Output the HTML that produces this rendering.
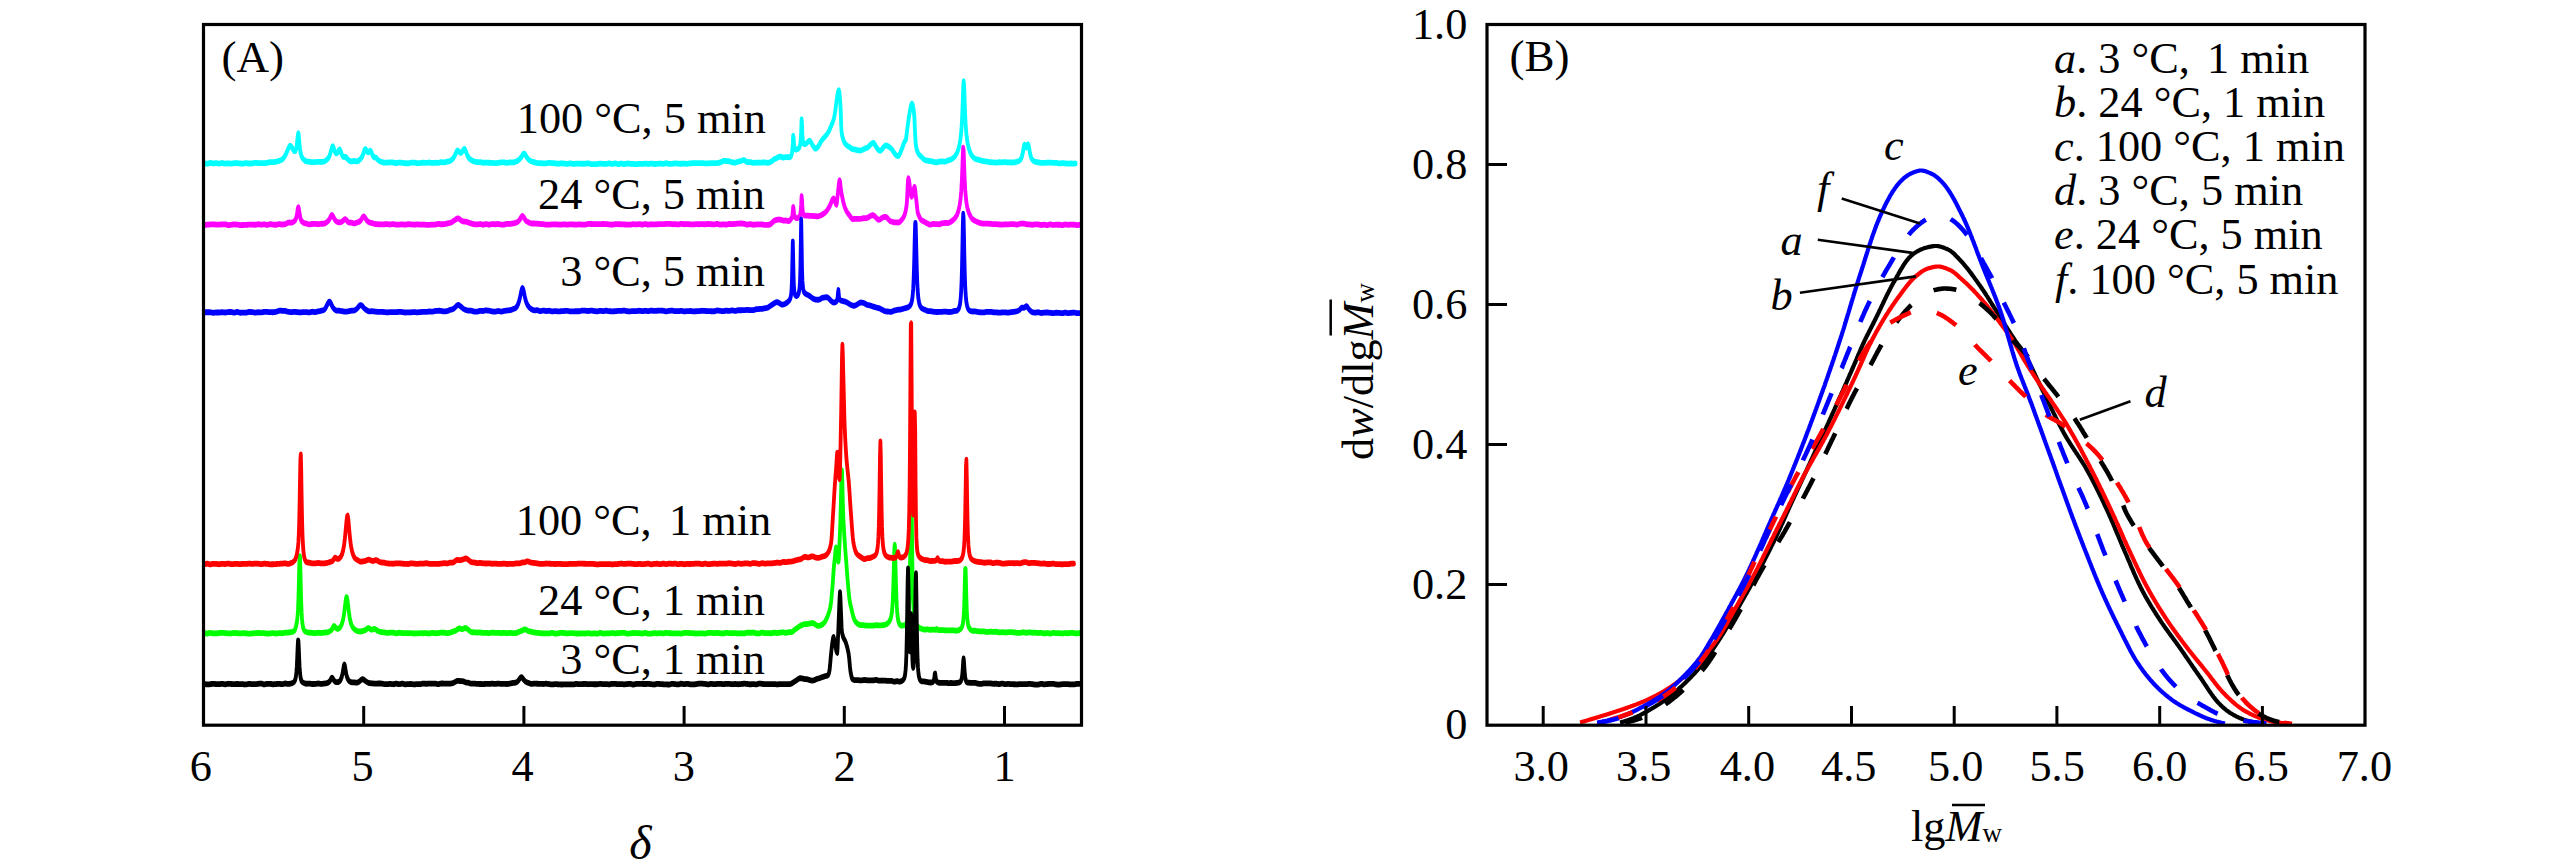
<!DOCTYPE html>
<html lang="en"><head><meta charset="utf-8"><title>Figure</title>
<style>html,body{margin:0;padding:0;background:#fff;}body{width:2567px;height:866px;overflow:hidden;}svg{display:block;}</style></head>
<body>
<svg width="2567" height="866" viewBox="0 0 2567 866" font-family='"Liberation Serif", "Times New Roman", serif' fill="#000">
<rect width="2567" height="866" fill="#fff"/>
<g id="panelA">
<g transform="scale(1,1.5263)">
<polyline points="205.2,107.08 205.6,107.13 206.0,107.18 206.4,107.22 206.8,107.25 207.2,107.26 207.6,107.24 208.0,107.18 208.4,107.09 208.8,106.99 209.2,106.90 209.6,106.82 210.0,106.78 210.4,106.77 210.8,106.80 211.2,106.84 211.6,106.90 212.0,106.95 212.4,107.00 212.8,107.04 213.2,107.05 213.6,107.05 214.0,107.03 214.4,107.01 214.8,106.98 215.2,106.96 215.6,106.94 216.0,106.93 216.4,106.93 216.8,106.95 217.2,106.98 217.6,107.03 218.0,107.07 218.4,107.11 218.8,107.14 219.2,107.15 219.6,107.14 220.0,107.09 220.4,107.03 220.8,106.96 221.2,106.89 221.6,106.84 222.0,106.81 222.4,106.81 222.8,106.84 223.2,106.90 223.6,106.97 224.0,107.05 224.4,107.11 224.8,107.16 225.2,107.18 225.6,107.17 226.0,107.15 226.4,107.11 226.8,107.08 227.2,107.04 227.6,107.01 228.0,107.00 228.4,107.00 228.8,107.01 229.2,107.04 229.6,107.08 230.0,107.12 230.4,107.15 230.8,107.17 231.2,107.18 231.6,107.17 232.0,107.14 232.4,107.10 232.8,107.06 233.2,107.01 233.6,106.97 234.0,106.95 234.4,106.94 234.8,106.93 235.2,106.92 235.6,106.92 236.0,106.91 236.4,106.91 236.8,106.91 237.2,106.90 237.6,106.91 238.0,106.93 238.4,106.96 238.8,106.99 239.2,107.02 239.6,107.05 240.0,107.08 240.4,107.10 240.8,107.12 241.2,107.13 241.6,107.15 242.0,107.16 242.4,107.18 242.8,107.18 243.2,107.18 243.6,107.16 244.0,107.12 244.4,107.06 244.8,106.99 245.2,106.92 245.6,106.87 246.0,106.83 246.4,106.83 246.8,106.86 247.2,106.91 247.6,106.97 248.0,107.03 248.4,107.09 248.8,107.12 249.2,107.14 249.6,107.13 250.0,107.13 250.4,107.13 250.8,107.12 251.2,107.11 251.6,107.10 252.0,107.10 252.4,107.08 252.8,107.04 253.2,106.97 253.6,106.89 254.0,106.80 254.4,106.73 254.8,106.67 255.2,106.65 255.6,106.65 256.0,106.67 256.4,106.71 256.8,106.75 257.2,106.78 257.6,106.82 258.0,106.84 258.4,106.85 258.8,106.85 259.2,106.85 259.6,106.85 260.0,106.85 260.4,106.85 260.8,106.85 261.2,106.85 261.6,106.85 262.0,106.86 262.4,106.88 262.8,106.89 263.2,106.91 263.6,106.91 264.0,106.91 264.4,106.90 264.8,106.88 265.2,106.86 265.6,106.82 266.0,106.79 266.4,106.75 266.8,106.71 267.2,106.66 267.6,106.61 268.0,106.55 268.4,106.48 268.8,106.41 269.2,106.35 269.6,106.29 270.0,106.25 270.4,106.23 270.8,106.22 271.2,106.23 271.6,106.24 272.0,106.25 272.4,106.26 272.8,106.26 273.2,106.23 273.6,106.20 274.0,106.16 274.4,106.12 274.8,106.08 275.2,106.03 275.6,105.98 276.0,105.93 276.4,105.87 276.8,105.81 277.2,105.75 277.6,105.68 278.0,105.60 278.4,105.52 278.8,105.43 279.2,105.34 279.6,105.24 280.0,105.16 280.4,105.08 280.8,104.99 281.2,104.88 281.6,104.75 282.0,104.59 282.4,104.38 282.8,104.12 283.2,103.83 283.6,103.49 284.0,103.11 284.4,102.71 284.8,102.28 285.2,101.83 285.6,101.35 286.0,100.83 286.4,100.27 286.8,99.66 287.2,99.03 287.6,98.38 288.0,97.73 288.4,97.10 288.8,96.54 289.2,96.08 289.6,95.75 290.0,95.56 290.4,95.53 290.8,95.66 291.2,95.92 291.6,96.29 292.0,96.73 292.4,97.21 292.8,97.69 293.2,98.13 293.6,98.52 294.0,98.82 294.4,99.01 294.8,99.07 295.2,98.95 295.6,98.58 296.0,97.89 296.4,96.77 296.8,95.07 297.2,92.74 297.6,90.01 298.0,87.78 298.4,87.36 298.8,89.16 299.2,92.14 299.6,95.09 300.0,97.50 300.4,99.32 300.8,100.67 301.2,101.67 301.6,102.42 302.0,102.99 302.4,103.44 302.8,103.81 303.2,104.11 303.6,104.39 304.0,104.65 304.4,104.90 304.8,105.13 305.2,105.33 305.6,105.50 306.0,105.64 306.4,105.73 306.8,105.79 307.2,105.83 307.6,105.84 308.0,105.85 308.4,105.86 308.8,105.88 309.2,105.91 309.6,105.95 310.0,106.00 310.4,106.05 310.8,106.09 311.2,106.14 311.6,106.17 312.0,106.20 312.4,106.22 312.8,106.23 313.2,106.23 313.6,106.23 314.0,106.22 314.4,106.21 314.8,106.19 315.2,106.18 315.6,106.16 316.0,106.14 316.4,106.11 316.8,106.08 317.2,106.06 317.6,106.03 318.0,106.01 318.4,106.00 318.8,106.01 319.2,106.04 319.6,106.06 320.0,106.09 320.4,106.12 320.8,106.13 321.2,106.11 321.6,106.09 322.0,106.06 322.4,106.02 322.8,105.98 323.2,105.93 323.6,105.87 324.0,105.80 324.4,105.71 324.8,105.59 325.2,105.43 325.6,105.25 326.0,105.04 326.4,104.82 326.8,104.59 327.2,104.35 327.6,104.09 328.0,103.80 328.4,103.46 328.8,103.04 329.2,102.54 329.6,101.94 330.0,101.20 330.4,100.34 330.8,99.36 331.2,98.32 331.6,97.29 332.0,96.44 332.4,95.91 332.8,95.81 333.2,96.14 333.6,96.79 334.0,97.59 334.4,98.40 334.8,99.12 335.2,99.70 335.6,100.12 336.0,100.39 336.4,100.50 336.8,100.45 337.2,100.25 337.6,99.91 338.0,99.46 338.4,98.93 338.8,98.42 339.2,98.04 339.6,97.91 340.0,98.12 340.4,98.64 340.8,99.35 341.2,100.14 341.6,100.89 342.0,101.53 342.4,102.04 342.8,102.42 343.2,102.68 343.6,102.82 344.0,102.87 344.4,102.83 344.8,102.76 345.2,102.73 345.6,102.79 346.0,102.97 346.4,103.25 346.8,103.58 347.2,103.91 347.6,104.21 348.0,104.48 348.4,104.72 348.8,104.93 349.2,105.13 349.6,105.30 350.0,105.44 350.4,105.57 350.8,105.66 351.2,105.73 351.6,105.76 352.0,105.74 352.4,105.70 352.8,105.65 353.2,105.58 353.6,105.53 354.0,105.49 354.4,105.48 354.8,105.51 355.2,105.56 355.6,105.62 356.0,105.67 356.4,105.71 356.8,105.71 357.2,105.67 357.6,105.57 358.0,105.45 358.4,105.30 358.8,105.13 359.2,104.93 359.6,104.72 360.0,104.48 360.4,104.23 360.8,103.94 361.2,103.60 361.6,103.21 362.0,102.74 362.4,102.18 362.8,101.54 363.2,100.80 363.6,99.99 364.0,99.18 364.4,98.45 364.8,97.91 365.2,97.66 365.6,97.70 366.0,98.01 366.4,98.46 366.8,98.95 367.2,99.37 367.6,99.68 368.0,99.83 368.4,99.82 368.8,99.65 369.2,99.37 369.6,99.04 370.0,98.79 370.4,98.73 370.8,98.96 371.2,99.44 371.6,100.08 372.0,100.75 372.4,101.38 372.8,101.94 373.2,102.40 373.6,102.74 374.0,102.98 374.4,103.11 374.8,103.17 375.2,103.18 375.6,103.22 376.0,103.35 376.4,103.57 376.8,103.86 377.2,104.17 377.6,104.47 378.0,104.74 378.4,104.99 378.8,105.21 379.2,105.39 379.6,105.54 380.0,105.67 380.4,105.78 380.8,105.88 381.2,105.96 381.6,106.05 382.0,106.14 382.4,106.23 382.8,106.32 383.2,106.41 383.6,106.48 384.0,106.53 384.4,106.55 384.8,106.58 385.2,106.59 385.6,106.60 386.0,106.61 386.4,106.61 386.8,106.61 387.2,106.61 387.6,106.59 388.0,106.56 388.4,106.51 388.8,106.46 389.2,106.42 389.6,106.39 390.0,106.38 390.4,106.39 390.8,106.40 391.2,106.42 391.6,106.43 392.0,106.44 392.4,106.46 392.8,106.47 393.2,106.48 393.6,106.51 394.0,106.56 394.4,106.62 394.8,106.68 395.2,106.74 395.6,106.79 396.0,106.82 396.4,106.83 396.8,106.80 397.2,106.75 397.6,106.68 398.0,106.61 398.4,106.54 398.8,106.50 399.2,106.48 399.6,106.49 400.0,106.51 400.4,106.53 400.8,106.56 401.2,106.59 401.6,106.62 402.0,106.65 402.4,106.68 402.8,106.72 403.2,106.77 403.6,106.81 404.0,106.86 404.4,106.90 404.8,106.93 405.2,106.95 405.6,106.95 406.0,106.96 406.4,106.96 406.8,106.97 407.2,106.97 407.6,106.98 408.0,106.98 408.4,106.97 408.8,106.94 409.2,106.89 409.6,106.83 410.0,106.76 410.4,106.69 410.8,106.64 411.2,106.61 411.6,106.59 412.0,106.57 412.4,106.56 412.8,106.54 413.2,106.53 413.6,106.53 414.0,106.52 414.4,106.53 414.8,106.56 415.2,106.62 415.6,106.70 416.0,106.77 416.4,106.84 416.8,106.89 417.2,106.91 417.6,106.91 418.0,106.90 418.4,106.89 418.8,106.87 419.2,106.86 419.6,106.84 420.0,106.82 420.4,106.80 420.8,106.77 421.2,106.74 421.6,106.70 422.0,106.66 422.4,106.63 422.8,106.60 423.2,106.59 423.6,106.60 424.0,106.62 424.4,106.64 424.8,106.67 425.2,106.69 425.6,106.71 426.0,106.73 426.4,106.72 426.8,106.70 427.2,106.66 427.6,106.61 428.0,106.56 428.4,106.51 428.8,106.48 429.2,106.47 429.6,106.48 430.0,106.52 430.4,106.58 430.8,106.64 431.2,106.70 431.6,106.75 432.0,106.78 432.4,106.78 432.8,106.76 433.2,106.74 433.6,106.72 434.0,106.69 434.4,106.67 434.8,106.65 435.2,106.64 435.6,106.64 436.0,106.64 436.4,106.65 436.8,106.66 437.2,106.67 437.6,106.68 438.0,106.68 438.4,106.66 438.8,106.62 439.2,106.56 439.6,106.48 440.0,106.40 440.4,106.32 440.8,106.26 441.2,106.23 441.6,106.23 442.0,106.25 442.4,106.28 442.8,106.32 443.2,106.36 443.6,106.38 444.0,106.38 444.4,106.35 444.8,106.31 445.2,106.25 445.6,106.18 446.0,106.11 446.4,106.04 446.8,105.97 447.2,105.91 447.6,105.86 448.0,105.80 448.4,105.74 448.8,105.68 449.2,105.60 449.6,105.51 450.0,105.41 450.4,105.28 450.8,105.13 451.2,104.95 451.6,104.75 452.0,104.52 452.4,104.26 452.8,103.97 453.2,103.64 453.6,103.28 454.0,102.87 454.4,102.42 454.8,101.91 455.2,101.35 455.6,100.74 456.0,100.13 456.4,99.54 456.8,99.06 457.2,98.73 457.6,98.60 458.0,98.65 458.4,98.85 458.8,99.15 459.2,99.47 459.6,99.77 460.0,100.00 460.4,100.14 460.8,100.17 461.2,100.10 461.6,99.90 462.0,99.61 462.4,99.22 462.8,98.77 463.2,98.30 463.6,97.89 464.0,97.62 464.4,97.56 464.8,97.75 465.2,98.18 465.6,98.77 466.0,99.47 466.4,100.19 466.8,100.89 467.2,101.54 467.6,102.13 468.0,102.64 468.4,103.08 468.8,103.46 469.2,103.78 469.6,104.06 470.0,104.29 470.4,104.50 470.8,104.68 471.2,104.84 471.6,105.00 472.0,105.15 472.4,105.29 472.8,105.42 473.2,105.55 473.6,105.66 474.0,105.75 474.4,105.83 474.8,105.90 475.2,105.97 475.6,106.03 476.0,106.08 476.4,106.13 476.8,106.17 477.2,106.21 477.6,106.23 478.0,106.24 478.4,106.23 478.8,106.21 479.2,106.20 479.6,106.19 480.0,106.19 480.4,106.21 480.8,106.26 481.2,106.32 481.6,106.39 482.0,106.47 482.4,106.54 482.8,106.59 483.2,106.62 483.6,106.62 484.0,106.62 484.4,106.61 484.8,106.60 485.2,106.59 485.6,106.58 486.0,106.58 486.4,106.59 486.8,106.60 487.2,106.60 487.6,106.61 488.0,106.62 488.4,106.62 488.8,106.63 489.2,106.64 489.6,106.64 490.0,106.65 490.4,106.66 490.8,106.67 491.2,106.68 491.6,106.70 492.0,106.71 492.4,106.72 492.8,106.75 493.2,106.78 493.6,106.82 494.0,106.85 494.4,106.88 494.8,106.90 495.2,106.91 495.6,106.91 496.0,106.89 496.4,106.87 496.8,106.84 497.2,106.80 497.6,106.77 498.0,106.74 498.4,106.70 498.8,106.66 499.2,106.61 499.6,106.56 500.0,106.51 500.4,106.47 500.8,106.44 501.2,106.43 501.6,106.43 502.0,106.43 502.4,106.43 502.8,106.43 503.2,106.43 503.6,106.43 504.0,106.43 504.4,106.43 504.8,106.46 505.2,106.50 505.6,106.55 506.0,106.60 506.4,106.64 506.8,106.66 507.2,106.67 507.6,106.65 508.0,106.61 508.4,106.56 508.8,106.51 509.2,106.45 509.6,106.40 510.0,106.37 510.4,106.35 510.8,106.35 511.2,106.36 511.6,106.38 512.0,106.40 512.4,106.41 512.8,106.40 513.2,106.37 513.6,106.33 514.0,106.27 514.4,106.19 514.8,106.11 515.2,106.02 515.6,105.92 516.0,105.82 516.4,105.72 516.8,105.60 517.2,105.46 517.6,105.32 518.0,105.15 518.4,104.97 518.8,104.76 519.2,104.53 519.6,104.27 520.0,104.00 520.4,103.70 520.8,103.37 521.2,103.00 521.6,102.59 522.0,102.16 522.4,101.73 522.8,101.31 523.2,100.96 523.6,100.72 524.0,100.62 524.4,100.69 524.8,100.90 525.2,101.24 525.6,101.66 526.0,102.12 526.4,102.57 526.8,103.01 527.2,103.42 527.6,103.79 528.0,104.11 528.4,104.40 528.8,104.65 529.2,104.87 529.6,105.06 530.0,105.23 530.4,105.38 530.8,105.52 531.2,105.63 531.6,105.74 532.0,105.84 532.4,105.93 532.8,106.01 533.2,106.09 533.6,106.16 534.0,106.23 534.4,106.29 534.8,106.37 535.2,106.46 535.6,106.55 536.0,106.63 536.4,106.70 536.8,106.76 537.2,106.80 537.6,106.83 538.0,106.84 538.4,106.86 538.8,106.87 539.2,106.88 539.6,106.89 540.0,106.90 540.4,106.91 540.8,106.93 541.2,106.94 541.6,106.96 542.0,106.97 542.4,106.99 542.8,107.00 543.2,107.01 543.6,107.02 544.0,107.02 544.4,107.02 544.8,107.01 545.2,107.01 545.6,107.00 546.0,106.98 546.4,106.97 546.8,106.93 547.2,106.88 547.6,106.83 548.0,106.77 548.4,106.73 548.8,106.70 549.2,106.69 549.6,106.70 550.0,106.72 550.4,106.75 550.8,106.78 551.2,106.81 551.6,106.84 552.0,106.87 552.4,106.90 552.8,106.92 553.2,106.94 553.6,106.96 554.0,106.97 554.4,106.99 554.8,107.02 555.2,107.04 555.6,107.07 556.0,107.11 556.4,107.15 556.8,107.19 557.2,107.23 557.6,107.27 558.0,107.29 558.4,107.29 558.8,107.27 559.2,107.22 559.6,107.17 560.0,107.12 560.4,107.07 560.8,107.03 561.2,107.02 561.6,107.03 562.0,107.04 562.4,107.06 562.8,107.08 563.2,107.10 563.6,107.12 564.0,107.14 564.4,107.16 564.8,107.19 565.2,107.22 565.6,107.25 566.0,107.29 566.4,107.31 566.8,107.33 567.2,107.34 567.6,107.33 568.0,107.30 568.4,107.25 568.8,107.20 569.2,107.15 569.6,107.11 570.0,107.08 570.4,107.09 570.8,107.11 571.2,107.15 571.6,107.19 572.0,107.24 572.4,107.28 572.8,107.31 573.2,107.33 573.6,107.32 574.0,107.32 574.4,107.31 574.8,107.30 575.2,107.28 575.6,107.27 576.0,107.26 576.4,107.26 576.8,107.25 577.2,107.25 577.6,107.24 578.0,107.24 578.4,107.24 578.8,107.24 579.2,107.24 579.6,107.24 580.0,107.25 580.4,107.26 580.8,107.28 581.2,107.29 581.6,107.30 582.0,107.31 582.4,107.31 582.8,107.31 583.2,107.30 583.6,107.29 584.0,107.28 584.4,107.27 584.8,107.25 585.2,107.24 585.6,107.22 586.0,107.19 586.4,107.16 586.8,107.12 587.2,107.09 587.6,107.06 588.0,107.05 588.4,107.05 588.8,107.09 589.2,107.16 589.6,107.24 590.0,107.32 590.4,107.40 590.8,107.46 591.2,107.49 591.6,107.50 592.0,107.51 592.4,107.51 592.8,107.52 593.2,107.53 593.6,107.53 594.0,107.53 594.4,107.53 594.8,107.53 595.2,107.52 595.6,107.52 596.0,107.51 596.4,107.49 596.8,107.48 597.2,107.46 597.6,107.44 598.0,107.40 598.4,107.35 598.8,107.31 599.2,107.26 599.6,107.23 600.0,107.20 600.4,107.20 600.8,107.21 601.2,107.23 601.6,107.26 602.0,107.29 602.4,107.32 602.8,107.34 603.2,107.36 603.6,107.37 604.0,107.39 604.4,107.40 604.8,107.41 605.2,107.42 605.6,107.43 606.0,107.43 606.4,107.43 606.8,107.39 607.2,107.33 607.6,107.26 608.0,107.18 608.4,107.11 608.8,107.06 609.2,107.04 609.6,107.06 610.0,107.11 610.4,107.18 610.8,107.26 611.2,107.34 611.6,107.40 612.0,107.44 612.4,107.44 612.8,107.40 613.2,107.34 613.6,107.27 614.0,107.19 614.4,107.12 614.8,107.07 615.2,107.05 615.6,107.08 616.0,107.14 616.4,107.22 616.8,107.31 617.2,107.40 617.6,107.47 618.0,107.52 618.4,107.52 618.8,107.48 619.2,107.42 619.6,107.35 620.0,107.27 620.4,107.20 620.8,107.16 621.2,107.14 621.6,107.16 622.0,107.21 622.4,107.28 622.8,107.35 623.2,107.43 623.6,107.49 624.0,107.53 624.4,107.53 624.8,107.49 625.2,107.43 625.6,107.35 626.0,107.27 626.4,107.20 626.8,107.15 627.2,107.13 627.6,107.13 628.0,107.15 628.4,107.17 628.8,107.19 629.2,107.22 629.6,107.25 630.0,107.28 630.4,107.30 630.8,107.32 631.2,107.35 631.6,107.37 632.0,107.39 632.4,107.41 632.8,107.43 633.2,107.45 633.6,107.46 634.0,107.48 634.4,107.49 634.8,107.51 635.2,107.52 635.6,107.53 636.0,107.53 636.4,107.53 636.8,107.51 637.2,107.49 637.6,107.46 638.0,107.43 638.4,107.40 638.8,107.38 639.2,107.37 639.6,107.37 640.0,107.38 640.4,107.39 640.8,107.41 641.2,107.42 641.6,107.43 642.0,107.44 642.4,107.43 642.8,107.41 643.2,107.37 643.6,107.32 644.0,107.28 644.4,107.23 644.8,107.20 645.2,107.19 645.6,107.20 646.0,107.22 646.4,107.25 646.8,107.29 647.2,107.33 647.6,107.36 648.0,107.38 648.4,107.38 648.8,107.36 649.2,107.32 649.6,107.29 650.0,107.24 650.4,107.21 650.8,107.18 651.2,107.17 651.6,107.19 652.0,107.22 652.4,107.27 652.8,107.33 653.2,107.39 653.6,107.43 654.0,107.46 654.4,107.46 654.8,107.46 655.2,107.45 655.6,107.44 656.0,107.42 656.4,107.41 656.8,107.39 657.2,107.37 657.6,107.35 658.0,107.31 658.4,107.27 658.8,107.23 659.2,107.20 659.6,107.17 660.0,107.15 660.4,107.15 660.8,107.17 661.2,107.20 661.6,107.24 662.0,107.29 662.4,107.33 662.8,107.35 663.2,107.36 663.6,107.34 664.0,107.29 664.4,107.22 664.8,107.14 665.2,107.06 665.6,107.00 666.0,106.96 666.4,106.96 666.8,107.01 667.2,107.08 667.6,107.17 668.0,107.26 668.4,107.34 668.8,107.40 669.2,107.42 669.6,107.42 670.0,107.41 670.4,107.39 670.8,107.37 671.2,107.34 671.6,107.32 672.0,107.30 672.4,107.27 672.8,107.24 673.2,107.21 673.6,107.17 674.0,107.13 674.4,107.10 674.8,107.08 675.2,107.07 675.6,107.08 676.0,107.10 676.4,107.12 676.8,107.15 677.2,107.18 677.6,107.21 678.0,107.23 678.4,107.25 678.8,107.26 679.2,107.27 679.6,107.28 680.0,107.29 680.4,107.30 680.8,107.30 681.2,107.30 681.6,107.30 682.0,107.28 682.4,107.27 682.8,107.25 683.2,107.23 683.6,107.21 684.0,107.20 684.4,107.20 684.8,107.21 685.2,107.23 685.6,107.25 686.0,107.28 686.4,107.30 686.8,107.31 687.2,107.32 687.6,107.30 688.0,107.27 688.4,107.22 688.8,107.17 689.2,107.12 689.6,107.07 690.0,107.04 690.4,107.02 690.8,107.00 691.2,106.99 691.6,106.97 692.0,106.96 692.4,106.95 692.8,106.94 693.2,106.94 693.6,106.93 694.0,106.93 694.4,106.93 694.8,106.93 695.2,106.93 695.6,106.93 696.0,106.93 696.4,106.92 696.8,106.92 697.2,106.90 697.6,106.89 698.0,106.87 698.4,106.86 698.8,106.85 699.2,106.84 699.6,106.84 700.0,106.84 700.4,106.85 700.8,106.86 701.2,106.87 701.6,106.89 702.0,106.90 702.4,106.91 702.8,106.93 703.2,106.94 703.6,106.96 704.0,106.98 704.4,106.99 704.8,107.01 705.2,107.02 705.6,107.02 706.0,107.03 706.4,107.03 706.8,107.04 707.2,107.04 707.6,107.04 708.0,107.04 708.4,107.03 708.8,107.01 709.2,106.99 709.6,106.95 710.0,106.92 710.4,106.89 710.8,106.87 711.2,106.85 711.6,106.85 712.0,106.84 712.4,106.85 712.8,106.85 713.2,106.85 713.6,106.86 714.0,106.86 714.4,106.86 714.8,106.86 715.2,106.87 715.6,106.87 716.0,106.87 716.4,106.86 716.8,106.85 717.2,106.83 717.6,106.81 718.0,106.76 718.4,106.72 718.8,106.66 719.2,106.59 719.6,106.52 720.0,106.44 720.4,106.36 720.8,106.26 721.2,106.15 721.6,106.02 722.0,105.89 722.4,105.76 722.8,105.65 723.2,105.54 723.6,105.47 724.0,105.42 724.4,105.40 724.8,105.40 725.2,105.42 725.6,105.45 726.0,105.49 726.4,105.53 726.8,105.55 727.2,105.57 727.6,105.58 728.0,105.60 728.4,105.61 728.8,105.64 729.2,105.69 729.6,105.76 730.0,105.85 730.4,105.95 730.8,106.05 731.2,106.15 731.6,106.23 732.0,106.30 732.4,106.35 732.8,106.40 733.2,106.43 733.6,106.47 734.0,106.49 734.4,106.51 734.8,106.51 735.2,106.50 735.6,106.46 736.0,106.40 736.4,106.32 736.8,106.23 737.2,106.14 737.6,106.04 738.0,105.96 738.4,105.89 738.8,105.84 739.2,105.80 739.6,105.75 740.0,105.70 740.4,105.64 740.8,105.57 741.2,105.48 741.6,105.37 742.0,105.23 742.4,105.10 742.8,104.99 743.2,104.91 743.6,104.88 744.0,104.91 744.4,105.01 744.8,105.16 745.2,105.35 745.6,105.56 746.0,105.77 746.4,105.96 746.8,106.12 747.2,106.22 747.6,106.28 748.0,106.29 748.4,106.27 748.8,106.23 749.2,106.19 749.6,106.17 750.0,106.16 750.4,106.20 750.8,106.26 751.2,106.34 751.6,106.44 752.0,106.53 752.4,106.62 752.8,106.68 753.2,106.71 753.6,106.71 754.0,106.69 754.4,106.65 754.8,106.60 755.2,106.55 755.6,106.52 756.0,106.50 756.4,106.50 756.8,106.52 757.2,106.53 757.6,106.55 758.0,106.56 758.4,106.58 758.8,106.59 759.2,106.60 759.6,106.60 760.0,106.58 760.4,106.57 760.8,106.54 761.2,106.52 761.6,106.50 762.0,106.49 762.4,106.48 762.8,106.47 763.2,106.46 763.6,106.46 764.0,106.45 764.4,106.45 764.8,106.44 765.2,106.44 765.6,106.47 766.0,106.52 766.4,106.58 766.8,106.63 767.2,106.67 767.6,106.69 768.0,106.67 768.4,106.62 768.8,106.55 769.2,106.49 769.6,106.40 770.0,106.30 770.4,106.18 770.8,106.05 771.2,105.90 771.6,105.72 772.0,105.52 772.4,105.29 772.8,105.05 773.2,104.81 773.6,104.59 774.0,104.40 774.4,104.24 774.8,104.12 775.2,104.02 775.6,103.92 776.0,103.81 776.4,103.69 776.8,103.55 777.2,103.40 777.6,103.24 778.0,103.08 778.4,102.93 778.8,102.80 779.2,102.71 779.6,102.67 780.0,102.65 780.4,102.66 780.8,102.71 781.2,102.79 781.6,102.88 782.0,102.98 782.4,103.07 782.8,103.14 783.2,103.19 783.6,103.20 784.0,103.17 784.4,103.12 784.8,103.06 785.2,103.00 785.6,102.94 786.0,102.91 786.4,102.90 786.8,102.92 787.2,102.94 787.6,102.97 788.0,103.00 788.4,103.02 788.8,103.03 789.2,103.02 789.6,102.99 790.0,102.94 790.4,102.80 790.8,102.49 791.2,102.00 791.6,101.25 792.0,100.07 792.4,98.01 792.8,94.05 793.2,88.84 793.6,90.50 794.0,94.71 794.4,96.71 794.8,97.52 795.2,97.87 795.6,98.00 796.0,98.03 796.4,98.00 796.8,97.93 797.2,97.81 797.6,97.67 798.0,97.50 798.4,97.29 798.8,97.02 799.2,96.65 799.6,96.13 800.0,95.32 800.4,93.93 800.8,91.24 801.2,85.65 801.6,78.14 802.0,81.26 802.4,88.27 802.8,91.79 803.2,93.33 803.6,94.03 804.0,94.34 804.4,94.45 804.8,94.46 805.2,94.41 805.6,94.29 806.0,94.10 806.4,93.89 806.8,93.65 807.2,93.40 807.6,93.14 808.0,92.88 808.4,92.64 808.8,92.43 809.2,92.29 809.6,92.24 810.0,92.34 810.4,92.61 810.8,93.01 811.2,93.49 811.6,94.01 812.0,94.52 812.4,94.97 812.8,95.37 813.2,95.78 813.6,96.19 814.0,96.57 814.4,96.91 814.8,97.17 815.2,97.33 815.6,97.37 816.0,97.31 816.4,97.17 816.8,96.98 817.2,96.74 817.6,96.45 818.0,96.11 818.4,95.73 818.8,95.30 819.2,94.85 819.6,94.37 820.0,93.88 820.4,93.39 820.8,92.93 821.2,92.50 821.6,92.12 822.0,91.77 822.4,91.45 822.8,91.14 823.2,90.84 823.6,90.55 824.0,90.26 824.4,89.96 824.8,89.67 825.2,89.36 825.6,89.06 826.0,88.74 826.4,88.42 826.8,88.08 827.2,87.72 827.6,87.33 828.0,86.91 828.4,86.47 828.8,85.98 829.2,85.45 829.6,84.88 830.0,84.28 830.4,83.67 830.8,83.05 831.2,82.43 831.6,81.82 832.0,81.20 832.4,80.56 832.8,79.88 833.2,79.15 833.6,78.34 834.0,77.32 834.4,75.99 834.8,74.45 835.2,72.81 835.6,71.01 836.0,68.92 836.4,66.77 836.8,64.85 837.2,63.31 837.6,61.78 838.0,60.41 838.4,59.44 838.8,59.10 839.2,59.89 839.6,61.95 840.0,64.95 840.4,68.59 840.8,73.71 841.2,82.54 841.6,86.38 842.0,88.21 842.4,89.49 842.8,90.45 843.2,91.29 843.6,92.04 844.0,92.70 844.4,93.26 844.8,93.72 845.2,94.08 845.6,94.41 846.0,94.71 846.4,94.98 846.8,95.21 847.2,95.42 847.6,95.61 848.0,95.78 848.4,95.94 848.8,96.10 849.2,96.26 849.6,96.43 850.0,96.62 850.4,96.82 850.8,97.02 851.2,97.21 851.6,97.38 852.0,97.51 852.4,97.62 852.8,97.70 853.2,97.76 853.6,97.80 854.0,97.84 854.4,97.89 854.8,97.94 855.2,98.01 855.6,98.09 856.0,98.17 856.4,98.25 856.8,98.32 857.2,98.39 857.6,98.44 858.0,98.49 858.4,98.53 858.8,98.57 859.2,98.60 859.6,98.62 860.0,98.62 860.4,98.60 860.8,98.57 861.2,98.51 861.6,98.43 862.0,98.31 862.4,98.18 862.8,98.03 863.2,97.88 863.6,97.72 864.0,97.58 864.4,97.45 864.8,97.35 865.2,97.25 865.6,97.17 866.0,97.08 866.4,96.99 866.8,96.88 867.2,96.75 867.6,96.60 868.0,96.43 868.4,96.23 868.8,95.98 869.2,95.70 869.6,95.40 870.0,95.11 870.4,94.82 870.8,94.56 871.2,94.33 871.6,94.13 872.0,93.97 872.4,93.83 872.8,93.74 873.2,93.68 873.6,93.69 874.0,93.86 874.4,94.16 874.8,94.56 875.2,95.03 875.6,95.53 876.0,96.03 876.4,96.50 876.8,96.91 877.2,97.22 877.6,97.54 878.0,97.86 878.4,98.16 878.8,98.42 879.2,98.63 879.6,98.75 880.0,98.79 880.4,98.73 880.8,98.59 881.2,98.39 881.6,98.13 882.0,97.84 882.4,97.52 882.8,97.18 883.2,96.83 883.6,96.48 884.0,96.15 884.4,95.86 884.8,95.61 885.2,95.43 885.6,95.32 886.0,95.29 886.4,95.32 886.8,95.38 887.2,95.48 887.6,95.60 888.0,95.75 888.4,95.91 888.8,96.10 889.2,96.30 889.6,96.51 890.0,96.73 890.4,96.93 890.8,97.14 891.2,97.37 891.6,97.65 892.0,97.97 892.4,98.33 892.8,98.71 893.2,99.11 893.6,99.52 894.0,99.94 894.4,100.35 894.8,100.71 895.2,101.04 895.6,101.33 896.0,101.58 896.4,101.80 896.8,101.98 897.2,102.14 897.6,102.25 898.0,102.29 898.4,102.20 898.8,101.97 899.2,101.60 899.6,101.13 900.0,100.57 900.4,99.96 900.8,99.31 901.2,98.64 901.6,97.99 902.0,97.36 902.4,96.69 902.8,95.92 903.2,95.09 903.6,94.29 904.0,93.56 904.4,92.97 904.8,92.56 905.2,92.28 905.6,91.92 906.0,91.16 906.4,89.44 906.8,87.19 907.2,85.04 907.6,83.04 908.0,80.97 908.4,78.93 908.8,77.03 909.2,75.38 909.6,73.95 910.0,72.49 910.4,71.08 910.8,69.82 911.2,68.80 911.6,68.12 912.0,67.88 912.4,68.17 912.8,68.97 913.2,70.24 913.6,71.93 914.0,73.97 914.4,77.06 914.8,83.33 915.2,88.71 915.6,93.34 916.0,95.58 916.4,96.97 916.8,98.02 917.2,98.84 917.6,99.53 918.0,100.14 918.4,100.66 918.8,101.09 919.2,101.43 919.6,101.72 920.0,101.95 920.4,102.16 920.8,102.37 921.2,102.61 921.6,102.87 922.0,103.15 922.4,103.44 922.8,103.72 923.2,104.00 923.6,104.25 924.0,104.47 924.4,104.64 924.8,104.78 925.2,104.89 925.6,104.98 926.0,105.05 926.4,105.11 926.8,105.16 927.2,105.22 927.6,105.27 928.0,105.31 928.4,105.35 928.8,105.38 929.2,105.42 929.6,105.46 930.0,105.51 930.4,105.56 930.8,105.62 931.2,105.67 931.6,105.73 932.0,105.78 932.4,105.83 932.8,105.88 933.2,105.93 933.6,105.99 934.0,106.06 934.4,106.14 934.8,106.23 935.2,106.30 935.6,106.36 936.0,106.39 936.4,106.38 936.8,106.34 937.2,106.26 937.6,106.18 938.0,106.09 938.4,106.01 938.8,105.94 939.2,105.90 939.6,105.88 940.0,105.86 940.4,105.84 940.8,105.82 941.2,105.80 941.6,105.78 942.0,105.76 942.4,105.74 942.8,105.75 943.2,105.78 943.6,105.82 944.0,105.86 944.4,105.89 944.8,105.89 945.2,105.86 945.6,105.80 946.0,105.70 946.4,105.59 946.8,105.47 947.2,105.34 947.6,105.22 948.0,105.12 948.4,105.04 948.8,104.97 949.2,104.90 949.6,104.82 950.0,104.74 950.4,104.65 950.8,104.54 951.2,104.42 951.6,104.27 952.0,104.11 952.4,103.93 952.8,103.73 953.2,103.52 953.6,103.29 954.0,103.03 954.4,102.76 954.8,102.45 955.2,102.11 955.6,101.74 956.0,101.33 956.4,100.87 956.8,100.35 957.2,99.78 957.6,99.15 958.0,98.45 958.4,97.67 958.8,96.77 959.2,95.74 959.6,94.52 960.0,93.08 960.4,91.33 960.8,89.19 961.2,86.50 961.6,83.08 962.0,78.63 962.4,72.79 962.8,65.48 963.2,57.83 963.6,53.19 964.0,54.89 964.4,61.59 964.8,69.34 965.2,75.91 965.6,80.95 966.0,84.77 966.4,87.72 966.8,90.06 967.2,91.98 967.6,93.57 968.0,94.93 968.4,96.09 968.8,97.11 969.2,97.99 969.6,98.78 970.0,99.48 970.4,100.11 970.8,100.67 971.2,101.17 971.6,101.62 972.0,102.02 972.4,102.37 972.8,102.69 973.2,102.98 973.6,103.24 974.0,103.47 974.4,103.69 974.8,103.89 975.2,104.06 975.6,104.21 976.0,104.31 976.4,104.37 976.8,104.42 977.2,104.46 977.6,104.51 978.0,104.57 978.4,104.66 978.8,104.75 979.2,104.84 979.6,104.92 980.0,105.00 980.4,105.08 980.8,105.15 981.2,105.21 981.6,105.28 982.0,105.34 982.4,105.40 982.8,105.45 983.2,105.51 983.6,105.56 984.0,105.60 984.4,105.65 984.8,105.69 985.2,105.73 985.6,105.76 986.0,105.80 986.4,105.83 986.8,105.86 987.2,105.90 987.6,105.94 988.0,106.00 988.4,106.06 988.8,106.12 989.2,106.19 989.6,106.24 990.0,106.27 990.4,106.29 990.8,106.31 991.2,106.32 991.6,106.33 992.0,106.34 992.4,106.35 992.8,106.36 993.2,106.37 993.6,106.39 994.0,106.41 994.4,106.44 994.8,106.47 995.2,106.50 995.6,106.52 996.0,106.54 996.4,106.54 996.8,106.52 997.2,106.48 997.6,106.44 998.0,106.38 998.4,106.34 998.8,106.31 999.2,106.30 999.6,106.30 1000.0,106.31 1000.4,106.31 1000.8,106.32 1001.2,106.32 1001.6,106.32 1002.0,106.33 1002.4,106.33 1002.8,106.31 1003.2,106.29 1003.6,106.26 1004.0,106.23 1004.4,106.20 1004.8,106.18 1005.2,106.16 1005.6,106.18 1006.0,106.22 1006.4,106.29 1006.8,106.36 1007.2,106.42 1007.6,106.46 1008.0,106.47 1008.4,106.44 1008.8,106.42 1009.2,106.42 1009.6,106.43 1010.0,106.45 1010.4,106.46 1010.8,106.47 1011.2,106.47 1011.6,106.47 1012.0,106.46 1012.4,106.46 1012.8,106.45 1013.2,106.43 1013.6,106.42 1014.0,106.39 1014.4,106.36 1014.8,106.32 1015.2,106.26 1015.6,106.19 1016.0,106.12 1016.4,106.04 1016.8,105.96 1017.2,105.88 1017.6,105.79 1018.0,105.70 1018.4,105.60 1018.8,105.47 1019.2,105.32 1019.6,105.13 1020.0,104.89 1020.4,104.59 1020.8,104.20 1021.2,103.70 1021.6,103.08 1022.0,102.30 1022.4,101.32 1022.8,100.12 1023.2,98.70 1023.6,97.16 1024.0,95.76 1024.4,94.87 1024.8,94.73 1025.2,95.23 1025.6,95.95 1026.0,96.50 1026.4,96.65 1026.8,96.36 1027.2,95.70 1027.6,94.96 1028.0,94.56 1028.4,94.87 1028.8,95.92 1029.2,97.41 1029.6,98.97 1030.0,100.37 1030.4,101.54 1030.8,102.49 1031.2,103.25 1031.6,103.85 1032.0,104.32 1032.4,104.69 1032.8,104.98 1033.2,105.23 1033.6,105.43 1034.0,105.60 1034.4,105.74 1034.8,105.86 1035.2,105.97 1035.6,106.05 1036.0,106.13 1036.4,106.18 1036.8,106.23 1037.2,106.27 1037.6,106.31 1038.0,106.34 1038.4,106.39 1038.8,106.43 1039.2,106.48 1039.6,106.54 1040.0,106.59 1040.4,106.64 1040.8,106.68 1041.2,106.70 1041.6,106.72 1042.0,106.73 1042.4,106.74 1042.8,106.74 1043.2,106.74 1043.6,106.74 1044.0,106.74 1044.4,106.73 1044.8,106.72 1045.2,106.69 1045.6,106.67 1046.0,106.64 1046.4,106.62 1046.8,106.59 1047.2,106.58 1047.6,106.57 1048.0,106.55 1048.4,106.54 1048.8,106.53 1049.2,106.52 1049.6,106.52 1050.0,106.52 1050.4,106.53 1050.8,106.55 1051.2,106.58 1051.6,106.61 1052.0,106.65 1052.4,106.68 1052.8,106.70 1053.2,106.72 1053.6,106.72 1054.0,106.71 1054.4,106.71 1054.8,106.70 1055.2,106.69 1055.6,106.68 1056.0,106.68 1056.4,106.69 1056.8,106.72 1057.2,106.79 1057.6,106.87 1058.0,106.95 1058.4,107.02 1058.8,107.07 1059.2,107.10 1059.6,107.09 1060.0,107.07 1060.4,107.03 1060.8,107.00 1061.2,106.96 1061.6,106.93 1062.0,106.92 1062.4,106.92 1062.8,106.93 1063.2,106.94 1063.6,106.96 1064.0,106.98 1064.4,107.01 1064.8,107.03 1065.2,107.05 1065.6,107.07 1066.0,107.09 1066.4,107.11 1066.8,107.13 1067.2,107.15 1067.6,107.16 1068.0,107.17 1068.4,107.17 1068.8,107.17 1069.2,107.16 1069.6,107.15 1070.0,107.14 1070.4,107.13 1070.8,107.12 1071.2,107.12 1071.6,107.12 1072.0,107.13 1072.4,107.14 1072.8,107.15 1073.2,107.16 1073.6,107.17 1074.0,107.18 1074.4,107.18 1074.8,107.16 1075.2,107.14 1075.6,107.11" fill="none" stroke="#00ffff" stroke-width="3.8" stroke-linejoin="round" stroke-linecap="round"/>
<polyline points="205.2,147.34 205.6,147.32 206.0,147.29 206.4,147.26 206.8,147.23 207.2,147.21 207.6,147.19 208.0,147.17 208.4,147.16 208.8,147.14 209.2,147.12 209.6,147.11 210.0,147.09 210.4,147.07 210.8,147.05 211.2,147.03 211.6,147.01 212.0,146.99 212.4,146.97 212.8,146.96 213.2,146.95 213.6,146.96 214.0,146.99 214.4,147.02 214.8,147.05 215.2,147.08 215.6,147.11 216.0,147.13 216.4,147.14 216.8,147.14 217.2,147.14 217.6,147.14 218.0,147.15 218.4,147.15 218.8,147.15 219.2,147.15 219.6,147.14 220.0,147.11 220.4,147.08 220.8,147.04 221.2,147.00 221.6,146.97 222.0,146.95 222.4,146.95 222.8,146.95 223.2,146.95 223.6,146.95 224.0,146.95 224.4,146.95 224.8,146.95 225.2,146.95 225.6,146.97 226.0,147.04 226.4,147.13 226.8,147.24 227.2,147.33 227.6,147.42 228.0,147.46 228.4,147.47 228.8,147.46 229.2,147.43 229.6,147.41 230.0,147.37 230.4,147.34 230.8,147.31 231.2,147.28 231.6,147.24 232.0,147.21 232.4,147.17 232.8,147.13 233.2,147.09 233.6,147.06 234.0,147.05 234.4,147.05 234.8,147.05 235.2,147.06 235.6,147.08 236.0,147.09 236.4,147.11 236.8,147.13 237.2,147.15 237.6,147.18 238.0,147.23 238.4,147.28 238.8,147.33 239.2,147.38 239.6,147.42 240.0,147.45 240.4,147.45 240.8,147.44 241.2,147.44 241.6,147.43 242.0,147.42 242.4,147.42 242.8,147.41 243.2,147.40 243.6,147.40 244.0,147.40 244.4,147.39 244.8,147.39 245.2,147.39 245.6,147.38 246.0,147.37 246.4,147.36 246.8,147.34 247.2,147.30 247.6,147.25 248.0,147.20 248.4,147.16 248.8,147.13 249.2,147.12 249.6,147.12 250.0,147.12 250.4,147.13 250.8,147.14 251.2,147.15 251.6,147.16 252.0,147.17 252.4,147.18 252.8,147.19 253.2,147.21 253.6,147.22 254.0,147.24 254.4,147.25 254.8,147.26 255.2,147.27 255.6,147.25 256.0,147.21 256.4,147.15 256.8,147.08 257.2,147.01 257.6,146.96 258.0,146.93 258.4,146.92 258.8,146.95 259.2,146.99 259.6,147.04 260.0,147.09 260.4,147.14 260.8,147.17 261.2,147.19 261.6,147.18 262.0,147.16 262.4,147.13 262.8,147.10 263.2,147.06 263.6,147.04 264.0,147.02 264.4,147.02 264.8,147.05 265.2,147.10 265.6,147.17 266.0,147.23 266.4,147.29 266.8,147.33 267.2,147.34 267.6,147.32 268.0,147.26 268.4,147.18 268.8,147.09 269.2,147.00 269.6,146.93 270.0,146.88 270.4,146.88 270.8,146.90 271.2,146.95 271.6,147.00 272.0,147.06 272.4,147.12 272.8,147.16 273.2,147.19 273.6,147.21 274.0,147.22 274.4,147.24 274.8,147.25 275.2,147.26 275.6,147.26 276.0,147.26 276.4,147.25 276.8,147.21 277.2,147.15 277.6,147.07 278.0,146.99 278.4,146.92 278.8,146.87 279.2,146.84 279.6,146.85 280.0,146.88 280.4,146.93 280.8,146.99 281.2,147.05 281.6,147.08 282.0,147.10 282.4,147.08 282.8,147.06 283.2,147.03 283.6,147.00 284.0,146.96 284.4,146.93 284.8,146.88 285.2,146.83 285.6,146.76 286.0,146.64 286.4,146.50 286.8,146.34 287.2,146.18 287.6,146.03 288.0,145.91 288.4,145.83 288.8,145.79 289.2,145.78 289.6,145.79 290.0,145.82 290.4,145.86 290.8,145.88 291.2,145.89 291.6,145.86 292.0,145.79 292.4,145.69 292.8,145.56 293.2,145.42 293.6,145.25 294.0,145.06 294.4,144.85 294.8,144.59 295.2,144.25 295.6,143.77 296.0,143.11 296.4,142.19 296.8,140.93 297.2,139.32 297.6,137.53 298.0,136.12 298.4,135.80 298.8,136.76 299.2,138.46 299.6,140.22 300.0,141.71 300.4,142.85 300.8,143.70 301.2,144.33 301.6,144.79 302.0,145.14 302.4,145.41 302.8,145.62 303.2,145.79 303.6,145.94 304.0,146.06 304.4,146.17 304.8,146.26 305.2,146.34 305.6,146.41 306.0,146.47 306.4,146.53 306.8,146.60 307.2,146.68 307.6,146.75 308.0,146.83 308.4,146.89 308.8,146.94 309.2,146.96 309.6,146.96 310.0,146.95 310.4,146.92 310.8,146.88 311.2,146.83 311.6,146.79 312.0,146.76 312.4,146.75 312.8,146.73 313.2,146.72 313.6,146.70 314.0,146.69 314.4,146.68 314.8,146.67 315.2,146.66 315.6,146.67 316.0,146.70 316.4,146.75 316.8,146.80 317.2,146.85 317.6,146.89 318.0,146.91 318.4,146.90 318.8,146.87 319.2,146.84 319.6,146.79 320.0,146.75 320.4,146.70 320.8,146.66 321.2,146.63 321.6,146.61 322.0,146.60 322.4,146.60 322.8,146.60 323.2,146.59 323.6,146.57 324.0,146.53 324.4,146.46 324.8,146.36 325.2,146.23 325.6,146.07 326.0,145.89 326.4,145.71 326.8,145.51 327.2,145.31 327.6,145.10 328.0,144.85 328.4,144.55 328.8,144.21 329.2,143.80 329.6,143.33 330.0,142.81 330.4,142.25 330.8,141.71 331.2,141.26 331.6,140.96 332.0,140.88 332.4,141.03 332.8,141.40 333.2,141.89 333.6,142.43 334.0,142.96 334.4,143.44 334.8,143.87 335.2,144.23 335.6,144.53 336.0,144.79 336.4,145.01 336.8,145.20 337.2,145.35 337.6,145.46 338.0,145.56 338.4,145.62 338.8,145.67 339.2,145.70 339.6,145.70 340.0,145.67 340.4,145.62 340.8,145.54 341.2,145.44 341.6,145.31 342.0,145.16 342.4,144.98 342.8,144.77 343.2,144.54 343.6,144.29 344.0,144.05 344.4,143.83 344.8,143.67 345.2,143.60 345.6,143.66 346.0,143.85 346.4,144.13 346.8,144.47 347.2,144.81 347.6,145.13 348.0,145.40 348.4,145.59 348.8,145.71 349.2,145.78 349.6,145.81 350.0,145.82 350.4,145.82 350.8,145.83 351.2,145.86 351.6,145.92 352.0,146.01 352.4,146.10 352.8,146.20 353.2,146.28 353.6,146.35 354.0,146.38 354.4,146.36 354.8,146.32 355.2,146.24 355.6,146.15 356.0,146.05 356.4,145.94 356.8,145.84 357.2,145.74 357.6,145.66 358.0,145.58 358.4,145.50 358.8,145.41 359.2,145.29 359.6,145.12 360.0,144.91 360.4,144.63 360.8,144.28 361.2,143.88 361.6,143.45 362.0,143.00 362.4,142.56 362.8,142.19 363.2,141.92 363.6,141.80 364.0,141.84 364.4,142.04 364.8,142.36 365.2,142.76 365.6,143.19 366.0,143.62 366.4,144.01 366.8,144.35 367.2,144.65 367.6,144.91 368.0,145.13 368.4,145.32 368.8,145.48 369.2,145.62 369.6,145.74 370.0,145.84 370.4,145.92 370.8,145.99 371.2,146.06 371.6,146.12 372.0,146.17 372.4,146.24 372.8,146.32 373.2,146.41 373.6,146.51 374.0,146.60 374.4,146.68 374.8,146.75 375.2,146.80 375.6,146.82 376.0,146.84 376.4,146.86 376.8,146.87 377.2,146.88 377.6,146.89 378.0,146.91 378.4,146.92 378.8,146.94 379.2,146.95 379.6,146.96 380.0,146.98 380.4,146.99 380.8,147.00 381.2,147.01 381.6,147.01 382.0,147.01 382.4,147.00 382.8,146.99 383.2,146.97 383.6,146.96 384.0,146.95 384.4,146.93 384.8,146.92 385.2,146.90 385.6,146.88 386.0,146.86 386.4,146.85 386.8,146.84 387.2,146.84 387.6,146.86 388.0,146.89 388.4,146.93 388.8,146.98 389.2,147.03 389.6,147.07 390.0,147.09 390.4,147.09 390.8,147.07 391.2,147.02 391.6,146.97 392.0,146.91 392.4,146.86 392.8,146.83 393.2,146.82 393.6,146.83 394.0,146.88 394.4,146.94 394.8,147.00 395.2,147.06 395.6,147.11 396.0,147.15 396.4,147.15 396.8,147.15 397.2,147.15 397.6,147.15 398.0,147.14 398.4,147.14 398.8,147.13 399.2,147.13 399.6,147.12 400.0,147.10 400.4,147.07 400.8,147.05 401.2,147.02 401.6,147.00 402.0,146.99 402.4,146.99 402.8,147.01 403.2,147.05 403.6,147.10 404.0,147.14 404.4,147.18 404.8,147.21 405.2,147.22 405.6,147.21 406.0,147.17 406.4,147.11 406.8,147.04 407.2,146.98 407.6,146.93 408.0,146.90 408.4,146.89 408.8,146.90 409.2,146.91 409.6,146.92 410.0,146.94 410.4,146.96 410.8,146.98 411.2,147.00 411.6,147.03 412.0,147.06 412.4,147.10 412.8,147.14 413.2,147.18 413.6,147.20 414.0,147.22 414.4,147.22 414.8,147.20 415.2,147.16 415.6,147.12 416.0,147.07 416.4,147.03 416.8,147.00 417.2,146.99 417.6,147.00 418.0,147.02 418.4,147.05 418.8,147.09 419.2,147.12 419.6,147.15 420.0,147.16 420.4,147.16 420.8,147.16 421.2,147.15 421.6,147.14 422.0,147.12 422.4,147.11 422.8,147.11 423.2,147.10 423.6,147.11 424.0,147.13 424.4,147.16 424.8,147.19 425.2,147.22 425.6,147.25 426.0,147.27 426.4,147.27 426.8,147.28 427.2,147.28 427.6,147.28 428.0,147.28 428.4,147.28 428.8,147.28 429.2,147.28 429.6,147.27 430.0,147.25 430.4,147.22 430.8,147.19 431.2,147.16 431.6,147.13 432.0,147.11 432.4,147.11 432.8,147.11 433.2,147.11 433.6,147.11 434.0,147.12 434.4,147.12 434.8,147.12 435.2,147.12 435.6,147.10 436.0,147.05 436.4,146.97 436.8,146.90 437.2,146.82 437.6,146.76 438.0,146.72 438.4,146.71 438.8,146.72 439.2,146.76 439.6,146.80 440.0,146.85 440.4,146.89 440.8,146.92 441.2,146.93 441.6,146.94 442.0,146.94 442.4,146.93 442.8,146.93 443.2,146.92 443.6,146.90 444.0,146.89 444.4,146.86 444.8,146.81 445.2,146.75 445.6,146.67 446.0,146.59 446.4,146.51 446.8,146.44 447.2,146.39 447.6,146.34 448.0,146.31 448.4,146.26 448.8,146.22 449.2,146.17 449.6,146.11 450.0,146.03 450.4,145.94 450.8,145.84 451.2,145.72 451.6,145.58 452.0,145.44 452.4,145.28 452.8,145.10 453.2,144.92 453.6,144.73 454.0,144.55 454.4,144.37 454.8,144.19 455.2,144.01 455.6,143.82 456.0,143.64 456.4,143.47 456.8,143.31 457.2,143.19 457.6,143.11 458.0,143.10 458.4,143.14 458.8,143.25 459.2,143.42 459.6,143.62 460.0,143.84 460.4,144.06 460.8,144.27 461.2,144.46 461.6,144.64 462.0,144.80 462.4,144.93 462.8,145.02 463.2,145.08 463.6,145.11 464.0,145.13 464.4,145.14 464.8,145.15 465.2,145.17 465.6,145.20 466.0,145.25 466.4,145.31 466.8,145.39 467.2,145.48 467.6,145.58 468.0,145.68 468.4,145.78 468.8,145.88 469.2,145.98 469.6,146.07 470.0,146.17 470.4,146.25 470.8,146.33 471.2,146.41 471.6,146.49 472.0,146.57 472.4,146.65 472.8,146.72 473.2,146.78 473.6,146.83 474.0,146.88 474.4,146.91 474.8,146.93 475.2,146.95 475.6,146.97 476.0,146.99 476.4,147.01 476.8,147.02 477.2,147.04 477.6,147.03 478.0,147.01 478.4,146.96 478.8,146.91 479.2,146.85 479.6,146.81 480.0,146.79 480.4,146.80 480.8,146.84 481.2,146.91 481.6,146.98 482.0,147.06 482.4,147.13 482.8,147.18 483.2,147.20 483.6,147.19 484.0,147.14 484.4,147.06 484.8,146.98 485.2,146.90 485.6,146.83 486.0,146.80 486.4,146.80 486.8,146.83 487.2,146.89 487.6,146.96 488.0,147.03 488.4,147.09 488.8,147.14 489.2,147.16 489.6,147.14 490.0,147.10 490.4,147.03 490.8,146.96 491.2,146.89 491.6,146.84 492.0,146.80 492.4,146.80 492.8,146.81 493.2,146.84 493.6,146.86 494.0,146.89 494.4,146.91 494.8,146.93 495.2,146.94 495.6,146.93 496.0,146.90 496.4,146.87 496.8,146.83 497.2,146.79 497.6,146.76 498.0,146.75 498.4,146.75 498.8,146.78 499.2,146.85 499.6,146.93 500.0,147.01 500.4,147.08 500.8,147.14 501.2,147.15 501.6,147.15 502.0,147.14 502.4,147.14 502.8,147.13 503.2,147.12 503.6,147.11 504.0,147.10 504.4,147.09 504.8,147.04 505.2,146.98 505.6,146.89 506.0,146.81 506.4,146.74 506.8,146.68 507.2,146.65 507.6,146.65 508.0,146.66 508.4,146.68 508.8,146.71 509.2,146.73 509.6,146.75 510.0,146.74 510.4,146.72 510.8,146.68 511.2,146.63 511.6,146.57 512.0,146.51 512.4,146.45 512.8,146.39 513.2,146.34 513.6,146.29 514.0,146.25 514.4,146.20 514.8,146.16 515.2,146.10 515.6,146.03 516.0,145.94 516.4,145.83 516.8,145.70 517.2,145.54 517.6,145.37 518.0,145.17 518.4,144.93 518.8,144.66 519.2,144.35 519.6,144.00 520.0,143.58 520.4,143.14 520.8,142.68 521.2,142.24 521.6,141.86 522.0,141.60 522.4,141.49 522.8,141.57 523.2,141.81 523.6,142.18 524.0,142.63 524.4,143.11 524.8,143.58 525.2,143.99 525.6,144.34 526.0,144.63 526.4,144.86 526.8,145.05 527.2,145.21 527.6,145.35 528.0,145.49 528.4,145.64 528.8,145.77 529.2,145.90 529.6,146.02 530.0,146.12 530.4,146.21 530.8,146.29 531.2,146.36 531.6,146.40 532.0,146.43 532.4,146.43 532.8,146.43 533.2,146.43 533.6,146.42 534.0,146.43 534.4,146.45 534.8,146.46 535.2,146.48 535.6,146.50 536.0,146.51 536.4,146.52 536.8,146.54 537.2,146.55 537.6,146.57 538.0,146.59 538.4,146.62 538.8,146.65 539.2,146.67 539.6,146.70 540.0,146.73 540.4,146.75 540.8,146.76 541.2,146.78 541.6,146.79 542.0,146.81 542.4,146.83 542.8,146.84 543.2,146.86 543.6,146.90 544.0,146.95 544.4,147.01 544.8,147.07 545.2,147.13 545.6,147.18 546.0,147.21 546.4,147.22 546.8,147.22 547.2,147.22 547.6,147.22 548.0,147.22 548.4,147.22 548.8,147.22 549.2,147.21 549.6,147.20 550.0,147.17 550.4,147.14 550.8,147.10 551.2,147.06 551.6,147.02 552.0,147.00 552.4,147.00 552.8,147.00 553.2,147.00 553.6,147.00 554.0,146.99 554.4,146.99 554.8,146.99 555.2,146.99 555.6,147.00 556.0,147.01 556.4,147.03 556.8,147.05 557.2,147.07 557.6,147.09 558.0,147.11 558.4,147.12 558.8,147.14 559.2,147.16 559.6,147.18 560.0,147.20 560.4,147.21 560.8,147.22 561.2,147.22 561.6,147.21 562.0,147.17 562.4,147.12 562.8,147.07 563.2,147.01 563.6,146.97 564.0,146.94 564.4,146.94 564.8,146.96 565.2,147.00 565.6,147.05 566.0,147.10 566.4,147.15 566.8,147.18 567.2,147.19 567.6,147.18 568.0,147.15 568.4,147.11 568.8,147.07 569.2,147.03 569.6,146.99 570.0,146.97 570.4,146.97 570.8,146.98 571.2,146.99 571.6,147.01 572.0,147.03 572.4,147.05 572.8,147.06 573.2,147.08 573.6,147.09 574.0,147.10 574.4,147.12 574.8,147.13 575.2,147.14 575.6,147.15 576.0,147.15 576.4,147.15 576.8,147.14 577.2,147.12 577.6,147.09 578.0,147.07 578.4,147.04 578.8,147.03 579.2,147.02 579.6,147.03 580.0,147.04 580.4,147.06 580.8,147.08 581.2,147.10 581.6,147.11 582.0,147.12 582.4,147.12 582.8,147.12 583.2,147.12 583.6,147.12 584.0,147.12 584.4,147.12 584.8,147.12 585.2,147.12 585.6,147.10 586.0,147.06 586.4,146.99 586.8,146.91 587.2,146.84 587.6,146.78 588.0,146.74 588.4,146.74 588.8,146.74 589.2,146.74 589.6,146.74 590.0,146.75 590.4,146.75 590.8,146.75 591.2,146.75 591.6,146.76 592.0,146.77 592.4,146.77 592.8,146.78 593.2,146.79 593.6,146.80 594.0,146.81 594.4,146.82 594.8,146.82 595.2,146.83 595.6,146.83 596.0,146.84 596.4,146.84 596.8,146.84 597.2,146.84 597.6,146.84 598.0,146.84 598.4,146.84 598.8,146.84 599.2,146.84 599.6,146.84 600.0,146.84 600.4,146.83 600.8,146.83 601.2,146.81 601.6,146.80 602.0,146.78 602.4,146.76 602.8,146.75 603.2,146.75 603.6,146.75 604.0,146.76 604.4,146.77 604.8,146.78 605.2,146.80 605.6,146.81 606.0,146.83 606.4,146.85 606.8,146.87 607.2,146.90 607.6,146.93 608.0,146.96 608.4,146.99 608.8,147.02 609.2,147.04 609.6,147.07 610.0,147.10 610.4,147.12 610.8,147.15 611.2,147.17 611.6,147.19 612.0,147.20 612.4,147.19 612.8,147.17 613.2,147.12 613.6,147.06 614.0,147.00 614.4,146.95 614.8,146.91 615.2,146.90 615.6,146.90 616.0,146.90 616.4,146.90 616.8,146.90 617.2,146.90 617.6,146.90 618.0,146.90 618.4,146.90 618.8,146.91 619.2,146.91 619.6,146.91 620.0,146.91 620.4,146.92 620.8,146.92 621.2,146.93 621.6,146.94 622.0,146.95 622.4,146.97 622.8,147.00 623.2,147.02 623.6,147.04 624.0,147.06 624.4,147.07 624.8,147.08 625.2,147.09 625.6,147.09 626.0,147.10 626.4,147.11 626.8,147.11 627.2,147.12 627.6,147.13 628.0,147.14 628.4,147.16 628.8,147.17 629.2,147.19 629.6,147.19 630.0,147.20 630.4,147.20 630.8,147.17 631.2,147.12 631.6,147.06 632.0,147.00 632.4,146.94 632.8,146.90 633.2,146.88 633.6,146.89 634.0,146.92 634.4,146.95 634.8,146.98 635.2,147.02 635.6,147.04 636.0,147.06 636.4,147.06 636.8,147.04 637.2,147.01 637.6,146.97 638.0,146.93 638.4,146.89 638.8,146.87 639.2,146.86 639.6,146.87 640.0,146.90 640.4,146.95 640.8,147.00 641.2,147.05 641.6,147.09 642.0,147.11 642.4,147.11 642.8,147.08 643.2,147.03 643.6,146.97 644.0,146.90 644.4,146.84 644.8,146.80 645.2,146.79 645.6,146.80 646.0,146.85 646.4,146.91 646.8,146.98 647.2,147.04 647.6,147.10 648.0,147.13 648.4,147.13 648.8,147.11 649.2,147.08 649.6,147.04 650.0,147.00 650.4,146.96 650.8,146.94 651.2,146.93 651.6,146.93 652.0,146.95 652.4,146.97 652.8,146.99 653.2,147.01 653.6,147.03 654.0,147.04 654.4,147.04 654.8,147.04 655.2,147.02 655.6,147.01 656.0,146.99 656.4,146.97 656.8,146.95 657.2,146.93 657.6,146.92 658.0,146.90 658.4,146.87 658.8,146.85 659.2,146.83 659.6,146.82 660.0,146.81 660.4,146.81 660.8,146.82 661.2,146.83 661.6,146.85 662.0,146.87 662.4,146.89 662.8,146.90 663.2,146.90 663.6,146.89 664.0,146.86 664.4,146.82 664.8,146.77 665.2,146.72 665.6,146.68 666.0,146.66 666.4,146.65 666.8,146.65 667.2,146.65 667.6,146.65 668.0,146.65 668.4,146.65 668.8,146.65 669.2,146.65 669.6,146.66 670.0,146.69 670.4,146.74 670.8,146.79 671.2,146.84 671.6,146.88 672.0,146.91 672.4,146.91 672.8,146.91 673.2,146.90 673.6,146.90 674.0,146.89 674.4,146.88 674.8,146.88 675.2,146.88 675.6,146.89 676.0,146.91 676.4,146.95 676.8,146.99 677.2,147.02 677.6,147.05 678.0,147.07 678.4,147.07 678.8,147.02 679.2,146.95 679.6,146.87 680.0,146.78 680.4,146.70 680.8,146.64 681.2,146.62 681.6,146.64 682.0,146.67 682.4,146.72 682.8,146.78 683.2,146.84 683.6,146.88 684.0,146.91 684.4,146.91 684.8,146.91 685.2,146.90 685.6,146.90 686.0,146.89 686.4,146.88 686.8,146.88 687.2,146.88 687.6,146.88 688.0,146.88 688.4,146.89 688.8,146.90 689.2,146.91 689.6,146.92 690.0,146.93 690.4,146.94 690.8,146.95 691.2,146.96 691.6,146.97 692.0,146.99 692.4,147.00 692.8,147.00 693.2,147.00 693.6,147.00 694.0,146.98 694.4,146.96 694.8,146.94 695.2,146.92 695.6,146.90 696.0,146.89 696.4,146.89 696.8,146.89 697.2,146.90 697.6,146.90 698.0,146.90 698.4,146.91 698.8,146.91 699.2,146.91 699.6,146.91 700.0,146.90 700.4,146.90 700.8,146.89 701.2,146.88 701.6,146.88 702.0,146.87 702.4,146.87 702.8,146.88 703.2,146.89 703.6,146.90 704.0,146.92 704.4,146.93 704.8,146.94 705.2,146.94 705.6,146.93 706.0,146.90 706.4,146.87 706.8,146.83 707.2,146.79 707.6,146.76 708.0,146.74 708.4,146.74 708.8,146.75 709.2,146.77 709.6,146.80 710.0,146.83 710.4,146.86 710.8,146.89 711.2,146.90 711.6,146.92 712.0,146.93 712.4,146.94 712.8,146.95 713.2,146.96 713.6,146.96 714.0,146.97 714.4,146.97 714.8,146.94 715.2,146.90 715.6,146.85 716.0,146.80 716.4,146.75 716.8,146.72 717.2,146.70 717.6,146.72 718.0,146.78 718.4,146.86 718.8,146.94 719.2,147.03 719.6,147.10 720.0,147.14 720.4,147.14 720.8,147.13 721.2,147.11 721.6,147.08 722.0,147.05 722.4,147.03 722.8,147.01 723.2,147.00 723.6,147.01 724.0,147.02 724.4,147.04 724.8,147.07 725.2,147.09 725.6,147.10 726.0,147.11 726.4,147.11 726.8,147.08 727.2,147.02 727.6,146.95 728.0,146.88 728.4,146.81 728.8,146.76 729.2,146.75 729.6,146.75 730.0,146.76 730.4,146.77 730.8,146.79 731.2,146.80 731.6,146.81 732.0,146.82 732.4,146.81 732.8,146.80 733.2,146.79 733.6,146.77 734.0,146.75 734.4,146.73 734.8,146.71 735.2,146.69 735.6,146.67 736.0,146.64 736.4,146.62 736.8,146.59 737.2,146.56 737.6,146.54 738.0,146.52 738.4,146.50 738.8,146.49 739.2,146.47 739.6,146.46 740.0,146.44 740.4,146.43 740.8,146.43 741.2,146.43 741.6,146.43 742.0,146.45 742.4,146.47 742.8,146.51 743.2,146.55 743.6,146.59 744.0,146.63 744.4,146.68 744.8,146.74 745.2,146.82 745.6,146.90 746.0,146.98 746.4,147.05 746.8,147.10 747.2,147.13 747.6,147.13 748.0,147.09 748.4,147.04 748.8,146.98 749.2,146.92 749.6,146.88 750.0,146.86 750.4,146.87 750.8,146.91 751.2,146.97 751.6,147.04 752.0,147.11 752.4,147.17 752.8,147.22 753.2,147.25 753.6,147.25 754.0,147.23 754.4,147.21 754.8,147.17 755.2,147.14 755.6,147.11 756.0,147.09 756.4,147.07 756.8,147.06 757.2,147.05 757.6,147.04 758.0,147.03 758.4,147.02 758.8,147.02 759.2,147.01 759.6,147.02 760.0,147.02 760.4,147.03 760.8,147.04 761.2,147.05 761.6,147.07 762.0,147.08 762.4,147.10 762.8,147.13 763.2,147.17 763.6,147.22 764.0,147.27 764.4,147.31 764.8,147.34 765.2,147.35 765.6,147.35 766.0,147.34 766.4,147.32 766.8,147.30 767.2,147.28 767.6,147.27 768.0,147.26 768.4,147.26 768.8,147.26 769.2,147.26 769.6,147.20 770.0,147.09 770.4,146.93 770.8,146.74 771.2,146.52 771.6,146.27 772.0,146.00 772.4,145.73 772.8,145.46 773.2,145.20 773.6,144.96 774.0,144.75 774.4,144.57 774.8,144.43 775.2,144.34 775.6,144.25 776.0,144.16 776.4,144.08 776.8,144.01 777.2,143.95 777.6,143.90 778.0,143.87 778.4,143.85 778.8,143.84 779.2,143.84 779.6,143.86 780.0,143.89 780.4,143.93 780.8,143.99 781.2,144.06 781.6,144.15 782.0,144.24 782.4,144.33 782.8,144.41 783.2,144.48 783.6,144.52 784.0,144.53 784.4,144.52 784.8,144.50 785.2,144.48 785.6,144.48 786.0,144.49 786.4,144.53 786.8,144.59 787.2,144.66 787.6,144.73 788.0,144.80 788.4,144.84 788.8,144.83 789.2,144.72 789.6,144.53 790.0,144.28 790.4,143.98 790.8,143.65 791.2,143.29 791.6,142.87 792.0,142.24 792.4,141.09 792.8,138.74 793.2,135.59 793.6,136.91 794.0,139.87 794.4,141.39 794.8,142.09 795.2,142.45 795.6,142.66 796.0,142.78 796.4,142.86 796.8,142.90 797.2,142.91 797.6,142.85 798.0,142.71 798.4,142.51 798.8,142.25 799.2,141.93 799.6,141.51 800.0,140.89 800.4,139.86 800.8,137.89 801.2,133.84 801.6,128.43 802.0,130.77 802.4,135.96 802.8,138.64 803.2,139.90 803.6,140.55 804.0,140.90 804.4,141.09 804.8,141.19 805.2,141.25 805.6,141.28 806.0,141.28 806.4,141.28 806.8,141.28 807.2,141.29 807.6,141.30 808.0,141.32 808.4,141.34 808.8,141.36 809.2,141.38 809.6,141.40 810.0,141.42 810.4,141.43 810.8,141.44 811.2,141.46 811.6,141.47 812.0,141.48 812.4,141.49 812.8,141.51 813.2,141.53 813.6,141.55 814.0,141.57 814.4,141.59 814.8,141.62 815.2,141.64 815.6,141.65 816.0,141.67 816.4,141.68 816.8,141.70 817.2,141.71 817.6,141.70 818.0,141.68 818.4,141.64 818.8,141.58 819.2,141.51 819.6,141.42 820.0,141.32 820.4,141.21 820.8,141.09 821.2,140.96 821.6,140.82 822.0,140.67 822.4,140.51 822.8,140.35 823.2,140.18 823.6,140.00 824.0,139.82 824.4,139.64 824.8,139.45 825.2,139.23 825.6,138.97 826.0,138.68 826.4,138.36 826.8,138.03 827.2,137.67 827.6,137.29 828.0,136.89 828.4,136.47 828.8,136.05 829.2,135.63 829.6,135.13 830.0,134.55 830.4,133.93 830.8,133.29 831.2,132.65 831.6,132.03 832.0,131.44 832.4,130.91 832.8,130.48 833.2,130.18 833.6,130.04 834.0,130.23 834.4,130.79 834.8,131.57 835.2,132.43 835.6,133.23 836.0,133.83 836.4,134.08 836.8,133.11 837.2,130.83 837.6,128.35 838.0,126.12 838.4,123.45 838.8,120.86 839.2,118.89 839.6,118.12 840.0,118.97 840.4,120.99 840.8,123.42 841.2,125.53 841.6,126.97 842.0,128.32 842.4,129.63 842.8,130.87 843.2,132.03 843.6,133.11 844.0,134.07 844.4,134.89 844.8,135.66 845.2,136.38 845.6,137.04 846.0,137.64 846.4,138.17 846.8,138.64 847.2,139.07 847.6,139.46 848.0,139.82 848.4,140.16 848.8,140.50 849.2,140.84 849.6,141.19 850.0,141.57 850.4,141.96 850.8,142.36 851.2,142.73 851.6,143.05 852.0,143.31 852.4,143.49 852.8,143.56 853.2,143.53 853.6,143.49 854.0,143.43 854.4,143.39 854.8,143.35 855.2,143.34 855.6,143.34 856.0,143.35 856.4,143.38 856.8,143.40 857.2,143.43 857.6,143.45 858.0,143.45 858.4,143.44 858.8,143.43 859.2,143.41 859.6,143.39 860.0,143.37 860.4,143.34 860.8,143.32 861.2,143.29 861.6,143.25 862.0,143.20 862.4,143.15 862.8,143.09 863.2,143.03 863.6,142.98 864.0,142.95 864.4,142.93 864.8,142.94 865.2,142.97 865.6,142.98 866.0,142.97 866.4,142.94 866.8,142.87 867.2,142.75 867.6,142.61 868.0,142.46 868.4,142.31 868.8,142.15 869.2,141.98 869.6,141.83 870.0,141.68 870.4,141.53 870.8,141.39 871.2,141.26 871.6,141.14 872.0,141.05 872.4,140.98 872.8,140.96 873.2,141.01 873.6,141.13 874.0,141.30 874.4,141.51 874.8,141.75 875.2,142.01 875.6,142.29 876.0,142.57 876.4,142.84 876.8,143.12 877.2,143.38 877.6,143.62 878.0,143.81 878.4,143.94 878.8,143.98 879.2,143.96 879.6,143.87 880.0,143.74 880.4,143.57 880.8,143.37 881.2,143.16 881.6,142.96 882.0,142.77 882.4,142.60 882.8,142.47 883.2,142.37 883.6,142.28 884.0,142.22 884.4,142.18 884.8,142.14 885.2,142.12 885.6,142.12 886.0,142.18 886.4,142.30 886.8,142.48 887.2,142.71 887.6,142.98 888.0,143.29 888.4,143.62 888.8,143.95 889.2,144.26 889.6,144.53 890.0,144.76 890.4,144.92 890.8,145.02 891.2,145.11 891.6,145.19 892.0,145.27 892.4,145.35 892.8,145.42 893.2,145.49 893.6,145.56 894.0,145.62 894.4,145.67 894.8,145.71 895.2,145.73 895.6,145.74 896.0,145.74 896.4,145.74 896.8,145.75 897.2,145.75 897.6,145.77 898.0,145.79 898.4,145.78 898.8,145.72 899.2,145.60 899.6,145.44 900.0,145.24 900.4,144.99 900.8,144.71 901.2,144.40 901.6,144.08 902.0,143.75 902.4,143.40 902.8,143.05 903.2,142.65 903.6,142.18 904.0,141.63 904.4,141.00 904.8,140.27 905.2,139.44 905.6,138.39 906.0,137.06 906.4,135.42 906.8,133.31 907.2,128.74 907.6,122.85 908.0,118.11 908.4,116.83 908.8,117.57 909.2,119.05 909.6,120.99 910.0,123.16 910.4,125.30 910.8,127.14 911.2,128.43 911.6,128.91 912.0,128.59 912.4,127.78 912.8,126.66 913.2,125.38 913.6,124.15 914.0,123.14 914.4,122.53 914.8,122.69 915.2,124.40 915.6,126.94 916.0,129.36 916.4,131.63 916.8,134.16 917.2,136.60 917.6,138.60 918.0,139.82 918.4,140.51 918.8,141.16 919.2,141.78 919.6,142.35 920.0,142.87 920.4,143.33 920.8,143.74 921.2,144.07 921.6,144.33 922.0,144.53 922.4,144.68 922.8,144.80 923.2,144.90 923.6,145.00 924.0,145.12 924.4,145.27 924.8,145.43 925.2,145.60 925.6,145.75 926.0,145.91 926.4,146.07 926.8,146.21 927.2,146.35 927.6,146.49 928.0,146.64 928.4,146.78 928.8,146.91 929.2,147.03 929.6,147.12 930.0,147.18 930.4,147.21 930.8,147.18 931.2,147.10 931.6,147.01 932.0,146.92 932.4,146.83 932.8,146.77 933.2,146.74 933.6,146.74 934.0,146.74 934.4,146.75 934.8,146.77 935.2,146.79 935.6,146.81 936.0,146.82 936.4,146.84 936.8,146.86 937.2,146.88 937.6,146.90 938.0,146.92 938.4,146.93 938.8,146.94 939.2,146.92 939.6,146.88 940.0,146.81 940.4,146.71 940.8,146.60 941.2,146.49 941.6,146.39 942.0,146.33 942.4,146.29 942.8,146.26 943.2,146.23 943.6,146.19 944.0,146.16 944.4,146.12 944.8,146.08 945.2,146.05 945.6,146.02 946.0,146.04 946.4,146.06 946.8,146.10 947.2,146.12 947.6,146.13 948.0,146.10 948.4,146.03 948.8,145.93 949.2,145.83 949.6,145.72 950.0,145.59 950.4,145.46 950.8,145.31 951.2,145.15 951.6,144.98 952.0,144.79 952.4,144.58 952.8,144.35 953.2,144.11 953.6,143.86 954.0,143.60 954.4,143.32 954.8,143.03 955.2,142.72 955.6,142.37 956.0,141.98 956.4,141.54 956.8,141.03 957.2,140.45 957.6,139.79 958.0,139.02 958.4,138.14 958.8,137.13 959.2,135.96 959.6,134.61 960.0,133.00 960.4,131.07 960.8,128.69 961.2,125.65 961.6,121.61 962.0,116.17 962.4,109.12 962.8,101.46 963.2,96.68 963.6,98.43 964.0,105.26 964.4,112.94 964.8,119.27 965.2,124.03 965.6,127.58 966.0,130.30 966.4,132.44 966.8,134.15 967.2,135.52 967.6,136.66 968.0,137.62 968.4,138.45 968.8,139.19 969.2,139.87 969.6,140.50 970.0,141.08 970.4,141.62 970.8,142.10 971.2,142.54 971.6,142.92 972.0,143.26 972.4,143.55 972.8,143.79 973.2,143.99 973.6,144.16 974.0,144.32 974.4,144.46 974.8,144.60 975.2,144.74 975.6,144.87 976.0,145.01 976.4,145.14 976.8,145.26 977.2,145.38 977.6,145.49 978.0,145.60 978.4,145.70 978.8,145.80 979.2,145.90 979.6,145.99 980.0,146.08 980.4,146.16 980.8,146.23 981.2,146.29 981.6,146.33 982.0,146.38 982.4,146.42 982.8,146.45 983.2,146.48 983.6,146.52 984.0,146.54 984.4,146.57 984.8,146.57 985.2,146.55 985.6,146.52 986.0,146.49 986.4,146.46 986.8,146.45 987.2,146.45 987.6,146.48 988.0,146.50 988.4,146.53 988.8,146.56 989.2,146.59 989.6,146.62 990.0,146.65 990.4,146.67 990.8,146.69 991.2,146.72 991.6,146.74 992.0,146.76 992.4,146.78 992.8,146.79 993.2,146.80 993.6,146.81 994.0,146.82 994.4,146.82 994.8,146.83 995.2,146.83 995.6,146.84 996.0,146.84 996.4,146.85 996.8,146.87 997.2,146.90 997.6,146.94 998.0,146.97 998.4,147.01 998.8,147.04 999.2,147.06 999.6,147.08 1000.0,147.09 1000.4,147.11 1000.8,147.12 1001.2,147.14 1001.6,147.15 1002.0,147.15 1002.4,147.16 1002.8,147.14 1003.2,147.10 1003.6,147.06 1004.0,147.01 1004.4,146.97 1004.8,146.94 1005.2,146.93 1005.6,146.94 1006.0,146.95 1006.4,146.96 1006.8,146.97 1007.2,146.98 1007.6,146.99 1008.0,147.00 1008.4,147.00 1008.8,146.98 1009.2,146.95 1009.6,146.91 1010.0,146.87 1010.4,146.83 1010.8,146.80 1011.2,146.79 1011.6,146.79 1012.0,146.80 1012.4,146.82 1012.8,146.84 1013.2,146.86 1013.6,146.88 1014.0,146.90 1014.4,146.93 1014.8,146.96 1015.2,147.00 1015.6,147.04 1016.0,147.08 1016.4,147.11 1016.8,147.12 1017.2,147.11 1017.6,147.07 1018.0,147.01 1018.4,146.93 1018.8,146.85 1019.2,146.76 1019.6,146.68 1020.0,146.61 1020.4,146.56 1020.8,146.52 1021.2,146.48 1021.6,146.46 1022.0,146.45 1022.4,146.45 1022.8,146.47 1023.2,146.50 1023.6,146.54 1024.0,146.59 1024.4,146.64 1024.8,146.70 1025.2,146.75 1025.6,146.80 1026.0,146.84 1026.4,146.88 1026.8,146.92 1027.2,146.95 1027.6,146.97 1028.0,146.99 1028.4,147.01 1028.8,147.03 1029.2,147.05 1029.6,147.07 1030.0,147.10 1030.4,147.14 1030.8,147.17 1031.2,147.21 1031.6,147.24 1032.0,147.26 1032.4,147.27 1032.8,147.25 1033.2,147.21 1033.6,147.16 1034.0,147.10 1034.4,147.06 1034.8,147.02 1035.2,147.01 1035.6,147.02 1036.0,147.03 1036.4,147.03 1036.8,147.04 1037.2,147.05 1037.6,147.06 1038.0,147.07 1038.4,147.08 1038.8,147.12 1039.2,147.17 1039.6,147.23 1040.0,147.30 1040.4,147.35 1040.8,147.39 1041.2,147.41 1041.6,147.40 1042.0,147.37 1042.4,147.34 1042.8,147.30 1043.2,147.26 1043.6,147.23 1044.0,147.21 1044.4,147.21 1044.8,147.24 1045.2,147.28 1045.6,147.33 1046.0,147.38 1046.4,147.43 1046.8,147.46 1047.2,147.47 1047.6,147.45 1048.0,147.40 1048.4,147.32 1048.8,147.23 1049.2,147.15 1049.6,147.08 1050.0,147.04 1050.4,147.04 1050.8,147.07 1051.2,147.13 1051.6,147.20 1052.0,147.27 1052.4,147.33 1052.8,147.38 1053.2,147.40 1053.6,147.39 1054.0,147.37 1054.4,147.34 1054.8,147.31 1055.2,147.27 1055.6,147.25 1056.0,147.23 1056.4,147.23 1056.8,147.23 1057.2,147.24 1057.6,147.24 1058.0,147.24 1058.4,147.24 1058.8,147.24 1059.2,147.24 1059.6,147.25 1060.0,147.28 1060.4,147.32 1060.8,147.37 1061.2,147.41 1061.6,147.45 1062.0,147.47 1062.4,147.47 1062.8,147.43 1063.2,147.37 1063.6,147.29 1064.0,147.21 1064.4,147.14 1064.8,147.09 1065.2,147.07 1065.6,147.08 1066.0,147.11 1066.4,147.15 1066.8,147.19 1067.2,147.23 1067.6,147.26 1068.0,147.28 1068.4,147.29 1068.8,147.27 1069.2,147.25 1069.6,147.23 1070.0,147.20 1070.4,147.17 1070.8,147.16 1071.2,147.15 1071.6,147.15 1072.0,147.16 1072.4,147.16 1072.8,147.17 1073.2,147.18 1073.6,147.19 1074.0,147.20 1074.4,147.22 1074.8,147.25 1075.2,147.29 1075.6,147.34 1076.0,147.39 1076.4,147.44 1076.8,147.47 1077.2,147.48 1077.6,147.47 1078.0,147.44 1078.4,147.40 1078.8,147.36 1079.2,147.31 1079.6,147.28" fill="none" stroke="#ff00ff" stroke-width="3.8" stroke-linejoin="round" stroke-linecap="round"/>
<polyline points="205.2,204.58 205.6,204.58 206.0,204.58 206.4,204.59 206.8,204.59 207.2,204.59 207.6,204.59 208.0,204.59 208.4,204.59 208.8,204.59 209.2,204.59 209.6,204.59 210.0,204.59 210.4,204.60 210.8,204.63 211.2,204.68 211.6,204.74 212.0,204.81 212.4,204.87 212.8,204.91 213.2,204.93 213.6,204.92 214.0,204.89 214.4,204.86 214.8,204.82 215.2,204.78 215.6,204.75 216.0,204.73 216.4,204.73 216.8,204.73 217.2,204.74 217.6,204.74 218.0,204.75 218.4,204.75 218.8,204.75 219.2,204.75 219.6,204.74 220.0,204.72 220.4,204.69 220.8,204.65 221.2,204.61 221.6,204.58 222.0,204.57 222.4,204.57 222.8,204.58 223.2,204.61 223.6,204.65 224.0,204.69 224.4,204.72 224.8,204.75 225.2,204.75 225.6,204.74 226.0,204.70 226.4,204.65 226.8,204.59 227.2,204.54 227.6,204.49 228.0,204.45 228.4,204.44 228.8,204.43 229.2,204.43 229.6,204.42 230.0,204.41 230.4,204.41 230.8,204.41 231.2,204.41 231.6,204.43 232.0,204.48 232.4,204.56 232.8,204.65 233.2,204.73 233.6,204.80 234.0,204.84 234.4,204.84 234.8,204.80 235.2,204.72 235.6,204.63 236.0,204.54 236.4,204.46 236.8,204.40 237.2,204.38 237.6,204.40 238.0,204.47 238.4,204.57 238.8,204.67 239.2,204.77 239.6,204.86 240.0,204.90 240.4,204.91 240.8,204.90 241.2,204.89 241.6,204.88 242.0,204.86 242.4,204.84 242.8,204.83 243.2,204.82 243.6,204.82 244.0,204.82 244.4,204.81 244.8,204.81 245.2,204.81 245.6,204.81 246.0,204.80 246.4,204.79 246.8,204.75 247.2,204.68 247.6,204.61 248.0,204.53 248.4,204.46 248.8,204.41 249.2,204.39 249.6,204.39 250.0,204.40 250.4,204.40 250.8,204.42 251.2,204.43 251.6,204.44 252.0,204.46 252.4,204.48 252.8,204.52 253.2,204.58 253.6,204.65 254.0,204.71 254.4,204.77 254.8,204.80 255.2,204.82 255.6,204.81 256.0,204.78 256.4,204.73 256.8,204.69 257.2,204.64 257.6,204.61 258.0,204.58 258.4,204.58 258.8,204.59 259.2,204.60 259.6,204.62 260.0,204.64 260.4,204.66 260.8,204.67 261.2,204.68 261.6,204.66 262.0,204.62 262.4,204.57 262.8,204.51 263.2,204.46 263.6,204.41 264.0,204.38 264.4,204.38 264.8,204.38 265.2,204.38 265.6,204.38 266.0,204.38 266.4,204.38 266.8,204.38 267.2,204.39 267.6,204.39 268.0,204.41 268.4,204.43 268.8,204.45 269.2,204.47 269.6,204.49 270.0,204.51 270.4,204.52 270.8,204.53 271.2,204.55 271.6,204.56 272.0,204.58 272.4,204.58 272.8,204.58 273.2,204.57 273.6,204.55 274.0,204.52 274.4,204.48 274.8,204.44 275.2,204.39 275.6,204.34 276.0,204.28 276.4,204.22 276.8,204.14 277.2,204.05 277.6,203.96 278.0,203.85 278.4,203.75 278.8,203.66 279.2,203.57 279.6,203.51 280.0,203.49 280.4,203.49 280.8,203.51 281.2,203.55 281.6,203.59 282.0,203.63 282.4,203.65 282.8,203.66 283.2,203.65 283.6,203.65 284.0,203.64 284.4,203.65 284.8,203.67 285.2,203.73 285.6,203.80 286.0,203.87 286.4,203.95 286.8,204.03 287.2,204.10 287.6,204.16 288.0,204.22 288.4,204.26 288.8,204.30 289.2,204.34 289.6,204.38 290.0,204.41 290.4,204.43 290.8,204.45 291.2,204.47 291.6,204.47 292.0,204.46 292.4,204.45 292.8,204.42 293.2,204.40 293.6,204.39 294.0,204.38 294.4,204.38 294.8,204.39 295.2,204.40 295.6,204.41 296.0,204.42 296.4,204.43 296.8,204.44 297.2,204.46 297.6,204.48 298.0,204.52 298.4,204.56 298.8,204.61 299.2,204.66 299.6,204.70 300.0,204.72 300.4,204.72 300.8,204.69 301.2,204.66 301.6,204.61 302.0,204.56 302.4,204.52 302.8,204.48 303.2,204.47 303.6,204.47 304.0,204.47 304.4,204.47 304.8,204.48 305.2,204.48 305.6,204.49 306.0,204.49 306.4,204.50 306.8,204.52 307.2,204.56 307.6,204.60 308.0,204.64 308.4,204.67 308.8,204.69 309.2,204.69 309.6,204.67 310.0,204.61 310.4,204.54 310.8,204.45 311.2,204.37 311.6,204.30 312.0,204.26 312.4,204.25 312.8,204.27 313.2,204.31 313.6,204.36 314.0,204.41 314.4,204.46 314.8,204.48 315.2,204.48 315.6,204.45 316.0,204.39 316.4,204.32 316.8,204.24 317.2,204.16 317.6,204.08 318.0,204.02 318.4,203.97 318.8,203.93 319.2,203.88 319.6,203.83 320.0,203.77 320.4,203.71 320.8,203.64 321.2,203.57 321.6,203.50 322.0,203.45 322.4,203.40 322.8,203.34 323.2,203.26 323.6,203.15 324.0,202.99 324.4,202.78 324.8,202.49 325.2,202.14 325.6,201.73 326.0,201.26 326.4,200.75 326.8,200.20 327.2,199.64 327.6,199.09 328.0,198.58 328.4,198.12 328.8,197.78 329.2,197.60 329.6,197.61 330.0,197.81 330.4,198.17 330.8,198.65 331.2,199.20 331.6,199.77 332.0,200.32 332.4,200.83 332.8,201.28 333.2,201.68 333.6,202.03 334.0,202.34 334.4,202.60 334.8,202.83 335.2,203.03 335.6,203.20 336.0,203.35 336.4,203.47 336.8,203.54 337.2,203.56 337.6,203.56 338.0,203.54 338.4,203.52 338.8,203.52 339.2,203.55 339.6,203.59 340.0,203.64 340.4,203.68 340.8,203.73 341.2,203.77 341.6,203.81 342.0,203.85 342.4,203.89 342.8,203.94 343.2,204.00 343.6,204.07 344.0,204.13 344.4,204.18 344.8,204.22 345.2,204.23 345.6,204.22 346.0,204.20 346.4,204.18 346.8,204.14 347.2,204.10 347.6,204.06 348.0,204.01 348.4,203.97 348.8,203.91 349.2,203.85 349.6,203.79 350.0,203.72 350.4,203.66 350.8,203.60 351.2,203.55 351.6,203.52 352.0,203.51 352.4,203.52 352.8,203.52 353.2,203.52 353.6,203.49 354.0,203.43 354.4,203.34 354.8,203.22 355.2,203.08 355.6,202.92 356.0,202.73 356.4,202.52 356.8,202.28 357.2,202.01 357.6,201.72 358.0,201.40 358.4,201.07 358.8,200.73 359.2,200.42 359.6,200.16 360.0,199.97 360.4,199.88 360.8,199.87 361.2,199.94 361.6,200.10 362.0,200.32 362.4,200.58 362.8,200.88 363.2,201.20 363.6,201.53 364.0,201.83 364.4,202.10 364.8,202.34 365.2,202.56 365.6,202.75 366.0,202.92 366.4,203.08 366.8,203.24 367.2,203.40 367.6,203.56 368.0,203.71 368.4,203.83 368.8,203.94 369.2,204.01 369.6,204.05 370.0,204.04 370.4,204.01 370.8,203.97 371.2,203.93 371.6,203.89 372.0,203.89 372.4,203.91 372.8,203.94 373.2,203.97 373.6,204.01 374.0,204.04 374.4,204.08 374.8,204.11 375.2,204.14 375.6,204.17 376.0,204.20 376.4,204.23 376.8,204.26 377.2,204.28 377.6,204.30 378.0,204.32 378.4,204.33 378.8,204.33 379.2,204.34 379.6,204.34 380.0,204.34 380.4,204.34 380.8,204.35 381.2,204.35 381.6,204.36 382.0,204.37 382.4,204.38 382.8,204.39 383.2,204.41 383.6,204.43 384.0,204.44 384.4,204.46 384.8,204.49 385.2,204.52 385.6,204.55 386.0,204.59 386.4,204.62 386.8,204.64 387.2,204.65 387.6,204.64 388.0,204.63 388.4,204.61 388.8,204.58 389.2,204.56 389.6,204.54 390.0,204.53 390.4,204.53 390.8,204.53 391.2,204.54 391.6,204.54 392.0,204.54 392.4,204.55 392.8,204.55 393.2,204.55 393.6,204.55 394.0,204.55 394.4,204.55 394.8,204.54 395.2,204.54 395.6,204.53 396.0,204.52 396.4,204.51 396.8,204.49 397.2,204.46 397.6,204.42 398.0,204.38 398.4,204.34 398.8,204.32 399.2,204.31 399.6,204.31 400.0,204.32 400.4,204.34 400.8,204.36 401.2,204.38 401.6,204.40 402.0,204.43 402.4,204.45 402.8,204.49 403.2,204.54 403.6,204.60 404.0,204.65 404.4,204.69 404.8,204.72 405.2,204.73 405.6,204.73 406.0,204.73 406.4,204.72 406.8,204.71 407.2,204.70 407.6,204.70 408.0,204.69 408.4,204.68 408.8,204.67 409.2,204.66 409.6,204.65 410.0,204.64 410.4,204.62 410.8,204.61 411.2,204.60 411.6,204.58 412.0,204.56 412.4,204.53 412.8,204.51 413.2,204.49 413.6,204.47 414.0,204.46 414.4,204.46 414.8,204.47 415.2,204.50 415.6,204.53 416.0,204.57 416.4,204.60 416.8,204.62 417.2,204.62 417.6,204.62 418.0,204.60 418.4,204.58 418.8,204.56 419.2,204.53 419.6,204.51 420.0,204.48 420.4,204.46 420.8,204.44 421.2,204.41 421.6,204.39 422.0,204.36 422.4,204.34 422.8,204.32 423.2,204.32 423.6,204.31 424.0,204.32 424.4,204.33 424.8,204.33 425.2,204.34 425.6,204.35 426.0,204.35 426.4,204.34 426.8,204.31 427.2,204.28 427.6,204.23 428.0,204.19 428.4,204.15 428.8,204.11 429.2,204.09 429.6,204.09 430.0,204.10 430.4,204.12 430.8,204.15 431.2,204.17 431.6,204.18 432.0,204.18 432.4,204.16 432.8,204.12 433.2,204.07 433.6,204.01 434.0,203.94 434.4,203.88 434.8,203.81 435.2,203.76 435.6,203.72 436.0,203.69 436.4,203.68 436.8,203.67 437.2,203.66 437.6,203.65 438.0,203.63 438.4,203.61 438.8,203.59 439.2,203.59 439.6,203.61 440.0,203.63 440.4,203.67 440.8,203.71 441.2,203.75 441.6,203.79 442.0,203.84 442.4,203.88 442.8,203.92 443.2,203.96 443.6,203.98 444.0,204.00 444.4,204.00 444.8,203.99 445.2,203.98 445.6,203.96 446.0,203.93 446.4,203.89 446.8,203.85 447.2,203.80 447.6,203.74 448.0,203.64 448.4,203.52 448.8,203.39 449.2,203.25 449.6,203.13 450.0,203.02 450.4,202.94 450.8,202.88 451.2,202.83 451.6,202.79 452.0,202.73 452.4,202.66 452.8,202.55 453.2,202.41 453.6,202.23 454.0,202.02 454.4,201.80 454.8,201.56 455.2,201.31 455.6,201.04 456.0,200.77 456.4,200.51 456.8,200.28 457.2,200.08 457.6,199.93 458.0,199.84 458.4,199.83 458.8,199.88 459.2,200.01 459.6,200.18 460.0,200.38 460.4,200.60 460.8,200.82 461.2,201.05 461.6,201.29 462.0,201.52 462.4,201.75 462.8,201.96 463.2,202.16 463.6,202.34 464.0,202.50 464.4,202.65 464.8,202.78 465.2,202.90 465.6,203.01 466.0,203.10 466.4,203.20 466.8,203.28 467.2,203.35 467.6,203.42 468.0,203.48 468.4,203.53 468.8,203.56 469.2,203.56 469.6,203.56 470.0,203.56 470.4,203.55 470.8,203.55 471.2,203.56 471.6,203.61 472.0,203.68 472.4,203.78 472.8,203.88 473.2,203.98 473.6,204.06 474.0,204.11 474.4,204.13 474.8,204.14 475.2,204.14 475.6,204.15 476.0,204.15 476.4,204.15 476.8,204.15 477.2,204.15 477.6,204.12 478.0,204.06 478.4,203.98 478.8,203.89 479.2,203.80 479.6,203.71 480.0,203.65 480.4,203.63 480.8,203.63 481.2,203.66 481.6,203.69 482.0,203.73 482.4,203.75 482.8,203.76 483.2,203.74 483.6,203.69 484.0,203.62 484.4,203.55 484.8,203.47 485.2,203.41 485.6,203.37 486.0,203.36 486.4,203.38 486.8,203.41 487.2,203.44 487.6,203.47 488.0,203.50 488.4,203.53 488.8,203.55 489.2,203.58 489.6,203.62 490.0,203.68 490.4,203.76 490.8,203.84 491.2,203.93 491.6,203.99 492.0,204.04 492.4,204.06 492.8,204.08 493.2,204.10 493.6,204.11 494.0,204.12 494.4,204.12 494.8,204.13 495.2,204.13 495.6,204.11 496.0,204.07 496.4,204.01 496.8,203.94 497.2,203.87 497.6,203.81 498.0,203.78 498.4,203.77 498.8,203.80 499.2,203.86 499.6,203.93 500.0,204.01 500.4,204.07 500.8,204.12 501.2,204.13 501.6,204.10 502.0,204.06 502.4,204.00 502.8,203.94 503.2,203.87 503.6,203.80 504.0,203.74 504.4,203.70 504.8,203.66 505.2,203.62 505.6,203.58 506.0,203.54 506.4,203.50 506.8,203.46 507.2,203.43 507.6,203.41 508.0,203.38 508.4,203.36 508.8,203.33 509.2,203.30 509.6,203.26 510.0,203.22 510.4,203.16 510.8,203.09 511.2,203.01 511.6,202.92 512.0,202.82 512.4,202.71 512.8,202.60 513.2,202.49 513.6,202.38 514.0,202.29 514.4,202.20 514.8,202.10 515.2,201.97 515.6,201.80 516.0,201.57 516.4,201.27 516.8,200.90 517.2,200.46 517.6,199.94 518.0,199.34 518.4,198.65 518.8,197.87 519.2,196.99 519.6,195.99 520.0,194.88 520.4,193.66 520.8,192.37 521.2,191.09 521.6,189.94 522.0,189.10 522.4,188.70 522.8,188.82 523.2,189.46 523.6,190.48 524.0,191.72 524.4,193.04 524.8,194.32 525.2,195.50 525.6,196.54 526.0,197.44 526.4,198.21 526.8,198.87 527.2,199.43 527.6,199.91 528.0,200.32 528.4,200.69 528.8,201.03 529.2,201.33 529.6,201.61 530.0,201.86 530.4,202.09 530.8,202.29 531.2,202.47 531.6,202.63 532.0,202.78 532.4,202.91 532.8,203.04 533.2,203.15 533.6,203.24 534.0,203.32 534.4,203.38 534.8,203.39 535.2,203.37 535.6,203.33 536.0,203.29 536.4,203.25 536.8,203.23 537.2,203.24 537.6,203.29 538.0,203.37 538.4,203.47 538.8,203.58 539.2,203.68 539.6,203.77 540.0,203.82 540.4,203.84 540.8,203.81 541.2,203.75 541.6,203.68 542.0,203.60 542.4,203.53 542.8,203.48 543.2,203.47 543.6,203.49 544.0,203.53 544.4,203.58 544.8,203.64 545.2,203.69 545.6,203.74 546.0,203.77 546.4,203.77 546.8,203.76 547.2,203.73 547.6,203.69 548.0,203.65 548.4,203.62 548.8,203.59 549.2,203.58 549.6,203.61 550.0,203.67 550.4,203.75 550.8,203.84 551.2,203.93 551.6,204.00 552.0,204.05 552.4,204.05 552.8,204.03 553.2,203.99 553.6,203.95 554.0,203.90 554.4,203.86 554.8,203.83 555.2,203.82 555.6,203.83 556.0,203.85 556.4,203.88 556.8,203.92 557.2,203.95 557.6,203.98 558.0,203.99 558.4,203.99 558.8,203.99 559.2,203.98 559.6,203.97 560.0,203.95 560.4,203.94 560.8,203.92 561.2,203.90 561.6,203.89 562.0,203.87 562.4,203.85 562.8,203.83 563.2,203.80 563.6,203.78 564.0,203.76 564.4,203.75 564.8,203.73 565.2,203.71 565.6,203.69 566.0,203.67 566.4,203.66 566.8,203.65 567.2,203.65 567.6,203.66 568.0,203.70 568.4,203.76 568.8,203.83 569.2,203.89 569.6,203.94 570.0,203.97 570.4,203.98 570.8,203.98 571.2,203.98 571.6,203.98 572.0,203.98 572.4,203.98 572.8,203.98 573.2,203.98 573.6,203.97 574.0,203.96 574.4,203.95 574.8,203.94 575.2,203.93 575.6,203.92 576.0,203.91 576.4,203.91 576.8,203.91 577.2,203.91 577.6,203.91 578.0,203.92 578.4,203.92 578.8,203.92 579.2,203.92 579.6,203.90 580.0,203.84 580.4,203.77 580.8,203.68 581.2,203.60 581.6,203.53 582.0,203.49 582.4,203.49 582.8,203.49 583.2,203.50 583.6,203.52 584.0,203.53 584.4,203.55 584.8,203.56 585.2,203.58 585.6,203.60 586.0,203.63 586.4,203.66 586.8,203.69 587.2,203.72 587.6,203.75 588.0,203.76 588.4,203.76 588.8,203.73 589.2,203.69 589.6,203.64 590.0,203.59 590.4,203.54 590.8,203.51 591.2,203.50 591.6,203.51 592.0,203.53 592.4,203.57 592.8,203.62 593.2,203.67 593.6,203.72 594.0,203.76 594.4,203.79 594.8,203.82 595.2,203.86 595.6,203.89 596.0,203.92 596.4,203.95 596.8,203.96 597.2,203.97 597.6,203.96 598.0,203.91 598.4,203.86 598.8,203.79 599.2,203.73 599.6,203.68 600.0,203.65 600.4,203.65 600.8,203.67 601.2,203.69 601.6,203.73 602.0,203.77 602.4,203.80 602.8,203.82 603.2,203.83 603.6,203.82 604.0,203.79 604.4,203.74 604.8,203.69 605.2,203.63 605.6,203.59 606.0,203.57 606.4,203.57 606.8,203.60 607.2,203.64 607.6,203.70 608.0,203.77 608.4,203.82 608.8,203.87 609.2,203.89 609.6,203.91 610.0,203.92 610.4,203.93 610.8,203.94 611.2,203.94 611.6,203.95 612.0,203.95 612.4,203.95 612.8,203.95 613.2,203.95 613.6,203.94 614.0,203.93 614.4,203.93 614.8,203.92 615.2,203.91 615.6,203.89 616.0,203.87 616.4,203.83 616.8,203.80 617.2,203.76 617.6,203.73 618.0,203.71 618.4,203.70 618.8,203.69 619.2,203.68 619.6,203.68 620.0,203.67 620.4,203.67 620.8,203.66 621.2,203.65 621.6,203.64 622.0,203.62 622.4,203.59 622.8,203.56 623.2,203.54 623.6,203.52 624.0,203.51 624.4,203.51 624.8,203.55 625.2,203.61 625.6,203.69 626.0,203.77 626.4,203.85 626.8,203.90 627.2,203.93 627.6,203.94 628.0,203.94 628.4,203.95 628.8,203.95 629.2,203.96 629.6,203.96 630.0,203.96 630.4,203.96 630.8,203.94 631.2,203.91 631.6,203.88 632.0,203.84 632.4,203.81 632.8,203.78 633.2,203.77 633.6,203.78 634.0,203.79 634.4,203.81 634.8,203.83 635.2,203.86 635.6,203.87 636.0,203.88 636.4,203.88 636.8,203.86 637.2,203.81 637.6,203.75 638.0,203.70 638.4,203.64 638.8,203.61 639.2,203.59 639.6,203.61 640.0,203.64 640.4,203.69 640.8,203.75 641.2,203.81 641.6,203.85 642.0,203.88 642.4,203.88 642.8,203.85 643.2,203.81 643.6,203.76 644.0,203.70 644.4,203.65 644.8,203.62 645.2,203.60 645.6,203.62 646.0,203.65 646.4,203.70 646.8,203.75 647.2,203.80 647.6,203.84 648.0,203.87 648.4,203.86 648.8,203.83 649.2,203.77 649.6,203.69 650.0,203.61 650.4,203.54 650.8,203.49 651.2,203.47 651.6,203.48 652.0,203.51 652.4,203.55 652.8,203.59 653.2,203.63 653.6,203.66 654.0,203.68 654.4,203.68 654.8,203.68 655.2,203.67 655.6,203.66 656.0,203.64 656.4,203.63 656.8,203.61 657.2,203.60 657.6,203.59 658.0,203.57 658.4,203.55 658.8,203.53 659.2,203.51 659.6,203.50 660.0,203.49 660.4,203.49 660.8,203.50 661.2,203.51 661.6,203.53 662.0,203.54 662.4,203.57 662.8,203.59 663.2,203.61 663.6,203.65 664.0,203.70 664.4,203.77 664.8,203.83 665.2,203.89 665.6,203.94 666.0,203.97 666.4,203.97 666.8,203.95 667.2,203.90 667.6,203.84 668.0,203.78 668.4,203.72 668.8,203.67 669.2,203.64 669.6,203.62 670.0,203.60 670.4,203.58 670.8,203.56 671.2,203.55 671.6,203.54 672.0,203.54 672.4,203.54 672.8,203.56 673.2,203.61 673.6,203.66 674.0,203.72 674.4,203.77 674.8,203.81 675.2,203.84 675.6,203.85 676.0,203.86 676.4,203.87 676.8,203.88 677.2,203.89 677.6,203.89 678.0,203.90 678.4,203.89 678.8,203.87 679.2,203.84 679.6,203.79 680.0,203.74 680.4,203.70 680.8,203.67 681.2,203.66 681.6,203.68 682.0,203.72 682.4,203.77 682.8,203.84 683.2,203.90 683.6,203.95 684.0,203.98 684.4,203.98 684.8,203.97 685.2,203.95 685.6,203.94 686.0,203.91 686.4,203.89 686.8,203.87 687.2,203.86 687.6,203.84 688.0,203.83 688.4,203.81 688.8,203.80 689.2,203.78 689.6,203.77 690.0,203.77 690.4,203.77 690.8,203.79 691.2,203.82 691.6,203.86 692.0,203.90 692.4,203.93 692.8,203.96 693.2,203.97 693.6,203.96 694.0,203.96 694.4,203.95 694.8,203.95 695.2,203.94 695.6,203.93 696.0,203.92 696.4,203.91 696.8,203.90 697.2,203.89 697.6,203.87 698.0,203.86 698.4,203.84 698.8,203.82 699.2,203.80 699.6,203.78 700.0,203.75 700.4,203.72 700.8,203.68 701.2,203.65 701.6,203.63 702.0,203.61 702.4,203.61 702.8,203.62 703.2,203.64 703.6,203.66 704.0,203.69 704.4,203.72 704.8,203.74 705.2,203.75 705.6,203.76 706.0,203.77 706.4,203.77 706.8,203.78 707.2,203.78 707.6,203.79 708.0,203.79 708.4,203.80 708.8,203.82 709.2,203.84 709.6,203.87 710.0,203.89 710.4,203.91 710.8,203.93 711.2,203.94 711.6,203.94 712.0,203.94 712.4,203.94 712.8,203.95 713.2,203.95 713.6,203.94 714.0,203.94 714.4,203.93 714.8,203.89 715.2,203.81 715.6,203.72 716.0,203.62 716.4,203.53 716.8,203.47 717.2,203.44 717.6,203.44 718.0,203.46 718.4,203.50 718.8,203.54 719.2,203.58 719.6,203.62 720.0,203.65 720.4,203.69 720.8,203.72 721.2,203.76 721.6,203.79 722.0,203.82 722.4,203.85 722.8,203.87 723.2,203.87 723.6,203.85 724.0,203.81 724.4,203.76 724.8,203.70 725.2,203.64 725.6,203.59 726.0,203.56 726.4,203.56 726.8,203.57 727.2,203.59 727.6,203.62 728.0,203.65 728.4,203.68 728.8,203.70 729.2,203.70 729.6,203.68 730.0,203.64 730.4,203.59 730.8,203.52 731.2,203.46 731.6,203.41 732.0,203.38 732.4,203.38 732.8,203.41 733.2,203.45 733.6,203.52 734.0,203.58 734.4,203.64 734.8,203.68 735.2,203.69 735.6,203.67 736.0,203.61 736.4,203.54 736.8,203.46 737.2,203.38 737.6,203.31 738.0,203.27 738.4,203.26 738.8,203.26 739.2,203.26 739.6,203.26 740.0,203.27 740.4,203.27 740.8,203.27 741.2,203.26 741.6,203.26 742.0,203.25 742.4,203.24 742.8,203.23 743.2,203.22 743.6,203.21 744.0,203.20 744.4,203.19 744.8,203.17 745.2,203.15 745.6,203.13 746.0,203.11 746.4,203.08 746.8,203.07 747.2,203.05 747.6,203.05 748.0,203.07 748.4,203.10 748.8,203.13 749.2,203.17 749.6,203.21 750.0,203.23 750.4,203.23 750.8,203.23 751.2,203.23 751.6,203.23 752.0,203.22 752.4,203.22 752.8,203.20 753.2,203.18 753.6,203.14 754.0,203.07 754.4,202.99 754.8,202.89 755.2,202.79 755.6,202.71 756.0,202.65 756.4,202.62 756.8,202.60 757.2,202.57 757.6,202.55 758.0,202.52 758.4,202.50 758.8,202.47 759.2,202.45 759.6,202.42 760.0,202.41 760.4,202.39 760.8,202.38 761.2,202.37 761.6,202.35 762.0,202.32 762.4,202.28 762.8,202.24 763.2,202.19 763.6,202.15 764.0,202.10 764.4,202.05 764.8,202.00 765.2,201.95 765.6,201.90 766.0,201.85 766.4,201.79 766.8,201.72 767.2,201.64 767.6,201.55 768.0,201.44 768.4,201.30 768.8,201.14 769.2,200.96 769.6,200.77 770.0,200.58 770.4,200.39 770.8,200.19 771.2,200.00 771.6,199.82 772.0,199.65 772.4,199.49 772.8,199.33 773.2,199.17 773.6,199.00 774.0,198.83 774.4,198.65 774.8,198.48 775.2,198.33 775.6,198.20 776.0,198.10 776.4,198.02 776.8,197.98 777.2,197.98 777.6,198.04 778.0,198.12 778.4,198.24 778.8,198.38 779.2,198.53 779.6,198.71 780.0,198.89 780.4,199.07 780.8,199.24 781.2,199.39 781.6,199.51 782.0,199.56 782.4,199.57 782.8,199.56 783.2,199.51 783.6,199.44 784.0,199.35 784.4,199.25 784.8,199.13 785.2,199.00 785.6,198.86 786.0,198.71 786.4,198.54 786.8,198.36 787.2,198.15 787.6,197.93 788.0,197.69 788.4,197.44 788.8,197.16 789.2,196.84 789.6,196.45 790.0,195.94 790.4,195.24 790.8,194.19 791.2,192.49 791.6,189.40 792.0,183.10 792.4,170.16 792.8,158.16 793.2,169.84 793.6,182.47 794.0,188.46 794.4,191.24 794.8,192.62 795.2,193.35 795.6,193.73 796.0,193.90 796.4,193.94 796.8,193.88 797.2,193.74 797.6,193.49 798.0,193.11 798.4,192.55 798.8,191.73 799.2,190.45 799.6,188.31 800.0,184.35 800.4,176.20 800.8,159.38 801.2,143.80 801.6,159.18 802.0,175.79 802.4,183.74 802.8,187.51 803.2,189.47 803.6,190.59 804.0,191.28 804.4,191.73 804.8,192.04 805.2,192.28 805.6,192.47 806.0,192.63 806.4,192.78 806.8,192.92 807.2,193.06 807.6,193.20 808.0,193.34 808.4,193.48 808.8,193.62 809.2,193.77 809.6,193.93 810.0,194.09 810.4,194.27 810.8,194.47 811.2,194.68 811.6,194.91 812.0,195.13 812.4,195.34 812.8,195.53 813.2,195.68 813.6,195.82 814.0,195.93 814.4,196.04 814.8,196.12 815.2,196.20 815.6,196.26 816.0,196.31 816.4,196.34 816.8,196.37 817.2,196.39 817.6,196.40 818.0,196.39 818.4,196.37 818.8,196.32 819.2,196.26 819.6,196.16 820.0,196.02 820.4,195.87 820.8,195.70 821.2,195.53 821.6,195.38 822.0,195.24 822.4,195.14 822.8,195.06 823.2,195.00 823.6,194.96 824.0,194.93 824.4,194.90 824.8,194.87 825.2,194.84 825.6,194.80 826.0,194.76 826.4,194.73 826.8,194.74 827.2,194.80 827.6,194.91 828.0,195.07 828.4,195.28 828.8,195.52 829.2,195.79 829.6,196.07 830.0,196.36 830.4,196.65 830.8,196.93 831.2,197.19 831.6,197.44 832.0,197.66 832.4,197.85 832.8,198.00 833.2,198.12 833.6,198.19 834.0,198.21 834.4,198.18 834.8,198.12 835.2,198.02 835.6,197.89 836.0,197.71 836.4,197.45 836.8,197.07 837.2,196.40 837.6,195.00 838.0,191.86 838.4,190.03 838.8,193.43 839.2,195.38 839.6,196.15 840.0,196.51 840.4,196.71 840.8,196.85 841.2,196.95 841.6,197.04 842.0,197.12 842.4,197.19 842.8,197.26 843.2,197.32 843.6,197.38 844.0,197.45 844.4,197.52 844.8,197.59 845.2,197.67 845.6,197.76 846.0,197.86 846.4,197.98 846.8,198.10 847.2,198.25 847.6,198.41 848.0,198.57 848.4,198.75 848.8,198.93 849.2,199.11 849.6,199.28 850.0,199.44 850.4,199.59 850.8,199.72 851.2,199.84 851.6,199.96 852.0,200.06 852.4,200.16 852.8,200.23 853.2,200.29 853.6,200.32 854.0,200.33 854.4,200.31 854.8,200.25 855.2,200.16 855.6,200.04 856.0,199.91 856.4,199.77 856.8,199.61 857.2,199.45 857.6,199.27 858.0,199.09 858.4,198.90 858.8,198.73 859.2,198.57 859.6,198.43 860.0,198.32 860.4,198.24 860.8,198.20 861.2,198.20 861.6,198.22 862.0,198.25 862.4,198.29 862.8,198.35 863.2,198.42 863.6,198.51 864.0,198.62 864.4,198.74 864.8,198.88 865.2,199.02 865.6,199.17 866.0,199.32 866.4,199.47 866.8,199.61 867.2,199.73 867.6,199.83 868.0,199.89 868.4,199.94 868.8,199.97 869.2,200.01 869.6,200.05 870.0,200.12 870.4,200.21 870.8,200.30 871.2,200.39 871.6,200.49 872.0,200.59 872.4,200.68 872.8,200.77 873.2,200.86 873.6,200.95 874.0,201.03 874.4,201.10 874.8,201.18 875.2,201.25 875.6,201.32 876.0,201.40 876.4,201.47 876.8,201.55 877.2,201.62 877.6,201.70 878.0,201.77 878.4,201.85 878.8,201.93 879.2,202.01 879.6,202.11 880.0,202.21 880.4,202.33 880.8,202.46 881.2,202.60 881.6,202.75 882.0,202.89 882.4,203.02 882.8,203.16 883.2,203.30 883.6,203.44 884.0,203.58 884.4,203.70 884.8,203.82 885.2,203.92 885.6,203.99 886.0,204.04 886.4,204.08 886.8,204.09 887.2,204.10 887.6,204.10 888.0,204.11 888.4,204.12 888.8,204.15 889.2,204.19 889.6,204.23 890.0,204.27 890.4,204.30 890.8,204.30 891.2,204.28 891.6,204.22 892.0,204.13 892.4,204.01 892.8,203.89 893.2,203.77 893.6,203.66 894.0,203.56 894.4,203.49 894.8,203.42 895.2,203.36 895.6,203.29 896.0,203.22 896.4,203.15 896.8,203.09 897.2,203.02 897.6,202.97 898.0,202.94 898.4,202.92 898.8,202.91 899.2,202.90 899.6,202.89 900.0,202.86 900.4,202.81 900.8,202.75 901.2,202.67 901.6,202.60 902.0,202.52 902.4,202.44 902.8,202.36 903.2,202.28 903.6,202.20 904.0,202.13 904.4,202.06 904.8,201.99 905.2,201.92 905.6,201.84 906.0,201.77 906.4,201.69 906.8,201.61 907.2,201.52 907.6,201.41 908.0,201.29 908.4,201.16 908.8,201.00 909.2,200.81 909.6,200.58 910.0,200.29 910.4,199.92 910.8,199.44 911.2,198.80 911.6,197.94 912.0,196.75 912.4,195.07 912.8,192.64 913.2,189.08 913.6,183.82 914.0,176.21 914.4,165.94 914.8,154.38 915.2,145.97 915.6,146.00 916.0,154.48 916.4,166.10 916.8,176.44 917.2,184.12 917.6,189.45 918.0,193.08 918.4,195.57 918.8,197.33 919.2,198.59 919.6,199.53 920.0,200.24 920.4,200.79 920.8,201.22 921.2,201.55 921.6,201.82 922.0,202.03 922.4,202.21 922.8,202.36 923.2,202.50 923.6,202.61 924.0,202.72 924.4,202.82 924.8,202.92 925.2,203.03 925.6,203.15 926.0,203.28 926.4,203.40 926.8,203.53 927.2,203.64 927.6,203.73 928.0,203.79 928.4,203.83 928.8,203.85 929.2,203.85 929.6,203.85 930.0,203.85 930.4,203.88 930.8,203.91 931.2,203.96 931.6,204.01 932.0,204.06 932.4,204.12 932.8,204.17 933.2,204.21 933.6,204.24 934.0,204.28 934.4,204.32 934.8,204.35 935.2,204.38 935.6,204.40 936.0,204.41 936.4,204.42 936.8,204.42 937.2,204.42 937.6,204.41 938.0,204.41 938.4,204.40 938.8,204.39 939.2,204.38 939.6,204.37 940.0,204.36 940.4,204.35 940.8,204.34 941.2,204.32 941.6,204.30 942.0,204.29 942.4,204.27 942.8,204.24 943.2,204.22 943.6,204.19 944.0,204.16 944.4,204.14 944.8,204.12 945.2,204.12 945.6,204.13 946.0,204.17 946.4,204.21 946.8,204.27 947.2,204.32 947.6,204.37 948.0,204.39 948.4,204.40 948.8,204.40 949.2,204.40 949.6,204.40 950.0,204.39 950.4,204.39 950.8,204.38 951.2,204.37 951.6,204.33 952.0,204.26 952.4,204.17 952.8,204.07 953.2,203.96 953.6,203.87 954.0,203.79 954.4,203.75 954.8,203.73 955.2,203.72 955.6,203.72 956.0,203.71 956.4,203.67 956.8,203.58 957.2,203.43 957.6,203.21 958.0,202.93 958.4,202.56 958.8,202.07 959.2,201.40 959.6,200.48 960.0,199.19 960.4,197.33 960.8,194.56 961.2,190.41 961.6,184.15 962.0,174.89 962.4,162.29 962.8,148.49 963.2,140.00 963.6,143.05 964.0,155.19 964.4,168.87 964.8,179.77 965.2,187.35 965.6,192.39 966.0,195.73 966.4,197.98 966.8,199.56 967.2,200.70 967.6,201.54 968.0,202.18 968.4,202.67 968.8,203.05 969.2,203.32 969.6,203.52 970.0,203.68 970.4,203.79 970.8,203.88 971.2,203.95 971.6,204.00 972.0,204.04 972.4,204.07 972.8,204.08 973.2,204.08 973.6,204.08 974.0,204.07 974.4,204.07 974.8,204.07 975.2,204.08 975.6,204.11 976.0,204.16 976.4,204.22 976.8,204.28 977.2,204.35 977.6,204.41 978.0,204.46 978.4,204.49 978.8,204.53 979.2,204.56 979.6,204.58 980.0,204.61 980.4,204.63 980.8,204.64 981.2,204.65 981.6,204.65 982.0,204.66 982.4,204.66 982.8,204.65 983.2,204.65 983.6,204.64 984.0,204.63 984.4,204.62 984.8,204.59 985.2,204.53 985.6,204.46 986.0,204.40 986.4,204.34 986.8,204.30 987.2,204.28 987.6,204.28 988.0,204.29 988.4,204.29 988.8,204.29 989.2,204.29 989.6,204.29 990.0,204.30 990.4,204.30 990.8,204.33 991.2,204.36 991.6,204.41 992.0,204.46 992.4,204.51 992.8,204.55 993.2,204.58 993.6,204.59 994.0,204.61 994.4,204.62 994.8,204.63 995.2,204.64 995.6,204.65 996.0,204.66 996.4,204.68 996.8,204.70 997.2,204.73 997.6,204.75 998.0,204.78 998.4,204.80 998.8,204.82 999.2,204.83 999.6,204.82 1000.0,204.81 1000.4,204.79 1000.8,204.77 1001.2,204.75 1001.6,204.73 1002.0,204.72 1002.4,204.72 1002.8,204.72 1003.2,204.71 1003.6,204.71 1004.0,204.71 1004.4,204.71 1004.8,204.71 1005.2,204.71 1005.6,204.71 1006.0,204.72 1006.4,204.74 1006.8,204.76 1007.2,204.78 1007.6,204.80 1008.0,204.81 1008.4,204.80 1008.8,204.78 1009.2,204.74 1009.6,204.70 1010.0,204.64 1010.4,204.59 1010.8,204.55 1011.2,204.51 1011.6,204.47 1012.0,204.44 1012.4,204.41 1012.8,204.37 1013.2,204.34 1013.6,204.30 1014.0,204.27 1014.4,204.24 1014.8,204.20 1015.2,204.16 1015.6,204.11 1016.0,204.06 1016.4,203.99 1016.8,203.92 1017.2,203.84 1017.6,203.75 1018.0,203.64 1018.4,203.52 1018.8,203.37 1019.2,203.19 1019.6,202.97 1020.0,202.72 1020.4,202.43 1020.8,202.13 1021.2,201.86 1021.6,201.64 1022.0,201.52 1022.4,201.50 1022.8,201.55 1023.2,201.63 1023.6,201.67 1024.0,201.64 1024.4,201.54 1024.8,201.35 1025.2,201.11 1025.6,200.86 1026.0,200.66 1026.4,200.59 1026.8,200.68 1027.2,200.93 1027.6,201.28 1028.0,201.67 1028.4,202.05 1028.8,202.41 1029.2,202.74 1029.6,203.05 1030.0,203.34 1030.4,203.63 1030.8,203.89 1031.2,204.12 1031.6,204.31 1032.0,204.45 1032.4,204.54 1032.8,204.62 1033.2,204.68 1033.6,204.73 1034.0,204.77 1034.4,204.80 1034.8,204.83 1035.2,204.85 1035.6,204.85 1036.0,204.82 1036.4,204.77 1036.8,204.71 1037.2,204.66 1037.6,204.61 1038.0,204.59 1038.4,204.61 1038.8,204.66 1039.2,204.73 1039.6,204.82 1040.0,204.91 1040.4,204.99 1040.8,205.05 1041.2,205.07 1041.6,205.07 1042.0,205.04 1042.4,204.99 1042.8,204.93 1043.2,204.88 1043.6,204.83 1044.0,204.79 1044.4,204.78 1044.8,204.77 1045.2,204.76 1045.6,204.75 1046.0,204.74 1046.4,204.74 1046.8,204.74 1047.2,204.74 1047.6,204.75 1048.0,204.77 1048.4,204.80 1048.8,204.83 1049.2,204.87 1049.6,204.90 1050.0,204.93 1050.4,204.96 1050.8,204.99 1051.2,205.02 1051.6,205.05 1052.0,205.08 1052.4,205.11 1052.8,205.12 1053.2,205.13 1053.6,205.12 1054.0,205.09 1054.4,205.05 1054.8,205.00 1055.2,204.96 1055.6,204.92 1056.0,204.90 1056.4,204.90 1056.8,204.91 1057.2,204.92 1057.6,204.93 1058.0,204.94 1058.4,204.96 1058.8,204.98 1059.2,205.00 1059.6,205.02 1060.0,205.05 1060.4,205.09 1060.8,205.14 1061.2,205.17 1061.6,205.20 1062.0,205.22 1062.4,205.22 1062.8,205.18 1063.2,205.12 1063.6,205.05 1064.0,204.97 1064.4,204.90 1064.8,204.85 1065.2,204.83 1065.6,204.85 1066.0,204.88 1066.4,204.94 1066.8,204.99 1067.2,205.05 1067.6,205.09 1068.0,205.12 1068.4,205.12 1068.8,205.11 1069.2,205.09 1069.6,205.06 1070.0,205.03 1070.4,205.00 1070.8,204.97 1071.2,204.95 1071.6,204.92 1072.0,204.90 1072.4,204.88 1072.8,204.85 1073.2,204.83 1073.6,204.82 1074.0,204.81 1074.4,204.81 1074.8,204.85 1075.2,204.91 1075.6,204.98 1076.0,205.06 1076.4,205.13 1076.8,205.18 1077.2,205.20 1077.6,205.20 1078.0,205.19 1078.4,205.19 1078.8,205.18 1079.2,205.17 1079.6,205.16" fill="none" stroke="#0000ff" stroke-width="3.8" stroke-linejoin="round" stroke-linecap="round"/>
<polyline points="205.2,414.87 205.6,414.93 206.0,414.98 206.4,415.03 206.8,415.07 207.2,415.08 207.6,415.06 208.0,415.01 208.4,414.94 208.8,414.86 209.2,414.78 209.6,414.72 210.0,414.69 210.4,414.68 210.8,414.71 211.2,414.74 211.6,414.79 212.0,414.85 212.4,414.89 212.8,414.93 213.2,414.96 213.6,414.97 214.0,414.99 214.4,415.00 214.8,415.01 215.2,415.02 215.6,415.03 216.0,415.03 216.4,415.03 216.8,415.00 217.2,414.96 217.6,414.91 218.0,414.85 218.4,414.80 218.8,414.76 219.2,414.73 219.6,414.72 220.0,414.70 220.4,414.69 220.8,414.68 221.2,414.67 221.6,414.66 222.0,414.66 222.4,414.66 222.8,414.66 223.2,414.68 223.6,414.69 224.0,414.71 224.4,414.73 224.8,414.76 225.2,414.78 225.6,414.80 226.0,414.84 226.4,414.87 226.8,414.91 227.2,414.94 227.6,414.97 228.0,414.98 228.4,414.99 228.8,414.98 229.2,414.98 229.6,414.97 230.0,414.96 230.4,414.95 230.8,414.94 231.2,414.93 231.6,414.91 232.0,414.88 232.4,414.84 232.8,414.80 233.2,414.76 233.6,414.73 234.0,414.71 234.4,414.71 234.8,414.72 235.2,414.73 235.6,414.76 236.0,414.78 236.4,414.81 236.8,414.84 237.2,414.86 237.6,414.88 238.0,414.90 238.4,414.92 238.8,414.95 239.2,414.97 239.6,414.98 240.0,414.99 240.4,414.99 240.8,414.97 241.2,414.95 241.6,414.93 242.0,414.90 242.4,414.87 242.8,414.86 243.2,414.85 243.6,414.85 244.0,414.86 244.4,414.88 244.8,414.89 245.2,414.91 245.6,414.93 246.0,414.95 246.4,414.97 246.8,415.00 247.2,415.03 247.6,415.07 248.0,415.10 248.4,415.12 248.8,415.14 249.2,415.15 249.6,415.14 250.0,415.13 250.4,415.11 250.8,415.08 251.2,415.05 251.6,415.02 252.0,415.00 252.4,414.98 252.8,414.95 253.2,414.93 253.6,414.91 254.0,414.89 254.4,414.86 254.8,414.84 255.2,414.82 255.6,414.81 256.0,414.78 256.4,414.76 256.8,414.75 257.2,414.73 257.6,414.72 258.0,414.71 258.4,414.71 258.8,414.71 259.2,414.72 259.6,414.74 260.0,414.75 260.4,414.76 260.8,414.78 261.2,414.79 261.6,414.80 262.0,414.81 262.4,414.82 262.8,414.83 263.2,414.84 263.6,414.86 264.0,414.87 264.4,414.89 264.8,414.92 265.2,414.95 265.6,414.99 266.0,415.02 266.4,415.05 266.8,415.07 267.2,415.08 267.6,415.08 268.0,415.07 268.4,415.07 268.8,415.06 269.2,415.04 269.6,415.03 270.0,415.02 270.4,415.00 270.8,414.97 271.2,414.93 271.6,414.88 272.0,414.83 272.4,414.79 272.8,414.76 273.2,414.75 273.6,414.76 274.0,414.80 274.4,414.86 274.8,414.93 275.2,414.99 275.6,415.04 276.0,415.07 276.4,415.07 276.8,415.04 277.2,415.00 277.6,414.95 278.0,414.90 278.4,414.85 278.8,414.82 279.2,414.80 279.6,414.80 280.0,414.82 280.4,414.83 280.8,414.85 281.2,414.87 281.6,414.89 282.0,414.89 282.4,414.89 282.8,414.85 283.2,414.80 283.6,414.73 284.0,414.66 284.4,414.59 284.8,414.54 285.2,414.52 285.6,414.50 286.0,414.49 286.4,414.48 286.8,414.47 287.2,414.45 287.6,414.43 288.0,414.41 288.4,414.39 288.8,414.36 289.2,414.34 289.6,414.31 290.0,414.28 290.4,414.24 290.8,414.20 291.2,414.14 291.6,414.10 292.0,414.05 292.4,414.01 292.8,413.94 293.2,413.84 293.6,413.68 294.0,413.44 294.4,413.09 294.8,412.64 295.2,412.05 295.6,411.29 296.0,410.35 296.4,409.19 296.8,407.77 297.2,405.96 297.6,403.40 298.0,399.45 298.4,393.25 298.8,384.12 299.2,372.94 299.6,364.31 300.0,364.48 300.4,373.47 300.8,385.02 301.2,394.55 301.6,401.15 302.0,405.46 302.4,408.23 302.8,410.06 303.2,411.28 303.6,412.11 304.0,412.70 304.4,413.11 304.8,413.41 305.2,413.64 305.6,413.81 306.0,413.95 306.4,414.06 306.8,414.16 307.2,414.24 307.6,414.31 308.0,414.37 308.4,414.42 308.8,414.46 309.2,414.50 309.6,414.53 310.0,414.55 310.4,414.57 310.8,414.59 311.2,414.61 311.6,414.62 312.0,414.64 312.4,414.66 312.8,414.68 313.2,414.71 313.6,414.74 314.0,414.76 314.4,414.79 314.8,414.80 315.2,414.81 315.6,414.80 316.0,414.76 316.4,414.72 316.8,414.67 317.2,414.62 317.6,414.58 318.0,414.55 318.4,414.55 318.8,414.56 319.2,414.59 319.6,414.63 320.0,414.67 320.4,414.71 320.8,414.73 321.2,414.73 321.6,414.71 322.0,414.67 322.4,414.63 322.8,414.58 323.2,414.54 323.6,414.49 324.0,414.46 324.4,414.44 324.8,414.42 325.2,414.41 325.6,414.40 326.0,414.39 326.4,414.38 326.8,414.35 327.2,414.31 327.6,414.25 328.0,414.16 328.4,414.06 328.8,413.94 329.2,413.81 329.6,413.67 330.0,413.52 330.4,413.35 330.8,413.16 331.2,412.93 331.6,412.64 332.0,412.28 332.4,411.84 332.8,411.34 333.2,410.81 333.6,410.37 334.0,410.14 334.4,410.19 334.8,410.45 335.2,410.82 335.6,411.17 336.0,411.47 336.4,411.70 336.8,411.86 337.2,411.96 337.6,412.00 338.0,411.99 338.4,411.92 338.8,411.81 339.2,411.64 339.6,411.41 340.0,411.11 340.4,410.75 340.8,410.32 341.2,409.81 341.6,409.20 342.0,408.49 342.4,407.64 342.8,406.64 343.2,405.44 343.6,404.03 344.0,402.36 344.4,400.44 344.8,398.30 345.2,396.06 345.6,393.92 346.0,392.20 346.4,391.23 346.8,391.22 347.2,392.19 347.6,393.91 348.0,396.05 348.4,398.30 348.8,400.47 349.2,402.44 349.6,404.18 350.0,405.68 350.4,406.94 350.8,407.99 351.2,408.85 351.6,409.56 352.0,410.14 352.4,410.62 352.8,411.03 353.2,411.37 353.6,411.67 354.0,411.93 354.4,412.17 354.8,412.40 355.2,412.62 355.6,412.82 356.0,413.01 356.4,413.17 356.8,413.31 357.2,413.41 357.6,413.49 358.0,413.56 358.4,413.61 358.8,413.66 359.2,413.69 359.6,413.72 360.0,413.73 360.4,413.74 360.8,413.71 361.2,413.67 361.6,413.61 362.0,413.54 362.4,413.46 362.8,413.38 363.2,413.30 363.6,413.24 364.0,413.18 364.4,413.11 364.8,413.02 365.2,412.90 365.6,412.75 366.0,412.55 366.4,412.31 366.8,412.05 367.2,411.81 367.6,411.62 368.0,411.51 368.4,411.49 368.8,411.56 369.2,411.71 369.6,411.89 370.0,412.08 370.4,412.24 370.8,412.38 371.2,412.47 371.6,412.51 372.0,412.51 372.4,412.46 372.8,412.37 373.2,412.25 373.6,412.14 374.0,412.05 374.4,412.02 374.8,412.07 375.2,412.18 375.6,412.35 376.0,412.54 376.4,412.74 376.8,412.93 377.2,413.11 377.6,413.27 378.0,413.42 378.4,413.55 378.8,413.66 379.2,413.75 379.6,413.84 380.0,413.91 380.4,413.97 380.8,414.03 381.2,414.08 381.6,414.12 382.0,414.16 382.4,414.20 382.8,414.23 383.2,414.26 383.6,414.29 384.0,414.31 384.4,414.34 384.8,414.38 385.2,414.43 385.6,414.49 386.0,414.55 386.4,414.61 386.8,414.65 387.2,414.67 387.6,414.67 388.0,414.65 388.4,414.62 388.8,414.57 389.2,414.53 389.6,414.50 390.0,414.47 390.4,414.47 390.8,414.46 391.2,414.46 391.6,414.46 392.0,414.46 392.4,414.46 392.8,414.46 393.2,414.46 393.6,414.49 394.0,414.55 394.4,414.63 394.8,414.72 395.2,414.81 395.6,414.89 396.0,414.93 396.4,414.93 396.8,414.90 397.2,414.84 397.6,414.77 398.0,414.69 398.4,414.62 398.8,414.57 399.2,414.55 399.6,414.57 400.0,414.59 400.4,414.63 400.8,414.67 401.2,414.70 401.6,414.74 402.0,414.76 402.4,414.77 402.8,414.77 403.2,414.78 403.6,414.78 404.0,414.78 404.4,414.79 404.8,414.79 405.2,414.80 405.6,414.80 406.0,414.82 406.4,414.83 406.8,414.84 407.2,414.86 407.6,414.87 408.0,414.88 408.4,414.88 408.8,414.87 409.2,414.86 409.6,414.85 410.0,414.84 410.4,414.83 410.8,414.82 411.2,414.82 411.6,414.83 412.0,414.86 412.4,414.90 412.8,414.95 413.2,415.00 413.6,415.03 414.0,415.06 414.4,415.06 414.8,415.05 415.2,415.04 415.6,415.03 416.0,415.01 416.4,414.99 416.8,414.97 417.2,414.96 417.6,414.94 418.0,414.93 418.4,414.91 418.8,414.89 419.2,414.88 419.6,414.87 420.0,414.86 420.4,414.86 420.8,414.86 421.2,414.87 421.6,414.87 422.0,414.88 422.4,414.88 422.8,414.88 423.2,414.88 423.6,414.88 424.0,414.87 424.4,414.86 424.8,414.85 425.2,414.84 425.6,414.82 426.0,414.82 426.4,414.82 426.8,414.84 427.2,414.88 427.6,414.93 428.0,414.98 428.4,415.02 428.8,415.05 429.2,415.06 429.6,415.04 430.0,414.99 430.4,414.91 430.8,414.83 431.2,414.75 431.6,414.69 432.0,414.65 432.4,414.65 432.8,414.67 433.2,414.70 433.6,414.75 434.0,414.80 434.4,414.84 434.8,414.87 435.2,414.88 435.6,414.88 436.0,414.87 436.4,414.86 436.8,414.84 437.2,414.83 437.6,414.81 438.0,414.79 438.4,414.77 438.8,414.73 439.2,414.68 439.6,414.62 440.0,414.57 440.4,414.52 440.8,414.48 441.2,414.46 441.6,414.46 442.0,414.46 442.4,414.47 442.8,414.48 443.2,414.50 443.6,414.51 444.0,414.53 444.4,414.55 444.8,414.58 445.2,414.63 445.6,414.68 446.0,414.73 446.4,414.77 446.8,414.79 447.2,414.78 447.6,414.76 448.0,414.74 448.4,414.71 448.8,414.67 449.2,414.63 449.6,414.59 450.0,414.54 450.4,414.48 450.8,414.39 451.2,414.28 451.6,414.15 452.0,414.02 452.4,413.89 452.8,413.78 453.2,413.68 453.6,413.61 454.0,413.53 454.4,413.45 454.8,413.37 455.2,413.27 455.6,413.15 456.0,413.01 456.4,412.85 456.8,412.66 457.2,412.47 457.6,412.27 458.0,412.08 458.4,411.93 458.8,411.81 459.2,411.74 459.6,411.73 460.0,411.78 460.4,411.88 460.8,412.00 461.2,412.10 461.6,412.19 462.0,412.22 462.4,412.20 462.8,412.12 463.2,412.00 463.6,411.86 464.0,411.71 464.4,411.58 464.8,411.49 465.2,411.46 465.6,411.50 466.0,411.58 466.4,411.70 466.8,411.86 467.2,412.04 467.6,412.23 468.0,412.43 468.4,412.62 468.8,412.85 469.2,413.09 469.6,413.34 470.0,413.58 470.4,413.79 470.8,413.97 471.2,414.09 471.6,414.17 472.0,414.21 472.4,414.23 472.8,414.24 473.2,414.24 473.6,414.25 474.0,414.26 474.4,414.28 474.8,414.31 475.2,414.33 475.6,414.35 476.0,414.37 476.4,414.39 476.8,414.41 477.2,414.42 477.6,414.42 478.0,414.42 478.4,414.41 478.8,414.39 479.2,414.38 479.6,414.38 480.0,414.38 480.4,414.39 480.8,414.42 481.2,414.46 481.6,414.50 482.0,414.55 482.4,414.59 482.8,414.62 483.2,414.64 483.6,414.65 484.0,414.65 484.4,414.65 484.8,414.66 485.2,414.66 485.6,414.66 486.0,414.67 486.4,414.67 486.8,414.68 487.2,414.70 487.6,414.72 488.0,414.74 488.4,414.76 488.8,414.77 489.2,414.78 489.6,414.77 490.0,414.74 490.4,414.69 490.8,414.63 491.2,414.58 491.6,414.54 492.0,414.51 492.4,414.51 492.8,414.52 493.2,414.53 493.6,414.55 494.0,414.56 494.4,414.58 494.8,414.59 495.2,414.60 495.6,414.60 496.0,414.61 496.4,414.61 496.8,414.62 497.2,414.62 497.6,414.63 498.0,414.63 498.4,414.64 498.8,414.65 499.2,414.67 499.6,414.70 500.0,414.72 500.4,414.74 500.8,414.75 501.2,414.76 501.6,414.75 502.0,414.74 502.4,414.73 502.8,414.71 503.2,414.69 503.6,414.68 504.0,414.67 504.4,414.67 504.8,414.68 505.2,414.71 505.6,414.74 506.0,414.77 506.4,414.79 506.8,414.81 507.2,414.81 507.6,414.80 508.0,414.77 508.4,414.74 508.8,414.70 509.2,414.65 509.6,414.62 510.0,414.60 510.4,414.59 510.8,414.61 511.2,414.65 511.6,414.71 512.0,414.76 512.4,414.81 512.8,414.85 513.2,414.85 513.6,414.84 514.0,414.83 514.4,414.82 514.8,414.80 515.2,414.79 515.6,414.76 516.0,414.74 516.4,414.70 516.8,414.62 517.2,414.51 517.6,414.37 518.0,414.22 518.4,414.08 518.8,413.96 519.2,413.87 519.6,413.79 520.0,413.71 520.4,413.63 520.8,413.53 521.2,413.43 521.6,413.31 522.0,413.18 522.4,413.04 522.8,412.90 523.2,412.77 523.6,412.64 524.0,412.53 524.4,412.45 524.8,412.40 525.2,412.40 525.6,412.45 526.0,412.54 526.4,412.67 526.8,412.83 527.2,413.00 527.6,413.18 528.0,413.35 528.4,413.50 528.8,413.61 529.2,413.68 529.6,413.73 530.0,413.76 530.4,413.78 530.8,413.82 531.2,413.88 531.6,413.95 532.0,414.01 532.4,414.08 532.8,414.13 533.2,414.19 533.6,414.24 534.0,414.29 534.4,414.33 534.8,414.37 535.2,414.42 535.6,414.46 536.0,414.51 536.4,414.55 536.8,414.59 537.2,414.62 537.6,414.65 538.0,414.68 538.4,414.71 538.8,414.74 539.2,414.76 539.6,414.79 540.0,414.81 540.4,414.84 540.8,414.87 541.2,414.90 541.6,414.93 542.0,414.95 542.4,414.98 542.8,414.99 543.2,415.00 543.6,415.01 544.0,415.01 544.4,415.01 544.8,415.02 545.2,415.02 545.6,415.02 546.0,415.02 546.4,415.02 546.8,415.02 547.2,415.01 547.6,415.01 548.0,415.01 548.4,415.01 548.8,415.00 549.2,415.00 549.6,414.97 550.0,414.92 550.4,414.85 550.8,414.77 551.2,414.70 551.6,414.64 552.0,414.61 552.4,414.61 552.8,414.66 553.2,414.74 553.6,414.84 554.0,414.94 554.4,415.03 554.8,415.10 555.2,415.12 555.6,415.12 556.0,415.10 556.4,415.08 556.8,415.05 557.2,415.02 557.6,414.98 558.0,414.95 558.4,414.91 558.8,414.87 559.2,414.82 559.6,414.77 560.0,414.72 560.4,414.68 560.8,414.66 561.2,414.65 561.6,414.65 562.0,414.66 562.4,414.67 562.8,414.68 563.2,414.70 563.6,414.72 564.0,414.74 564.4,414.76 564.8,414.78 565.2,414.82 565.6,414.85 566.0,414.89 566.4,414.92 566.8,414.94 567.2,414.95 567.6,414.94 568.0,414.93 568.4,414.91 568.8,414.88 569.2,414.86 569.6,414.84 570.0,414.83 570.4,414.83 570.8,414.83 571.2,414.83 571.6,414.83 572.0,414.84 572.4,414.85 572.8,414.85 573.2,414.86 573.6,414.88 574.0,414.90 574.4,414.94 574.8,414.97 575.2,415.01 575.6,415.04 576.0,415.06 576.4,415.06 576.8,415.06 577.2,415.07 577.6,415.07 578.0,415.07 578.4,415.07 578.8,415.07 579.2,415.07 579.6,415.07 580.0,415.05 580.4,415.02 580.8,414.99 581.2,414.96 581.6,414.94 582.0,414.92 582.4,414.92 582.8,414.94 583.2,414.96 583.6,414.98 584.0,415.01 584.4,415.04 584.8,415.05 585.2,415.06 585.6,415.05 586.0,415.02 586.4,414.98 586.8,414.94 587.2,414.90 587.6,414.87 588.0,414.85 588.4,414.85 588.8,414.88 589.2,414.93 589.6,414.99 590.0,415.05 590.4,415.11 590.8,415.15 591.2,415.16 591.6,415.15 592.0,415.13 592.4,415.09 592.8,415.05 593.2,415.01 593.6,414.98 594.0,414.96 594.4,414.96 594.8,414.98 595.2,415.01 595.6,415.05 596.0,415.09 596.4,415.12 596.8,415.15 597.2,415.16 597.6,415.14 598.0,415.07 598.4,414.98 598.8,414.88 599.2,414.78 599.6,414.71 600.0,414.66 600.4,414.66 600.8,414.70 601.2,414.77 601.6,414.86 602.0,414.95 602.4,415.03 602.8,415.09 603.2,415.11 603.6,415.11 604.0,415.08 604.4,415.05 604.8,415.02 605.2,414.98 605.6,414.96 606.0,414.94 606.4,414.94 606.8,414.95 607.2,414.96 607.6,414.98 608.0,414.99 608.4,415.01 608.8,415.02 609.2,415.02 609.6,415.01 610.0,414.97 610.4,414.92 610.8,414.87 611.2,414.81 611.6,414.77 612.0,414.74 612.4,414.74 612.8,414.76 613.2,414.79 613.6,414.82 614.0,414.86 614.4,414.90 614.8,414.92 615.2,414.93 615.6,414.93 616.0,414.91 616.4,414.89 616.8,414.87 617.2,414.84 617.6,414.82 618.0,414.80 618.4,414.78 618.8,414.77 619.2,414.75 619.6,414.74 620.0,414.72 620.4,414.71 620.8,414.70 621.2,414.69 621.6,414.68 622.0,414.67 622.4,414.66 622.8,414.65 623.2,414.64 623.6,414.63 624.0,414.63 624.4,414.64 624.8,414.68 625.2,414.76 625.6,414.85 626.0,414.95 626.4,415.04 626.8,415.10 627.2,415.13 627.6,415.12 628.0,415.11 628.4,415.10 628.8,415.08 629.2,415.06 629.6,415.03 630.0,415.01 630.4,414.98 630.8,414.95 631.2,414.90 631.6,414.86 632.0,414.81 632.4,414.78 632.8,414.75 633.2,414.74 633.6,414.74 634.0,414.74 634.4,414.74 634.8,414.75 635.2,414.75 635.6,414.76 636.0,414.76 636.4,414.77 636.8,414.78 637.2,414.79 637.6,414.81 638.0,414.82 638.4,414.84 638.8,414.86 639.2,414.88 639.6,414.90 640.0,414.93 640.4,414.97 640.8,415.00 641.2,415.03 641.6,415.06 642.0,415.07 642.4,415.07 642.8,415.03 643.2,414.97 643.6,414.90 644.0,414.82 644.4,414.75 644.8,414.70 645.2,414.69 645.6,414.71 646.0,414.77 646.4,414.85 646.8,414.94 647.2,415.03 647.6,415.10 648.0,415.15 648.4,415.15 648.8,415.15 649.2,415.15 649.6,415.15 650.0,415.15 650.4,415.14 650.8,415.14 651.2,415.14 651.6,415.12 652.0,415.07 652.4,415.00 652.8,414.92 653.2,414.85 653.6,414.79 654.0,414.76 654.4,414.75 654.8,414.77 655.2,414.81 655.6,414.85 656.0,414.89 656.4,414.93 656.8,414.96 657.2,414.97 657.6,414.96 658.0,414.94 658.4,414.91 658.8,414.88 659.2,414.85 659.6,414.83 660.0,414.81 660.4,414.81 660.8,414.83 661.2,414.86 661.6,414.89 662.0,414.93 662.4,414.96 662.8,414.98 663.2,414.99 663.6,414.98 664.0,414.93 664.4,414.87 664.8,414.81 665.2,414.74 665.6,414.69 666.0,414.66 666.4,414.66 666.8,414.67 667.2,414.70 667.6,414.74 668.0,414.77 668.4,414.81 668.8,414.84 669.2,414.86 669.6,414.87 670.0,414.89 670.4,414.89 670.8,414.90 671.2,414.91 671.6,414.92 672.0,414.92 672.4,414.93 672.8,414.93 673.2,414.93 673.6,414.93 674.0,414.93 674.4,414.94 674.8,414.94 675.2,414.94 675.6,414.95 676.0,414.95 676.4,414.95 676.8,414.96 677.2,414.96 677.6,414.97 678.0,414.97 678.4,414.98 678.8,414.99 679.2,415.01 679.6,415.03 680.0,415.05 680.4,415.07 680.8,415.08 681.2,415.08 681.6,415.06 682.0,415.02 682.4,414.96 682.8,414.89 683.2,414.83 683.6,414.77 684.0,414.73 684.4,414.71 684.8,414.70 685.2,414.69 685.6,414.68 686.0,414.68 686.4,414.67 686.8,414.67 687.2,414.67 687.6,414.67 688.0,414.68 688.4,414.70 688.8,414.72 689.2,414.74 689.6,414.77 690.0,414.79 690.4,414.80 690.8,414.81 691.2,414.82 691.6,414.84 692.0,414.85 692.4,414.86 692.8,414.87 693.2,414.89 693.6,414.91 694.0,414.94 694.4,414.98 694.8,415.02 695.2,415.05 695.6,415.08 696.0,415.10 696.4,415.10 696.8,415.08 697.2,415.06 697.6,415.04 698.0,415.01 698.4,414.98 698.8,414.96 699.2,414.96 699.6,414.96 700.0,414.96 700.4,414.96 700.8,414.96 701.2,414.96 701.6,414.96 702.0,414.97 702.4,414.97 702.8,414.98 703.2,415.00 703.6,415.03 704.0,415.05 704.4,415.07 704.8,415.09 705.2,415.09 705.6,415.07 706.0,415.02 706.4,414.95 706.8,414.88 707.2,414.80 707.6,414.74 708.0,414.70 708.4,414.70 708.8,414.70 709.2,414.69 709.6,414.69 710.0,414.69 710.4,414.69 710.8,414.69 711.2,414.69 711.6,414.69 712.0,414.70 712.4,414.72 712.8,414.74 713.2,414.75 713.6,414.77 714.0,414.77 714.4,414.77 714.8,414.77 715.2,414.75 715.6,414.74 716.0,414.73 716.4,414.71 716.8,414.70 717.2,414.70 717.6,414.70 718.0,414.72 718.4,414.75 718.8,414.78 719.2,414.81 719.6,414.85 720.0,414.88 720.4,414.90 720.8,414.93 721.2,414.96 721.6,414.98 722.0,415.01 722.4,415.03 722.8,415.04 723.2,415.05 723.6,415.03 724.0,414.97 724.4,414.89 724.8,414.80 725.2,414.72 725.6,414.65 726.0,414.61 726.4,414.60 726.8,414.62 727.2,414.64 727.6,414.68 728.0,414.71 728.4,414.75 728.8,414.78 729.2,414.80 729.6,414.81 730.0,414.83 730.4,414.84 730.8,414.86 731.2,414.87 731.6,414.87 732.0,414.88 732.4,414.88 732.8,414.87 733.2,414.85 733.6,414.83 734.0,414.81 734.4,414.79 734.8,414.78 735.2,414.77 735.6,414.78 736.0,414.81 736.4,414.85 736.8,414.89 737.2,414.94 737.6,414.97 738.0,414.99 738.4,414.99 738.8,414.98 739.2,414.97 739.6,414.95 740.0,414.93 740.4,414.91 740.8,414.90 741.2,414.89 741.6,414.89 742.0,414.90 742.4,414.92 742.8,414.93 743.2,414.94 743.6,414.96 744.0,414.96 744.4,414.96 744.8,414.92 745.2,414.85 745.6,414.77 746.0,414.68 746.4,414.61 746.8,414.55 747.2,414.53 747.6,414.53 748.0,414.54 748.4,414.54 748.8,414.55 749.2,414.56 749.6,414.57 750.0,414.57 750.4,414.57 750.8,414.56 751.2,414.55 751.6,414.53 752.0,414.52 752.4,414.50 752.8,414.49 753.2,414.49 753.6,414.51 754.0,414.55 754.4,414.62 754.8,414.70 755.2,414.78 755.6,414.84 756.0,414.89 756.4,414.91 756.8,414.92 757.2,414.94 757.6,414.95 758.0,414.96 758.4,414.96 758.8,414.97 759.2,414.97 759.6,414.94 760.0,414.87 760.4,414.78 760.8,414.67 761.2,414.57 761.6,414.49 762.0,414.44 762.4,414.44 762.8,414.48 763.2,414.54 763.6,414.62 764.0,414.71 764.4,414.78 764.8,414.83 765.2,414.85 765.6,414.85 766.0,414.84 766.4,414.84 766.8,414.83 767.2,414.82 767.6,414.81 768.0,414.81 768.4,414.81 768.8,414.81 769.2,414.83 769.6,414.84 770.0,414.86 770.4,414.88 770.8,414.89 771.2,414.89 771.6,414.87 772.0,414.82 772.4,414.76 772.8,414.68 773.2,414.61 773.6,414.56 774.0,414.52 774.4,414.51 774.8,414.53 775.2,414.57 775.6,414.61 776.0,414.66 776.4,414.69 776.8,414.72 777.2,414.73 777.6,414.71 778.0,414.68 778.4,414.63 778.8,414.58 779.2,414.53 779.6,414.48 780.0,414.44 780.4,414.42 780.8,414.39 781.2,414.37 781.6,414.35 782.0,414.33 782.4,414.31 782.8,414.30 783.2,414.29 783.6,414.30 784.0,414.34 784.4,414.40 784.8,414.46 785.2,414.53 785.6,414.57 786.0,414.60 786.4,414.59 786.8,414.55 787.2,414.48 787.6,414.39 788.0,414.31 788.4,414.23 788.8,414.17 789.2,414.14 789.6,414.15 790.0,414.18 790.4,414.22 790.8,414.23 791.2,414.21 791.6,414.15 792.0,414.04 792.4,413.88 792.8,413.69 793.2,413.47 793.6,413.23 794.0,412.99 794.4,412.74 794.8,412.52 795.2,412.31 795.6,412.13 796.0,411.97 796.4,411.81 796.8,411.63 797.2,411.45 797.6,411.26 798.0,411.06 798.4,410.87 798.8,410.68 799.2,410.51 799.6,410.34 800.0,410.19 800.4,410.05 800.8,409.91 801.2,409.79 801.6,409.66 802.0,409.53 802.4,409.41 802.8,409.28 803.2,409.16 803.6,409.06 804.0,408.99 804.4,408.94 804.8,408.92 805.2,408.90 805.6,408.89 806.0,408.89 806.4,408.88 806.8,408.86 807.2,408.83 807.6,408.80 808.0,408.76 808.4,408.71 808.8,408.65 809.2,408.60 809.6,408.54 810.0,408.48 810.4,408.43 810.8,408.37 811.2,408.32 811.6,408.28 812.0,408.24 812.4,408.22 812.8,408.22 813.2,408.27 813.6,408.37 814.0,408.51 814.4,408.69 814.8,408.88 815.2,409.09 815.6,409.30 816.0,409.49 816.4,409.66 816.8,409.80 817.2,409.91 817.6,409.99 818.0,410.03 818.4,410.03 818.8,410.00 819.2,409.95 819.6,409.90 820.0,409.85 820.4,409.79 820.8,409.71 821.2,409.61 821.6,409.48 822.0,409.31 822.4,409.10 822.8,408.86 823.2,408.61 823.6,408.35 824.0,408.07 824.4,407.79 824.8,407.48 825.2,407.10 825.6,406.65 826.0,406.13 826.4,405.56 826.8,404.96 827.2,404.34 827.6,403.69 828.0,403.01 828.4,402.28 828.8,401.50 829.2,400.66 829.6,399.73 830.0,398.68 830.4,397.48 830.8,395.95 831.2,393.77 831.6,391.09 832.0,388.11 832.4,385.04 832.8,381.71 833.2,377.74 833.6,373.81 834.0,370.61 834.4,368.28 834.8,365.80 835.2,363.05 835.6,360.19 836.0,358.66 836.4,360.01 836.8,362.56 837.2,364.79 837.6,366.45 838.0,367.51 838.4,367.87 838.8,366.34 839.2,361.40 839.6,354.78 840.0,348.20 840.4,341.01 840.8,331.43 841.2,319.45 841.6,308.41 842.0,308.26 842.4,318.40 842.8,328.94 843.2,336.87 843.6,342.56 844.0,347.27 844.4,351.61 844.8,355.66 845.2,359.36 845.6,362.76 846.0,366.17 846.4,369.62 846.8,373.07 847.2,376.50 847.6,379.85 848.0,383.05 848.4,386.05 848.8,388.78 849.2,391.18 849.6,393.22 850.0,394.86 850.4,396.16 850.8,397.26 851.2,398.29 851.6,399.36 852.0,400.48 852.4,401.62 852.8,402.71 853.2,403.72 853.6,404.64 854.0,405.44 854.4,406.10 854.8,406.60 855.2,406.95 855.6,407.28 856.0,407.59 856.4,407.89 856.8,408.16 857.2,408.40 857.6,408.62 858.0,408.82 858.4,408.99 858.8,409.13 859.2,409.26 859.6,409.35 860.0,409.41 860.4,409.45 860.8,409.49 861.2,409.52 861.6,409.54 862.0,409.56 862.4,409.58 862.8,409.60 863.2,409.61 863.6,409.63 864.0,409.65 864.4,409.67 864.8,409.70 865.2,409.74 865.6,409.78 866.0,409.83 866.4,409.86 866.8,409.89 867.2,409.90 867.6,409.90 868.0,409.90 868.4,409.90 868.8,409.90 869.2,409.90 869.6,409.90 870.0,409.90 870.4,409.91 870.8,409.91 871.2,409.92 871.6,409.93 872.0,409.93 872.4,409.94 872.8,409.95 873.2,409.96 873.6,409.94 874.0,409.89 874.4,409.83 874.8,409.75 875.2,409.68 875.6,409.62 876.0,409.59 876.4,409.59 876.8,409.61 877.2,409.64 877.6,409.68 878.0,409.72 878.4,409.76 878.8,409.78 879.2,409.79 879.6,409.78 880.0,409.77 880.4,409.75 880.8,409.73 881.2,409.70 881.6,409.67 882.0,409.64 882.4,409.61 882.8,409.58 883.2,409.54 883.6,409.49 884.0,409.44 884.4,409.39 884.8,409.33 885.2,409.26 885.6,409.19 886.0,409.10 886.4,408.99 886.8,408.83 887.2,408.63 887.6,408.40 888.0,408.14 888.4,407.85 888.8,407.53 889.2,407.17 889.6,406.76 890.0,406.29 890.4,405.70 890.8,404.95 891.2,403.93 891.6,402.51 892.0,400.46 892.4,397.45 892.8,393.00 893.2,386.54 893.6,377.71 894.0,367.39 894.4,358.89 894.8,356.95 895.2,363.01 895.6,373.33 896.0,383.46 896.4,391.42 896.8,397.09 897.2,401.02 897.6,403.73 898.0,405.62 898.4,406.95 898.8,407.89 899.2,408.56 899.6,409.03 900.0,409.36 900.4,409.59 900.8,409.73 901.2,409.82 901.6,409.86 902.0,409.86 902.4,409.85 902.8,409.82 903.2,409.79 903.6,409.74 904.0,409.69 904.4,409.63 904.8,409.53 905.2,409.39 905.6,409.18 906.0,408.87 906.4,408.44 906.8,407.87 907.2,407.10 907.6,406.05 908.0,404.56 908.4,402.37 908.8,399.05 909.2,393.79 909.6,385.20 910.0,371.19 910.4,350.08 910.8,325.73 911.2,313.65 911.6,325.75 912.0,350.12 912.4,371.27 912.8,385.32 913.2,393.97 913.6,399.31 914.0,402.71 914.4,404.96 914.8,406.52 915.2,407.63 915.6,408.44 916.0,409.07 916.4,409.55 916.8,409.94 917.2,410.26 917.6,410.52 918.0,410.75 918.4,410.94 918.8,411.12 919.2,411.29 919.6,411.43 920.0,411.57 920.4,411.69 920.8,411.81 921.2,411.91 921.6,412.00 922.0,412.09 922.4,412.17 922.8,412.25 923.2,412.32 923.6,412.39 924.0,412.44 924.4,412.47 924.8,412.48 925.2,412.46 925.6,412.43 926.0,412.39 926.4,412.36 926.8,412.34 927.2,412.35 927.6,412.38 928.0,412.42 928.4,412.47 928.8,412.52 929.2,412.56 929.6,412.60 930.0,412.63 930.4,412.64 930.8,412.63 931.2,412.61 931.6,412.57 932.0,412.54 932.4,412.50 932.8,412.48 933.2,412.47 933.6,412.49 934.0,412.53 934.4,412.58 934.8,412.62 935.2,412.64 935.6,412.59 936.0,412.43 936.4,412.20 936.8,412.12 937.2,412.32 937.6,412.55 938.0,412.70 938.4,412.78 938.8,412.82 939.2,412.84 939.6,412.85 940.0,412.84 940.4,412.82 940.8,412.80 941.2,412.78 941.6,412.77 942.0,412.77 942.4,412.79 942.8,412.81 943.2,412.84 943.6,412.86 944.0,412.89 944.4,412.91 944.8,412.93 945.2,412.95 945.6,412.96 946.0,412.97 946.4,412.97 946.8,412.97 947.2,412.97 947.6,412.97 948.0,412.97 948.4,412.98 948.8,412.99 949.2,412.99 949.6,413.00 950.0,413.01 950.4,413.01 950.8,413.02 951.2,413.02 951.6,413.02 952.0,413.03 952.4,413.03 952.8,413.04 953.2,413.04 953.6,413.05 954.0,413.06 954.4,413.06 954.8,413.08 955.2,413.12 955.6,413.15 956.0,413.18 956.4,413.20 956.8,413.20 957.2,413.17 957.6,413.12 958.0,413.05 958.4,412.96 958.8,412.84 959.2,412.71 959.6,412.57 960.0,412.40 960.4,412.20 960.8,411.96 961.2,411.65 961.6,411.25 962.0,410.71 962.4,409.95 962.8,408.84 963.2,407.12 963.6,404.38 964.0,399.83 964.4,392.43 964.8,381.99 965.2,372.66 965.6,372.68 966.0,382.05 966.4,392.52 966.8,399.94 967.2,404.50 967.6,407.25 968.0,408.96 968.4,410.06 968.8,410.82 969.2,411.36 969.6,411.77 970.0,412.11 970.4,412.39 970.8,412.63 971.2,412.84 971.6,413.01 972.0,413.14 972.4,413.23 972.8,413.27 973.2,413.28 973.6,413.27 974.0,413.25 974.4,413.24 974.8,413.23 975.2,413.25 975.6,413.29 976.0,413.34 976.4,413.39 976.8,413.44 977.2,413.48 977.6,413.53 978.0,413.56 978.4,413.59 978.8,413.61 979.2,413.63 979.6,413.65 980.0,413.67 980.4,413.69 980.8,413.70 981.2,413.72 981.6,413.73 982.0,413.73 982.4,413.73 982.8,413.72 983.2,413.72 983.6,413.72 984.0,413.72 984.4,413.74 984.8,413.77 985.2,413.83 985.6,413.90 986.0,413.97 986.4,414.03 986.8,414.08 987.2,414.10 987.6,414.10 988.0,414.07 988.4,414.02 988.8,413.97 989.2,413.92 989.6,413.88 990.0,413.86 990.4,413.86 990.8,413.88 991.2,413.90 991.6,413.92 992.0,413.94 992.4,413.96 992.8,413.97 993.2,413.98 993.6,413.98 994.0,413.97 994.4,413.96 994.8,413.94 995.2,413.92 995.6,413.90 996.0,413.90 996.4,413.91 996.8,413.95 997.2,414.02 997.6,414.10 998.0,414.18 998.4,414.26 998.8,414.31 999.2,414.34 999.6,414.33 1000.0,414.31 1000.4,414.28 1000.8,414.25 1001.2,414.21 1001.6,414.19 1002.0,414.17 1002.4,414.18 1002.8,414.20 1003.2,414.23 1003.6,414.27 1004.0,414.31 1004.4,414.34 1004.8,414.37 1005.2,414.39 1005.6,414.38 1006.0,414.37 1006.4,414.34 1006.8,414.30 1007.2,414.26 1007.6,414.23 1008.0,414.20 1008.4,414.19 1008.8,414.18 1009.2,414.16 1009.6,414.15 1010.0,414.14 1010.4,414.14 1010.8,414.13 1011.2,414.14 1011.6,414.15 1012.0,414.17 1012.4,414.19 1012.8,414.22 1013.2,414.26 1013.6,414.29 1014.0,414.33 1014.4,414.36 1014.8,414.40 1015.2,414.44 1015.6,414.49 1016.0,414.53 1016.4,414.57 1016.8,414.60 1017.2,414.61 1017.6,414.62 1018.0,414.63 1018.4,414.63 1018.8,414.63 1019.2,414.63 1019.6,414.62 1020.0,414.62 1020.4,414.60 1020.8,414.57 1021.2,414.51 1021.6,414.45 1022.0,414.38 1022.4,414.32 1022.8,414.27 1023.2,414.25 1023.6,414.26 1024.0,414.30 1024.4,414.35 1024.8,414.42 1025.2,414.48 1025.6,414.54 1026.0,414.59 1026.4,414.61 1026.8,414.59 1027.2,414.53 1027.6,414.47 1028.0,414.39 1028.4,414.32 1028.8,414.27 1029.2,414.26 1029.6,414.27 1030.0,414.31 1030.4,414.36 1030.8,414.41 1031.2,414.46 1031.6,414.51 1032.0,414.54 1032.4,414.55 1032.8,414.55 1033.2,414.54 1033.6,414.53 1034.0,414.52 1034.4,414.52 1034.8,414.52 1035.2,414.53 1035.6,414.55 1036.0,414.58 1036.4,414.61 1036.8,414.64 1037.2,414.67 1037.6,414.70 1038.0,414.71 1038.4,414.72 1038.8,414.72 1039.2,414.71 1039.6,414.69 1040.0,414.67 1040.4,414.66 1040.8,414.65 1041.2,414.65 1041.6,414.67 1042.0,414.72 1042.4,414.79 1042.8,414.86 1043.2,414.94 1043.6,415.00 1044.0,415.03 1044.4,415.04 1044.8,415.01 1045.2,414.96 1045.6,414.90 1046.0,414.84 1046.4,414.78 1046.8,414.75 1047.2,414.73 1047.6,414.75 1048.0,414.80 1048.4,414.86 1048.8,414.93 1049.2,415.00 1049.6,415.06 1050.0,415.09 1050.4,415.09 1050.8,415.05 1051.2,414.98 1051.6,414.90 1052.0,414.81 1052.4,414.73 1052.8,414.67 1053.2,414.65 1053.6,414.66 1054.0,414.68 1054.4,414.71 1054.8,414.75 1055.2,414.78 1055.6,414.81 1056.0,414.83 1056.4,414.84 1056.8,414.84 1057.2,414.84 1057.6,414.84 1058.0,414.84 1058.4,414.85 1058.8,414.85 1059.2,414.85 1059.6,414.86 1060.0,414.88 1060.4,414.91 1060.8,414.94 1061.2,414.97 1061.6,414.99 1062.0,415.00 1062.4,415.00 1062.8,414.98 1063.2,414.95 1063.6,414.92 1064.0,414.88 1064.4,414.84 1064.8,414.82 1065.2,414.81 1065.6,414.81 1066.0,414.83 1066.4,414.84 1066.8,414.86 1067.2,414.87 1067.6,414.89 1068.0,414.89 1068.4,414.89 1068.8,414.87 1069.2,414.84 1069.6,414.79 1070.0,414.75 1070.4,414.71 1070.8,414.68 1071.2,414.67 1071.6,414.67 1072.0,414.68 1072.4,414.70 1072.8,414.72 1073.2,414.74 1073.6,414.77 1074.0,414.79 1074.4,414.82 1074.8,414.85 1075.2,414.89 1075.6,414.93 1076.0,414.97 1076.4,415.00 1076.8,415.02 1077.2,415.03 1077.6,415.02 1078.0,414.97 1078.4,414.91 1078.8,414.85 1079.2,414.78 1079.6,414.73" fill="none" stroke="#00ff00" stroke-width="3.8" stroke-linejoin="round" stroke-linecap="round"/>
<polyline points="205.2,369.63 205.6,369.55 206.0,369.46 206.4,369.38 206.8,369.33 207.2,369.30 207.6,369.32 208.0,369.38 208.4,369.46 208.8,369.55 209.2,369.63 209.6,369.70 210.0,369.74 210.4,369.74 210.8,369.71 211.2,369.65 211.6,369.59 212.0,369.52 212.4,369.46 212.8,369.41 213.2,369.39 213.6,369.40 214.0,369.40 214.4,369.41 214.8,369.41 215.2,369.42 215.6,369.44 216.0,369.45 216.4,369.46 216.8,369.49 217.2,369.53 217.6,369.57 218.0,369.61 218.4,369.64 218.8,369.67 219.2,369.68 219.6,369.66 220.0,369.64 220.4,369.59 220.8,369.55 221.2,369.50 221.6,369.47 222.0,369.45 222.4,369.45 222.8,369.45 223.2,369.46 223.6,369.48 224.0,369.49 224.4,369.51 224.8,369.52 225.2,369.52 225.6,369.51 226.0,369.47 226.4,369.42 226.8,369.36 227.2,369.31 227.6,369.26 228.0,369.24 228.4,369.24 228.8,369.27 229.2,369.34 229.6,369.41 230.0,369.49 230.4,369.56 230.8,369.61 231.2,369.63 231.6,369.63 232.0,369.62 232.4,369.60 232.8,369.58 233.2,369.56 233.6,369.54 234.0,369.52 234.4,369.50 234.8,369.48 235.2,369.46 235.6,369.44 236.0,369.42 236.4,369.41 236.8,369.40 237.2,369.39 237.6,369.41 238.0,369.44 238.4,369.48 238.8,369.53 239.2,369.58 239.6,369.62 240.0,369.64 240.4,369.64 240.8,369.62 241.2,369.57 241.6,369.52 242.0,369.47 242.4,369.42 242.8,369.39 243.2,369.38 243.6,369.38 244.0,369.39 244.4,369.40 244.8,369.42 245.2,369.44 245.6,369.45 246.0,369.46 246.4,369.45 246.8,369.44 247.2,369.41 247.6,369.38 248.0,369.34 248.4,369.31 248.8,369.29 249.2,369.28 249.6,369.28 250.0,369.30 250.4,369.33 250.8,369.36 251.2,369.39 251.6,369.41 252.0,369.42 252.4,369.42 252.8,369.41 253.2,369.39 253.6,369.37 254.0,369.35 254.4,369.33 254.8,369.32 255.2,369.31 255.6,369.31 256.0,369.31 256.4,369.31 256.8,369.32 257.2,369.32 257.6,369.33 258.0,369.33 258.4,369.34 258.8,369.37 259.2,369.41 259.6,369.46 260.0,369.52 260.4,369.56 260.8,369.59 261.2,369.60 261.6,369.59 262.0,369.56 262.4,369.51 262.8,369.46 263.2,369.41 263.6,369.37 264.0,369.34 264.4,369.34 264.8,369.34 265.2,369.35 265.6,369.37 266.0,369.38 266.4,369.40 266.8,369.42 267.2,369.44 267.6,369.47 268.0,369.51 268.4,369.56 268.8,369.61 269.2,369.65 269.6,369.69 270.0,369.71 270.4,369.71 270.8,369.71 271.2,369.70 271.6,369.70 272.0,369.70 272.4,369.69 272.8,369.69 273.2,369.69 273.6,369.68 274.0,369.66 274.4,369.64 274.8,369.62 275.2,369.59 275.6,369.57 276.0,369.55 276.4,369.53 276.8,369.51 277.2,369.50 277.6,369.48 278.0,369.47 278.4,369.45 278.8,369.44 279.2,369.42 279.6,369.39 280.0,369.37 280.4,369.34 280.8,369.32 281.2,369.29 281.6,369.27 282.0,369.24 282.4,369.23 282.8,369.21 283.2,369.19 283.6,369.17 284.0,369.15 284.4,369.14 284.8,369.12 285.2,369.11 285.6,369.12 286.0,369.16 286.4,369.23 286.8,369.30 287.2,369.37 287.6,369.42 288.0,369.44 288.4,369.41 288.8,369.37 289.2,369.31 289.6,369.24 290.0,369.15 290.4,369.06 290.8,368.96 291.2,368.86 291.6,368.76 292.0,368.63 292.4,368.48 292.8,368.32 293.2,368.13 293.6,367.91 294.0,367.66 294.4,367.36 294.8,367.00 295.2,366.55 295.6,365.98 296.0,365.25 296.4,364.34 296.8,363.22 297.2,361.90 297.6,360.31 298.0,358.23 298.4,355.14 298.8,350.22 299.2,342.36 299.6,330.50 300.0,315.08 300.4,301.09 300.8,297.65 301.2,307.75 301.6,323.80 302.0,338.09 302.4,348.28 302.8,354.99 303.2,359.34 303.6,362.19 304.0,364.11 304.4,365.44 304.8,366.38 305.2,367.07 305.6,367.58 306.0,367.96 306.4,368.23 306.8,368.40 307.2,368.49 307.6,368.54 308.0,368.55 308.4,368.55 308.8,368.56 309.2,368.59 309.6,368.66 310.0,368.73 310.4,368.81 310.8,368.89 311.2,368.97 311.6,369.03 312.0,369.07 312.4,369.09 312.8,369.10 313.2,369.10 313.6,369.11 314.0,369.11 314.4,369.10 314.8,369.10 315.2,369.09 315.6,369.07 316.0,369.04 316.4,369.00 316.8,368.96 317.2,368.92 317.6,368.88 318.0,368.86 318.4,368.86 318.8,368.87 319.2,368.91 319.6,368.95 320.0,369.00 320.4,369.05 320.8,369.09 321.2,369.11 321.6,369.12 322.0,369.13 322.4,369.14 322.8,369.14 323.2,369.14 323.6,369.13 324.0,369.12 324.4,369.10 324.8,369.07 325.2,369.03 325.6,368.99 326.0,368.93 326.4,368.88 326.8,368.82 327.2,368.76 327.6,368.70 328.0,368.63 328.4,368.55 328.8,368.46 329.2,368.37 329.6,368.28 330.0,368.19 330.4,368.10 330.8,368.02 331.2,367.95 331.6,367.85 332.0,367.73 332.4,367.57 332.8,367.34 333.2,367.02 333.6,366.63 334.0,366.19 334.4,365.77 334.8,365.45 335.2,365.33 335.6,365.41 336.0,365.60 336.4,365.83 336.8,366.03 337.2,366.16 337.6,366.22 338.0,366.22 338.4,366.16 338.8,366.05 339.2,365.89 339.6,365.68 340.0,365.43 340.4,365.13 340.8,364.77 341.2,364.34 341.6,363.81 342.0,363.18 342.4,362.41 342.8,361.47 343.2,360.34 343.6,358.98 344.0,357.37 344.4,355.47 344.8,353.26 345.2,350.73 345.6,347.92 346.0,344.95 346.4,342.05 346.8,339.61 347.2,338.08 347.6,337.79 348.0,338.84 348.4,340.96 348.8,343.75 349.2,346.77 349.6,349.70 350.0,352.37 350.4,354.71 350.8,356.70 351.2,358.39 351.6,359.82 352.0,361.02 352.4,362.04 352.8,362.90 353.2,363.63 353.6,364.25 354.0,364.78 354.4,365.22 354.8,365.58 355.2,365.87 355.6,366.10 356.0,366.30 356.4,366.46 356.8,366.62 357.2,366.78 357.6,366.95 358.0,367.13 358.4,367.31 358.8,367.48 359.2,367.64 359.6,367.78 360.0,367.88 360.4,367.94 360.8,367.96 361.2,367.96 361.6,367.93 362.0,367.89 362.4,367.85 362.8,367.81 363.2,367.78 363.6,367.75 364.0,367.71 364.4,367.66 364.8,367.59 365.2,367.51 365.6,367.41 366.0,367.30 366.4,367.17 366.8,367.05 367.2,366.94 367.6,366.85 368.0,366.77 368.4,366.71 368.8,366.68 369.2,366.69 369.6,366.75 370.0,366.86 370.4,366.99 370.8,367.14 371.2,367.27 371.6,367.38 372.0,367.46 372.4,367.50 372.8,367.52 373.2,367.50 373.6,367.44 374.0,367.36 374.4,367.27 374.8,367.17 375.2,367.08 375.6,367.02 376.0,367.01 376.4,367.04 376.8,367.13 377.2,367.26 377.6,367.42 378.0,367.58 378.4,367.74 378.8,367.89 379.2,368.02 379.6,368.14 380.0,368.24 380.4,368.33 380.8,368.40 381.2,368.45 381.6,368.50 382.0,368.53 382.4,368.55 382.8,368.57 383.2,368.58 383.6,368.60 384.0,368.62 384.4,368.65 384.8,368.71 385.2,368.78 385.6,368.86 386.0,368.95 386.4,369.03 386.8,369.09 387.2,369.13 387.6,369.15 388.0,369.17 388.4,369.19 388.8,369.20 389.2,369.21 389.6,369.23 390.0,369.24 390.4,369.26 390.8,369.27 391.2,369.29 391.6,369.31 392.0,369.33 392.4,369.34 392.8,369.35 393.2,369.36 393.6,369.35 394.0,369.32 394.4,369.27 394.8,369.22 395.2,369.17 395.6,369.12 396.0,369.09 396.4,369.08 396.8,369.08 397.2,369.08 397.6,369.07 398.0,369.07 398.4,369.07 398.8,369.07 399.2,369.07 399.6,369.08 400.0,369.11 400.4,369.15 400.8,369.19 401.2,369.24 401.6,369.28 402.0,369.31 402.4,369.33 402.8,369.35 403.2,369.36 403.6,369.37 404.0,369.39 404.4,369.40 404.8,369.41 405.2,369.42 405.6,369.44 406.0,369.45 406.4,369.47 406.8,369.49 407.2,369.50 407.6,369.51 408.0,369.52 408.4,369.51 408.8,369.47 409.2,369.41 409.6,369.32 410.0,369.23 410.4,369.15 410.8,369.10 411.2,369.08 411.6,369.08 412.0,369.10 412.4,369.12 412.8,369.15 413.2,369.19 413.6,369.22 414.0,369.25 414.4,369.28 414.8,369.31 415.2,369.35 415.6,369.39 416.0,369.43 416.4,369.46 416.8,369.48 417.2,369.49 417.6,369.48 418.0,369.45 418.4,369.40 418.8,369.35 419.2,369.30 419.6,369.26 420.0,369.24 420.4,369.23 420.8,369.24 421.2,369.26 421.6,369.27 422.0,369.29 422.4,369.31 422.8,369.32 423.2,369.32 423.6,369.31 424.0,369.27 424.4,369.21 424.8,369.15 425.2,369.09 425.6,369.04 426.0,369.01 426.4,369.01 426.8,369.04 427.2,369.08 427.6,369.14 428.0,369.21 428.4,369.27 428.8,369.32 429.2,369.36 429.6,369.38 430.0,369.41 430.4,369.43 430.8,369.45 431.2,369.47 431.6,369.48 432.0,369.48 432.4,369.48 432.8,369.47 433.2,369.46 433.6,369.45 434.0,369.44 434.4,369.43 434.8,369.42 435.2,369.42 435.6,369.41 436.0,369.41 436.4,369.42 436.8,369.42 437.2,369.42 437.6,369.42 438.0,369.42 438.4,369.42 438.8,369.41 439.2,369.39 439.6,369.37 440.0,369.34 440.4,369.32 440.8,369.29 441.2,369.26 441.6,369.22 442.0,369.18 442.4,369.13 442.8,369.08 443.2,369.04 443.6,369.00 444.0,368.97 444.4,368.96 444.8,368.98 445.2,369.01 445.6,369.05 446.0,369.09 446.4,369.13 446.8,369.15 447.2,369.14 447.6,369.11 448.0,369.04 448.4,368.96 448.8,368.88 449.2,368.79 449.6,368.71 450.0,368.64 450.4,368.60 450.8,368.59 451.2,368.59 451.6,368.60 452.0,368.60 452.4,368.59 452.8,368.56 453.2,368.48 453.6,368.37 454.0,368.20 454.4,368.01 454.8,367.79 455.2,367.57 455.6,367.36 456.0,367.17 456.4,367.02 456.8,366.92 457.2,366.86 457.6,366.84 458.0,366.86 458.4,366.91 458.8,366.96 459.2,367.00 459.6,367.02 460.0,367.01 460.4,366.98 460.8,366.93 461.2,366.87 461.6,366.79 462.0,366.72 462.4,366.65 462.8,366.57 463.2,366.48 463.6,366.37 464.0,366.26 464.4,366.15 464.8,366.04 465.2,365.96 465.6,365.91 466.0,365.90 466.4,365.96 466.8,366.07 467.2,366.22 467.6,366.40 468.0,366.60 468.4,366.82 468.8,367.05 469.2,367.28 469.6,367.50 470.0,367.71 470.4,367.91 470.8,368.07 471.2,368.21 471.6,368.30 472.0,368.37 472.4,368.40 472.8,368.43 473.2,368.44 473.6,368.46 474.0,368.50 474.4,368.54 474.8,368.60 475.2,368.66 475.6,368.72 476.0,368.78 476.4,368.83 476.8,368.88 477.2,368.91 477.6,368.92 478.0,368.92 478.4,368.90 478.8,368.88 479.2,368.85 479.6,368.84 480.0,368.83 480.4,368.84 480.8,368.87 481.2,368.90 481.6,368.93 482.0,368.97 482.4,369.00 482.8,369.03 483.2,369.06 483.6,369.08 484.0,369.11 484.4,369.13 484.8,369.15 485.2,369.17 485.6,369.18 486.0,369.19 486.4,369.20 486.8,369.19 487.2,369.17 487.6,369.14 488.0,369.11 488.4,369.08 488.8,369.06 489.2,369.06 489.6,369.08 490.0,369.12 490.4,369.17 490.8,369.23 491.2,369.29 491.6,369.34 492.0,369.37 492.4,369.37 492.8,369.36 493.2,369.34 493.6,369.32 494.0,369.29 494.4,369.27 494.8,369.26 495.2,369.25 495.6,369.26 496.0,369.29 496.4,369.32 496.8,369.36 497.2,369.40 497.6,369.43 498.0,369.45 498.4,369.45 498.8,369.45 499.2,369.45 499.6,369.44 500.0,369.44 500.4,369.43 500.8,369.43 501.2,369.42 501.6,369.41 502.0,369.39 502.4,369.37 502.8,369.35 503.2,369.32 503.6,369.31 504.0,369.30 504.4,369.30 504.8,369.32 505.2,369.36 505.6,369.40 506.0,369.45 506.4,369.49 506.8,369.52 507.2,369.53 507.6,369.52 508.0,369.51 508.4,369.48 508.8,369.45 509.2,369.43 509.6,369.40 510.0,369.39 510.4,369.39 510.8,369.39 511.2,369.40 511.6,369.42 512.0,369.43 512.4,369.45 512.8,369.45 513.2,369.45 513.6,369.43 514.0,369.39 514.4,369.34 514.8,369.28 515.2,369.22 515.6,369.17 516.0,369.14 516.4,369.12 516.8,369.12 517.2,369.12 517.6,369.13 518.0,369.13 518.4,369.13 518.8,369.12 519.2,369.10 519.6,369.06 520.0,369.00 520.4,368.93 520.8,368.85 521.2,368.76 521.6,368.68 522.0,368.60 522.4,368.53 522.8,368.50 523.2,368.48 523.6,368.47 524.0,368.46 524.4,368.44 524.8,368.39 525.2,368.31 525.6,368.20 526.0,368.08 526.4,367.96 526.8,367.86 527.2,367.80 527.6,367.78 528.0,367.81 528.4,367.90 528.8,368.00 529.2,368.11 529.6,368.21 530.0,368.32 530.4,368.41 530.8,368.50 531.2,368.58 531.6,368.64 532.0,368.69 532.4,368.73 532.8,368.76 533.2,368.78 533.6,368.81 534.0,368.83 534.4,368.86 534.8,368.90 535.2,368.93 535.6,368.97 536.0,369.00 536.4,369.04 536.8,369.08 537.2,369.11 537.6,369.15 538.0,369.21 538.4,369.27 538.8,369.33 539.2,369.39 539.6,369.43 540.0,369.46 540.4,369.47 540.8,369.48 541.2,369.48 541.6,369.49 542.0,369.49 542.4,369.49 542.8,369.48 543.2,369.48 543.6,369.46 544.0,369.43 544.4,369.37 544.8,369.32 545.2,369.26 545.6,369.22 546.0,369.20 546.4,369.20 546.8,369.21 547.2,369.24 547.6,369.26 548.0,369.29 548.4,369.32 548.8,369.34 549.2,369.35 549.6,369.36 550.0,369.36 550.4,369.37 550.8,369.37 551.2,369.38 551.6,369.38 552.0,369.39 552.4,369.40 552.8,369.41 553.2,369.44 553.6,369.46 554.0,369.49 554.4,369.51 554.8,369.53 555.2,369.54 555.6,369.53 556.0,369.52 556.4,369.50 556.8,369.48 557.2,369.46 557.6,369.44 558.0,369.43 558.4,369.43 558.8,369.44 559.2,369.44 559.6,369.46 560.0,369.47 560.4,369.48 560.8,369.50 561.2,369.51 561.6,369.53 562.0,369.55 562.4,369.57 562.8,369.60 563.2,369.62 563.6,369.64 564.0,369.65 564.4,369.65 564.8,369.65 565.2,369.65 565.6,369.64 566.0,369.63 566.4,369.62 566.8,369.61 567.2,369.60 567.6,369.58 568.0,369.55 568.4,369.52 568.8,369.48 569.2,369.45 569.6,369.42 570.0,369.41 570.4,369.40 570.8,369.41 571.2,369.42 571.6,369.43 572.0,369.44 572.4,369.44 572.8,369.45 573.2,369.45 573.6,369.45 574.0,369.45 574.4,369.45 574.8,369.44 575.2,369.43 575.6,369.42 576.0,369.42 576.4,369.41 576.8,369.39 577.2,369.37 577.6,369.34 578.0,369.32 578.4,369.29 578.8,369.28 579.2,369.27 579.6,369.28 580.0,369.28 580.4,369.29 580.8,369.30 581.2,369.31 581.6,369.32 582.0,369.32 582.4,369.33 582.8,369.34 583.2,369.34 583.6,369.35 584.0,369.36 584.4,369.36 584.8,369.37 585.2,369.37 585.6,369.38 586.0,369.38 586.4,369.38 586.8,369.39 587.2,369.39 587.6,369.39 588.0,369.39 588.4,369.39 588.8,369.39 589.2,369.39 589.6,369.39 590.0,369.39 590.4,369.39 590.8,369.39 591.2,369.39 591.6,369.40 592.0,369.41 592.4,369.43 592.8,369.45 593.2,369.48 593.6,369.50 594.0,369.53 594.4,369.55 594.8,369.58 595.2,369.62 595.6,369.66 596.0,369.70 596.4,369.73 596.8,369.75 597.2,369.76 597.6,369.75 598.0,369.74 598.4,369.72 598.8,369.70 599.2,369.68 599.6,369.66 600.0,369.65 600.4,369.65 600.8,369.65 601.2,369.65 601.6,369.65 602.0,369.66 602.4,369.66 602.8,369.66 603.2,369.66 603.6,369.66 604.0,369.66 604.4,369.66 604.8,369.65 605.2,369.65 605.6,369.65 606.0,369.64 606.4,369.64 606.8,369.63 607.2,369.62 607.6,369.60 608.0,369.58 608.4,369.57 608.8,369.56 609.2,369.55 609.6,369.56 610.0,369.58 610.4,369.62 610.8,369.65 611.2,369.68 611.6,369.71 612.0,369.73 612.4,369.73 612.8,369.72 613.2,369.71 613.6,369.69 614.0,369.66 614.4,369.64 614.8,369.62 615.2,369.60 615.6,369.59 616.0,369.58 616.4,369.56 616.8,369.55 617.2,369.54 617.6,369.52 618.0,369.51 618.4,369.49 618.8,369.46 619.2,369.42 619.6,369.37 620.0,369.33 620.4,369.30 620.8,369.27 621.2,369.27 621.6,369.28 622.0,369.30 622.4,369.34 622.8,369.39 623.2,369.43 623.6,369.47 624.0,369.49 624.4,369.49 624.8,369.48 625.2,369.46 625.6,369.43 626.0,369.40 626.4,369.37 626.8,369.35 627.2,369.34 627.6,369.33 628.0,369.32 628.4,369.31 628.8,369.30 629.2,369.30 629.6,369.30 630.0,369.29 630.4,369.29 630.8,369.31 631.2,369.33 631.6,369.36 632.0,369.40 632.4,369.44 632.8,369.47 633.2,369.50 633.6,369.52 634.0,369.55 634.4,369.57 634.8,369.60 635.2,369.62 635.6,369.64 636.0,369.65 636.4,369.64 636.8,369.62 637.2,369.58 637.6,369.53 638.0,369.47 638.4,369.42 638.8,369.39 639.2,369.38 639.6,369.39 640.0,369.42 640.4,369.47 640.8,369.52 641.2,369.57 641.6,369.61 642.0,369.63 642.4,369.63 642.8,369.63 643.2,369.61 643.6,369.59 644.0,369.57 644.4,369.55 644.8,369.52 645.2,369.50 645.6,369.47 646.0,369.44 646.4,369.40 646.8,369.36 647.2,369.33 647.6,369.30 648.0,369.29 648.4,369.29 648.8,369.33 649.2,369.40 649.6,369.49 650.0,369.58 650.4,369.66 650.8,369.71 651.2,369.73 651.6,369.72 652.0,369.68 652.4,369.63 652.8,369.57 653.2,369.52 653.6,369.47 654.0,369.43 654.4,369.41 654.8,369.40 655.2,369.39 655.6,369.38 656.0,369.37 656.4,369.36 656.8,369.36 657.2,369.36 657.6,369.37 658.0,369.41 658.4,369.46 658.8,369.52 659.2,369.58 659.6,369.63 660.0,369.65 660.4,369.65 660.8,369.62 661.2,369.55 661.6,369.48 662.0,369.40 662.4,369.33 662.8,369.28 663.2,369.26 663.6,369.27 664.0,369.31 664.4,369.37 664.8,369.44 665.2,369.50 665.6,369.55 666.0,369.58 666.4,369.58 666.8,369.56 667.2,369.51 667.6,369.45 668.0,369.39 668.4,369.34 668.8,369.30 669.2,369.28 669.6,369.29 670.0,369.30 670.4,369.32 670.8,369.34 671.2,369.36 671.6,369.38 672.0,369.39 672.4,369.39 672.8,369.38 673.2,369.37 673.6,369.35 674.0,369.33 674.4,369.31 674.8,369.30 675.2,369.30 675.6,369.31 676.0,369.35 676.4,369.41 676.8,369.48 677.2,369.54 677.6,369.59 678.0,369.62 678.4,369.62 678.8,369.60 679.2,369.56 679.6,369.51 680.0,369.46 680.4,369.42 680.8,369.39 681.2,369.37 681.6,369.39 682.0,369.43 682.4,369.48 682.8,369.55 683.2,369.61 683.6,369.66 684.0,369.68 684.4,369.69 684.8,369.67 685.2,369.64 685.6,369.60 686.0,369.56 686.4,369.53 686.8,369.50 687.2,369.49 687.6,369.49 688.0,369.49 688.4,369.50 688.8,369.51 689.2,369.51 689.6,369.52 690.0,369.52 690.4,369.52 690.8,369.51 691.2,369.50 691.6,369.49 692.0,369.47 692.4,369.45 692.8,369.44 693.2,369.42 693.6,369.40 694.0,369.38 694.4,369.36 694.8,369.34 695.2,369.32 695.6,369.31 696.0,369.30 696.4,369.29 696.8,369.30 697.2,369.30 697.6,369.30 698.0,369.31 698.4,369.32 698.8,369.33 699.2,369.33 699.6,369.36 700.0,369.40 700.4,369.45 700.8,369.51 701.2,369.56 701.6,369.60 702.0,369.62 702.4,369.62 702.8,369.58 703.2,369.52 703.6,369.44 704.0,369.36 704.4,369.29 704.8,369.23 705.2,369.21 705.6,369.23 706.0,369.29 706.4,369.36 706.8,369.45 707.2,369.53 707.6,369.59 708.0,369.63 708.4,369.63 708.8,369.63 709.2,369.61 709.6,369.59 710.0,369.57 710.4,369.55 710.8,369.52 711.2,369.50 711.6,369.47 712.0,369.44 712.4,369.40 712.8,369.36 713.2,369.32 713.6,369.29 714.0,369.27 714.4,369.27 714.8,369.29 715.2,369.31 715.6,369.34 716.0,369.37 716.4,369.39 716.8,369.41 717.2,369.42 717.6,369.41 718.0,369.39 718.4,369.36 718.8,369.33 719.2,369.30 719.6,369.28 720.0,369.27 720.4,369.26 720.8,369.26 721.2,369.26 721.6,369.26 722.0,369.26 722.4,369.26 722.8,369.25 723.2,369.25 723.6,369.26 724.0,369.26 724.4,369.27 724.8,369.28 725.2,369.30 725.6,369.31 726.0,369.31 726.4,369.31 726.8,369.28 727.2,369.24 727.6,369.18 728.0,369.13 728.4,369.08 728.8,369.04 729.2,369.03 729.6,369.04 730.0,369.06 730.4,369.09 730.8,369.13 731.2,369.18 731.6,369.22 732.0,369.26 732.4,369.30 732.8,369.34 733.2,369.38 733.6,369.43 734.0,369.47 734.4,369.50 734.8,369.52 735.2,369.53 735.6,369.51 736.0,369.46 736.4,369.39 736.8,369.32 737.2,369.24 737.6,369.18 738.0,369.15 738.4,369.14 738.8,369.17 739.2,369.20 739.6,369.25 740.0,369.30 740.4,369.34 740.8,369.37 741.2,369.38 741.6,369.38 742.0,369.36 742.4,369.33 742.8,369.30 743.2,369.27 743.6,369.24 744.0,369.21 744.4,369.19 744.8,369.17 745.2,369.14 745.6,369.12 746.0,369.10 746.4,369.08 746.8,369.06 747.2,369.06 747.6,369.07 748.0,369.12 748.4,369.19 748.8,369.26 749.2,369.33 749.6,369.39 750.0,369.42 750.4,369.42 750.8,369.37 751.2,369.29 751.6,369.20 752.0,369.10 752.4,369.01 752.8,368.95 753.2,368.92 753.6,368.92 754.0,368.93 754.4,368.95 754.8,368.97 755.2,368.99 755.6,369.02 756.0,369.05 756.4,369.08 756.8,369.13 757.2,369.19 757.6,369.26 758.0,369.32 758.4,369.38 758.8,369.42 759.2,369.43 759.6,369.41 760.0,369.35 760.4,369.28 760.8,369.20 761.2,369.11 761.6,369.05 762.0,369.01 762.4,369.00 762.8,369.03 763.2,369.07 763.6,369.13 764.0,369.19 764.4,369.24 764.8,369.27 765.2,369.28 765.6,369.27 766.0,369.24 766.4,369.21 766.8,369.17 767.2,369.14 767.6,369.11 768.0,369.09 768.4,369.08 768.8,369.08 769.2,369.09 769.6,369.10 770.0,369.11 770.4,369.12 770.8,369.12 771.2,369.11 771.6,369.10 772.0,369.08 772.4,369.05 772.8,369.02 773.2,368.99 773.6,368.96 774.0,368.93 774.4,368.90 774.8,368.86 775.2,368.82 775.6,368.78 776.0,368.74 776.4,368.70 776.8,368.67 777.2,368.65 777.6,368.65 778.0,368.66 778.4,368.68 778.8,368.70 779.2,368.73 779.6,368.74 780.0,368.74 780.4,368.72 780.8,368.67 781.2,368.58 781.6,368.49 782.0,368.39 782.4,368.30 782.8,368.22 783.2,368.18 783.6,368.17 784.0,368.18 784.4,368.20 784.8,368.22 785.2,368.25 785.6,368.26 786.0,368.26 786.4,368.23 786.8,368.21 787.2,368.18 787.6,368.14 788.0,368.11 788.4,368.08 788.8,368.05 789.2,368.02 789.6,367.99 790.0,367.97 790.4,367.95 790.8,367.93 791.2,367.90 791.6,367.87 792.0,367.83 792.4,367.78 792.8,367.71 793.2,367.63 793.6,367.53 794.0,367.44 794.4,367.34 794.8,367.25 795.2,367.18 795.6,367.11 796.0,367.05 796.4,366.99 796.8,366.92 797.2,366.86 797.6,366.79 798.0,366.73 798.4,366.66 798.8,366.60 799.2,366.55 799.6,366.50 800.0,366.44 800.4,366.37 800.8,366.28 801.2,366.17 801.6,366.04 802.0,365.89 802.4,365.72 802.8,365.54 803.2,365.36 803.6,365.19 804.0,365.03 804.4,364.92 804.8,364.85 805.2,364.84 805.6,364.88 806.0,364.95 806.4,365.03 806.8,365.12 807.2,365.18 807.6,365.22 808.0,365.23 808.4,365.22 808.8,365.18 809.2,365.12 809.6,365.03 810.0,364.93 810.4,364.83 810.8,364.73 811.2,364.63 811.6,364.56 812.0,364.52 812.4,364.51 812.8,364.55 813.2,364.61 813.6,364.71 814.0,364.82 814.4,364.94 814.8,365.07 815.2,365.18 815.6,365.27 816.0,365.35 816.4,365.41 816.8,365.45 817.2,365.48 817.6,365.49 818.0,365.49 818.4,365.47 818.8,365.44 819.2,365.40 819.6,365.34 820.0,365.26 820.4,365.17 820.8,365.08 821.2,364.97 821.6,364.87 822.0,364.77 822.4,364.68 822.8,364.60 823.2,364.54 823.6,364.48 824.0,364.42 824.4,364.35 824.8,364.25 825.2,364.13 825.6,363.96 826.0,363.75 826.4,363.50 826.8,363.22 827.2,362.90 827.6,362.55 828.0,362.17 828.4,361.75 828.8,361.24 829.2,360.62 829.6,359.88 830.0,359.00 830.4,357.97 830.8,356.78 831.2,355.34 831.6,352.64 832.0,348.72 832.4,344.20 832.8,339.66 833.2,335.51 833.6,331.12 834.0,326.62 834.4,322.27 834.8,318.34 835.2,314.46 835.6,310.86 836.0,307.77 836.4,304.16 836.8,299.86 837.2,296.57 837.6,297.81 838.0,302.52 838.4,307.27 838.8,311.01 839.2,313.38 839.6,313.88 840.0,308.55 840.4,296.72 840.8,282.63 841.2,269.01 841.6,252.02 842.0,234.43 842.4,225.81 842.8,231.66 843.2,242.79 843.6,252.53 844.0,263.25 844.4,274.27 844.8,281.39 845.2,287.10 845.6,291.92 846.0,296.09 846.4,299.81 846.8,303.09 847.2,305.86 847.6,308.34 848.0,310.71 848.4,313.20 848.8,315.98 849.2,319.31 849.6,323.21 850.0,327.36 850.4,331.44 850.8,335.15 851.2,338.66 851.6,342.26 852.0,345.80 852.4,349.12 852.8,352.07 853.2,354.49 853.6,356.21 854.0,357.47 854.4,358.61 854.8,359.62 855.2,360.50 855.6,361.26 856.0,361.90 856.4,362.42 856.8,362.82 857.2,363.11 857.6,363.38 858.0,363.63 858.4,363.87 858.8,364.09 859.2,364.29 859.6,364.46 860.0,364.63 860.4,364.78 860.8,364.94 861.2,365.10 861.6,365.27 862.0,365.46 862.4,365.66 862.8,365.85 863.2,366.03 863.6,366.17 864.0,366.27 864.4,366.31 864.8,366.30 865.2,366.24 865.6,366.14 866.0,366.04 866.4,365.93 866.8,365.84 867.2,365.77 867.6,365.73 868.0,365.71 868.4,365.68 868.8,365.66 869.2,365.63 869.6,365.59 870.0,365.54 870.4,365.47 870.8,365.37 871.2,365.26 871.6,365.14 872.0,365.02 872.4,364.89 872.8,364.76 873.2,364.64 873.6,364.51 874.0,364.39 874.4,364.25 874.8,364.07 875.2,363.84 875.6,363.52 876.0,363.08 876.4,362.46 876.8,361.61 877.2,360.40 877.6,358.64 878.0,355.99 878.4,351.83 878.8,345.08 879.2,334.12 879.6,317.63 880.0,298.61 880.4,289.16 880.8,298.60 881.2,317.62 881.6,334.11 882.0,345.05 882.4,351.77 882.8,355.89 883.2,358.50 883.6,360.22 884.0,361.40 884.4,362.25 884.8,362.87 885.2,363.35 885.6,363.73 886.0,364.04 886.4,364.29 886.8,364.50 887.2,364.68 887.6,364.83 888.0,364.96 888.4,365.06 888.8,365.14 889.2,365.22 889.6,365.28 890.0,365.33 890.4,365.37 890.8,365.40 891.2,365.43 891.6,365.46 892.0,365.50 892.4,365.53 892.8,365.57 893.2,365.59 893.6,365.60 894.0,365.58 894.4,365.53 894.8,365.46 895.2,365.34 895.6,365.18 896.0,364.93 896.4,364.55 896.8,363.95 897.2,363.06 897.6,362.07 898.0,361.80 898.4,362.58 898.8,363.59 899.2,364.33 899.6,364.79 900.0,365.06 900.4,365.20 900.8,365.27 901.2,365.29 901.6,365.28 902.0,365.25 902.4,365.19 902.8,365.11 903.2,365.00 903.6,364.87 904.0,364.69 904.4,364.48 904.8,364.22 905.2,363.89 905.6,363.49 906.0,362.98 906.4,362.32 906.8,361.44 907.2,360.26 907.6,358.59 908.0,356.15 908.4,352.44 908.8,346.52 909.2,336.68 909.6,319.81 910.0,291.47 910.4,250.21 910.8,212.32 911.2,211.87 911.6,248.83 912.0,289.05 912.4,316.08 912.8,330.95 913.2,337.19 913.6,335.72 914.0,323.64 914.4,296.72 914.8,270.18 915.2,282.97 915.6,317.41 916.0,340.66 916.4,352.14 916.8,357.67 917.2,360.52 917.6,362.14 918.0,363.15 918.4,363.87 918.8,364.38 919.2,364.78 919.6,365.10 920.0,365.35 920.4,365.57 920.8,365.76 921.2,365.92 921.6,366.07 922.0,366.20 922.4,366.33 922.8,366.45 923.2,366.56 923.6,366.66 924.0,366.74 924.4,366.81 924.8,366.86 925.2,366.90 925.6,366.92 926.0,366.95 926.4,366.97 926.8,367.00 927.2,367.03 927.6,367.09 928.0,367.16 928.4,367.25 928.8,367.33 929.2,367.42 929.6,367.49 930.0,367.55 930.4,367.57 930.8,367.58 931.2,367.57 931.6,367.56 932.0,367.54 932.4,367.52 932.8,367.50 933.2,367.50 933.6,367.50 934.0,367.49 934.4,367.48 934.8,367.45 935.2,367.39 935.6,367.30 936.0,367.15 936.4,366.89 936.8,366.46 937.2,365.91 937.6,365.75 938.0,366.21 938.4,366.75 938.8,367.11 939.2,367.32 939.6,367.45 940.0,367.53 940.4,367.57 940.8,367.59 941.2,367.60 941.6,367.61 942.0,367.62 942.4,367.64 942.8,367.68 943.2,367.75 943.6,367.82 944.0,367.90 944.4,367.97 944.8,368.02 945.2,368.04 945.6,368.04 946.0,368.04 946.4,368.03 946.8,368.03 947.2,368.02 947.6,368.01 948.0,368.01 948.4,368.00 948.8,368.00 949.2,367.99 949.6,367.99 950.0,367.98 950.4,367.98 950.8,367.97 951.2,367.96 951.6,367.93 952.0,367.89 952.4,367.82 952.8,367.75 953.2,367.68 953.6,367.62 954.0,367.58 954.4,367.56 954.8,367.55 955.2,367.56 955.6,367.57 956.0,367.58 956.4,367.58 956.8,367.57 957.2,367.56 957.6,367.53 958.0,367.49 958.4,367.44 958.8,367.38 959.2,367.30 959.6,367.19 960.0,367.05 960.4,366.87 960.8,366.63 961.2,366.31 961.6,365.91 962.0,365.39 962.4,364.74 962.8,363.88 963.2,362.70 963.6,361.00 964.0,358.42 964.4,354.32 964.8,347.63 965.2,336.87 965.6,321.34 966.0,305.52 966.4,301.22 966.8,312.83 967.2,329.61 967.6,342.85 968.0,351.38 968.4,356.60 968.8,359.85 969.2,361.95 969.6,363.36 970.0,364.35 970.4,365.07 970.8,365.60 971.2,366.02 971.6,366.35 972.0,366.61 972.4,366.82 972.8,367.00 973.2,367.16 973.6,367.29 974.0,367.41 974.4,367.51 974.8,367.60 975.2,367.68 975.6,367.75 976.0,367.83 976.4,367.89 976.8,367.95 977.2,368.01 977.6,368.06 978.0,368.11 978.4,368.14 978.8,368.18 979.2,368.21 979.6,368.23 980.0,368.26 980.4,368.29 980.8,368.31 981.2,368.34 981.6,368.37 982.0,368.42 982.4,368.48 982.8,368.54 983.2,368.60 983.6,368.66 984.0,368.69 984.4,368.71 984.8,368.70 985.2,368.68 985.6,368.64 986.0,368.60 986.4,368.56 986.8,368.53 987.2,368.51 987.6,368.49 988.0,368.47 988.4,368.46 988.8,368.45 989.2,368.44 989.6,368.44 990.0,368.44 990.4,368.46 990.8,368.51 991.2,368.59 991.6,368.69 992.0,368.79 992.4,368.88 992.8,368.95 993.2,368.98 993.6,368.97 994.0,368.93 994.4,368.87 994.8,368.80 995.2,368.73 995.6,368.67 996.0,368.64 996.4,368.65 996.8,368.66 997.2,368.67 997.6,368.68 998.0,368.69 998.4,368.70 998.8,368.71 999.2,368.73 999.6,368.76 1000.0,368.83 1000.4,368.92 1000.8,369.02 1001.2,369.12 1001.6,369.20 1002.0,369.24 1002.4,369.26 1002.8,369.26 1003.2,369.25 1003.6,369.24 1004.0,369.23 1004.4,369.21 1004.8,369.20 1005.2,369.18 1005.6,369.16 1006.0,369.14 1006.4,369.11 1006.8,369.08 1007.2,369.05 1007.6,369.02 1008.0,369.00 1008.4,368.98 1008.8,368.97 1009.2,368.95 1009.6,368.93 1010.0,368.92 1010.4,368.91 1010.8,368.90 1011.2,368.90 1011.6,368.91 1012.0,368.93 1012.4,368.95 1012.8,368.98 1013.2,369.01 1013.6,369.03 1014.0,369.04 1014.4,369.04 1014.8,369.03 1015.2,369.02 1015.6,369.01 1016.0,369.00 1016.4,368.99 1016.8,368.97 1017.2,368.96 1017.6,368.96 1018.0,368.98 1018.4,369.01 1018.8,369.04 1019.2,369.07 1019.6,369.09 1020.0,369.08 1020.4,369.04 1020.8,368.98 1021.2,368.90 1021.6,368.81 1022.0,368.72 1022.4,368.62 1022.8,368.53 1023.2,368.46 1023.6,368.41 1024.0,368.36 1024.4,368.33 1024.8,368.31 1025.2,368.31 1025.6,368.33 1026.0,368.35 1026.4,368.39 1026.8,368.47 1027.2,368.57 1027.6,368.68 1028.0,368.79 1028.4,368.88 1028.8,368.94 1029.2,368.95 1029.6,368.94 1030.0,368.91 1030.4,368.87 1030.8,368.83 1031.2,368.80 1031.6,368.77 1032.0,368.75 1032.4,368.74 1032.8,368.73 1033.2,368.72 1033.6,368.72 1034.0,368.72 1034.4,368.73 1034.8,368.76 1035.2,368.79 1035.6,368.84 1036.0,368.88 1036.4,368.91 1036.8,368.94 1037.2,368.97 1037.6,369.00 1038.0,369.02 1038.4,369.05 1038.8,369.08 1039.2,369.13 1039.6,369.18 1040.0,369.23 1040.4,369.28 1040.8,369.32 1041.2,369.34 1041.6,369.33 1042.0,369.32 1042.4,369.29 1042.8,369.25 1043.2,369.22 1043.6,369.20 1044.0,369.18 1044.4,369.19 1044.8,369.22 1045.2,369.27 1045.6,369.33 1046.0,369.39 1046.4,369.45 1046.8,369.49 1047.2,369.51 1047.6,369.51 1048.0,369.51 1048.4,369.51 1048.8,369.52 1049.2,369.52 1049.6,369.52 1050.0,369.52 1050.4,369.51 1050.8,369.48 1051.2,369.44 1051.6,369.38 1052.0,369.31 1052.4,369.26 1052.8,369.22 1053.2,369.21 1053.6,369.23 1054.0,369.28 1054.4,369.36 1054.8,369.45 1055.2,369.53 1055.6,369.60 1056.0,369.64 1056.4,369.64 1056.8,369.64 1057.2,369.64 1057.6,369.64 1058.0,369.64 1058.4,369.64 1058.8,369.64 1059.2,369.64 1059.6,369.64 1060.0,369.65 1060.4,369.66 1060.8,369.68 1061.2,369.69 1061.6,369.70 1062.0,369.71 1062.4,369.71 1062.8,369.70 1063.2,369.68 1063.6,369.65 1064.0,369.63 1064.4,369.60 1064.8,369.59 1065.2,369.58 1065.6,369.58 1066.0,369.58 1066.4,369.59 1066.8,369.59 1067.2,369.59 1067.6,369.59 1068.0,369.60 1068.4,369.59 1068.8,369.57 1069.2,369.53 1069.6,369.48 1070.0,369.43 1070.4,369.38 1070.8,369.33 1071.2,369.31 1071.6,369.29 1072.0,369.28 1072.4,369.26 1072.8,369.25 1073.2,369.24 1073.6,369.24 1074.0,369.23" fill="none" stroke="#ff0000" stroke-width="3.8" stroke-linejoin="round" stroke-linecap="round"/>
<polyline points="205.2,448.21 205.6,448.27 206.0,448.33 206.4,448.37 206.8,448.41 207.2,448.42 207.6,448.41 208.0,448.40 208.4,448.39 208.8,448.37 209.2,448.35 209.6,448.33 210.0,448.30 210.4,448.28 210.8,448.24 211.2,448.19 211.6,448.14 212.0,448.10 212.4,448.06 212.8,448.03 213.2,448.02 213.6,448.02 214.0,448.04 214.4,448.07 214.8,448.11 215.2,448.14 215.6,448.17 216.0,448.19 216.4,448.20 216.8,448.20 217.2,448.21 217.6,448.21 218.0,448.21 218.4,448.21 218.8,448.21 219.2,448.21 219.6,448.20 220.0,448.18 220.4,448.15 220.8,448.11 221.2,448.08 221.6,448.05 222.0,448.03 222.4,448.03 222.8,448.06 223.2,448.11 223.6,448.17 224.0,448.23 224.4,448.28 224.8,448.32 225.2,448.34 225.6,448.32 226.0,448.28 226.4,448.22 226.8,448.15 227.2,448.08 227.6,448.03 228.0,447.99 228.4,447.99 228.8,448.00 229.2,448.02 229.6,448.04 230.0,448.07 230.4,448.10 230.8,448.12 231.2,448.13 231.6,448.15 232.0,448.16 232.4,448.17 232.8,448.18 233.2,448.19 233.6,448.19 234.0,448.20 234.4,448.20 234.8,448.19 235.2,448.18 235.6,448.17 236.0,448.16 236.4,448.15 236.8,448.15 237.2,448.14 237.6,448.14 238.0,448.15 238.4,448.16 238.8,448.18 239.2,448.19 239.6,448.20 240.0,448.22 240.4,448.23 240.8,448.24 241.2,448.25 241.6,448.26 242.0,448.27 242.4,448.28 242.8,448.29 243.2,448.30 243.6,448.31 244.0,448.33 244.4,448.35 244.8,448.37 245.2,448.39 245.6,448.40 246.0,448.41 246.4,448.41 246.8,448.37 247.2,448.31 247.6,448.24 248.0,448.17 248.4,448.10 248.8,448.06 249.2,448.04 249.6,448.04 250.0,448.07 250.4,448.10 250.8,448.14 251.2,448.17 251.6,448.21 252.0,448.23 252.4,448.23 252.8,448.24 253.2,448.24 253.6,448.25 254.0,448.25 254.4,448.25 254.8,448.25 255.2,448.25 255.6,448.24 256.0,448.22 256.4,448.19 256.8,448.15 257.2,448.11 257.6,448.07 258.0,448.04 258.4,448.01 258.8,447.98 259.2,447.95 259.6,447.93 260.0,447.90 260.4,447.88 260.8,447.86 261.2,447.86 261.6,447.88 262.0,447.95 262.4,448.05 262.8,448.15 263.2,448.25 263.6,448.33 264.0,448.38 264.4,448.38 264.8,448.35 265.2,448.29 265.6,448.22 266.0,448.15 266.4,448.08 266.8,448.03 267.2,448.01 267.6,448.01 268.0,448.01 268.4,448.01 268.8,448.01 269.2,448.01 269.6,448.01 270.0,448.02 270.4,448.02 270.8,448.05 271.2,448.10 271.6,448.16 272.0,448.22 272.4,448.28 272.8,448.32 273.2,448.33 273.6,448.32 274.0,448.30 274.4,448.28 274.8,448.25 275.2,448.21 275.6,448.19 276.0,448.16 276.4,448.15 276.8,448.14 277.2,448.12 277.6,448.11 278.0,448.10 278.4,448.09 278.8,448.09 279.2,448.09 279.6,448.09 280.0,448.11 280.4,448.14 280.8,448.17 281.2,448.20 281.6,448.23 282.0,448.24 282.4,448.23 282.8,448.19 283.2,448.13 283.6,448.05 284.0,447.96 284.4,447.89 284.8,447.83 285.2,447.81 285.6,447.82 286.0,447.86 286.4,447.92 286.8,447.99 287.2,448.05 287.6,448.10 288.0,448.13 288.4,448.12 288.8,448.09 289.2,448.06 289.6,448.01 290.0,447.95 290.4,447.90 290.8,447.83 291.2,447.77 291.6,447.69 292.0,447.60 292.4,447.49 292.8,447.37 293.2,447.21 293.6,447.01 294.0,446.76 294.4,446.43 294.8,445.97 295.2,445.31 295.6,444.33 296.0,442.80 296.4,440.40 296.8,436.68 297.2,431.28 297.6,424.72 298.0,419.65 298.4,419.68 298.8,424.79 299.2,431.40 299.6,436.85 300.0,440.63 300.4,443.07 300.8,444.62 301.2,445.60 301.6,446.21 302.0,446.61 302.4,446.88 302.8,447.07 303.2,447.22 303.6,447.37 304.0,447.50 304.4,447.62 304.8,447.72 305.2,447.82 305.6,447.89 306.0,447.94 306.4,447.97 306.8,447.97 307.2,447.96 307.6,447.94 308.0,447.92 308.4,447.89 308.8,447.88 309.2,447.88 309.6,447.89 310.0,447.93 310.4,447.97 310.8,448.02 311.2,448.07 311.6,448.11 312.0,448.14 312.4,448.14 312.8,448.14 313.2,448.14 313.6,448.13 314.0,448.13 314.4,448.13 314.8,448.12 315.2,448.12 315.6,448.10 316.0,448.06 316.4,448.01 316.8,447.95 317.2,447.89 317.6,447.84 318.0,447.81 318.4,447.81 318.8,447.83 319.2,447.88 319.6,447.93 320.0,447.99 320.4,448.04 320.8,448.07 321.2,448.08 321.6,448.06 322.0,448.03 322.4,448.00 322.8,447.97 323.2,447.93 323.6,447.89 324.0,447.86 324.4,447.83 324.8,447.80 325.2,447.76 325.6,447.72 326.0,447.67 326.4,447.62 326.8,447.55 327.2,447.47 327.6,447.37 328.0,447.26 328.4,447.12 328.8,446.94 329.2,446.71 329.6,446.42 330.0,446.05 330.4,445.59 330.8,445.07 331.2,444.55 331.6,444.16 332.0,444.02 332.4,444.18 332.8,444.55 333.2,445.01 333.6,445.46 334.0,445.85 334.4,446.17 334.8,446.43 335.2,446.63 335.6,446.77 336.0,446.87 336.4,446.93 336.8,446.96 337.2,446.96 337.6,446.93 338.0,446.88 338.4,446.80 338.8,446.68 339.2,446.52 339.6,446.30 340.0,445.99 340.4,445.59 340.8,445.09 341.2,444.48 341.6,443.73 342.0,442.81 342.4,441.68 342.8,440.32 343.2,438.74 343.6,437.11 344.0,435.82 344.4,435.35 344.8,435.95 345.2,437.34 345.6,439.04 346.0,440.66 346.4,442.03 346.8,443.11 347.2,443.95 347.6,444.60 348.0,445.12 348.4,445.54 348.8,445.89 349.2,446.16 349.6,446.39 350.0,446.58 350.4,446.73 350.8,446.86 351.2,446.96 351.6,447.03 352.0,447.08 352.4,447.10 352.8,447.10 353.2,447.10 353.6,447.10 354.0,447.10 354.4,447.11 354.8,447.14 355.2,447.18 355.6,447.22 356.0,447.26 356.4,447.28 356.8,447.27 357.2,447.23 357.6,447.15 358.0,447.04 358.4,446.90 358.8,446.73 359.2,446.54 359.6,446.34 360.0,446.11 360.4,445.88 360.8,445.66 361.2,445.44 361.6,445.24 362.0,445.09 362.4,444.99 362.8,444.99 363.2,445.06 363.6,445.21 364.0,445.40 364.4,445.61 364.8,445.83 365.2,446.03 365.6,446.23 366.0,446.41 366.4,446.60 366.8,446.77 367.2,446.94 367.6,447.09 368.0,447.22 368.4,447.34 368.8,447.43 369.2,447.51 369.6,447.56 370.0,447.60 370.4,447.63 370.8,447.65 371.2,447.67 371.6,447.68 372.0,447.70 372.4,447.73 372.8,447.76 373.2,447.80 373.6,447.84 374.0,447.88 374.4,447.91 374.8,447.94 375.2,447.96 375.6,447.96 376.0,447.94 376.4,447.91 376.8,447.88 377.2,447.84 377.6,447.81 378.0,447.80 378.4,447.80 378.8,447.81 379.2,447.81 379.6,447.81 380.0,447.82 380.4,447.82 380.8,447.83 381.2,447.83 381.6,447.85 382.0,447.89 382.4,447.95 382.8,448.02 383.2,448.08 383.6,448.13 384.0,448.16 384.4,448.17 384.8,448.17 385.2,448.18 385.6,448.18 386.0,448.18 386.4,448.19 386.8,448.19 387.2,448.19 387.6,448.19 388.0,448.18 388.4,448.16 388.8,448.14 389.2,448.12 389.6,448.11 390.0,448.10 390.4,448.10 390.8,448.12 391.2,448.15 391.6,448.19 392.0,448.23 392.4,448.27 392.8,448.29 393.2,448.30 393.6,448.29 394.0,448.24 394.4,448.17 394.8,448.09 395.2,448.02 395.6,447.96 396.0,447.92 396.4,447.92 396.8,447.96 397.2,448.01 397.6,448.08 398.0,448.15 398.4,448.21 398.8,448.26 399.2,448.28 399.6,448.26 400.0,448.21 400.4,448.15 400.8,448.07 401.2,448.00 401.6,447.94 402.0,447.91 402.4,447.91 402.8,447.95 403.2,448.02 403.6,448.10 404.0,448.19 404.4,448.27 404.8,448.32 405.2,448.35 405.6,448.34 406.0,448.32 406.4,448.28 406.8,448.25 407.2,448.21 407.6,448.18 408.0,448.16 408.4,448.16 408.8,448.16 409.2,448.16 409.6,448.15 410.0,448.15 410.4,448.15 410.8,448.15 411.2,448.15 411.6,448.16 412.0,448.19 412.4,448.22 412.8,448.26 413.2,448.30 413.6,448.33 414.0,448.35 414.4,448.35 414.8,448.34 415.2,448.33 415.6,448.31 416.0,448.29 416.4,448.27 416.8,448.26 417.2,448.25 417.6,448.25 418.0,448.25 418.4,448.25 418.8,448.25 419.2,448.25 419.6,448.25 420.0,448.25 420.4,448.25 420.8,448.21 421.2,448.14 421.6,448.07 422.0,447.99 422.4,447.91 422.8,447.86 423.2,447.84 423.6,447.85 424.0,447.87 424.4,447.90 424.8,447.94 425.2,447.97 425.6,447.99 426.0,448.01 426.4,448.01 426.8,447.99 427.2,447.97 427.6,447.94 428.0,447.91 428.4,447.88 428.8,447.86 429.2,447.85 429.6,447.85 430.0,447.86 430.4,447.87 430.8,447.88 431.2,447.89 431.6,447.89 432.0,447.90 432.4,447.90 432.8,447.90 433.2,447.90 433.6,447.90 434.0,447.90 434.4,447.90 434.8,447.90 435.2,447.90 435.6,447.92 436.0,447.96 436.4,448.02 436.8,448.09 437.2,448.15 437.6,448.21 438.0,448.23 438.4,448.23 438.8,448.19 439.2,448.13 439.6,448.04 440.0,447.96 440.4,447.89 440.8,447.83 441.2,447.81 441.6,447.80 442.0,447.81 442.4,447.81 442.8,447.82 443.2,447.83 443.6,447.84 444.0,447.85 444.4,447.85 444.8,447.86 445.2,447.86 445.6,447.86 446.0,447.86 446.4,447.87 446.8,447.87 447.2,447.87 447.6,447.87 448.0,447.88 448.4,447.89 448.8,447.90 449.2,447.90 449.6,447.90 450.0,447.89 450.4,447.86 450.8,447.83 451.2,447.79 451.6,447.75 452.0,447.69 452.4,447.63 452.8,447.55 453.2,447.46 453.6,447.35 454.0,447.22 454.4,447.08 454.8,446.92 455.2,446.75 455.6,446.59 456.0,446.43 456.4,446.30 456.8,446.19 457.2,446.11 457.6,446.06 458.0,446.04 458.4,446.05 458.8,446.09 459.2,446.13 459.6,446.18 460.0,446.22 460.4,446.26 460.8,446.28 461.2,446.29 461.6,446.30 462.0,446.30 462.4,446.30 462.8,446.33 463.2,446.39 463.6,446.48 464.0,446.59 464.4,446.72 464.8,446.85 465.2,446.98 465.6,447.09 466.0,447.15 466.4,447.20 466.8,447.22 467.2,447.23 467.6,447.25 468.0,447.28 468.4,447.34 468.8,447.42 469.2,447.51 469.6,447.62 470.0,447.72 470.4,447.81 470.8,447.89 471.2,447.93 471.6,447.94 472.0,447.94 472.4,447.93 472.8,447.91 473.2,447.89 473.6,447.88 474.0,447.87 474.4,447.88 474.8,447.90 475.2,447.93 475.6,447.96 476.0,447.99 476.4,448.02 476.8,448.04 477.2,448.06 477.6,448.08 478.0,448.09 478.4,448.10 478.8,448.12 479.2,448.13 479.6,448.13 480.0,448.14 480.4,448.14 480.8,448.15 481.2,448.15 481.6,448.15 482.0,448.16 482.4,448.16 482.8,448.16 483.2,448.16 483.6,448.16 484.0,448.15 484.4,448.14 484.8,448.13 485.2,448.11 485.6,448.10 486.0,448.10 486.4,448.10 486.8,448.10 487.2,448.11 487.6,448.11 488.0,448.11 488.4,448.12 488.8,448.12 489.2,448.12 489.6,448.11 490.0,448.09 490.4,448.06 490.8,448.02 491.2,447.98 491.6,447.95 492.0,447.93 492.4,447.93 492.8,447.95 493.2,447.97 493.6,448.00 494.0,448.03 494.4,448.06 494.8,448.08 495.2,448.09 495.6,448.08 496.0,448.05 496.4,448.02 496.8,447.98 497.2,447.94 497.6,447.90 498.0,447.88 498.4,447.88 498.8,447.90 499.2,447.92 499.6,447.96 500.0,447.99 500.4,448.02 500.8,448.05 501.2,448.06 501.6,448.06 502.0,448.06 502.4,448.06 502.8,448.06 503.2,448.06 503.6,448.06 504.0,448.06 504.4,448.06 504.8,448.07 505.2,448.09 505.6,448.10 506.0,448.12 506.4,448.13 506.8,448.14 507.2,448.14 507.6,448.12 508.0,448.09 508.4,448.05 508.8,448.00 509.2,447.95 509.6,447.90 510.0,447.85 510.4,447.80 510.8,447.74 511.2,447.68 511.6,447.62 512.0,447.56 512.4,447.50 512.8,447.44 513.2,447.39 513.6,447.36 514.0,447.34 514.4,447.33 514.8,447.31 515.2,447.29 515.6,447.24 516.0,447.15 516.4,447.03 516.8,446.86 517.2,446.66 517.6,446.42 518.0,446.15 518.4,445.84 518.8,445.50 519.2,445.14 519.6,444.77 520.0,444.41 520.4,444.09 520.8,443.84 521.2,443.70 521.6,443.71 522.0,443.86 522.4,444.11 522.8,444.44 523.2,444.81 523.6,445.16 524.0,445.50 524.4,445.80 524.8,446.07 525.2,446.32 525.6,446.54 526.0,446.73 526.4,446.89 526.8,447.03 527.2,447.15 527.6,447.25 528.0,447.34 528.4,447.42 528.8,447.51 529.2,447.62 529.6,447.72 530.0,447.83 530.4,447.92 530.8,447.99 531.2,448.04 531.6,448.06 532.0,448.05 532.4,448.02 532.8,447.99 533.2,447.96 533.6,447.93 534.0,447.92 534.4,447.92 534.8,447.93 535.2,447.94 535.6,447.95 536.0,447.95 536.4,447.96 536.8,447.97 537.2,447.98 537.6,447.99 538.0,447.99 538.4,448.00 538.8,448.01 539.2,448.01 539.6,448.02 540.0,448.03 540.4,448.03 540.8,448.04 541.2,448.06 541.6,448.08 542.0,448.10 542.4,448.11 542.8,448.13 543.2,448.13 543.6,448.13 544.0,448.10 544.4,448.07 544.8,448.03 545.2,447.99 545.6,447.96 546.0,447.94 546.4,447.95 546.8,447.97 547.2,448.00 547.6,448.04 548.0,448.08 548.4,448.13 548.8,448.17 549.2,448.21 549.6,448.24 550.0,448.28 550.4,448.32 550.8,448.36 551.2,448.39 551.6,448.41 552.0,448.43 552.4,448.43 552.8,448.41 553.2,448.38 553.6,448.34 554.0,448.31 554.4,448.27 554.8,448.25 555.2,448.24 555.6,448.25 556.0,448.26 556.4,448.27 556.8,448.29 557.2,448.30 557.6,448.32 558.0,448.34 558.4,448.36 558.8,448.38 559.2,448.40 559.6,448.42 560.0,448.44 560.4,448.45 560.8,448.46 561.2,448.47 561.6,448.47 562.0,448.46 562.4,448.46 562.8,448.45 563.2,448.44 563.6,448.43 564.0,448.42 564.4,448.41 564.8,448.40 565.2,448.40 565.6,448.39 566.0,448.38 566.4,448.37 566.8,448.37 567.2,448.37 567.6,448.37 568.0,448.37 568.4,448.38 568.8,448.39 569.2,448.40 569.6,448.40 570.0,448.41 570.4,448.41 570.8,448.41 571.2,448.41 571.6,448.41 572.0,448.41 572.4,448.42 572.8,448.42 573.2,448.42 573.6,448.40 574.0,448.36 574.4,448.31 574.8,448.25 575.2,448.19 575.6,448.14 576.0,448.11 576.4,448.11 576.8,448.12 577.2,448.14 577.6,448.17 578.0,448.19 578.4,448.21 578.8,448.23 579.2,448.24 579.6,448.23 580.0,448.23 580.4,448.22 580.8,448.20 581.2,448.19 581.6,448.18 582.0,448.17 582.4,448.16 582.8,448.15 583.2,448.14 583.6,448.14 584.0,448.13 584.4,448.13 584.8,448.12 585.2,448.12 585.6,448.13 586.0,448.15 586.4,448.18 586.8,448.22 587.2,448.25 587.6,448.28 588.0,448.29 588.4,448.29 588.8,448.28 589.2,448.26 589.6,448.23 590.0,448.20 590.4,448.18 590.8,448.16 591.2,448.16 591.6,448.16 592.0,448.18 592.4,448.21 592.8,448.25 593.2,448.28 593.6,448.30 594.0,448.32 594.4,448.32 594.8,448.32 595.2,448.32 595.6,448.32 596.0,448.32 596.4,448.31 596.8,448.31 597.2,448.30 597.6,448.29 598.0,448.25 598.4,448.21 598.8,448.15 599.2,448.11 599.6,448.07 600.0,448.04 600.4,448.04 600.8,448.06 601.2,448.09 601.6,448.13 602.0,448.16 602.4,448.19 602.8,448.22 603.2,448.23 603.6,448.23 604.0,448.22 604.4,448.22 604.8,448.21 605.2,448.21 605.6,448.20 606.0,448.20 606.4,448.20 606.8,448.22 607.2,448.24 607.6,448.28 608.0,448.31 608.4,448.34 608.8,448.36 609.2,448.37 609.6,448.36 610.0,448.31 610.4,448.25 610.8,448.19 611.2,448.12 611.6,448.07 612.0,448.04 612.4,448.03 612.8,448.03 613.2,448.04 613.6,448.04 614.0,448.05 614.4,448.06 614.8,448.07 615.2,448.08 615.6,448.09 616.0,448.12 616.4,448.15 616.8,448.19 617.2,448.22 617.6,448.25 618.0,448.26 618.4,448.26 618.8,448.26 619.2,448.25 619.6,448.24 620.0,448.22 620.4,448.21 620.8,448.21 621.2,448.20 621.6,448.21 622.0,448.23 622.4,448.25 622.8,448.28 623.2,448.31 623.6,448.33 624.0,448.34 624.4,448.34 624.8,448.33 625.2,448.31 625.6,448.27 626.0,448.24 626.4,448.21 626.8,448.18 627.2,448.16 627.6,448.15 628.0,448.13 628.4,448.12 628.8,448.11 629.2,448.10 629.6,448.09 630.0,448.08 630.4,448.09 630.8,448.13 631.2,448.19 631.6,448.27 632.0,448.34 632.4,448.42 632.8,448.47 633.2,448.49 633.6,448.47 634.0,448.42 634.4,448.36 634.8,448.29 635.2,448.22 635.6,448.16 636.0,448.12 636.4,448.10 636.8,448.09 637.2,448.08 637.6,448.07 638.0,448.06 638.4,448.05 638.8,448.05 639.2,448.05 639.6,448.05 640.0,448.06 640.4,448.07 640.8,448.08 641.2,448.10 641.6,448.11 642.0,448.12 642.4,448.12 642.8,448.13 643.2,448.13 643.6,448.14 644.0,448.14 644.4,448.15 644.8,448.15 645.2,448.15 645.6,448.15 646.0,448.14 646.4,448.13 646.8,448.11 647.2,448.10 647.6,448.09 648.0,448.09 648.4,448.09 648.8,448.10 649.2,448.11 649.6,448.14 650.0,448.17 650.4,448.20 650.8,448.23 651.2,448.25 651.6,448.28 652.0,448.32 652.4,448.36 652.8,448.39 653.2,448.43 653.6,448.45 654.0,448.47 654.4,448.46 654.8,448.42 655.2,448.35 655.6,448.27 656.0,448.18 656.4,448.10 656.8,448.04 657.2,448.02 657.6,448.03 658.0,448.04 658.4,448.06 658.8,448.09 659.2,448.11 659.6,448.14 660.0,448.17 660.4,448.19 660.8,448.21 661.2,448.22 661.6,448.24 662.0,448.26 662.4,448.28 662.8,448.30 663.2,448.31 663.6,448.33 664.0,448.35 664.4,448.36 664.8,448.38 665.2,448.40 665.6,448.41 666.0,448.42 666.4,448.43 666.8,448.44 667.2,448.46 667.6,448.47 668.0,448.48 668.4,448.48 668.8,448.49 669.2,448.49 669.6,448.46 670.0,448.40 670.4,448.32 670.8,448.23 671.2,448.14 671.6,448.06 672.0,448.02 672.4,448.01 672.8,448.03 673.2,448.05 673.6,448.09 674.0,448.12 674.4,448.16 674.8,448.20 675.2,448.23 675.6,448.26 676.0,448.29 676.4,448.32 676.8,448.35 677.2,448.38 677.6,448.40 678.0,448.41 678.4,448.41 678.8,448.36 679.2,448.29 679.6,448.21 680.0,448.11 680.4,448.03 680.8,447.98 681.2,447.95 681.6,447.97 682.0,448.00 682.4,448.05 682.8,448.11 683.2,448.17 683.6,448.21 684.0,448.24 684.4,448.24 684.8,448.22 685.2,448.18 685.6,448.14 686.0,448.09 686.4,448.05 686.8,448.02 687.2,448.01 687.6,448.03 688.0,448.06 688.4,448.11 688.8,448.17 689.2,448.23 689.6,448.28 690.0,448.32 690.4,448.34 690.8,448.36 691.2,448.38 691.6,448.40 692.0,448.41 692.4,448.42 692.8,448.42 693.2,448.43 693.6,448.42 694.0,448.40 694.4,448.37 694.8,448.34 695.2,448.30 695.6,448.26 696.0,448.22 696.4,448.18 696.8,448.14 697.2,448.09 697.6,448.04 698.0,447.99 698.4,447.95 698.8,447.92 699.2,447.91 699.6,447.91 700.0,447.91 700.4,447.91 700.8,447.92 701.2,447.92 701.6,447.93 702.0,447.93 702.4,447.94 702.8,447.95 703.2,447.98 703.6,448.00 704.0,448.03 704.4,448.06 704.8,448.09 705.2,448.12 705.6,448.16 706.0,448.20 706.4,448.24 706.8,448.28 707.2,448.31 707.6,448.34 708.0,448.36 708.4,448.35 708.8,448.32 709.2,448.27 709.6,448.21 710.0,448.14 710.4,448.08 710.8,448.04 711.2,448.02 711.6,448.03 712.0,448.06 712.4,448.10 712.8,448.15 713.2,448.19 713.6,448.23 714.0,448.25 714.4,448.25 714.8,448.24 715.2,448.22 715.6,448.20 716.0,448.17 716.4,448.15 716.8,448.12 717.2,448.11 717.6,448.09 718.0,448.08 718.4,448.06 718.8,448.05 719.2,448.04 719.6,448.03 720.0,448.03 720.4,448.03 720.8,448.05 721.2,448.09 721.6,448.13 722.0,448.18 722.4,448.22 722.8,448.25 723.2,448.27 723.6,448.25 724.0,448.23 724.4,448.19 724.8,448.14 725.2,448.10 725.6,448.07 726.0,448.05 726.4,448.05 726.8,448.05 727.2,448.05 727.6,448.05 728.0,448.06 728.4,448.06 728.8,448.07 729.2,448.08 729.6,448.09 730.0,448.12 730.4,448.16 730.8,448.20 731.2,448.24 731.6,448.27 732.0,448.29 732.4,448.29 732.8,448.28 733.2,448.25 733.6,448.22 734.0,448.19 734.4,448.17 734.8,448.15 735.2,448.14 735.6,448.15 736.0,448.17 736.4,448.20 736.8,448.23 737.2,448.26 737.6,448.28 738.0,448.30 738.4,448.30 738.8,448.29 739.2,448.27 739.6,448.25 740.0,448.23 740.4,448.20 740.8,448.17 741.2,448.15 741.6,448.12 742.0,448.09 742.4,448.06 742.8,448.02 743.2,447.99 743.6,447.97 744.0,447.95 744.4,447.95 744.8,447.96 745.2,447.98 745.6,448.00 746.0,448.03 746.4,448.05 746.8,448.08 747.2,448.11 747.6,448.14 748.0,448.18 748.4,448.22 748.8,448.26 749.2,448.30 749.6,448.32 750.0,448.34 750.4,448.34 750.8,448.32 751.2,448.30 751.6,448.27 752.0,448.23 752.4,448.20 752.8,448.18 753.2,448.17 753.6,448.18 754.0,448.21 754.4,448.25 754.8,448.29 755.2,448.34 755.6,448.37 756.0,448.39 756.4,448.39 756.8,448.34 757.2,448.25 757.6,448.15 758.0,448.05 758.4,447.95 758.8,447.89 759.2,447.86 759.6,447.87 760.0,447.88 760.4,447.91 760.8,447.94 761.2,447.97 761.6,448.00 762.0,448.03 762.4,448.06 762.8,448.10 763.2,448.14 763.6,448.18 764.0,448.22 764.4,448.25 764.8,448.28 765.2,448.28 765.6,448.28 766.0,448.28 766.4,448.27 766.8,448.27 767.2,448.26 767.6,448.25 768.0,448.24 768.4,448.23 768.8,448.22 769.2,448.21 769.6,448.20 770.0,448.19 770.4,448.18 770.8,448.17 771.2,448.17 771.6,448.17 772.0,448.18 772.4,448.18 772.8,448.19 773.2,448.20 773.6,448.21 774.0,448.22 774.4,448.23 774.8,448.25 775.2,448.27 775.6,448.29 776.0,448.31 776.4,448.33 776.8,448.34 777.2,448.34 777.6,448.34 778.0,448.33 778.4,448.31 778.8,448.30 779.2,448.28 779.6,448.26 780.0,448.24 780.4,448.23 780.8,448.22 781.2,448.20 781.6,448.19 782.0,448.18 782.4,448.17 782.8,448.16 783.2,448.16 783.6,448.16 784.0,448.16 784.4,448.16 784.8,448.16 785.2,448.17 785.6,448.17 786.0,448.17 786.4,448.17 786.8,448.18 787.2,448.19 787.6,448.20 788.0,448.21 788.4,448.22 788.8,448.23 789.2,448.23 789.6,448.22 790.0,448.19 790.4,448.14 790.8,448.05 791.2,447.92 791.6,447.77 792.0,447.61 792.4,447.45 792.8,447.29 793.2,447.12 793.6,446.96 794.0,446.80 794.4,446.63 794.8,446.45 795.2,446.27 795.6,446.09 796.0,445.93 796.4,445.77 796.8,445.58 797.2,445.39 797.6,445.19 798.0,444.99 798.4,444.81 798.8,444.65 799.2,444.52 799.6,444.43 800.0,444.37 800.4,444.35 800.8,444.36 801.2,444.40 801.6,444.44 802.0,444.49 802.4,444.54 802.8,444.60 803.2,444.67 803.6,444.73 804.0,444.80 804.4,444.87 804.8,444.92 805.2,444.96 805.6,444.98 806.0,445.00 806.4,445.01 806.8,445.03 807.2,445.07 807.6,445.13 808.0,445.21 808.4,445.29 808.8,445.38 809.2,445.47 809.6,445.56 810.0,445.63 810.4,445.69 810.8,445.75 811.2,445.80 811.6,445.84 812.0,445.87 812.4,445.88 812.8,445.86 813.2,445.82 813.6,445.76 814.0,445.67 814.4,445.57 814.8,445.45 815.2,445.33 815.6,445.21 816.0,445.09 816.4,444.99 816.8,444.89 817.2,444.79 817.6,444.70 818.0,444.61 818.4,444.53 818.8,444.46 819.2,444.38 819.6,444.30 820.0,444.20 820.4,444.11 820.8,444.00 821.2,443.90 821.6,443.80 822.0,443.71 822.4,443.62 822.8,443.53 823.2,443.45 823.6,443.36 824.0,443.26 824.4,443.17 824.8,443.08 825.2,443.00 825.6,442.93 826.0,442.88 826.4,442.82 826.8,442.76 827.2,442.67 827.6,442.54 828.0,442.36 828.4,441.96 828.8,441.22 829.2,440.20 829.6,438.82 830.0,436.39 830.4,433.32 830.8,430.25 831.2,427.65 831.6,425.12 832.0,422.79 832.4,420.87 832.8,419.11 833.2,417.67 833.6,417.34 834.0,418.27 834.4,419.83 834.8,421.47 835.2,422.73 835.6,424.05 836.0,425.39 836.4,426.56 836.8,427.39 837.2,427.71 837.6,424.65 838.0,418.02 838.4,411.45 838.8,404.72 839.2,398.32 839.6,391.46 840.0,387.92 840.4,391.26 840.8,398.01 841.2,404.30 841.6,411.13 842.0,414.41 842.4,415.65 842.8,416.63 843.2,417.42 843.6,418.06 844.0,418.59 844.4,419.05 844.8,419.51 845.2,420.01 845.6,420.62 846.0,421.39 846.4,422.24 846.8,423.13 847.2,424.07 847.6,425.11 848.0,426.27 848.4,427.57 848.8,429.09 849.2,431.37 849.6,434.24 850.0,437.14 850.4,439.54 850.8,441.07 851.2,442.38 851.6,443.52 852.0,444.41 852.4,444.93 852.8,445.12 853.2,445.27 853.6,445.39 854.0,445.49 854.4,445.55 854.8,445.58 855.2,445.58 855.6,445.59 856.0,445.59 856.4,445.60 856.8,445.61 857.2,445.62 857.6,445.63 858.0,445.64 858.4,445.65 858.8,445.67 859.2,445.70 859.6,445.72 860.0,445.75 860.4,445.77 860.8,445.79 861.2,445.80 861.6,445.78 862.0,445.75 862.4,445.70 862.8,445.65 863.2,445.59 863.6,445.55 864.0,445.52 864.4,445.52 864.8,445.53 865.2,445.56 865.6,445.59 866.0,445.62 866.4,445.65 866.8,445.68 867.2,445.70 867.6,445.71 868.0,445.73 868.4,445.74 868.8,445.75 869.2,445.76 869.6,445.77 870.0,445.77 870.4,445.77 870.8,445.77 871.2,445.77 871.6,445.76 872.0,445.74 872.4,445.72 872.8,445.70 873.2,445.71 873.6,445.71 874.0,445.70 874.4,445.66 874.8,445.60 875.2,445.54 875.6,445.50 876.0,445.47 876.4,445.49 876.8,445.54 877.2,445.62 877.6,445.71 878.0,445.81 878.4,445.89 878.8,445.96 879.2,445.99 879.6,445.99 880.0,445.97 880.4,445.95 880.8,445.92 881.2,445.89 881.6,445.87 882.0,445.86 882.4,445.87 882.8,445.88 883.2,445.89 883.6,445.90 884.0,445.92 884.4,445.93 884.8,445.94 885.2,445.95 885.6,445.97 886.0,445.99 886.4,446.02 886.8,446.04 887.2,446.07 887.6,446.09 888.0,446.11 888.4,446.12 888.8,446.12 889.2,446.11 889.6,446.09 890.0,446.07 890.4,446.06 890.8,446.06 891.2,446.07 891.6,446.11 892.0,446.18 892.4,446.26 892.8,446.35 893.2,446.45 893.6,446.53 894.0,446.58 894.4,446.61 894.8,446.60 895.2,446.56 895.6,446.49 896.0,446.42 896.4,446.34 896.8,446.29 897.2,446.28 897.6,446.33 898.0,446.40 898.4,446.46 898.8,446.51 899.2,446.54 899.6,446.56 900.0,446.54 900.4,446.50 900.8,446.43 901.2,446.33 901.6,446.21 902.0,446.06 902.4,445.88 902.8,445.67 903.2,445.41 903.6,445.08 904.0,444.63 904.4,443.97 904.8,443.00 905.2,441.48 905.6,439.07 906.0,435.10 906.4,428.46 906.8,417.48 907.2,400.90 907.6,381.89 908.0,372.39 908.4,381.29 908.8,399.54 909.2,414.96 909.6,423.90 910.0,426.69 910.4,423.14 910.8,412.68 911.2,402.42 911.6,407.69 912.0,421.85 912.4,431.70 912.8,436.28 913.2,437.58 913.6,436.62 914.0,433.36 914.4,426.89 914.8,415.55 915.2,398.38 915.6,380.39 916.0,375.54 916.4,389.12 916.8,408.30 917.2,422.99 917.6,432.13 918.0,437.52 918.4,440.72 918.8,442.69 919.2,443.94 919.6,444.77 920.0,445.34 920.4,445.74 920.8,446.02 921.2,446.23 921.6,446.36 922.0,446.43 922.4,446.46 922.8,446.46 923.2,446.46 923.6,446.45 924.0,446.47 924.4,446.51 924.8,446.56 925.2,446.61 925.6,446.66 926.0,446.72 926.4,446.77 926.8,446.82 927.2,446.87 927.6,446.92 928.0,446.97 928.4,447.02 928.8,447.07 929.2,447.11 929.6,447.14 930.0,447.17 930.4,447.17 930.8,447.17 931.2,447.16 931.6,447.13 932.0,447.08 932.4,447.00 932.8,446.86 933.2,446.61 933.6,446.16 934.0,445.30 934.4,443.64 934.8,441.30 935.2,441.28 935.6,443.56 936.0,445.20 936.4,446.06 936.8,446.52 937.2,446.80 937.6,446.99 938.0,447.11 938.4,447.21 938.8,447.28 939.2,447.32 939.6,447.36 940.0,447.39 940.4,447.41 940.8,447.43 941.2,447.44 941.6,447.46 942.0,447.47 942.4,447.47 942.8,447.46 943.2,447.44 943.6,447.42 944.0,447.39 944.4,447.36 944.8,447.34 945.2,447.34 945.6,447.35 946.0,447.37 946.4,447.41 946.8,447.44 947.2,447.48 947.6,447.50 948.0,447.52 948.4,447.52 948.8,447.52 949.2,447.52 949.6,447.51 950.0,447.51 950.4,447.50 950.8,447.50 951.2,447.50 951.6,447.50 952.0,447.51 952.4,447.52 952.8,447.54 953.2,447.55 953.6,447.56 954.0,447.57 954.4,447.56 954.8,447.55 955.2,447.54 955.6,447.52 956.0,447.49 956.4,447.47 956.8,447.44 957.2,447.40 957.6,447.37 958.0,447.32 958.4,447.26 958.8,447.19 959.2,447.10 959.6,446.99 960.0,446.83 960.4,446.60 960.8,446.26 961.2,445.73 961.6,444.87 962.0,443.44 962.4,441.08 962.8,437.51 963.2,433.38 963.6,431.35 964.0,433.45 964.4,437.65 964.8,441.29 965.2,443.71 965.6,445.20 966.0,446.10 966.4,446.64 966.8,446.95 967.2,447.13 967.6,447.21 968.0,447.25 968.4,447.26 968.8,447.27 969.2,447.30 969.6,447.33 970.0,447.36 970.4,447.38 970.8,447.40 971.2,447.42 971.6,447.43 972.0,447.44 972.4,447.45 972.8,447.45 973.2,447.45 973.6,447.44 974.0,447.44 974.4,447.44 974.8,447.43 975.2,447.44 975.6,447.47 976.0,447.53 976.4,447.61 976.8,447.70 977.2,447.80 977.6,447.88 978.0,447.93 978.4,447.96 978.8,447.98 979.2,448.00 979.6,448.02 980.0,448.04 980.4,448.05 980.8,448.06 981.2,448.07 981.6,448.05 982.0,448.00 982.4,447.94 982.8,447.86 983.2,447.79 983.6,447.73 984.0,447.69 984.4,447.69 984.8,447.70 985.2,447.71 985.6,447.72 986.0,447.72 986.4,447.73 986.8,447.74 987.2,447.75 987.6,447.75 988.0,447.75 988.4,447.75 988.8,447.74 989.2,447.74 989.6,447.74 990.0,447.74 990.4,447.75 990.8,447.77 991.2,447.81 991.6,447.86 992.0,447.91 992.4,447.95 992.8,447.98 993.2,448.00 993.6,448.00 994.0,447.99 994.4,447.99 994.8,447.98 995.2,447.97 995.6,447.96 996.0,447.96 996.4,447.97 996.8,447.99 997.2,448.02 997.6,448.06 998.0,448.10 998.4,448.14 998.8,448.16 999.2,448.17 999.6,448.16 1000.0,448.12 1000.4,448.07 1000.8,448.00 1001.2,447.94 1001.6,447.89 1002.0,447.87 1002.4,447.87 1002.8,447.91 1003.2,447.97 1003.6,448.04 1004.0,448.12 1004.4,448.19 1004.8,448.24 1005.2,448.26 1005.6,448.25 1006.0,448.22 1006.4,448.19 1006.8,448.15 1007.2,448.11 1007.6,448.07 1008.0,448.06 1008.4,448.06 1008.8,448.08 1009.2,448.11 1009.6,448.15 1010.0,448.19 1010.4,448.23 1010.8,448.26 1011.2,448.27 1011.6,448.27 1012.0,448.28 1012.4,448.28 1012.8,448.28 1013.2,448.29 1013.6,448.29 1014.0,448.29 1014.4,448.30 1014.8,448.31 1015.2,448.32 1015.6,448.33 1016.0,448.35 1016.4,448.36 1016.8,448.37 1017.2,448.38 1017.6,448.37 1018.0,448.35 1018.4,448.31 1018.8,448.27 1019.2,448.23 1019.6,448.20 1020.0,448.18 1020.4,448.18 1020.8,448.19 1021.2,448.20 1021.6,448.22 1022.0,448.23 1022.4,448.24 1022.8,448.26 1023.2,448.26 1023.6,448.26 1024.0,448.26 1024.4,448.26 1024.8,448.26 1025.2,448.26 1025.6,448.26 1026.0,448.26 1026.4,448.25 1026.8,448.23 1027.2,448.20 1027.6,448.16 1028.0,448.13 1028.4,448.10 1028.8,448.07 1029.2,448.07 1029.6,448.07 1030.0,448.09 1030.4,448.11 1030.8,448.14 1031.2,448.17 1031.6,448.21 1032.0,448.24 1032.4,448.27 1032.8,448.30 1033.2,448.35 1033.6,448.39 1034.0,448.43 1034.4,448.46 1034.8,448.49 1035.2,448.50 1035.6,448.50 1036.0,448.50 1036.4,448.50 1036.8,448.50 1037.2,448.50 1037.6,448.49 1038.0,448.49 1038.4,448.48 1038.8,448.44 1039.2,448.36 1039.6,448.27 1040.0,448.17 1040.4,448.09 1040.8,448.03 1041.2,448.00 1041.6,448.02 1042.0,448.07 1042.4,448.13 1042.8,448.20 1043.2,448.27 1043.6,448.32 1044.0,448.35 1044.4,448.36 1044.8,448.34 1045.2,448.32 1045.6,448.29 1046.0,448.26 1046.4,448.22 1046.8,448.20 1047.2,448.17 1047.6,448.15 1048.0,448.14 1048.4,448.12 1048.8,448.10 1049.2,448.09 1049.6,448.07 1050.0,448.07 1050.4,448.07 1050.8,448.07 1051.2,448.07 1051.6,448.07 1052.0,448.07 1052.4,448.07 1052.8,448.07 1053.2,448.07 1053.6,448.09 1054.0,448.13 1054.4,448.18 1054.8,448.25 1055.2,448.32 1055.6,448.37 1056.0,448.42 1056.4,448.44 1056.8,448.46 1057.2,448.48 1057.6,448.49 1058.0,448.50 1058.4,448.51 1058.8,448.52 1059.2,448.52 1059.6,448.51 1060.0,448.48 1060.4,448.45 1060.8,448.40 1061.2,448.36 1061.6,448.32 1062.0,448.29 1062.4,448.27 1062.8,448.26 1063.2,448.24 1063.6,448.23 1064.0,448.22 1064.4,448.21 1064.8,448.21 1065.2,448.20 1065.6,448.21 1066.0,448.21 1066.4,448.22 1066.8,448.23 1067.2,448.24 1067.6,448.25 1068.0,448.27 1068.4,448.28 1068.8,448.30 1069.2,448.33 1069.6,448.37 1070.0,448.40 1070.4,448.42 1070.8,448.44 1071.2,448.45 1071.6,448.45 1072.0,448.45 1072.4,448.44 1072.8,448.44 1073.2,448.43 1073.6,448.42 1074.0,448.41 1074.4,448.39 1074.8,448.35 1075.2,448.29 1075.6,448.22 1076.0,448.15 1076.4,448.09 1076.8,448.05 1077.2,448.03 1077.6,448.03 1078.0,448.04 1078.4,448.04 1078.8,448.06 1079.2,448.07 1079.6,448.08" fill="none" stroke="#000000" stroke-width="3.8" stroke-linejoin="round" stroke-linecap="round"/>
</g>
<rect x="203.5" y="24.5" width="878" height="700.7" fill="none" stroke="#000" stroke-width="3.2"/>
<text x="200.9" y="781" font-size="44.3" text-anchor="middle" >6</text>
<line x1="363.7" y1="706" x2="363.7" y2="725" stroke="#000" stroke-width="3"/>
<text x="362.6" y="781" font-size="44.3" text-anchor="middle" >5</text>
<line x1="523.9" y1="706" x2="523.9" y2="725" stroke="#000" stroke-width="3"/>
<text x="522.5" y="781" font-size="44.3" text-anchor="middle" >4</text>
<line x1="684.1" y1="706" x2="684.1" y2="725" stroke="#000" stroke-width="3"/>
<text x="683.9" y="781" font-size="44.3" text-anchor="middle" >3</text>
<line x1="844.3" y1="706" x2="844.3" y2="725" stroke="#000" stroke-width="3"/>
<text x="844.5" y="781" font-size="44.3" text-anchor="middle" >2</text>
<line x1="1004.5" y1="706" x2="1004.5" y2="725" stroke="#000" stroke-width="3"/>
<text x="1004.7" y="781" font-size="44.3" text-anchor="middle" >1</text>
<text x="640.5" y="859.3" font-size="48" text-anchor="middle" font-style="italic" >δ</text>
<text x="221.5" y="71.8" font-size="45" text-anchor="start" >(A)</text>
<text x="765.8" y="133" font-size="44.3" text-anchor="end" >100 °C, 5 min</text>
<text x="765" y="209.2" font-size="44.3" text-anchor="end" >24 °C, 5 min</text>
<text x="765" y="285.7" font-size="44.3" text-anchor="end" >3 °C, 5 min</text>
<text x="771.2" y="534.6" font-size="44.3" text-anchor="end" >100 °C, <tspan dx="6.3">1</tspan> min</text>
<text x="765" y="614.8" font-size="44.3" text-anchor="end" >24 °C, 1 min</text>
<text x="765" y="674" font-size="44.3" text-anchor="end" >3 °C, 1 min</text>
</g>
<g id="panelB">
<polyline points="1620.0,722.5 1620.8,722.3 1621.5,722.1 1622.3,721.9 1623.1,721.7 1623.8,721.5 1624.6,721.2 1625.3,721.0 1626.1,720.8 1626.8,720.5 1627.6,720.3 1628.3,720.0 1629.1,719.8 1629.8,719.5 1630.5,719.2 1631.3,719.0 1632.0,718.7 1632.7,718.4 1633.5,718.1 1634.2,717.8 1634.9,717.5 1635.6,717.2 1636.4,716.9 1637.1,716.6 1637.8,716.3 1638.5,715.9 1639.2,715.6 1639.9,715.2 1640.6,714.9 1641.3,714.5 1642.0,714.1 1642.7,713.8 1643.4,713.4 1644.1,713.0 1644.8,712.6 1645.5,712.2 1646.2,711.9 1646.8,711.5 1647.5,711.1 1648.2,710.7 1648.9,710.3 1649.6,709.9 1650.3,709.5 1650.9,709.1 1651.6,708.7 1652.3,708.3 1653.0,707.9 1653.7,707.5 1654.3,707.1 1655.0,706.7 1655.7,706.3 1656.3,705.8 1657.0,705.4 1657.7,705.0 1658.3,704.6 1659.0,704.1 1659.7,703.7 1660.3,703.3 1661.0,702.8 1661.6,702.4 1662.3,701.9 1662.9,701.5 1663.5,701.0 1664.2,700.6 1664.8,700.1 1665.4,699.7 1666.1,699.2 1666.7,698.7 1667.3,698.3 1668.0,697.8 1668.6,697.3 1669.2,696.8 1669.8,696.4 1670.4,695.9 1671.0,695.4 1671.7,694.9 1672.3,694.4 1672.9,693.9 1673.5,693.4 1674.1,692.9 1674.7,692.4 1675.3,691.8 1675.9,691.3 1676.5,690.8 1677.1,690.3 1677.7,689.8 1678.3,689.2 1678.8,688.7 1679.4,688.2 1680.0,687.7 1680.6,687.1 1681.2,686.6 1681.8,686.1 1682.3,685.5 1682.9,685.0 1683.5,684.4 1684.1,683.9 1684.6,683.4 1685.2,682.8 1685.8,682.3 1686.3,681.7 1686.9,681.2 1687.4,680.6 1688.0,680.1 1688.6,679.5 1689.1,679.0 1689.7,678.4 1690.2,677.8 1690.8,677.3 1691.3,676.7 1691.9,676.1 1692.4,675.6 1693.0,675.0 1693.5,674.4 1694.0,673.8 1694.6,673.3 1695.1,672.7 1695.6,672.1 1696.2,671.5 1696.7,670.9 1697.2,670.3 1697.7,669.7 1698.2,669.1 1698.7,668.5 1699.2,667.9 1699.7,667.3 1700.2,666.7 1700.7,666.1 1701.2,665.5 1701.7,664.9 1702.2,664.3 1702.7,663.7 1703.1,663.0 1703.6,662.4 1704.1,661.8 1704.6,661.2 1705.0,660.5 1705.5,659.9 1706.0,659.3 1706.4,658.6 1706.9,658.0 1707.3,657.4 1707.8,656.7 1708.3,656.1 1708.7,655.4 1709.2,654.8 1709.6,654.1 1710.1,653.5 1710.5,652.8 1711.0,652.2 1711.4,651.5 1711.8,650.9 1712.3,650.2 1712.7,649.6 1713.2,648.9 1713.6,648.3 1714.0,647.6 1714.5,646.9 1714.9,646.3 1715.3,645.6 1715.8,645.0 1716.2,644.3 1716.6,643.6 1717.1,643.0 1717.5,642.3 1717.9,641.7 1718.4,641.0 1718.8,640.3 1719.2,639.7 1719.6,639.0 1720.1,638.4 1720.5,637.7 1720.9,637.0 1721.3,636.4 1721.7,635.7 1722.1,635.0 1722.6,634.4 1723.0,633.7 1723.4,633.0 1723.8,632.4 1724.2,631.7 1724.6,631.0 1725.0,630.4 1725.4,629.7 1725.8,629.0 1726.2,628.3 1726.7,627.7 1727.1,627.0 1727.5,626.3 1727.9,625.6 1728.3,625.0 1728.7,624.3 1729.1,623.6 1729.5,622.9 1729.9,622.2 1730.3,621.6 1730.6,620.9 1731.0,620.2 1731.4,619.5 1731.8,618.8 1732.2,618.2 1732.6,617.5 1733.0,616.8 1733.4,616.1 1733.8,615.4 1734.2,614.7 1734.6,614.1 1735.0,613.4 1735.4,612.7 1735.8,612.0 1736.2,611.3 1736.5,610.6 1736.9,610.0 1737.3,609.3 1737.7,608.6 1738.1,607.9 1738.5,607.2 1738.9,606.5 1739.3,605.9 1739.7,605.2 1740.1,604.5 1740.5,603.8 1740.9,603.1 1741.2,602.5 1741.6,601.8 1742.0,601.1 1742.4,600.4 1742.8,599.7 1743.2,599.0 1743.6,598.4 1744.0,597.7 1744.4,597.0 1744.8,596.3 1745.1,595.6 1745.5,594.9 1745.9,594.3 1746.3,593.6 1746.7,592.9 1747.1,592.2 1747.5,591.5 1747.8,590.8 1748.2,590.1 1748.6,589.5 1749.0,588.8 1749.4,588.1 1749.8,587.4 1750.2,586.7 1750.5,586.0 1750.9,585.3 1751.3,584.6 1751.7,584.0 1752.1,583.3 1752.4,582.6 1752.8,581.9 1753.2,581.2 1753.6,580.5 1753.9,579.8 1754.3,579.1 1754.7,578.4 1755.1,577.7 1755.4,577.0 1755.8,576.4 1756.2,575.7 1756.6,575.0 1756.9,574.3 1757.3,573.6 1757.7,572.9 1758.1,572.2 1758.4,571.5 1758.8,570.8 1759.2,570.1 1759.5,569.4 1759.9,568.7 1760.3,568.0 1760.6,567.3 1761.0,566.6 1761.4,565.9 1761.7,565.2 1762.1,564.6 1762.5,563.9 1762.8,563.2 1763.2,562.5 1763.6,561.8 1763.9,561.1 1764.3,560.4 1764.7,559.7 1765.0,559.0 1765.4,558.3 1765.7,557.6 1766.1,556.9 1766.5,556.2 1766.8,555.5 1767.2,554.8 1767.5,554.1 1767.9,553.4 1768.3,552.7 1768.6,552.0 1769.0,551.3 1769.3,550.6 1769.7,549.9 1770.0,549.2 1770.4,548.5 1770.7,547.8 1771.1,547.1 1771.4,546.3 1771.8,545.6 1772.1,544.9 1772.5,544.2 1772.8,543.5 1773.2,542.8 1773.5,542.1 1773.9,541.4 1774.2,540.7 1774.6,540.0 1774.9,539.3 1775.2,538.6 1775.6,537.9 1775.9,537.2 1776.3,536.5 1776.6,535.7 1776.9,535.0 1777.3,534.3 1777.6,533.6 1777.9,532.9 1778.3,532.2 1778.6,531.5 1778.9,530.8 1779.2,530.0 1779.6,529.3 1779.9,528.6 1780.2,527.9 1780.5,527.2 1780.9,526.5 1781.2,525.7 1781.5,525.0 1781.8,524.3 1782.2,523.6 1782.5,522.9 1782.8,522.1 1783.1,521.4 1783.4,520.7 1783.8,520.0 1784.1,519.3 1784.4,518.6 1784.7,517.8 1785.0,517.1 1785.3,516.4 1785.7,515.7 1786.0,515.0 1786.3,514.2 1786.6,513.5 1786.9,512.8 1787.3,512.1 1787.6,511.4 1787.9,510.6 1788.2,509.9 1788.5,509.2 1788.9,508.5 1789.2,507.8 1789.5,507.1 1789.8,506.3 1790.2,505.6 1790.5,504.9 1790.8,504.2 1791.2,503.5 1791.5,502.8 1791.8,502.0 1792.1,501.3 1792.5,500.6 1792.8,499.9 1793.1,499.2 1793.5,498.5 1793.8,497.8 1794.1,497.0 1794.4,496.3 1794.8,495.6 1795.1,494.9 1795.4,494.2 1795.8,493.5 1796.1,492.8 1796.4,492.0 1796.8,491.3 1797.1,490.6 1797.4,489.9 1797.7,489.2 1798.1,488.5 1798.4,487.8 1798.7,487.1 1799.1,486.3 1799.4,485.6 1799.7,484.9 1800.1,484.2 1800.4,483.5 1800.7,482.8 1801.1,482.1 1801.4,481.3 1801.7,480.6 1802.1,479.9 1802.4,479.2 1802.7,478.5 1803.1,477.8 1803.4,477.1 1803.7,476.4 1804.1,475.6 1804.4,474.9 1804.7,474.2 1805.0,473.5 1805.4,472.8 1805.7,472.1 1806.0,471.4 1806.4,470.6 1806.7,469.9 1807.0,469.2 1807.4,468.5 1807.7,467.8 1808.0,467.1 1808.4,466.4 1808.7,465.7 1809.0,464.9 1809.4,464.2 1809.7,463.5 1810.0,462.8 1810.3,462.1 1810.7,461.4 1811.0,460.7 1811.3,459.9 1811.7,459.2 1812.0,458.5 1812.3,457.8 1812.7,457.1 1813.0,456.4 1813.3,455.7 1813.6,454.9 1814.0,454.2 1814.3,453.5 1814.6,452.8 1815.0,452.1 1815.3,451.4 1815.6,450.7 1815.9,449.9 1816.3,449.2 1816.6,448.5 1816.9,447.8 1817.3,447.1 1817.6,446.4 1817.9,445.7 1818.2,444.9 1818.6,444.2 1818.9,443.5 1819.2,442.8 1819.6,442.1 1819.9,441.4 1820.2,440.6 1820.5,439.9 1820.9,439.2 1821.2,438.5 1821.5,437.8 1821.8,437.1 1822.2,436.4 1822.5,435.6 1822.8,434.9 1823.2,434.2 1823.5,433.5 1823.8,432.8 1824.1,432.1 1824.5,431.3 1824.8,430.6 1825.1,429.9 1825.4,429.2 1825.8,428.5 1826.1,427.8 1826.4,427.1 1826.8,426.3 1827.1,425.6 1827.4,424.9 1827.7,424.2 1828.1,423.5 1828.4,422.8 1828.7,422.0 1829.0,421.3 1829.4,420.6 1829.7,419.9 1830.0,419.2 1830.3,418.5 1830.7,417.7 1831.0,417.0 1831.3,416.3 1831.6,415.6 1832.0,414.9 1832.3,414.2 1832.6,413.4 1832.9,412.7 1833.3,412.0 1833.6,411.3 1833.9,410.6 1834.2,409.9 1834.6,409.1 1834.9,408.4 1835.2,407.7 1835.5,407.0 1835.8,406.3 1836.2,405.6 1836.5,404.8 1836.8,404.1 1837.1,403.4 1837.5,402.7 1837.8,402.0 1838.1,401.3 1838.4,400.5 1838.7,399.8 1839.1,399.1 1839.4,398.4 1839.7,397.7 1840.0,396.9 1840.3,396.2 1840.7,395.5 1841.0,394.8 1841.3,394.1 1841.6,393.4 1841.9,392.6 1842.3,391.9 1842.6,391.2 1842.9,390.5 1843.2,389.8 1843.5,389.0 1843.8,388.3 1844.2,387.6 1844.5,386.9 1844.8,386.2 1845.1,385.4 1845.4,384.7 1845.7,384.0 1846.1,383.3 1846.4,382.6 1846.7,381.8 1847.0,381.1 1847.3,380.4 1847.6,379.7 1848.0,379.0 1848.3,378.2 1848.6,377.5 1848.9,376.8 1849.2,376.1 1849.5,375.3 1849.8,374.6 1850.2,373.9 1850.5,373.2 1850.8,372.5 1851.1,371.7 1851.4,371.0 1851.7,370.3 1852.0,369.6 1852.4,368.9 1852.7,368.1 1853.0,367.4 1853.3,366.7 1853.6,366.0 1853.9,365.3 1854.2,364.5 1854.5,363.8 1854.9,363.1 1855.2,362.4 1855.5,361.6 1855.8,360.9 1856.1,360.2 1856.4,359.5 1856.7,358.7 1857.0,358.0 1857.3,357.3 1857.6,356.6 1857.9,355.8 1858.2,355.1 1858.5,354.4 1858.9,353.7 1859.2,352.9 1859.5,352.2 1859.8,351.5 1860.1,350.8 1860.4,350.0 1860.7,349.3 1861.0,348.6 1861.3,347.9 1861.7,347.2 1862.0,346.4 1862.3,345.7 1862.6,345.0 1862.9,344.3 1863.3,343.6 1863.6,342.9 1863.9,342.2 1864.3,341.4 1864.6,340.7 1864.9,340.0 1865.3,339.3 1865.6,338.6 1866.0,337.9 1866.3,337.2 1866.6,336.5 1867.0,335.8 1867.3,335.1 1867.7,334.4 1868.1,333.7 1868.4,333.0 1868.8,332.3 1869.1,331.6 1869.5,330.9 1869.8,330.2 1870.2,329.5 1870.5,328.8 1870.9,328.1 1871.3,327.4 1871.6,326.7 1872.0,326.0 1872.3,325.3 1872.7,324.6 1873.1,323.9 1873.4,323.1 1873.8,322.4 1874.1,321.7 1874.5,321.0 1874.8,320.3 1875.2,319.6 1875.5,318.9 1875.9,318.2 1876.2,317.5 1876.6,316.8 1876.9,316.1 1877.3,315.4 1877.6,314.7 1877.9,314.0 1878.3,313.3 1878.6,312.6 1879.0,311.8 1879.3,311.1 1879.6,310.4 1880.0,309.7 1880.3,309.0 1880.7,308.3 1881.0,307.6 1881.3,306.9 1881.7,306.1 1882.0,305.4 1882.4,304.7 1882.7,304.0 1883.0,303.3 1883.4,302.6 1883.7,301.9 1884.0,301.2 1884.4,300.4 1884.7,299.7 1885.1,299.0 1885.4,298.3 1885.8,297.6 1886.1,296.9 1886.4,296.2 1886.8,295.5 1887.1,294.8 1887.5,294.1 1887.8,293.4 1888.2,292.7 1888.5,292.0 1888.9,291.3 1889.3,290.6 1889.6,289.9 1890.0,289.2 1890.3,288.5 1890.7,287.8 1891.1,287.1 1891.4,286.4 1891.8,285.7 1892.2,285.0 1892.6,284.3 1892.9,283.6 1893.3,282.9 1893.7,282.3 1894.1,281.6 1894.5,280.9 1894.9,280.2 1895.3,279.6 1895.7,278.9 1896.0,278.2 1896.4,277.5 1896.8,276.8 1897.2,276.1 1897.6,275.4 1898.0,274.7 1898.4,274.0 1898.8,273.2 1899.2,272.5 1899.6,271.8 1900.0,271.1 1900.4,270.4 1900.8,269.7 1901.2,269.0 1901.7,268.3 1902.1,267.6 1902.5,266.9 1902.9,266.2 1903.4,265.5 1903.8,264.8 1904.2,264.1 1904.7,263.5 1905.1,262.8 1905.6,262.2 1906.0,261.5 1906.5,260.9 1907.0,260.3 1907.5,259.7 1908.0,259.1 1908.4,258.5 1908.9,257.9 1909.5,257.4 1910.0,256.9 1910.5,256.3 1911.0,255.8 1911.6,255.4 1912.1,254.9 1912.7,254.4 1913.3,254.0 1913.9,253.5 1914.5,253.1 1915.2,252.6 1915.9,252.2 1916.6,251.8 1917.3,251.4 1918.0,251.0 1918.7,250.6 1919.4,250.2 1920.2,249.8 1920.9,249.5 1921.6,249.2 1922.4,248.9 1923.1,248.6 1923.9,248.3 1924.6,248.1 1925.3,247.9 1926.1,247.7 1926.8,247.5 1927.6,247.3 1928.4,247.1 1929.2,246.9 1929.9,246.8 1930.7,246.6 1931.5,246.4 1932.3,246.3 1933.1,246.2 1933.9,246.1 1934.6,246.0 1935.4,246.0 1936.2,246.0 1937.0,246.0 1937.7,246.1 1938.5,246.2 1939.3,246.4 1940.1,246.5 1940.9,246.7 1941.6,247.0 1942.4,247.2 1943.2,247.5 1944.0,247.8 1944.7,248.1 1945.4,248.4 1946.2,248.7 1946.9,249.0 1947.6,249.3 1948.2,249.6 1948.9,249.9 1949.5,250.3 1950.2,250.7 1950.8,251.2 1951.4,251.6 1952.1,252.1 1952.7,252.6 1953.3,253.1 1953.9,253.7 1954.5,254.2 1955.0,254.8 1955.6,255.4 1956.2,256.0 1956.7,256.6 1957.3,257.1 1957.9,257.7 1958.4,258.3 1959.0,258.9 1959.5,259.5 1960.0,260.0 1960.6,260.6 1961.1,261.2 1961.6,261.7 1962.2,262.3 1962.7,262.9 1963.2,263.5 1963.7,264.1 1964.2,264.7 1964.7,265.3 1965.2,265.9 1965.7,266.5 1966.2,267.1 1966.7,267.7 1967.2,268.3 1967.7,268.9 1968.2,269.5 1968.7,270.2 1969.2,270.8 1969.7,271.4 1970.1,272.0 1970.6,272.7 1971.1,273.3 1971.6,273.9 1972.0,274.6 1972.5,275.2 1973.0,275.9 1973.4,276.5 1973.9,277.1 1974.4,277.8 1974.8,278.4 1975.3,279.1 1975.7,279.7 1976.2,280.4 1976.7,281.0 1977.1,281.6 1977.6,282.3 1978.0,282.9 1978.5,283.6 1978.9,284.2 1979.4,284.9 1979.9,285.5 1980.3,286.1 1980.8,286.8 1981.2,287.4 1981.6,288.1 1982.1,288.7 1982.5,289.4 1983.0,290.0 1983.4,290.7 1983.8,291.3 1984.3,292.0 1984.7,292.6 1985.1,293.3 1985.6,294.0 1986.0,294.6 1986.4,295.3 1986.8,295.9 1987.3,296.6 1987.7,297.3 1988.1,297.9 1988.5,298.6 1989.0,299.3 1989.4,299.9 1989.8,300.6 1990.2,301.3 1990.6,301.9 1991.1,302.6 1991.5,303.3 1991.9,303.9 1992.3,304.6 1992.7,305.3 1993.2,305.9 1993.6,306.6 1994.0,307.3 1994.4,307.9 1994.8,308.6 1995.3,309.3 1995.7,309.9 1996.1,310.6 1996.5,311.3 1996.9,311.9 1997.4,312.6 1997.8,313.2 1998.2,313.9 1998.6,314.6 1999.1,315.2 1999.5,315.9 1999.9,316.6 2000.3,317.2 2000.7,317.9 2001.2,318.6 2001.6,319.2 2002.0,319.9 2002.4,320.6 2002.8,321.2 2003.2,321.9 2003.7,322.6 2004.1,323.2 2004.5,323.9 2004.9,324.6 2005.3,325.2 2005.7,325.9 2006.2,326.6 2006.6,327.2 2007.0,327.9 2007.4,328.6 2007.8,329.2 2008.3,329.9 2008.7,330.6 2009.1,331.2 2009.5,331.9 2009.9,332.6 2010.4,333.2 2010.8,333.9 2011.2,334.5 2011.7,335.2 2012.1,335.9 2012.5,336.5 2012.9,337.2 2013.4,337.8 2013.8,338.5 2014.3,339.1 2014.7,339.8 2015.1,340.4 2015.6,341.1 2016.0,341.7 2016.5,342.4 2017.0,343.0 2017.4,343.6 2017.9,344.3 2018.4,344.9 2018.8,345.5 2019.3,346.2 2019.8,346.8 2020.3,347.4 2020.7,348.1 2021.2,348.7 2021.6,349.4 2022.1,350.0 2022.5,350.7 2022.9,351.3 2023.4,352.0 2023.8,352.6 2024.2,353.3 2024.6,354.0 2025.0,354.6 2025.4,355.3 2025.7,356.0 2026.1,356.7 2026.5,357.4 2026.9,358.1 2027.3,358.7 2027.6,359.4 2028.0,360.1 2028.3,360.8 2028.7,361.5 2029.1,362.2 2029.4,362.9 2029.8,363.6 2030.1,364.3 2030.5,365.0 2030.8,365.7 2031.2,366.5 2031.5,367.2 2031.8,367.9 2032.2,368.6 2032.5,369.3 2032.9,370.0 2033.2,370.7 2033.5,371.4 2033.9,372.2 2034.2,372.9 2034.5,373.6 2034.9,374.3 2035.2,375.0 2035.5,375.7 2035.9,376.4 2036.2,377.2 2036.6,377.9 2036.9,378.6 2037.2,379.3 2037.6,380.0 2037.9,380.7 2038.3,381.4 2038.6,382.1 2038.9,382.9 2039.3,383.6 2039.6,384.3 2040.0,385.0 2040.3,385.7 2040.7,386.4 2041.0,387.1 2041.4,387.8 2041.7,388.5 2042.1,389.2 2042.4,389.9 2042.8,390.6 2043.1,391.3 2043.5,392.0 2043.8,392.7 2044.2,393.5 2044.5,394.2 2044.8,394.9 2045.2,395.6 2045.5,396.3 2045.9,397.0 2046.2,397.7 2046.6,398.4 2046.9,399.1 2047.2,399.8 2047.6,400.5 2047.9,401.3 2048.3,402.0 2048.6,402.7 2048.9,403.4 2049.3,404.1 2049.6,404.8 2050.0,405.5 2050.3,406.2 2050.6,406.9 2051.0,407.6 2051.3,408.4 2051.7,409.1 2052.0,409.8 2052.4,410.5 2052.7,411.2 2053.1,411.9 2053.4,412.6 2053.7,413.3 2054.1,414.0 2054.4,414.7 2054.8,415.4 2055.1,416.1 2055.5,416.8 2055.8,417.6 2056.2,418.3 2056.5,419.0 2056.9,419.7 2057.2,420.4 2057.6,421.1 2058.0,421.8 2058.3,422.5 2058.7,423.2 2059.0,423.9 2059.4,424.6 2059.7,425.3 2060.1,426.0 2060.5,426.7 2060.8,427.3 2061.2,428.0 2061.6,428.7 2061.9,429.4 2062.3,430.1 2062.7,430.8 2063.1,431.5 2063.4,432.2 2063.8,432.9 2064.2,433.6 2064.6,434.2 2065.0,434.9 2065.3,435.6 2065.7,436.3 2066.1,437.0 2066.5,437.6 2066.9,438.3 2067.3,439.0 2067.7,439.7 2068.1,440.3 2068.6,441.0 2069.0,441.7 2069.4,442.3 2069.8,443.0 2070.2,443.7 2070.7,444.3 2071.1,445.0 2071.5,445.7 2071.9,446.3 2072.4,447.0 2072.8,447.6 2073.2,448.3 2073.7,449.0 2074.1,449.6 2074.5,450.3 2075.0,450.9 2075.4,451.6 2075.8,452.2 2076.3,452.9 2076.7,453.6 2077.2,454.2 2077.6,454.9 2078.0,455.5 2078.5,456.2 2078.9,456.8 2079.3,457.5 2079.8,458.2 2080.2,458.8 2080.6,459.5 2081.0,460.2 2081.5,460.8 2081.9,461.5 2082.3,462.1 2082.7,462.8 2083.1,463.5 2083.6,464.1 2084.0,464.8 2084.4,465.5 2084.8,466.2 2085.2,466.8 2085.6,467.5 2086.0,468.2 2086.4,468.9 2086.7,469.6 2087.1,470.2 2087.5,470.9 2087.9,471.6 2088.3,472.3 2088.6,473.0 2089.0,473.7 2089.4,474.4 2089.8,475.0 2090.1,475.7 2090.5,476.4 2090.9,477.1 2091.3,477.8 2091.6,478.5 2092.0,479.2 2092.4,479.9 2092.7,480.6 2093.1,481.3 2093.4,482.0 2093.8,482.7 2094.2,483.4 2094.5,484.1 2094.9,484.8 2095.2,485.5 2095.6,486.2 2095.9,486.9 2096.3,487.6 2096.6,488.3 2097.0,489.0 2097.3,489.7 2097.7,490.4 2098.0,491.1 2098.4,491.9 2098.7,492.6 2099.1,493.3 2099.4,494.0 2099.8,494.7 2100.1,495.4 2100.5,496.1 2100.8,496.8 2101.1,497.5 2101.5,498.2 2101.8,498.9 2102.2,499.7 2102.5,500.4 2102.8,501.1 2103.2,501.8 2103.5,502.5 2103.8,503.2 2104.2,503.9 2104.5,504.6 2104.8,505.4 2105.2,506.1 2105.5,506.8 2105.8,507.5 2106.2,508.2 2106.5,508.9 2106.8,509.6 2107.2,510.3 2107.5,511.1 2107.8,511.8 2108.1,512.5 2108.5,513.2 2108.8,513.9 2109.1,514.6 2109.4,515.4 2109.7,516.1 2110.1,516.8 2110.4,517.5 2110.7,518.2 2111.0,519.0 2111.3,519.7 2111.6,520.4 2111.9,521.1 2112.3,521.8 2112.6,522.6 2112.9,523.3 2113.2,524.0 2113.5,524.7 2113.8,525.5 2114.1,526.2 2114.4,526.9 2114.7,527.6 2115.0,528.4 2115.3,529.1 2115.6,529.8 2115.9,530.5 2116.2,531.3 2116.5,532.0 2116.8,532.7 2117.1,533.4 2117.4,534.2 2117.8,534.9 2118.1,535.6 2118.4,536.4 2118.7,537.1 2119.0,537.8 2119.3,538.5 2119.6,539.3 2119.9,540.0 2120.2,540.7 2120.5,541.4 2120.8,542.2 2121.1,542.9 2121.4,543.6 2121.7,544.3 2122.0,545.1 2122.3,545.8 2122.6,546.5 2122.9,547.2 2123.2,548.0 2123.6,548.7 2123.9,549.4 2124.2,550.1 2124.5,550.8 2124.8,551.6 2125.1,552.3 2125.4,553.0 2125.8,553.7 2126.1,554.5 2126.4,555.2 2126.7,555.9 2127.0,556.6 2127.3,557.3 2127.6,558.1 2127.9,558.8 2128.2,559.5 2128.5,560.2 2128.9,561.0 2129.2,561.7 2129.5,562.4 2129.8,563.1 2130.1,563.9 2130.4,564.6 2130.7,565.3 2131.0,566.1 2131.3,566.8 2131.6,567.5 2131.9,568.2 2132.3,569.0 2132.6,569.7 2132.9,570.4 2133.2,571.1 2133.5,571.8 2133.8,572.6 2134.1,573.3 2134.4,574.0 2134.8,574.7 2135.1,575.5 2135.4,576.2 2135.7,576.9 2136.0,577.6 2136.4,578.3 2136.7,579.0 2137.0,579.8 2137.4,580.5 2137.7,581.2 2138.0,581.9 2138.4,582.6 2138.7,583.3 2139.0,584.0 2139.4,584.7 2139.7,585.4 2140.1,586.1 2140.4,586.8 2140.7,587.5 2141.1,588.2 2141.5,588.9 2141.8,589.6 2142.2,590.3 2142.5,591.0 2142.9,591.7 2143.3,592.4 2143.6,593.1 2144.0,593.8 2144.4,594.5 2144.8,595.2 2145.1,595.9 2145.5,596.5 2145.9,597.2 2146.3,597.9 2146.7,598.6 2147.1,599.3 2147.5,600.0 2147.9,600.6 2148.3,601.3 2148.7,602.0 2149.1,602.7 2149.5,603.3 2149.9,604.0 2150.3,604.7 2150.7,605.4 2151.1,606.0 2151.5,606.7 2151.9,607.4 2152.4,608.1 2152.8,608.7 2153.2,609.4 2153.6,610.1 2154.0,610.7 2154.5,611.4 2154.9,612.1 2155.3,612.7 2155.7,613.4 2156.1,614.1 2156.6,614.7 2157.0,615.4 2157.4,616.0 2157.9,616.7 2158.3,617.4 2158.7,618.0 2159.1,618.7 2159.6,619.3 2160.0,620.0 2160.4,620.7 2160.9,621.3 2161.3,622.0 2161.7,622.6 2162.2,623.3 2162.6,623.9 2163.1,624.6 2163.5,625.2 2164.0,625.8 2164.4,626.5 2164.9,627.1 2165.3,627.8 2165.8,628.4 2166.2,629.1 2166.7,629.7 2167.2,630.3 2167.6,631.0 2168.1,631.6 2168.5,632.2 2169.0,632.9 2169.5,633.5 2169.9,634.2 2170.4,634.8 2170.9,635.4 2171.3,636.1 2171.8,636.7 2172.3,637.3 2172.7,638.0 2173.2,638.6 2173.7,639.2 2174.1,639.9 2174.6,640.5 2175.1,641.1 2175.5,641.8 2176.0,642.4 2176.5,643.0 2176.9,643.7 2177.4,644.3 2177.8,645.0 2178.3,645.6 2178.8,646.2 2179.2,646.9 2179.7,647.5 2180.1,648.2 2180.6,648.8 2181.0,649.5 2181.5,650.1 2181.9,650.7 2182.4,651.4 2182.8,652.0 2183.3,652.7 2183.7,653.3 2184.2,654.0 2184.6,654.6 2185.0,655.3 2185.5,655.9 2185.9,656.6 2186.4,657.2 2186.8,657.9 2187.3,658.5 2187.7,659.2 2188.2,659.8 2188.6,660.5 2189.0,661.1 2189.5,661.8 2189.9,662.4 2190.4,663.1 2190.8,663.7 2191.3,664.4 2191.7,665.0 2192.1,665.7 2192.6,666.3 2193.0,667.0 2193.5,667.6 2193.9,668.3 2194.4,668.9 2194.8,669.6 2195.3,670.2 2195.7,670.9 2196.2,671.5 2196.6,672.1 2197.0,672.8 2197.5,673.4 2197.9,674.1 2198.4,674.7 2198.9,675.4 2199.3,676.0 2199.8,676.7 2200.2,677.3 2200.7,677.9 2201.1,678.6 2201.6,679.2 2202.0,679.9 2202.5,680.6 2202.9,681.2 2203.3,681.9 2203.8,682.5 2204.2,683.2 2204.6,683.9 2205.1,684.5 2205.5,685.2 2206.0,685.9 2206.4,686.5 2206.8,687.2 2207.3,687.9 2207.7,688.5 2208.2,689.2 2208.6,689.9 2209.0,690.5 2209.5,691.2 2209.9,691.8 2210.4,692.5 2210.8,693.1 2211.3,693.8 2211.7,694.4 2212.2,695.1 2212.7,695.7 2213.1,696.4 2213.6,697.0 2214.1,697.6 2214.5,698.2 2215.0,698.8 2215.5,699.5 2216.0,700.1 2216.5,700.7 2217.0,701.2 2217.5,701.8 2218.0,702.4 2218.5,703.0 2219.1,703.5 2219.6,704.1 2220.1,704.6 2220.7,705.2 2221.2,705.7 2221.8,706.2 2222.4,706.8 2223.0,707.3 2223.6,707.8 2224.2,708.4 2224.8,708.9 2225.4,709.4 2226.0,709.9 2226.7,710.4 2227.3,710.8 2227.9,711.3 2228.6,711.8 2229.2,712.2 2229.9,712.7 2230.5,713.1 2231.2,713.5 2231.9,713.9 2232.5,714.3 2233.2,714.7 2233.9,715.1 2234.6,715.5 2235.3,715.8 2236.0,716.2 2236.7,716.6 2237.4,716.9 2238.1,717.3 2238.8,717.6 2239.5,717.9 2240.3,718.2 2241.0,718.5 2241.7,718.8 2242.5,719.1 2243.2,719.4 2244.0,719.7 2244.7,719.9 2245.4,720.1 2246.2,720.4 2246.9,720.6 2247.7,720.8 2248.4,721.0 2249.2,721.2 2249.9,721.4 2250.7,721.6 2251.4,721.8 2252.2,722.0 2253.0,722.2 2253.7,722.4 2254.5,722.6 2255.3,722.7 2256.1,722.9 2256.9,723.0 2257.6,723.2 2258.4,723.3 2259.2,723.4 2260.0,723.5" fill="none" stroke="#000000" stroke-width="4.2" stroke-linejoin="round" stroke-linecap="butt" />
<polyline points="1580.0,722.5 1580.8,722.3 1581.5,722.1 1582.3,721.8 1583.1,721.6 1583.8,721.4 1584.6,721.2 1585.4,720.9 1586.1,720.7 1586.9,720.5 1587.7,720.2 1588.4,720.0 1589.2,719.8 1590.0,719.6 1590.7,719.3 1591.5,719.1 1592.3,718.9 1593.0,718.6 1593.8,718.4 1594.5,718.2 1595.3,717.9 1596.1,717.7 1596.8,717.5 1597.6,717.2 1598.4,717.0 1599.1,716.8 1599.9,716.5 1600.7,716.3 1601.4,716.1 1602.2,715.8 1603.0,715.6 1603.7,715.4 1604.5,715.1 1605.2,714.9 1606.0,714.7 1606.8,714.4 1607.5,714.2 1608.3,713.9 1609.1,713.7 1609.8,713.5 1610.6,713.2 1611.3,713.0 1612.1,712.8 1612.9,712.5 1613.6,712.3 1614.4,712.0 1615.2,711.8 1615.9,711.5 1616.7,711.3 1617.4,711.0 1618.2,710.8 1619.0,710.5 1619.7,710.3 1620.5,710.0 1621.2,709.8 1622.0,709.5 1622.7,709.2 1623.5,709.0 1624.2,708.7 1625.0,708.5 1625.7,708.2 1626.5,707.9 1627.3,707.7 1628.0,707.4 1628.8,707.1 1629.5,706.9 1630.3,706.6 1631.0,706.3 1631.8,706.0 1632.5,705.8 1633.3,705.5 1634.0,705.2 1634.8,704.9 1635.5,704.7 1636.3,704.4 1637.0,704.1 1637.8,703.8 1638.5,703.5 1639.3,703.2 1640.0,702.9 1640.7,702.6 1641.5,702.3 1642.2,702.0 1642.9,701.7 1643.7,701.4 1644.4,701.1 1645.1,700.7 1645.9,700.4 1646.6,700.1 1647.3,699.8 1648.0,699.4 1648.8,699.1 1649.5,698.8 1650.2,698.4 1650.9,698.1 1651.7,697.7 1652.4,697.4 1653.1,697.0 1653.8,696.7 1654.5,696.3 1655.3,695.9 1656.0,695.6 1656.7,695.2 1657.4,694.8 1658.1,694.4 1658.8,694.1 1659.5,693.7 1660.2,693.3 1660.9,692.9 1661.6,692.5 1662.3,692.1 1663.0,691.7 1663.7,691.3 1664.3,690.9 1665.0,690.5 1665.7,690.1 1666.4,689.7 1667.0,689.2 1667.7,688.8 1668.4,688.4 1669.1,687.9 1669.7,687.5 1670.4,687.1 1671.1,686.6 1671.7,686.2 1672.4,685.7 1673.1,685.3 1673.7,684.8 1674.4,684.3 1675.0,683.9 1675.7,683.4 1676.3,682.9 1677.0,682.4 1677.6,682.0 1678.3,681.5 1678.9,681.0 1679.5,680.5 1680.2,680.0 1680.8,679.5 1681.4,679.0 1682.0,678.5 1682.6,678.0 1683.3,677.5 1683.9,677.0 1684.5,676.5 1685.1,675.9 1685.7,675.4 1686.2,674.9 1686.8,674.4 1687.4,673.8 1688.0,673.3 1688.6,672.7 1689.1,672.2 1689.7,671.6 1690.3,671.0 1690.8,670.5 1691.4,669.9 1692.0,669.3 1692.5,668.7 1693.1,668.2 1693.6,667.6 1694.2,667.0 1694.7,666.4 1695.2,665.8 1695.8,665.2 1696.3,664.6 1696.9,664.0 1697.4,663.4 1697.9,662.8 1698.5,662.2 1699.0,661.6 1699.5,661.0 1700.1,660.4 1700.6,659.8 1701.1,659.2 1701.6,658.6 1702.2,658.0 1702.7,657.4 1703.2,656.8 1703.7,656.2 1704.3,655.6 1704.8,655.0 1705.3,654.4 1705.8,653.8 1706.4,653.2 1706.9,652.6 1707.4,652.0 1707.9,651.3 1708.4,650.7 1708.9,650.1 1709.4,649.5 1709.9,648.9 1710.4,648.2 1710.9,647.6 1711.4,647.0 1711.9,646.3 1712.4,645.7 1712.9,645.1 1713.4,644.4 1713.8,643.8 1714.3,643.2 1714.8,642.5 1715.3,641.9 1715.7,641.2 1716.2,640.6 1716.6,639.9 1717.1,639.3 1717.5,638.6 1718.0,638.0 1718.4,637.3 1718.9,636.7 1719.3,636.0 1719.7,635.3 1720.2,634.7 1720.6,634.0 1721.0,633.3 1721.4,632.6 1721.9,632.0 1722.3,631.3 1722.7,630.6 1723.1,629.9 1723.5,629.2 1723.9,628.5 1724.3,627.9 1724.7,627.2 1725.2,626.5 1725.6,625.8 1726.0,625.1 1726.4,624.4 1726.8,623.7 1727.2,623.0 1727.6,622.3 1727.9,621.6 1728.3,620.9 1728.7,620.2 1729.1,619.5 1729.5,618.8 1729.9,618.1 1730.3,617.4 1730.7,616.7 1731.1,616.0 1731.5,615.3 1731.9,614.6 1732.3,613.9 1732.6,613.2 1733.0,612.5 1733.4,611.8 1733.8,611.1 1734.2,610.4 1734.6,609.7 1735.0,609.0 1735.4,608.3 1735.8,607.6 1736.2,606.9 1736.6,606.2 1737.0,605.6 1737.4,604.9 1737.8,604.2 1738.2,603.5 1738.6,602.8 1738.9,602.1 1739.3,601.4 1739.7,600.7 1740.1,600.0 1740.5,599.3 1740.9,598.6 1741.3,597.9 1741.7,597.2 1742.1,596.5 1742.5,595.8 1742.9,595.1 1743.3,594.4 1743.7,593.7 1744.1,593.1 1744.5,592.4 1744.9,591.7 1745.2,591.0 1745.6,590.3 1746.0,589.6 1746.4,588.9 1746.8,588.2 1747.2,587.5 1747.6,586.8 1748.0,586.1 1748.3,585.4 1748.7,584.7 1749.1,584.0 1749.5,583.3 1749.9,582.6 1750.3,581.9 1750.7,581.2 1751.0,580.5 1751.4,579.8 1751.8,579.1 1752.2,578.4 1752.6,577.7 1752.9,576.9 1753.3,576.2 1753.7,575.5 1754.1,574.8 1754.4,574.1 1754.8,573.4 1755.2,572.7 1755.6,572.0 1755.9,571.3 1756.3,570.6 1756.7,569.9 1757.0,569.2 1757.4,568.5 1757.8,567.8 1758.1,567.0 1758.5,566.3 1758.8,565.6 1759.2,564.9 1759.6,564.2 1759.9,563.5 1760.3,562.8 1760.6,562.1 1761.0,561.3 1761.4,560.6 1761.7,559.9 1762.1,559.2 1762.4,558.5 1762.8,557.8 1763.1,557.1 1763.5,556.3 1763.8,555.6 1764.2,554.9 1764.6,554.2 1764.9,553.5 1765.3,552.8 1765.6,552.0 1766.0,551.3 1766.3,550.6 1766.7,549.9 1767.0,549.2 1767.4,548.4 1767.7,547.7 1768.1,547.0 1768.4,546.3 1768.8,545.6 1769.1,544.9 1769.5,544.1 1769.8,543.4 1770.2,542.7 1770.5,542.0 1770.9,541.3 1771.2,540.6 1771.6,539.8 1771.9,539.1 1772.3,538.4 1772.7,537.7 1773.0,537.0 1773.4,536.3 1773.7,535.5 1774.1,534.8 1774.4,534.1 1774.8,533.4 1775.2,532.7 1775.5,532.0 1775.9,531.3 1776.2,530.5 1776.6,529.8 1776.9,529.1 1777.3,528.4 1777.7,527.7 1778.0,527.0 1778.4,526.3 1778.7,525.5 1779.1,524.8 1779.5,524.1 1779.8,523.4 1780.2,522.7 1780.5,522.0 1780.9,521.3 1781.2,520.5 1781.6,519.8 1782.0,519.1 1782.3,518.4 1782.7,517.7 1783.0,517.0 1783.4,516.3 1783.8,515.6 1784.1,514.8 1784.5,514.1 1784.8,513.4 1785.2,512.7 1785.5,512.0 1785.9,511.3 1786.3,510.6 1786.6,509.8 1787.0,509.1 1787.3,508.4 1787.7,507.7 1788.1,507.0 1788.4,506.3 1788.8,505.6 1789.1,504.8 1789.5,504.1 1789.8,503.4 1790.2,502.7 1790.6,502.0 1790.9,501.3 1791.3,500.6 1791.6,499.8 1792.0,499.1 1792.3,498.4 1792.7,497.7 1793.1,497.0 1793.4,496.3 1793.8,495.5 1794.1,494.8 1794.5,494.1 1794.8,493.4 1795.2,492.7 1795.5,492.0 1795.9,491.2 1796.2,490.5 1796.6,489.8 1796.9,489.1 1797.3,488.4 1797.6,487.7 1798.0,486.9 1798.3,486.2 1798.7,485.5 1799.1,484.8 1799.4,484.1 1799.8,483.4 1800.1,482.7 1800.5,481.9 1800.9,481.2 1801.2,480.5 1801.6,479.8 1802.0,479.1 1802.3,478.4 1802.7,477.7 1803.1,477.0 1803.5,476.3 1803.8,475.6 1804.2,474.9 1804.6,474.2 1805.0,473.5 1805.4,472.8 1805.7,472.1 1806.1,471.4 1806.5,470.7 1806.9,470.0 1807.3,469.3 1807.7,468.6 1808.0,467.9 1808.4,467.2 1808.8,466.5 1809.2,465.8 1809.6,465.1 1810.0,464.4 1810.4,463.7 1810.8,463.0 1811.2,462.3 1811.6,461.6 1812.0,460.9 1812.4,460.2 1812.8,459.5 1813.1,458.8 1813.5,458.1 1813.9,457.4 1814.3,456.7 1814.7,456.0 1815.1,455.3 1815.5,454.6 1815.9,453.9 1816.3,453.3 1816.7,452.6 1817.1,451.9 1817.5,451.2 1817.9,450.5 1818.3,449.8 1818.7,449.1 1819.1,448.4 1819.5,447.7 1819.8,447.0 1820.2,446.3 1820.6,445.6 1821.0,444.9 1821.4,444.2 1821.8,443.5 1822.2,442.8 1822.6,442.1 1823.0,441.4 1823.3,440.7 1823.7,440.0 1824.1,439.3 1824.5,438.6 1824.9,437.9 1825.2,437.2 1825.6,436.5 1826.0,435.8 1826.4,435.1 1826.8,434.4 1827.1,433.7 1827.5,433.0 1827.9,432.3 1828.2,431.6 1828.6,430.8 1829.0,430.1 1829.3,429.4 1829.7,428.7 1830.1,428.0 1830.4,427.3 1830.8,426.6 1831.2,425.9 1831.5,425.2 1831.9,424.5 1832.3,423.7 1832.6,423.0 1833.0,422.3 1833.3,421.6 1833.7,420.9 1834.1,420.2 1834.4,419.5 1834.8,418.8 1835.1,418.0 1835.5,417.3 1835.9,416.6 1836.2,415.9 1836.6,415.2 1836.9,414.5 1837.3,413.8 1837.6,413.0 1838.0,412.3 1838.4,411.6 1838.7,410.9 1839.1,410.2 1839.4,409.5 1839.8,408.7 1840.1,408.0 1840.5,407.3 1840.8,406.6 1841.2,405.9 1841.5,405.2 1841.9,404.4 1842.2,403.7 1842.6,403.0 1842.9,402.3 1843.3,401.6 1843.6,400.8 1844.0,400.1 1844.3,399.4 1844.7,398.7 1845.0,398.0 1845.4,397.3 1845.7,396.5 1846.1,395.8 1846.4,395.1 1846.8,394.4 1847.1,393.6 1847.5,392.9 1847.8,392.2 1848.1,391.5 1848.5,390.8 1848.8,390.0 1849.2,389.3 1849.5,388.6 1849.9,387.9 1850.2,387.2 1850.6,386.4 1850.9,385.7 1851.2,385.0 1851.6,384.3 1851.9,383.5 1852.3,382.8 1852.6,382.1 1852.9,381.4 1853.3,380.7 1853.6,379.9 1854.0,379.2 1854.3,378.5 1854.6,377.8 1855.0,377.0 1855.3,376.3 1855.7,375.6 1856.0,374.9 1856.3,374.1 1856.7,373.4 1857.0,372.7 1857.3,372.0 1857.6,371.2 1858.0,370.5 1858.3,369.8 1858.6,369.0 1859.0,368.3 1859.3,367.6 1859.6,366.9 1859.9,366.1 1860.3,365.4 1860.6,364.7 1860.9,363.9 1861.2,363.2 1861.6,362.5 1861.9,361.8 1862.2,361.0 1862.5,360.3 1862.9,359.6 1863.2,358.8 1863.5,358.1 1863.8,357.4 1864.1,356.6 1864.5,355.9 1864.8,355.2 1865.1,354.4 1865.4,353.7 1865.8,353.0 1866.1,352.2 1866.4,351.5 1866.8,350.8 1867.1,350.1 1867.4,349.3 1867.8,348.6 1868.1,347.9 1868.4,347.2 1868.8,346.5 1869.1,345.7 1869.5,345.0 1869.8,344.3 1870.2,343.6 1870.6,342.9 1870.9,342.2 1871.3,341.5 1871.6,340.7 1872.0,340.0 1872.4,339.3 1872.7,338.6 1873.1,337.9 1873.5,337.2 1873.9,336.5 1874.2,335.8 1874.6,335.1 1875.0,334.4 1875.4,333.7 1875.7,333.0 1876.1,332.3 1876.5,331.6 1876.9,330.9 1877.3,330.2 1877.7,329.5 1878.1,328.8 1878.5,328.1 1878.9,327.4 1879.3,326.7 1879.7,326.0 1880.1,325.3 1880.5,324.6 1880.9,323.9 1881.3,323.2 1881.7,322.5 1882.1,321.9 1882.5,321.2 1882.9,320.5 1883.3,319.8 1883.7,319.1 1884.2,318.5 1884.6,317.8 1885.0,317.1 1885.4,316.4 1885.8,315.7 1886.3,315.1 1886.7,314.4 1887.1,313.7 1887.5,313.0 1888.0,312.4 1888.4,311.7 1888.8,311.0 1889.3,310.3 1889.7,309.7 1890.2,309.0 1890.6,308.3 1891.1,307.7 1891.5,307.0 1891.9,306.3 1892.4,305.7 1892.8,305.0 1893.3,304.4 1893.8,303.7 1894.2,303.0 1894.7,302.4 1895.1,301.7 1895.6,301.1 1896.0,300.4 1896.5,299.8 1897.0,299.1 1897.4,298.5 1897.9,297.8 1898.4,297.2 1898.9,296.5 1899.3,295.9 1899.8,295.3 1900.3,294.6 1900.8,294.0 1901.2,293.3 1901.7,292.7 1902.2,292.0 1902.7,291.4 1903.1,290.7 1903.6,290.1 1904.1,289.4 1904.6,288.8 1905.1,288.1 1905.6,287.5 1906.1,286.8 1906.6,286.2 1907.1,285.6 1907.6,284.9 1908.1,284.3 1908.6,283.7 1909.1,283.1 1909.6,282.5 1910.1,281.9 1910.7,281.3 1911.2,280.7 1911.8,280.1 1912.3,279.5 1912.9,279.0 1913.4,278.4 1914.0,277.9 1914.6,277.4 1915.1,276.9 1915.7,276.4 1916.3,275.8 1917.0,275.3 1917.6,274.8 1918.2,274.3 1918.9,273.8 1919.5,273.3 1920.2,272.8 1920.8,272.3 1921.5,271.8 1922.2,271.4 1922.9,270.9 1923.6,270.5 1924.3,270.1 1925.0,269.7 1925.7,269.4 1926.4,269.1 1927.1,268.8 1927.9,268.5 1928.6,268.3 1929.3,268.1 1930.1,267.9 1930.9,267.7 1931.7,267.4 1932.5,267.2 1933.3,267.1 1934.1,266.9 1934.9,266.8 1935.7,266.7 1936.5,266.6 1937.3,266.5 1938.0,266.5 1938.8,266.5 1939.6,266.6 1940.4,266.7 1941.2,266.8 1942.0,267.0 1942.8,267.2 1943.6,267.5 1944.3,267.7 1945.1,268.0 1945.9,268.3 1946.7,268.6 1947.4,268.9 1948.1,269.2 1948.9,269.5 1949.6,269.8 1950.3,270.1 1951.0,270.5 1951.6,270.8 1952.3,271.2 1953.0,271.7 1953.6,272.1 1954.2,272.6 1954.9,273.1 1955.5,273.6 1956.1,274.1 1956.7,274.7 1957.3,275.2 1958.0,275.8 1958.6,276.3 1959.2,276.9 1959.8,277.5 1960.4,278.0 1961.0,278.6 1961.5,279.1 1962.1,279.6 1962.7,280.2 1963.3,280.7 1963.9,281.2 1964.5,281.8 1965.1,282.3 1965.7,282.8 1966.3,283.4 1966.9,283.9 1967.4,284.5 1968.0,285.0 1968.6,285.6 1969.2,286.2 1969.7,286.7 1970.3,287.3 1970.9,287.9 1971.4,288.4 1972.0,289.0 1972.6,289.6 1973.1,290.1 1973.7,290.7 1974.2,291.3 1974.8,291.9 1975.3,292.5 1975.9,293.0 1976.4,293.6 1977.0,294.2 1977.5,294.8 1978.0,295.4 1978.6,296.0 1979.1,296.6 1979.6,297.2 1980.2,297.8 1980.7,298.3 1981.2,298.9 1981.7,299.5 1982.3,300.1 1982.8,300.8 1983.3,301.4 1983.8,302.0 1984.3,302.6 1984.8,303.2 1985.4,303.8 1985.9,304.4 1986.4,305.0 1986.9,305.7 1987.4,306.3 1987.9,306.9 1988.4,307.5 1988.9,308.2 1989.4,308.8 1989.9,309.4 1990.4,310.0 1990.9,310.7 1991.3,311.3 1991.8,311.9 1992.3,312.6 1992.8,313.2 1993.3,313.8 1993.8,314.5 1994.3,315.1 1994.8,315.7 1995.3,316.4 1995.7,317.0 1996.2,317.7 1996.7,318.3 1997.2,318.9 1997.7,319.6 1998.1,320.2 1998.6,320.8 1999.1,321.5 1999.6,322.1 2000.1,322.8 2000.6,323.4 2001.0,324.0 2001.5,324.7 2002.0,325.3 2002.5,326.0 2002.9,326.6 2003.4,327.2 2003.9,327.9 2004.4,328.5 2004.8,329.2 2005.3,329.8 2005.8,330.5 2006.3,331.1 2006.7,331.8 2007.2,332.4 2007.7,333.1 2008.1,333.7 2008.6,334.4 2009.0,335.0 2009.5,335.7 2009.9,336.3 2010.4,337.0 2010.8,337.7 2011.3,338.3 2011.7,339.0 2012.2,339.6 2012.6,340.3 2013.0,341.0 2013.5,341.7 2013.9,342.3 2014.3,343.0 2014.7,343.7 2015.2,344.4 2015.6,345.0 2016.0,345.7 2016.4,346.4 2016.8,347.1 2017.2,347.8 2017.6,348.5 2018.0,349.2 2018.4,349.9 2018.8,350.5 2019.2,351.2 2019.6,351.9 2020.0,352.6 2020.4,353.3 2020.8,354.0 2021.2,354.7 2021.6,355.4 2022.0,356.1 2022.4,356.8 2022.8,357.5 2023.2,358.2 2023.6,358.9 2024.0,359.6 2024.4,360.2 2024.8,360.9 2025.2,361.6 2025.7,362.3 2026.1,363.0 2026.5,363.7 2026.9,364.3 2027.3,365.0 2027.7,365.7 2028.2,366.4 2028.6,367.1 2029.0,367.7 2029.5,368.4 2029.9,369.1 2030.3,369.8 2030.7,370.4 2031.2,371.1 2031.6,371.8 2032.0,372.4 2032.5,373.1 2032.9,373.8 2033.3,374.5 2033.8,375.1 2034.2,375.8 2034.6,376.5 2035.1,377.1 2035.5,377.8 2036.0,378.5 2036.4,379.1 2036.8,379.8 2037.3,380.5 2037.7,381.1 2038.2,381.8 2038.6,382.5 2039.1,383.1 2039.5,383.8 2039.9,384.5 2040.4,385.1 2040.8,385.8 2041.3,386.4 2041.7,387.1 2042.2,387.8 2042.6,388.4 2043.1,389.1 2043.6,389.7 2044.0,390.4 2044.5,391.1 2044.9,391.7 2045.4,392.4 2045.8,393.0 2046.3,393.7 2046.7,394.4 2047.2,395.0 2047.6,395.7 2048.1,396.3 2048.5,397.0 2049.0,397.6 2049.5,398.3 2049.9,399.0 2050.4,399.6 2050.8,400.3 2051.3,400.9 2051.7,401.6 2052.2,402.3 2052.6,402.9 2053.1,403.6 2053.5,404.2 2054.0,404.9 2054.4,405.6 2054.9,406.2 2055.3,406.9 2055.8,407.5 2056.2,408.2 2056.7,408.9 2057.1,409.5 2057.6,410.2 2058.0,410.9 2058.4,411.5 2058.9,412.2 2059.3,412.9 2059.8,413.5 2060.2,414.2 2060.6,414.9 2061.1,415.5 2061.5,416.2 2061.9,416.9 2062.4,417.5 2062.8,418.2 2063.2,418.9 2063.7,419.6 2064.1,420.2 2064.5,420.9 2064.9,421.6 2065.3,422.3 2065.8,422.9 2066.2,423.6 2066.6,424.3 2067.0,425.0 2067.4,425.7 2067.8,426.4 2068.2,427.0 2068.6,427.7 2069.0,428.4 2069.4,429.1 2069.8,429.8 2070.2,430.5 2070.6,431.2 2071.0,431.9 2071.4,432.6 2071.8,433.2 2072.2,433.9 2072.6,434.6 2073.0,435.3 2073.4,436.0 2073.8,436.7 2074.2,437.4 2074.6,438.1 2075.0,438.8 2075.4,439.5 2075.8,440.2 2076.1,440.9 2076.5,441.6 2076.9,442.3 2077.3,443.0 2077.7,443.7 2078.1,444.4 2078.5,445.1 2078.8,445.8 2079.2,446.5 2079.6,447.2 2080.0,447.9 2080.4,448.6 2080.7,449.3 2081.1,450.0 2081.5,450.7 2081.9,451.5 2082.2,452.2 2082.6,452.9 2083.0,453.6 2083.4,454.3 2083.7,455.0 2084.1,455.7 2084.5,456.4 2084.9,457.1 2085.2,457.8 2085.6,458.5 2086.0,459.2 2086.3,459.9 2086.7,460.7 2087.1,461.4 2087.4,462.1 2087.8,462.8 2088.2,463.5 2088.5,464.2 2088.9,464.9 2089.3,465.6 2089.7,466.3 2090.0,467.0 2090.4,467.7 2090.7,468.5 2091.1,469.2 2091.5,469.9 2091.8,470.6 2092.2,471.3 2092.6,472.0 2092.9,472.7 2093.3,473.4 2093.6,474.1 2094.0,474.9 2094.4,475.6 2094.7,476.3 2095.1,477.0 2095.4,477.7 2095.8,478.4 2096.2,479.1 2096.5,479.9 2096.9,480.6 2097.2,481.3 2097.6,482.0 2097.9,482.7 2098.3,483.4 2098.6,484.2 2099.0,484.9 2099.3,485.6 2099.7,486.3 2100.0,487.0 2100.4,487.7 2100.7,488.5 2101.1,489.2 2101.4,489.9 2101.8,490.6 2102.1,491.3 2102.5,492.1 2102.8,492.8 2103.2,493.5 2103.5,494.2 2103.9,494.9 2104.2,495.7 2104.6,496.4 2104.9,497.1 2105.2,497.8 2105.6,498.6 2105.9,499.3 2106.3,500.0 2106.6,500.7 2107.0,501.4 2107.3,502.2 2107.6,502.9 2108.0,503.6 2108.3,504.3 2108.7,505.0 2109.0,505.8 2109.4,506.5 2109.7,507.2 2110.0,507.9 2110.4,508.7 2110.7,509.4 2111.1,510.1 2111.4,510.8 2111.7,511.6 2112.1,512.3 2112.4,513.0 2112.7,513.7 2113.1,514.5 2113.4,515.2 2113.7,515.9 2114.1,516.6 2114.4,517.4 2114.7,518.1 2115.1,518.8 2115.4,519.5 2115.7,520.3 2116.0,521.0 2116.4,521.7 2116.7,522.5 2117.0,523.2 2117.4,523.9 2117.7,524.6 2118.0,525.4 2118.3,526.1 2118.7,526.8 2119.0,527.6 2119.3,528.3 2119.6,529.0 2120.0,529.8 2120.3,530.5 2120.6,531.2 2120.9,531.9 2121.2,532.7 2121.6,533.4 2121.9,534.1 2122.2,534.9 2122.5,535.6 2122.9,536.3 2123.2,537.1 2123.5,537.8 2123.8,538.5 2124.2,539.2 2124.5,540.0 2124.8,540.7 2125.2,541.4 2125.5,542.2 2125.8,542.9 2126.1,543.6 2126.5,544.3 2126.8,545.1 2127.1,545.8 2127.5,546.5 2127.8,547.3 2128.1,548.0 2128.5,548.7 2128.8,549.4 2129.1,550.2 2129.5,550.9 2129.8,551.6 2130.2,552.3 2130.5,553.0 2130.8,553.8 2131.2,554.5 2131.5,555.2 2131.8,555.9 2132.2,556.7 2132.5,557.4 2132.9,558.1 2133.2,558.8 2133.5,559.6 2133.9,560.3 2134.2,561.0 2134.5,561.7 2134.9,562.5 2135.2,563.2 2135.6,563.9 2135.9,564.6 2136.2,565.4 2136.6,566.1 2136.9,566.8 2137.3,567.5 2137.6,568.3 2138.0,569.0 2138.3,569.7 2138.6,570.4 2139.0,571.1 2139.3,571.9 2139.7,572.6 2140.0,573.3 2140.4,574.0 2140.7,574.7 2141.1,575.5 2141.4,576.2 2141.8,576.9 2142.1,577.6 2142.5,578.3 2142.9,579.0 2143.2,579.7 2143.6,580.5 2143.9,581.2 2144.3,581.9 2144.7,582.6 2145.0,583.3 2145.4,584.0 2145.8,584.7 2146.2,585.4 2146.5,586.1 2146.9,586.8 2147.3,587.5 2147.7,588.2 2148.0,588.9 2148.4,589.6 2148.8,590.3 2149.2,591.0 2149.6,591.7 2150.0,592.4 2150.4,593.1 2150.8,593.8 2151.2,594.5 2151.6,595.2 2152.0,595.9 2152.4,596.6 2152.8,597.3 2153.2,598.0 2153.6,598.6 2154.0,599.3 2154.4,600.0 2154.8,600.7 2155.2,601.4 2155.6,602.1 2156.0,602.8 2156.4,603.5 2156.9,604.1 2157.3,604.8 2157.7,605.5 2158.1,606.2 2158.5,606.9 2159.0,607.5 2159.4,608.2 2159.8,608.9 2160.2,609.6 2160.7,610.3 2161.1,610.9 2161.5,611.6 2161.9,612.3 2162.4,612.9 2162.8,613.6 2163.2,614.3 2163.7,615.0 2164.1,615.6 2164.5,616.3 2165.0,617.0 2165.4,617.6 2165.9,618.3 2166.3,619.0 2166.7,619.6 2167.2,620.3 2167.6,621.0 2168.1,621.6 2168.5,622.3 2169.0,622.9 2169.4,623.6 2169.9,624.3 2170.3,624.9 2170.8,625.6 2171.2,626.2 2171.7,626.9 2172.2,627.5 2172.6,628.2 2173.1,628.8 2173.6,629.5 2174.0,630.1 2174.5,630.8 2175.0,631.4 2175.4,632.1 2175.9,632.7 2176.4,633.4 2176.8,634.0 2177.3,634.7 2177.8,635.3 2178.2,636.0 2178.7,636.6 2179.2,637.2 2179.7,637.9 2180.1,638.5 2180.6,639.2 2181.1,639.8 2181.6,640.5 2182.1,641.1 2182.5,641.7 2183.0,642.4 2183.5,643.0 2184.0,643.6 2184.5,644.3 2184.9,644.9 2185.4,645.6 2185.9,646.2 2186.4,646.8 2186.9,647.5 2187.4,648.1 2187.9,648.7 2188.3,649.4 2188.8,650.0 2189.3,650.6 2189.8,651.2 2190.3,651.9 2190.8,652.5 2191.3,653.1 2191.8,653.7 2192.3,654.4 2192.8,655.0 2193.3,655.6 2193.8,656.2 2194.3,656.9 2194.8,657.5 2195.3,658.1 2195.8,658.7 2196.3,659.3 2196.8,660.0 2197.3,660.6 2197.8,661.2 2198.3,661.8 2198.9,662.4 2199.4,663.1 2199.9,663.7 2200.4,664.3 2200.9,664.9 2201.4,665.5 2201.9,666.2 2202.4,666.8 2202.9,667.4 2203.4,668.0 2203.9,668.6 2204.4,669.3 2204.9,669.9 2205.4,670.5 2205.9,671.1 2206.4,671.8 2206.9,672.4 2207.4,673.0 2207.9,673.6 2208.4,674.3 2208.9,674.9 2209.4,675.6 2209.8,676.2 2210.3,676.8 2210.8,677.5 2211.3,678.1 2211.8,678.8 2212.3,679.4 2212.8,680.0 2213.3,680.7 2213.8,681.3 2214.2,681.9 2214.7,682.6 2215.2,683.2 2215.7,683.8 2216.2,684.5 2216.7,685.1 2217.2,685.7 2217.7,686.3 2218.2,687.0 2218.7,687.6 2219.3,688.2 2219.8,688.8 2220.3,689.4 2220.8,690.0 2221.3,690.6 2221.9,691.2 2222.4,691.8 2222.9,692.4 2223.5,692.9 2224.0,693.5 2224.6,694.1 2225.1,694.6 2225.7,695.2 2226.2,695.7 2226.8,696.3 2227.4,696.9 2228.0,697.4 2228.5,698.0 2229.1,698.5 2229.7,699.1 2230.3,699.6 2230.9,700.2 2231.5,700.8 2232.1,701.3 2232.7,701.8 2233.3,702.4 2233.9,702.9 2234.5,703.4 2235.1,704.0 2235.8,704.5 2236.4,705.0 2237.0,705.5 2237.6,706.0 2238.3,706.5 2238.9,707.0 2239.6,707.4 2240.2,707.9 2240.9,708.4 2241.5,708.8 2242.2,709.3 2242.8,709.7 2243.5,710.1 2244.2,710.5 2244.8,710.9 2245.5,711.3 2246.2,711.7 2246.9,712.0 2247.6,712.4 2248.3,712.8 2249.0,713.2 2249.7,713.5 2250.4,713.9 2251.1,714.3 2251.9,714.6 2252.6,715.0 2253.3,715.3 2254.1,715.6 2254.8,716.0 2255.5,716.3 2256.3,716.6 2257.0,716.9 2257.8,717.2 2258.5,717.5 2259.3,717.8 2260.1,718.1 2260.8,718.3 2261.6,718.6 2262.3,718.8 2263.1,719.1 2263.8,719.3 2264.6,719.5 2265.4,719.7 2266.1,720.0 2266.9,720.2 2267.7,720.4 2268.4,720.6 2269.2,720.8 2270.0,721.0 2270.8,721.2 2271.6,721.3 2272.3,721.5 2273.1,721.7 2273.9,721.8 2274.7,722.0 2275.5,722.1 2276.3,722.3 2277.1,722.4 2277.9,722.5 2278.7,722.6 2279.4,722.7 2280.2,722.8 2281.0,722.9 2281.8,723.0 2282.6,723.0 2283.4,723.1 2284.2,723.2 2285.0,723.3 2285.8,723.3 2286.6,723.4 2287.4,723.4 2288.2,723.5 2289.0,723.5" fill="none" stroke="#ff0000" stroke-width="4.2" stroke-linejoin="round" stroke-linecap="butt" />
<polyline points="1597.0,722.5 1597.9,722.4 1598.8,722.2 1599.6,722.1 1600.5,721.9 1601.4,721.8 1602.3,721.6 1603.1,721.4 1604.0,721.3 1604.9,721.1 1605.7,720.9 1606.6,720.7 1607.5,720.5 1608.3,720.3 1609.2,720.1 1610.0,719.9 1610.9,719.6 1611.7,719.4 1612.6,719.2 1613.4,719.0 1614.3,718.7 1615.1,718.5 1616.0,718.2 1616.8,718.0 1617.6,717.7 1618.5,717.5 1619.3,717.2 1620.1,717.0 1621.0,716.7 1621.8,716.4 1622.6,716.1 1623.4,715.8 1624.2,715.5 1625.1,715.2 1625.9,714.9 1626.7,714.5 1627.5,714.2 1628.3,713.9 1629.1,713.5 1629.9,713.1 1630.7,712.8 1631.5,712.4 1632.3,712.0 1633.1,711.6 1633.9,711.2 1634.7,710.9 1635.5,710.5 1636.3,710.1 1637.1,709.7 1637.9,709.3 1638.7,708.8 1639.5,708.4 1640.3,708.0 1641.0,707.6 1641.8,707.2 1642.6,706.8 1643.4,706.4 1644.2,706.0 1644.9,705.5 1645.7,705.1 1646.5,704.7 1647.2,704.3 1648.0,703.9 1648.8,703.4 1649.6,703.0 1650.3,702.6 1651.1,702.1 1651.8,701.7 1652.6,701.2 1653.4,700.8 1654.1,700.3 1654.9,699.8 1655.6,699.4 1656.4,698.9 1657.1,698.4 1657.9,697.9 1658.6,697.5 1659.4,697.0 1660.1,696.5 1660.8,696.0 1661.5,695.5 1662.3,695.0 1663.0,694.5 1663.7,694.0 1664.4,693.5 1665.1,692.9 1665.8,692.4 1666.5,691.9 1667.2,691.3 1667.9,690.8 1668.5,690.3 1669.2,689.7 1669.9,689.1 1670.6,688.6 1671.3,688.0 1671.9,687.4 1672.6,686.8 1673.3,686.3 1673.9,685.7 1674.6,685.1 1675.2,684.5 1675.9,683.9 1676.5,683.3 1677.2,682.7 1677.8,682.1 1678.5,681.5 1679.1,680.9 1679.7,680.2 1680.4,679.6 1681.0,679.0 1681.6,678.4 1682.3,677.8 1682.9,677.1 1683.5,676.5 1684.1,675.9 1684.7,675.3 1685.4,674.6 1686.0,674.0 1686.6,673.4 1687.2,672.7 1687.8,672.1 1688.4,671.5 1689.0,670.8 1689.6,670.2 1690.2,669.5 1690.8,668.9 1691.4,668.2 1692.0,667.6 1692.6,666.9 1693.2,666.2 1693.7,665.6 1694.3,664.9 1694.9,664.2 1695.4,663.5 1696.0,662.8 1696.6,662.2 1697.1,661.5 1697.6,660.8 1698.2,660.1 1698.7,659.4 1699.2,658.7 1699.7,658.0 1700.3,657.3 1700.8,656.6 1701.3,655.8 1701.7,655.1 1702.2,654.4 1702.7,653.6 1703.2,652.9 1703.7,652.2 1704.1,651.4 1704.6,650.7 1705.1,649.9 1705.5,649.2 1706.0,648.4 1706.5,647.6 1706.9,646.9 1707.4,646.1 1707.8,645.4 1708.3,644.6 1708.7,643.8 1709.2,643.1 1709.6,642.3 1710.1,641.6 1710.5,640.8 1711.0,640.1 1711.4,639.3 1711.9,638.5 1712.3,637.8 1712.8,637.0 1713.2,636.3 1713.7,635.5 1714.1,634.7 1714.5,634.0 1715.0,633.2 1715.4,632.5 1715.9,631.7 1716.3,630.9 1716.7,630.2 1717.2,629.4 1717.6,628.6 1718.0,627.9 1718.5,627.1 1718.9,626.3 1719.3,625.6 1719.8,624.8 1720.2,624.0 1720.6,623.3 1721.0,622.5 1721.5,621.7 1721.9,620.9 1722.3,620.2 1722.8,619.4 1723.2,618.6 1723.6,617.9 1724.0,617.1 1724.5,616.3 1724.9,615.5 1725.3,614.8 1725.7,614.0 1726.1,613.2 1726.6,612.4 1727.0,611.7 1727.4,610.9 1727.8,610.1 1728.3,609.4 1728.7,608.6 1729.1,607.8 1729.5,607.0 1729.9,606.3 1730.4,605.5 1730.8,604.7 1731.2,603.9 1731.6,603.2 1732.1,602.4 1732.5,601.6 1732.9,600.9 1733.3,600.1 1733.8,599.3 1734.2,598.5 1734.6,597.8 1735.0,597.0 1735.4,596.2 1735.9,595.4 1736.3,594.7 1736.7,593.9 1737.1,593.1 1737.5,592.3 1738.0,591.6 1738.4,590.8 1738.8,590.0 1739.2,589.2 1739.6,588.5 1740.0,587.7 1740.4,586.9 1740.8,586.1 1741.3,585.3 1741.7,584.6 1742.1,583.8 1742.5,583.0 1742.9,582.2 1743.3,581.4 1743.7,580.6 1744.1,579.9 1744.5,579.1 1744.9,578.3 1745.3,577.5 1745.7,576.7 1746.0,575.9 1746.4,575.1 1746.8,574.3 1747.2,573.5 1747.6,572.8 1748.0,572.0 1748.3,571.2 1748.7,570.4 1749.1,569.6 1749.5,568.8 1749.8,568.0 1750.2,567.2 1750.6,566.4 1751.0,565.6 1751.3,564.8 1751.7,564.0 1752.1,563.2 1752.4,562.4 1752.8,561.6 1753.2,560.8 1753.5,560.0 1753.9,559.2 1754.2,558.4 1754.6,557.6 1755.0,556.8 1755.3,556.0 1755.7,555.2 1756.1,554.3 1756.4,553.5 1756.8,552.7 1757.1,551.9 1757.5,551.1 1757.9,550.3 1758.2,549.5 1758.6,548.7 1758.9,547.9 1759.3,547.1 1759.6,546.3 1760.0,545.5 1760.4,544.7 1760.7,543.9 1761.1,543.1 1761.4,542.3 1761.8,541.5 1762.1,540.7 1762.5,539.9 1762.8,539.0 1763.2,538.2 1763.5,537.4 1763.9,536.6 1764.2,535.8 1764.6,535.0 1764.9,534.2 1765.3,533.4 1765.6,532.6 1766.0,531.8 1766.3,531.0 1766.7,530.2 1767.0,529.3 1767.4,528.5 1767.7,527.7 1768.1,526.9 1768.4,526.1 1768.8,525.3 1769.1,524.5 1769.5,523.7 1769.8,522.9 1770.2,522.1 1770.5,521.3 1770.9,520.5 1771.2,519.7 1771.6,518.8 1772.0,518.0 1772.3,517.2 1772.7,516.4 1773.0,515.6 1773.4,514.8 1773.7,514.0 1774.1,513.2 1774.5,512.4 1774.8,511.6 1775.2,510.8 1775.5,510.0 1775.9,509.2 1776.3,508.4 1776.6,507.6 1777.0,506.8 1777.3,506.0 1777.7,505.2 1778.0,504.4 1778.4,503.6 1778.8,502.7 1779.1,501.9 1779.5,501.1 1779.8,500.3 1780.2,499.5 1780.5,498.7 1780.9,497.9 1781.3,497.1 1781.6,496.3 1782.0,495.5 1782.3,494.7 1782.7,493.9 1783.0,493.1 1783.4,492.3 1783.7,491.5 1784.1,490.7 1784.4,489.8 1784.8,489.0 1785.1,488.2 1785.5,487.4 1785.8,486.6 1786.2,485.8 1786.5,485.0 1786.9,484.2 1787.2,483.4 1787.5,482.6 1787.9,481.7 1788.2,480.9 1788.6,480.1 1788.9,479.3 1789.2,478.5 1789.6,477.7 1789.9,476.9 1790.2,476.0 1790.6,475.2 1790.9,474.4 1791.2,473.6 1791.6,472.8 1791.9,472.0 1792.2,471.2 1792.6,470.3 1792.9,469.5 1793.2,468.7 1793.5,467.9 1793.9,467.1 1794.2,466.3 1794.5,465.4 1794.9,464.6 1795.2,463.8 1795.5,463.0 1795.8,462.2 1796.2,461.4 1796.5,460.5 1796.8,459.7 1797.1,458.9 1797.5,458.1 1797.8,457.3 1798.1,456.4 1798.4,455.6 1798.8,454.8 1799.1,454.0 1799.4,453.2 1799.7,452.3 1800.0,451.5 1800.4,450.7 1800.7,449.9 1801.0,449.1 1801.3,448.2 1801.6,447.4 1802.0,446.6 1802.3,445.8 1802.6,444.9 1802.9,444.1 1803.2,443.3 1803.6,442.5 1803.9,441.7 1804.2,440.8 1804.5,440.0 1804.8,439.2 1805.1,438.4 1805.4,437.5 1805.8,436.7 1806.1,435.9 1806.4,435.1 1806.7,434.3 1807.0,433.4 1807.3,432.6 1807.6,431.8 1807.9,431.0 1808.3,430.1 1808.6,429.3 1808.9,428.5 1809.2,427.7 1809.5,426.8 1809.8,426.0 1810.1,425.2 1810.4,424.4 1810.7,423.5 1811.0,422.7 1811.3,421.9 1811.7,421.1 1812.0,420.2 1812.3,419.4 1812.6,418.6 1812.9,417.8 1813.2,416.9 1813.5,416.1 1813.8,415.3 1814.1,414.4 1814.4,413.6 1814.7,412.8 1815.0,412.0 1815.3,411.1 1815.6,410.3 1815.9,409.5 1816.2,408.7 1816.5,407.8 1816.8,407.0 1817.1,406.2 1817.4,405.4 1817.7,404.5 1818.0,403.7 1818.3,402.9 1818.6,402.0 1818.9,401.2 1819.2,400.4 1819.5,399.6 1819.8,398.7 1820.1,397.9 1820.4,397.1 1820.7,396.2 1821.0,395.4 1821.3,394.6 1821.6,393.8 1821.9,392.9 1822.2,392.1 1822.5,391.3 1822.8,390.4 1823.1,389.6 1823.4,388.8 1823.7,387.9 1824.0,387.1 1824.3,386.3 1824.6,385.5 1824.9,384.6 1825.1,383.8 1825.4,383.0 1825.7,382.1 1826.0,381.3 1826.3,380.5 1826.6,379.6 1826.9,378.8 1827.2,378.0 1827.5,377.1 1827.8,376.3 1828.1,375.5 1828.3,374.6 1828.6,373.8 1828.9,373.0 1829.2,372.1 1829.5,371.3 1829.8,370.5 1830.1,369.6 1830.4,368.8 1830.6,368.0 1830.9,367.1 1831.2,366.3 1831.5,365.5 1831.8,364.6 1832.1,363.8 1832.3,363.0 1832.6,362.1 1832.9,361.3 1833.2,360.5 1833.5,359.6 1833.8,358.8 1834.0,358.0 1834.3,357.1 1834.6,356.3 1834.9,355.5 1835.2,354.6 1835.4,353.8 1835.7,353.0 1836.0,352.1 1836.3,351.3 1836.6,350.5 1836.8,349.6 1837.1,348.8 1837.4,347.9 1837.7,347.1 1837.9,346.3 1838.2,345.4 1838.5,344.6 1838.8,343.8 1839.0,342.9 1839.3,342.1 1839.6,341.3 1839.9,340.4 1840.1,339.6 1840.4,338.7 1840.7,337.9 1840.9,337.1 1841.2,336.2 1841.5,335.4 1841.8,334.5 1842.0,333.7 1842.3,332.9 1842.5,332.0 1842.8,331.2 1843.1,330.3 1843.3,329.5 1843.6,328.7 1843.9,327.8 1844.1,327.0 1844.4,326.1 1844.6,325.3 1844.9,324.5 1845.1,323.6 1845.4,322.8 1845.7,321.9 1845.9,321.1 1846.2,320.2 1846.4,319.4 1846.7,318.6 1846.9,317.7 1847.2,316.9 1847.4,316.0 1847.7,315.2 1847.9,314.3 1848.2,313.5 1848.5,312.6 1848.7,311.8 1849.0,311.0 1849.2,310.1 1849.5,309.3 1849.7,308.4 1850.0,307.6 1850.2,306.7 1850.5,305.9 1850.7,305.1 1851.0,304.2 1851.2,303.4 1851.5,302.5 1851.7,301.7 1852.0,300.8 1852.2,300.0 1852.5,299.1 1852.7,298.3 1853.0,297.5 1853.3,296.6 1853.5,295.8 1853.8,294.9 1854.0,294.1 1854.3,293.2 1854.5,292.4 1854.8,291.6 1855.0,290.7 1855.3,289.9 1855.6,289.0 1855.8,288.2 1856.1,287.3 1856.3,286.5 1856.6,285.7 1856.9,284.8 1857.1,284.0 1857.4,283.1 1857.7,282.3 1857.9,281.5 1858.2,280.6 1858.5,279.8 1858.7,278.9 1859.0,278.1 1859.3,277.3 1859.5,276.4 1859.8,275.6 1860.1,274.8 1860.4,273.9 1860.6,273.1 1860.9,272.2 1861.2,271.4 1861.4,270.6 1861.7,269.7 1862.0,268.9 1862.2,268.0 1862.5,267.2 1862.8,266.4 1863.0,265.5 1863.3,264.7 1863.6,263.8 1863.8,263.0 1864.1,262.1 1864.4,261.3 1864.6,260.4 1864.9,259.6 1865.2,258.7 1865.4,257.9 1865.7,257.1 1866.0,256.2 1866.2,255.4 1866.5,254.5 1866.8,253.7 1867.0,252.8 1867.3,252.0 1867.6,251.1 1867.8,250.3 1868.1,249.4 1868.4,248.6 1868.6,247.7 1868.9,246.9 1869.2,246.1 1869.5,245.2 1869.7,244.4 1870.0,243.5 1870.3,242.7 1870.6,241.9 1870.8,241.0 1871.1,240.2 1871.4,239.3 1871.7,238.5 1872.0,237.7 1872.2,236.8 1872.5,236.0 1872.8,235.2 1873.1,234.3 1873.4,233.5 1873.7,232.7 1874.0,231.8 1874.3,231.0 1874.6,230.2 1874.9,229.3 1875.2,228.5 1875.5,227.7 1875.8,226.9 1876.1,226.1 1876.4,225.2 1876.8,224.4 1877.1,223.6 1877.4,222.8 1877.7,222.0 1878.1,221.2 1878.4,220.4 1878.7,219.6 1879.0,218.7 1879.4,217.9 1879.7,217.1 1880.1,216.3 1880.4,215.5 1880.8,214.7 1881.1,214.0 1881.5,213.2 1881.8,212.4 1882.2,211.6 1882.6,210.8 1882.9,210.0 1883.3,209.2 1883.7,208.4 1884.1,207.6 1884.4,206.8 1884.8,206.0 1885.2,205.2 1885.6,204.4 1886.0,203.6 1886.4,202.8 1886.8,202.0 1887.3,201.2 1887.7,200.4 1888.1,199.6 1888.5,198.8 1889.0,198.0 1889.4,197.2 1889.8,196.4 1890.3,195.6 1890.7,194.8 1891.2,194.1 1891.7,193.3 1892.1,192.5 1892.6,191.8 1893.1,191.0 1893.6,190.3 1894.1,189.6 1894.6,188.8 1895.1,188.1 1895.6,187.4 1896.1,186.7 1896.6,186.0 1897.1,185.3 1897.7,184.7 1898.2,184.0 1898.8,183.4 1899.3,182.7 1899.9,182.1 1900.5,181.5 1901.1,180.9 1901.7,180.3 1902.3,179.6 1903.0,179.0 1903.6,178.4 1904.3,177.8 1905.0,177.3 1905.8,176.7 1906.5,176.2 1907.2,175.6 1908.0,175.1 1908.7,174.7 1909.5,174.2 1910.3,173.8 1911.0,173.5 1911.8,173.1 1912.6,172.8 1913.4,172.4 1914.3,172.1 1915.1,171.8 1916.0,171.5 1916.8,171.2 1917.7,171.0 1918.6,170.8 1919.4,170.6 1920.3,170.5 1921.1,170.5 1922.0,170.5 1922.9,170.7 1923.7,170.8 1924.6,171.0 1925.5,171.3 1926.3,171.6 1927.2,171.9 1928.0,172.2 1928.9,172.6 1929.7,172.9 1930.5,173.3 1931.2,173.6 1932.0,174.0 1932.8,174.4 1933.5,174.8 1934.3,175.3 1935.0,175.8 1935.8,176.3 1936.5,176.9 1937.2,177.5 1937.9,178.0 1938.6,178.6 1939.2,179.2 1939.9,179.9 1940.5,180.5 1941.1,181.1 1941.7,181.7 1942.3,182.3 1942.9,183.0 1943.4,183.6 1944.0,184.2 1944.5,184.9 1945.0,185.6 1945.6,186.2 1946.1,186.9 1946.6,187.6 1947.1,188.3 1947.6,189.0 1948.1,189.7 1948.6,190.5 1949.1,191.2 1949.6,191.9 1950.1,192.7 1950.5,193.4 1951.0,194.2 1951.5,195.0 1951.9,195.7 1952.4,196.5 1952.8,197.3 1953.3,198.1 1953.7,198.8 1954.2,199.6 1954.6,200.4 1955.0,201.2 1955.4,202.0 1955.9,202.8 1956.3,203.6 1956.7,204.4 1957.1,205.2 1957.5,206.0 1957.9,206.8 1958.3,207.6 1958.7,208.4 1959.1,209.2 1959.5,210.0 1959.9,210.8 1960.3,211.6 1960.7,212.4 1961.1,213.2 1961.5,214.0 1961.9,214.8 1962.3,215.6 1962.7,216.3 1963.0,217.1 1963.4,217.9 1963.8,218.7 1964.2,219.5 1964.5,220.3 1964.9,221.1 1965.3,221.9 1965.6,222.7 1966.0,223.5 1966.3,224.3 1966.7,225.1 1967.0,225.9 1967.4,226.7 1967.7,227.5 1968.0,228.3 1968.4,229.1 1968.7,230.0 1969.1,230.8 1969.4,231.6 1969.7,232.4 1970.0,233.2 1970.4,234.0 1970.7,234.9 1971.0,235.7 1971.3,236.5 1971.7,237.3 1972.0,238.1 1972.3,239.0 1972.6,239.8 1972.9,240.6 1973.3,241.4 1973.6,242.3 1973.9,243.1 1974.2,243.9 1974.5,244.7 1974.8,245.6 1975.1,246.4 1975.5,247.2 1975.8,248.1 1976.1,248.9 1976.4,249.7 1976.7,250.5 1977.0,251.4 1977.3,252.2 1977.6,253.0 1977.9,253.9 1978.2,254.7 1978.6,255.5 1978.9,256.3 1979.2,257.2 1979.5,258.0 1979.8,258.8 1980.1,259.6 1980.4,260.5 1980.8,261.3 1981.1,262.1 1981.4,262.9 1981.7,263.8 1982.0,264.6 1982.4,265.4 1982.7,266.2 1983.0,267.0 1983.3,267.9 1983.7,268.7 1984.0,269.5 1984.3,270.3 1984.7,271.1 1985.0,271.9 1985.3,272.8 1985.7,273.6 1986.0,274.4 1986.3,275.2 1986.7,276.0 1987.0,276.8 1987.3,277.7 1987.7,278.5 1988.0,279.3 1988.3,280.1 1988.7,280.9 1989.0,281.7 1989.4,282.5 1989.7,283.4 1990.0,284.2 1990.4,285.0 1990.7,285.8 1991.0,286.6 1991.4,287.4 1991.7,288.3 1992.0,289.1 1992.4,289.9 1992.7,290.7 1993.0,291.5 1993.3,292.3 1993.7,293.2 1994.0,294.0 1994.3,294.8 1994.6,295.6 1995.0,296.4 1995.3,297.3 1995.6,298.1 1995.9,298.9 1996.2,299.7 1996.6,300.5 1996.9,301.4 1997.2,302.2 1997.5,303.0 1997.8,303.8 1998.1,304.7 1998.4,305.5 1998.7,306.3 1999.0,307.1 1999.3,308.0 1999.6,308.8 1999.9,309.6 2000.2,310.5 2000.4,311.3 2000.7,312.1 2001.0,313.0 2001.3,313.8 2001.6,314.6 2001.8,315.5 2002.1,316.3 2002.4,317.1 2002.6,318.0 2002.9,318.8 2003.2,319.7 2003.4,320.5 2003.7,321.3 2003.9,322.2 2004.2,323.0 2004.4,323.9 2004.7,324.7 2004.9,325.6 2005.2,326.4 2005.4,327.2 2005.7,328.1 2005.9,328.9 2006.2,329.8 2006.4,330.6 2006.7,331.5 2006.9,332.3 2007.2,333.2 2007.4,334.0 2007.6,334.9 2007.9,335.7 2008.1,336.6 2008.4,337.4 2008.6,338.3 2008.8,339.1 2009.1,340.0 2009.3,340.8 2009.6,341.7 2009.8,342.5 2010.1,343.4 2010.3,344.2 2010.5,345.1 2010.8,345.9 2011.0,346.8 2011.3,347.6 2011.5,348.4 2011.8,349.3 2012.0,350.1 2012.3,351.0 2012.5,351.8 2012.8,352.7 2013.0,353.5 2013.3,354.4 2013.5,355.2 2013.8,356.0 2014.0,356.9 2014.3,357.7 2014.6,358.6 2014.8,359.4 2015.1,360.2 2015.4,361.1 2015.6,361.9 2015.9,362.8 2016.2,363.6 2016.5,364.4 2016.7,365.3 2017.0,366.1 2017.3,366.9 2017.6,367.8 2017.9,368.6 2018.2,369.4 2018.5,370.2 2018.8,371.1 2019.1,371.9 2019.4,372.7 2019.7,373.5 2020.0,374.4 2020.3,375.2 2020.6,376.0 2021.0,376.8 2021.3,377.7 2021.6,378.5 2021.9,379.3 2022.2,380.1 2022.6,380.9 2022.9,381.8 2023.2,382.6 2023.5,383.4 2023.8,384.2 2024.2,385.0 2024.5,385.9 2024.8,386.7 2025.1,387.5 2025.5,388.3 2025.8,389.1 2026.1,390.0 2026.4,390.8 2026.8,391.6 2027.1,392.4 2027.4,393.2 2027.7,394.1 2028.0,394.9 2028.4,395.7 2028.7,396.5 2029.0,397.3 2029.3,398.2 2029.6,399.0 2029.9,399.8 2030.2,400.6 2030.5,401.5 2030.9,402.3 2031.2,403.1 2031.5,403.9 2031.8,404.8 2032.1,405.6 2032.4,406.4 2032.7,407.2 2033.0,408.1 2033.3,408.9 2033.6,409.7 2033.9,410.6 2034.2,411.4 2034.5,412.2 2034.8,413.0 2035.1,413.9 2035.4,414.7 2035.7,415.5 2036.0,416.3 2036.3,417.2 2036.6,418.0 2036.9,418.8 2037.2,419.7 2037.5,420.5 2037.8,421.3 2038.1,422.1 2038.4,423.0 2038.7,423.8 2039.0,424.6 2039.3,425.5 2039.6,426.3 2039.9,427.1 2040.2,427.9 2040.5,428.8 2040.8,429.6 2041.1,430.4 2041.4,431.3 2041.7,432.1 2042.0,432.9 2042.3,433.7 2042.6,434.6 2042.9,435.4 2043.2,436.2 2043.5,437.1 2043.8,437.9 2044.1,438.7 2044.4,439.5 2044.7,440.4 2045.0,441.2 2045.3,442.0 2045.6,442.9 2045.9,443.7 2046.2,444.5 2046.5,445.3 2046.8,446.2 2047.1,447.0 2047.4,447.8 2047.7,448.7 2048.0,449.5 2048.3,450.3 2048.6,451.1 2048.9,452.0 2049.2,452.8 2049.5,453.6 2049.8,454.4 2050.1,455.3 2050.4,456.1 2050.7,456.9 2051.0,457.8 2051.3,458.6 2051.6,459.4 2051.9,460.2 2052.2,461.1 2052.5,461.9 2052.8,462.7 2053.1,463.6 2053.4,464.4 2053.7,465.2 2054.0,466.1 2054.3,466.9 2054.6,467.7 2054.9,468.5 2055.2,469.4 2055.5,470.2 2055.8,471.0 2056.1,471.9 2056.4,472.7 2056.6,473.5 2056.9,474.3 2057.2,475.2 2057.5,476.0 2057.8,476.8 2058.1,477.7 2058.4,478.5 2058.7,479.3 2059.0,480.2 2059.3,481.0 2059.6,481.8 2059.9,482.6 2060.2,483.5 2060.5,484.3 2060.8,485.1 2061.1,486.0 2061.4,486.8 2061.7,487.6 2062.0,488.4 2062.3,489.3 2062.6,490.1 2062.9,490.9 2063.2,491.8 2063.5,492.6 2063.8,493.4 2064.1,494.3 2064.4,495.1 2064.7,495.9 2065.0,496.7 2065.3,497.6 2065.6,498.4 2065.9,499.2 2066.2,500.1 2066.5,500.9 2066.8,501.7 2067.1,502.5 2067.4,503.4 2067.7,504.2 2068.0,505.0 2068.3,505.8 2068.6,506.7 2068.9,507.5 2069.2,508.3 2069.5,509.2 2069.8,510.0 2070.1,510.8 2070.4,511.6 2070.7,512.5 2071.0,513.3 2071.3,514.1 2071.6,514.9 2071.9,515.8 2072.2,516.6 2072.5,517.4 2072.8,518.2 2073.1,519.1 2073.5,519.9 2073.8,520.7 2074.1,521.5 2074.4,522.4 2074.7,523.2 2075.0,524.0 2075.3,524.8 2075.6,525.7 2075.9,526.5 2076.2,527.3 2076.6,528.1 2076.9,529.0 2077.2,529.8 2077.5,530.6 2077.8,531.4 2078.1,532.2 2078.4,533.1 2078.8,533.9 2079.1,534.7 2079.4,535.5 2079.7,536.4 2080.0,537.2 2080.3,538.0 2080.6,538.8 2081.0,539.6 2081.3,540.5 2081.6,541.3 2081.9,542.1 2082.2,542.9 2082.6,543.8 2082.9,544.6 2083.2,545.4 2083.5,546.2 2083.8,547.0 2084.2,547.9 2084.5,548.7 2084.8,549.5 2085.1,550.3 2085.4,551.1 2085.8,552.0 2086.1,552.8 2086.4,553.6 2086.7,554.4 2087.1,555.2 2087.4,556.1 2087.7,556.9 2088.0,557.7 2088.3,558.5 2088.7,559.3 2089.0,560.2 2089.3,561.0 2089.6,561.8 2089.9,562.6 2090.3,563.4 2090.6,564.3 2090.9,565.1 2091.2,565.9 2091.6,566.7 2091.9,567.5 2092.2,568.4 2092.5,569.2 2092.9,570.0 2093.2,570.8 2093.5,571.6 2093.8,572.4 2094.2,573.3 2094.5,574.1 2094.8,574.9 2095.2,575.7 2095.5,576.5 2095.8,577.3 2096.2,578.2 2096.5,579.0 2096.8,579.8 2097.2,580.6 2097.5,581.4 2097.8,582.2 2098.2,583.0 2098.5,583.9 2098.9,584.7 2099.2,585.5 2099.5,586.3 2099.9,587.1 2100.2,587.9 2100.6,588.7 2100.9,589.5 2101.3,590.3 2101.6,591.1 2102.0,592.0 2102.3,592.8 2102.7,593.6 2103.0,594.4 2103.4,595.2 2103.8,596.0 2104.1,596.8 2104.5,597.6 2104.8,598.4 2105.2,599.2 2105.6,600.0 2105.9,600.8 2106.3,601.6 2106.7,602.4 2107.0,603.2 2107.4,604.0 2107.8,604.8 2108.1,605.6 2108.5,606.4 2108.9,607.2 2109.3,608.0 2109.6,608.8 2110.0,609.6 2110.4,610.4 2110.8,611.2 2111.2,612.0 2111.5,612.8 2111.9,613.6 2112.3,614.4 2112.7,615.1 2113.1,615.9 2113.4,616.7 2113.8,617.5 2114.2,618.3 2114.6,619.1 2115.0,619.9 2115.4,620.7 2115.8,621.5 2116.2,622.3 2116.5,623.1 2116.9,623.9 2117.3,624.6 2117.7,625.4 2118.1,626.2 2118.5,627.0 2118.9,627.8 2119.3,628.6 2119.7,629.4 2120.1,630.2 2120.5,630.9 2120.9,631.7 2121.3,632.5 2121.7,633.3 2122.0,634.1 2122.4,634.9 2122.8,635.7 2123.2,636.5 2123.6,637.3 2124.0,638.1 2124.4,638.9 2124.8,639.7 2125.2,640.5 2125.6,641.2 2126.0,642.0 2126.4,642.8 2126.8,643.6 2127.2,644.4 2127.6,645.2 2128.0,646.0 2128.4,646.8 2128.8,647.6 2129.2,648.3 2129.6,649.1 2130.0,649.9 2130.4,650.7 2130.8,651.5 2131.2,652.2 2131.7,653.0 2132.1,653.8 2132.5,654.5 2133.0,655.3 2133.4,656.1 2133.8,656.8 2134.3,657.6 2134.7,658.3 2135.2,659.1 2135.6,659.8 2136.1,660.6 2136.6,661.3 2137.0,662.0 2137.5,662.8 2138.0,663.5 2138.5,664.2 2139.0,665.0 2139.5,665.7 2139.9,666.4 2140.5,667.1 2141.0,667.9 2141.5,668.6 2142.0,669.3 2142.5,670.0 2143.0,670.7 2143.6,671.5 2144.1,672.2 2144.6,672.9 2145.2,673.6 2145.7,674.3 2146.3,675.0 2146.8,675.7 2147.4,676.4 2147.9,677.1 2148.5,677.7 2149.1,678.4 2149.7,679.1 2150.2,679.8 2150.8,680.4 2151.4,681.1 2152.0,681.7 2152.6,682.4 2153.2,683.0 2153.7,683.7 2154.3,684.3 2154.9,684.9 2155.5,685.6 2156.2,686.2 2156.8,686.8 2157.4,687.4 2158.0,688.0 2158.7,688.7 2159.3,689.3 2159.9,689.9 2160.6,690.5 2161.2,691.1 2161.9,691.7 2162.6,692.3 2163.2,692.9 2163.9,693.4 2164.6,694.0 2165.2,694.6 2165.9,695.2 2166.6,695.7 2167.3,696.3 2168.0,696.8 2168.7,697.4 2169.4,697.9 2170.1,698.5 2170.8,699.0 2171.5,699.5 2172.2,700.1 2172.9,700.6 2173.6,701.1 2174.4,701.6 2175.1,702.0 2175.8,702.5 2176.5,703.0 2177.3,703.5 2178.0,703.9 2178.7,704.4 2179.5,704.9 2180.3,705.3 2181.0,705.7 2181.8,706.2 2182.6,706.6 2183.3,707.0 2184.1,707.5 2184.9,707.9 2185.7,708.3 2186.4,708.7 2187.2,709.1 2188.0,709.5 2188.8,709.9 2189.6,710.3 2190.4,710.7 2191.2,711.1 2192.0,711.5 2192.8,711.9 2193.6,712.3 2194.4,712.7 2195.1,713.1 2195.9,713.5 2196.7,713.8 2197.5,714.2 2198.3,714.6 2199.1,715.0 2199.9,715.4 2200.7,715.7 2201.5,716.1 2202.3,716.5 2203.1,716.8 2204.0,717.2 2204.8,717.5 2205.6,717.9 2206.4,718.2 2207.2,718.5 2208.0,718.8 2208.9,719.1 2209.7,719.4 2210.5,719.7 2211.4,719.9 2212.2,720.2 2213.0,720.5 2213.9,720.7 2214.7,721.0 2215.5,721.2 2216.4,721.5 2217.2,721.7 2218.1,721.9 2219.0,722.1 2219.8,722.4 2220.7,722.6 2221.5,722.8 2222.4,723.0 2223.3,723.2 2224.1,723.3 2225.0,723.5" fill="none" stroke="#0000ff" stroke-width="4.2" stroke-linejoin="round" stroke-linecap="butt" />
<polyline points="1625.0,722.5 1625.7,722.4 1626.5,722.2 1627.2,722.1 1628.0,721.9 1628.7,721.8 1629.5,721.6 1630.2,721.4 1630.9,721.2 1631.6,721.1 1632.4,720.9 1633.1,720.7 1633.8,720.5 1634.5,720.2 1635.3,720.0 1636.0,719.8 1636.7,719.6 1637.4,719.4 1638.1,719.1 1638.8,718.9 1639.5,718.7 1640.2,718.4 1640.9,718.2 1641.6,717.9 1642.3,717.6 1643.0,717.3 1643.7,717.0 1644.4,716.7 1645.1,716.4 1645.8,716.1 1646.5,715.8 1647.1,715.5 1647.8,715.1 1648.5,714.8 1649.2,714.4 1649.8,714.1 1650.5,713.7 1651.1,713.4 1651.8,713.0 1652.4,712.7 1653.1,712.3 1653.7,711.9 1654.4,711.6 1655.0,711.2 1655.7,710.8 1656.3,710.4 1657.0,710.0 1657.6,709.6 1658.3,709.2 1658.9,708.8 1659.5,708.4 1660.2,708.0 1660.8,707.5 1661.4,707.1 1662.0,706.7 1662.7,706.3 1663.3,705.9 1663.9,705.4 1664.5,705.0 1665.1,704.6 1665.7,704.1 1666.4,703.7 1667.0,703.2 1667.6,702.8 1668.2,702.4 1668.8,701.9 1669.4,701.5 1670.0,701.0 1670.6,700.6 1671.2,700.1 1671.8,699.7 1672.4,699.2 1672.9,698.7 1673.5,698.3 1674.1,697.8 1674.7,697.3 1675.3,696.9 1675.9,696.4 1676.4,695.9 1677.0,695.4 1677.6,694.9 1678.2,694.4 1678.7,693.9 1679.3,693.4 1679.9,693.0 1680.4,692.5 1681.0,692.0 1681.6,691.5 1682.1,690.9 1682.7,690.4 1683.2,689.9 1683.8,689.4 1684.3,688.9 1684.9,688.4 1685.4,687.9 1686.0,687.4 1686.5,686.8 1687.1,686.3 1687.6,685.8 1688.2,685.3 1688.7,684.8 1689.2,684.2 1689.8,683.7 1690.3,683.2 1690.8,682.7 1691.4,682.1 1691.9,681.6 1692.4,681.1 1693.0,680.5 1693.5,680.0 1694.0,679.5 1694.5,678.9 1695.1,678.4 1695.6,677.8 1696.1,677.3 1696.6,676.7 1697.1,676.2 1697.6,675.6 1698.2,675.1 1698.7,674.5 1699.2,674.0 1699.7,673.4 1700.2,672.8 1700.7,672.3 1701.2,671.7 1701.6,671.1 1702.1,670.6 1702.6,670.0 1703.1,669.4 1703.6,668.8 1704.0,668.2 1704.5,667.7 1704.9,667.1 1705.4,666.5 1705.9,665.9 1706.3,665.3 1706.7,664.7 1707.2,664.1 1707.6,663.5 1708.1,662.9 1708.5,662.3 1708.9,661.6 1709.3,661.0 1709.8,660.4 1710.2,659.8 1710.6,659.2 1711.0,658.5 1711.4,657.9 1711.9,657.3 1712.3,656.7 1712.7,656.0 1713.1,655.4 1713.5,654.8 1713.9,654.1 1714.3,653.5 1714.7,652.8 1715.1,652.2 1715.5,651.6 1715.9,650.9 1716.3,650.3 1716.7,649.6 1717.1,649.0 1717.5,648.4 1717.9,647.7 1718.3,647.1 1718.7,646.4 1719.1,645.8 1719.4,645.1 1719.8,644.5 1720.2,643.9 1720.6,643.2 1721.0,642.6 1721.4,641.9 1721.8,641.3 1722.2,640.7 1722.6,640.0 1723.0,639.4 1723.4,638.8 1723.8,638.1 1724.2,637.5 1724.6,636.8 1725.0,636.2 1725.4,635.6 1725.7,634.9 1726.1,634.3 1726.5,633.6 1726.9,633.0 1727.3,632.3 1727.7,631.7 1728.1,631.1 1728.5,630.4 1728.9,629.8 1729.2,629.1 1729.6,628.5 1730.0,627.8 1730.4,627.2 1730.8,626.5 1731.2,625.9 1731.5,625.2 1731.9,624.6 1732.3,624.0 1732.7,623.3 1733.1,622.7 1733.5,622.0 1733.8,621.4 1734.2,620.7 1734.6,620.1 1735.0,619.4 1735.3,618.8 1735.7,618.1 1736.1,617.5 1736.5,616.8 1736.8,616.2 1737.2,615.5 1737.6,614.9 1738.0,614.2 1738.3,613.5 1738.7,612.9 1739.1,612.2 1739.4,611.6 1739.8,610.9 1740.2,610.3 1740.5,609.6 1740.9,609.0 1741.3,608.3 1741.6,607.7 1742.0,607.0 1742.4,606.3 1742.7,605.7 1743.1,605.0 1743.4,604.4 1743.8,603.7 1744.2,603.0 1744.5,602.4 1744.9,601.7 1745.2,601.1 1745.6,600.4 1745.9,599.7 1746.3,599.1 1746.6,598.4 1746.9,597.7 1747.3,597.1 1747.6,596.4 1748.0,595.7 1748.3,595.1 1748.7,594.4 1749.0,593.7 1749.3,593.0 1749.7,592.4 1750.0,591.7 1750.4,591.0 1750.7,590.4 1751.1,589.7 1751.4,589.0 1751.7,588.4 1752.1,587.7 1752.4,587.0 1752.8,586.4 1753.1,585.7 1753.5,585.0 1753.8,584.4 1754.2,583.7 1754.5,583.0 1754.9,582.4 1755.2,581.7 1755.6,581.0 1755.9,580.4 1756.3,579.7 1756.6,579.0 1757.0,578.4 1757.3,577.7 1757.7,577.1 1758.1,576.4 1758.4,575.8 1758.8,575.1 1759.1,574.4 1759.5,573.8 1759.9,573.1 1760.2,572.5 1760.6,571.8 1761.0,571.2 1761.4,570.5 1761.7,569.9 1762.1,569.2 1762.5,568.6 1762.8,567.9 1763.2,567.3 1763.6,566.6 1764.0,566.0 1764.4,565.3 1764.7,564.7 1765.1,564.0 1765.5,563.4 1765.9,562.7 1766.2,562.1 1766.6,561.4 1767.0,560.8 1767.4,560.1 1767.8,559.5 1768.1,558.8 1768.5,558.2 1768.9,557.5 1769.3,556.9 1769.7,556.2 1770.1,555.6 1770.4,554.9 1770.8,554.3 1771.2,553.7 1771.6,553.0 1772.0,552.4 1772.4,551.7 1772.8,551.1 1773.1,550.4 1773.5,549.8 1773.9,549.2 1774.3,548.5 1774.7,547.9 1775.1,547.2 1775.5,546.6 1775.9,546.0 1776.3,545.3 1776.7,544.7 1777.1,544.0 1777.5,543.4 1777.9,542.8 1778.3,542.1 1778.7,541.5 1779.1,540.8 1779.4,540.2 1779.8,539.6 1780.2,538.9 1780.6,538.3 1781.0,537.6 1781.4,537.0 1781.8,536.3 1782.2,535.7 1782.6,535.1 1782.9,534.4 1783.3,533.8 1783.7,533.1 1784.1,532.5 1784.5,531.8 1784.8,531.2 1785.2,530.5 1785.6,529.9 1785.9,529.2 1786.3,528.6 1786.7,527.9 1787.1,527.3 1787.4,526.6 1787.8,525.9 1788.2,525.3 1788.5,524.6 1788.9,524.0 1789.2,523.3 1789.6,522.7 1790.0,522.0 1790.3,521.3 1790.7,520.7 1791.1,520.0 1791.4,519.4 1791.8,518.7 1792.1,518.1 1792.5,517.4 1792.9,516.7 1793.2,516.1 1793.6,515.4 1793.9,514.8 1794.3,514.1 1794.7,513.4 1795.0,512.8 1795.4,512.1 1795.7,511.5 1796.1,510.8 1796.5,510.1 1796.8,509.5 1797.2,508.8 1797.6,508.2 1797.9,507.5 1798.3,506.9 1798.7,506.2 1799.0,505.5 1799.4,504.9 1799.7,504.2 1800.1,503.6 1800.5,502.9 1800.8,502.3 1801.2,501.6 1801.6,500.9 1801.9,500.3 1802.3,499.6 1802.7,499.0 1803.0,498.3 1803.4,497.7 1803.7,497.0 1804.1,496.3 1804.4,495.7 1804.8,495.0 1805.2,494.4 1805.5,493.7 1805.9,493.0 1806.2,492.4 1806.6,491.7 1806.9,491.0 1807.3,490.4 1807.6,489.7 1808.0,489.0 1808.3,488.4 1808.7,487.7 1809.0,487.0 1809.4,486.4 1809.7,485.7 1810.0,485.0 1810.4,484.4 1810.7,483.7 1811.1,483.0 1811.4,482.4 1811.7,481.7 1812.1,481.0 1812.4,480.4 1812.8,479.7 1813.1,479.0 1813.4,478.3 1813.8,477.7 1814.1,477.0 1814.4,476.3 1814.8,475.7 1815.1,475.0 1815.4,474.3 1815.8,473.6 1816.1,473.0 1816.4,472.3 1816.8,471.6 1817.1,470.9 1817.4,470.3 1817.7,469.6 1818.1,468.9 1818.4,468.2 1818.7,467.6 1819.1,466.9 1819.4,466.2 1819.7,465.5 1820.0,464.9 1820.4,464.2 1820.7,463.5 1821.0,462.8 1821.3,462.2 1821.7,461.5 1822.0,460.8 1822.3,460.1 1822.7,459.4 1823.0,458.8 1823.3,458.1 1823.6,457.4 1824.0,456.7 1824.3,456.1 1824.6,455.4 1824.9,454.7 1825.3,454.0 1825.6,453.3 1825.9,452.7 1826.2,452.0 1826.6,451.3 1826.9,450.6 1827.2,450.0 1827.5,449.3 1827.9,448.6 1828.2,447.9 1828.5,447.3 1828.8,446.6 1829.2,445.9 1829.5,445.2 1829.8,444.5 1830.1,443.9 1830.5,443.2 1830.8,442.5 1831.1,441.8 1831.4,441.2 1831.8,440.5 1832.1,439.8 1832.4,439.1 1832.7,438.5 1833.1,437.8 1833.4,437.1 1833.7,436.4 1834.0,435.7 1834.4,435.1 1834.7,434.4 1835.0,433.7 1835.3,433.0 1835.6,432.4 1836.0,431.7 1836.3,431.0 1836.6,430.3 1836.9,429.6 1837.2,428.9 1837.6,428.3 1837.9,427.6 1838.2,426.9 1838.5,426.2 1838.8,425.5 1839.1,424.9 1839.5,424.2 1839.8,423.5 1840.1,422.8 1840.4,422.1 1840.7,421.4 1841.0,420.8 1841.3,420.1 1841.7,419.4 1842.0,418.7 1842.3,418.0 1842.6,417.4 1842.9,416.7 1843.2,416.0 1843.6,415.3 1843.9,414.6 1844.2,413.9 1844.5,413.3 1844.8,412.6 1845.2,411.9 1845.5,411.2 1845.8,410.5 1846.1,409.9 1846.4,409.2 1846.8,408.5 1847.1,407.8 1847.4,407.2 1847.7,406.5 1848.1,405.8 1848.4,405.1 1848.7,404.4 1849.0,403.8 1849.4,403.1 1849.7,402.4 1850.0,401.8 1850.4,401.1 1850.7,400.4 1851.0,399.7 1851.4,399.1 1851.7,398.4 1852.0,397.7 1852.4,397.1 1852.7,396.4 1853.1,395.7 1853.4,395.1 1853.8,394.4 1854.1,393.7 1854.4,393.1 1854.8,392.4 1855.1,391.7 1855.5,391.1 1855.9,390.4 1856.2,389.8 1856.6,389.1 1856.9,388.4 1857.3,387.8 1857.7,387.1 1858.0,386.5 1858.4,385.8 1858.8,385.2 1859.2,384.5 1859.5,383.9 1859.9,383.2 1860.3,382.6 1860.7,381.9 1861.0,381.3 1861.4,380.6 1861.8,380.0 1862.2,379.3 1862.6,378.7 1863.0,378.0 1863.3,377.4 1863.7,376.8 1864.1,376.1 1864.5,375.5 1864.9,374.8 1865.3,374.2 1865.6,373.5 1866.0,372.9 1866.4,372.2 1866.8,371.6 1867.2,370.9 1867.6,370.3 1867.9,369.6 1868.3,369.0 1868.7,368.3 1869.1,367.7 1869.4,367.0 1869.8,366.4 1870.2,365.7 1870.5,365.1 1870.9,364.4 1871.2,363.7 1871.6,363.1 1872.0,362.4 1872.3,361.8 1872.7,361.1 1873.0,360.4 1873.4,359.8 1873.7,359.1 1874.1,358.4 1874.4,357.8 1874.8,357.1 1875.1,356.4 1875.5,355.8 1875.8,355.1 1876.2,354.4 1876.5,353.8 1876.9,353.1 1877.2,352.4 1877.6,351.8 1878.0,351.1 1878.3,350.5 1878.7,349.8 1879.0,349.1 1879.4,348.5 1879.8,347.8 1880.1,347.2 1880.5,346.5 1880.9,345.9 1881.3,345.2 1881.6,344.6 1882.0,344.0 1882.4,343.3 1882.8,342.7 1883.2,342.0 1883.6,341.4 1884.0,340.8 1884.4,340.1 1884.8,339.5 1885.2,338.8 1885.6,338.2 1886.0,337.6 1886.4,336.9 1886.8,336.3 1887.2,335.7 1887.6,335.0 1888.0,334.4 1888.4,333.8 1888.8,333.1 1889.2,332.5 1889.7,331.9 1890.1,331.2 1890.5,330.6 1890.9,330.0 1891.3,329.4 1891.8,328.7 1892.2,328.1 1892.6,327.5 1893.1,326.9 1893.5,326.3 1893.9,325.7 1894.4,325.1 1894.8,324.5 1895.3,323.8 1895.7,323.2 1896.2,322.6 1896.6,322.0 1897.1,321.5 1897.5,320.9 1898.0,320.3 1898.4,319.7 1898.9,319.1 1899.4,318.5 1899.8,317.9 1900.3,317.3 1900.8,316.8 1901.2,316.2 1901.7,315.6 1902.2,315.0 1902.7,314.4 1903.2,313.8 1903.7,313.2 1904.1,312.7 1904.6,312.1 1905.1,311.5 1905.6,310.9 1906.1,310.4 1906.7,309.8 1907.2,309.2 1907.7,308.7 1908.2,308.1 1908.7,307.6 1909.2,307.0 1909.8,306.5 1910.3,306.0 1910.8,305.4 1911.4,304.9 1911.9,304.4 1912.5,303.9 1913.0,303.4 1913.6,302.9 1914.1,302.5 1914.7,302.0 1915.3,301.5 1915.8,301.1 1916.4,300.6 1917.0,300.1 1917.6,299.6 1918.2,299.1 1918.8,298.7 1919.4,298.2 1920.0,297.7 1920.6,297.2 1921.3,296.8 1921.9,296.3 1922.5,295.9 1923.2,295.4 1923.8,295.0 1924.4,294.5 1925.1,294.1 1925.7,293.7 1926.4,293.3 1927.1,293.0 1927.7,292.6 1928.4,292.3 1929.1,291.9 1929.7,291.6 1930.4,291.4 1931.1,291.1 1931.8,290.9 1932.5,290.6 1933.2,290.5 1933.8,290.3 1934.6,290.1 1935.3,289.9 1936.0,289.7 1936.7,289.6 1937.5,289.4 1938.2,289.3 1939.0,289.1 1939.7,289.0 1940.5,288.9 1941.2,288.8 1942.0,288.7 1942.8,288.6 1943.5,288.5 1944.3,288.5 1945.0,288.5 1945.8,288.5 1946.5,288.5 1947.3,288.6 1948.0,288.6 1948.8,288.7 1949.6,288.8 1950.3,288.8 1951.1,288.9 1951.8,289.0 1952.6,289.1 1953.3,289.2 1954.0,289.3 1954.7,289.5 1955.5,289.6 1956.2,289.7 1956.9,289.9 1957.6,290.1 1958.3,290.3 1959.0,290.5 1959.6,290.7 1960.3,291.0 1961.0,291.3 1961.7,291.6 1962.4,291.9 1963.1,292.2 1963.8,292.6 1964.4,292.9 1965.1,293.3 1965.8,293.7 1966.4,294.1 1967.1,294.5 1967.8,294.9 1968.4,295.3 1969.1,295.7 1969.7,296.2 1970.4,296.6 1971.0,297.1 1971.7,297.5 1972.3,297.9 1972.9,298.4 1973.6,298.8 1974.2,299.3 1974.8,299.7 1975.4,300.2 1976.0,300.6 1976.7,301.1 1977.3,301.5 1977.9,301.9 1978.5,302.3 1979.1,302.8 1979.7,303.2 1980.3,303.6 1980.8,304.1 1981.4,304.6 1982.0,305.0 1982.6,305.5 1983.2,306.0 1983.7,306.5 1984.3,307.0 1984.9,307.4 1985.5,307.9 1986.0,308.5 1986.6,309.0 1987.1,309.5 1987.7,310.0 1988.2,310.5 1988.8,311.0 1989.3,311.6 1989.9,312.1 1990.4,312.6 1991.0,313.2 1991.5,313.7 1992.0,314.3 1992.6,314.8 1993.1,315.4 1993.6,315.9 1994.1,316.5 1994.6,317.0 1995.1,317.6 1995.6,318.1 1996.1,318.7 1996.7,319.2 1997.1,319.8 1997.6,320.3 1998.1,320.9 1998.6,321.5 1999.1,322.0 1999.5,322.6 2000.0,323.2 2000.5,323.8 2000.9,324.4 2001.4,325.0 2001.8,325.6 2002.2,326.2 2002.7,326.8 2003.1,327.4 2003.5,328.1 2004.0,328.7 2004.4,329.3 2004.8,329.9 2005.3,330.5 2005.7,331.2 2006.1,331.8 2006.6,332.4 2007.0,333.0 2007.5,333.6 2007.9,334.2 2008.3,334.9 2008.8,335.5 2009.2,336.1 2009.7,336.7 2010.2,337.2 2010.6,337.8 2011.1,338.4 2011.6,339.0 2012.1,339.6 2012.5,340.1 2013.0,340.7 2013.6,341.2 2014.1,341.8 2014.6,342.3 2015.1,342.9 2015.6,343.4 2016.2,343.9 2016.7,344.5 2017.2,345.0 2017.8,345.5 2018.3,346.1 2018.8,346.6 2019.4,347.1 2019.9,347.7 2020.4,348.2 2021.0,348.7 2021.5,349.3 2022.0,349.8 2022.5,350.4 2023.0,350.9 2023.5,351.5 2024.0,352.0 2024.5,352.6 2025.0,353.2 2025.5,353.7 2025.9,354.3 2026.4,354.9 2026.9,355.5 2027.3,356.1 2027.8,356.7 2028.3,357.2 2028.7,357.8 2029.2,358.4 2029.6,359.0 2030.1,359.6 2030.5,360.2 2031.0,360.8 2031.4,361.4 2031.9,362.0 2032.3,362.6 2032.8,363.2 2033.2,363.9 2033.7,364.5 2034.1,365.1 2034.5,365.7 2035.0,366.3 2035.4,366.9 2035.9,367.5 2036.3,368.1 2036.7,368.7 2037.2,369.4 2037.6,370.0 2038.0,370.6 2038.5,371.2 2038.9,371.8 2039.4,372.4 2039.8,373.0 2040.2,373.6 2040.7,374.3 2041.1,374.9 2041.6,375.5 2042.0,376.1 2042.5,376.7 2042.9,377.3 2043.4,377.9 2043.8,378.5 2044.3,379.1 2044.7,379.7 2045.2,380.3 2045.7,380.9 2046.1,381.4 2046.6,382.0 2047.1,382.6 2047.5,383.2 2048.0,383.8 2048.5,384.4 2048.9,385.0 2049.4,385.5 2049.9,386.1 2050.4,386.7 2050.8,387.3 2051.3,387.9 2051.8,388.5 2052.3,389.0 2052.7,389.6 2053.2,390.2 2053.7,390.8 2054.1,391.4 2054.6,392.0 2055.1,392.6 2055.5,393.1 2056.0,393.7 2056.5,394.3 2056.9,394.9 2057.4,395.5 2057.9,396.1 2058.3,396.7 2058.8,397.3 2059.2,397.9 2059.7,398.5 2060.2,399.1 2060.6,399.7 2061.1,400.3 2061.5,400.9 2062.0,401.4 2062.5,402.0 2062.9,402.6 2063.4,403.2 2063.8,403.8 2064.3,404.4 2064.8,405.0 2065.2,405.6 2065.7,406.2 2066.1,406.8 2066.6,407.4 2067.0,408.0 2067.5,408.6 2067.9,409.2 2068.4,409.8 2068.8,410.4 2069.3,411.0 2069.7,411.6 2070.1,412.3 2070.6,412.9 2071.0,413.5 2071.5,414.1 2071.9,414.7 2072.3,415.3 2072.7,415.9 2073.2,416.5 2073.6,417.2 2074.0,417.8 2074.4,418.4 2074.9,419.0 2075.3,419.6 2075.7,420.3 2076.1,420.9 2076.5,421.5 2076.9,422.1 2077.3,422.8 2077.8,423.4 2078.2,424.0 2078.6,424.7 2079.0,425.3 2079.4,425.9 2079.8,426.6 2080.2,427.2 2080.6,427.8 2081.0,428.5 2081.4,429.1 2081.8,429.8 2082.2,430.4 2082.5,431.0 2082.9,431.7 2083.3,432.3 2083.7,433.0 2084.1,433.6 2084.5,434.2 2084.9,434.9 2085.3,435.5 2085.7,436.2 2086.1,436.8 2086.5,437.4 2086.9,438.1 2087.3,438.7 2087.7,439.4 2088.1,440.0 2088.5,440.6 2088.8,441.3 2089.2,441.9 2089.6,442.6 2090.0,443.2 2090.4,443.8 2090.8,444.5 2091.2,445.1 2091.6,445.8 2091.9,446.4 2092.3,447.1 2092.7,447.7 2093.1,448.4 2093.5,449.0 2093.9,449.7 2094.2,450.3 2094.6,450.9 2095.0,451.6 2095.4,452.2 2095.8,452.9 2096.2,453.5 2096.5,454.2 2096.9,454.8 2097.3,455.5 2097.7,456.1 2098.1,456.8 2098.5,457.4 2098.8,458.1 2099.2,458.7 2099.6,459.3 2100.0,460.0 2100.4,460.6 2100.8,461.3 2101.2,461.9 2101.5,462.6 2101.9,463.2 2102.3,463.9 2102.7,464.5 2103.1,465.1 2103.5,465.8 2103.9,466.4 2104.3,467.1 2104.7,467.7 2105.0,468.4 2105.4,469.0 2105.8,469.6 2106.2,470.3 2106.6,470.9 2107.0,471.6 2107.3,472.2 2107.7,472.9 2108.1,473.5 2108.5,474.2 2108.8,474.8 2109.2,475.5 2109.5,476.2 2109.9,476.8 2110.3,477.5 2110.6,478.1 2111.0,478.8 2111.3,479.5 2111.7,480.1 2112.0,480.8 2112.3,481.5 2112.7,482.1 2113.0,482.8 2113.4,483.5 2113.7,484.1 2114.1,484.8 2114.4,485.5 2114.7,486.2 2115.1,486.8 2115.4,487.5 2115.7,488.2 2116.1,488.9 2116.4,489.5 2116.7,490.2 2117.0,490.9 2117.4,491.6 2117.7,492.2 2118.0,492.9 2118.3,493.6 2118.6,494.3 2118.9,495.0 2119.3,495.7 2119.6,496.3 2119.9,497.0 2120.2,497.7 2120.5,498.4 2120.8,499.1 2121.1,499.8 2121.4,500.5 2121.7,501.2 2121.9,501.9 2122.2,502.6 2122.5,503.3 2122.8,504.0 2123.0,504.7 2123.3,505.4 2123.5,506.1 2123.8,506.8 2124.0,507.5 2124.3,508.2 2124.5,508.9 2124.8,509.6 2125.1,510.3 2125.4,511.0 2125.8,511.6 2126.1,512.3 2126.4,513.0 2126.7,513.6 2127.1,514.3 2127.4,514.9 2127.8,515.6 2128.1,516.3 2128.5,516.9 2128.9,517.6 2129.2,518.2 2129.6,518.9 2130.0,519.5 2130.4,520.2 2130.8,520.8 2131.1,521.4 2131.5,522.1 2131.9,522.7 2132.3,523.4 2132.7,524.0 2133.1,524.6 2133.6,525.3 2134.0,525.9 2134.4,526.5 2134.8,527.2 2135.2,527.8 2135.6,528.4 2136.1,529.1 2136.5,529.7 2136.9,530.3 2137.3,530.9 2137.8,531.6 2138.2,532.2 2138.6,532.8 2139.1,533.4 2139.5,534.0 2139.9,534.7 2140.4,535.3 2140.8,535.9 2141.2,536.5 2141.7,537.2 2142.1,537.8 2142.5,538.4 2142.9,539.0 2143.4,539.6 2143.8,540.2 2144.2,540.9 2144.7,541.5 2145.1,542.1 2145.5,542.7 2145.9,543.3 2146.3,544.0 2146.8,544.6 2147.2,545.2 2147.6,545.8 2148.1,546.4 2148.5,547.0 2148.9,547.6 2149.4,548.2 2149.8,548.8 2150.3,549.5 2150.7,550.1 2151.2,550.7 2151.6,551.3 2152.1,551.9 2152.5,552.5 2153.0,553.1 2153.4,553.7 2153.9,554.3 2154.3,554.9 2154.8,555.5 2155.2,556.1 2155.7,556.7 2156.1,557.3 2156.6,557.9 2157.0,558.5 2157.5,559.1 2157.9,559.7 2158.4,560.3 2158.8,560.9 2159.3,561.5 2159.8,562.1 2160.2,562.7 2160.7,563.3 2161.1,563.9 2161.6,564.5 2162.0,565.1 2162.5,565.7 2162.9,566.3 2163.4,566.9 2163.8,567.5 2164.3,568.1 2164.7,568.7 2165.2,569.3 2165.6,569.9 2166.1,570.5 2166.6,571.1 2167.0,571.7 2167.5,572.3 2167.9,572.8 2168.4,573.4 2168.8,574.0 2169.3,574.6 2169.8,575.2 2170.2,575.8 2170.7,576.4 2171.1,577.0 2171.6,577.6 2172.1,578.2 2172.5,578.8 2173.0,579.4 2173.4,580.0 2173.9,580.6 2174.3,581.2 2174.8,581.8 2175.2,582.4 2175.6,583.0 2176.1,583.6 2176.5,584.3 2176.9,584.9 2177.3,585.5 2177.8,586.1 2178.2,586.7 2178.6,587.4 2179.0,588.0 2179.4,588.6 2179.8,589.3 2180.2,589.9 2180.6,590.5 2181.0,591.2 2181.4,591.8 2181.8,592.4 2182.2,593.1 2182.6,593.7 2183.0,594.4 2183.4,595.0 2183.7,595.7 2184.1,596.3 2184.5,596.9 2184.9,597.6 2185.3,598.2 2185.7,598.9 2186.1,599.5 2186.5,600.2 2186.8,600.8 2187.2,601.5 2187.6,602.1 2188.0,602.7 2188.4,603.4 2188.8,604.0 2189.2,604.7 2189.6,605.3 2190.0,605.9 2190.4,606.6 2190.8,607.2 2191.2,607.9 2191.6,608.5 2192.0,609.1 2192.4,609.8 2192.8,610.4 2193.2,611.0 2193.6,611.7 2194.0,612.3 2194.4,612.9 2194.8,613.6 2195.2,614.2 2195.6,614.8 2196.0,615.4 2196.5,616.1 2196.9,616.7 2197.3,617.3 2197.7,618.0 2198.1,618.6 2198.5,619.2 2198.9,619.9 2199.3,620.5 2199.7,621.1 2200.1,621.8 2200.5,622.4 2200.9,623.1 2201.3,623.7 2201.7,624.3 2202.1,625.0 2202.5,625.6 2202.8,626.3 2203.2,626.9 2203.6,627.5 2204.0,628.2 2204.3,628.8 2204.7,629.5 2205.1,630.2 2205.4,630.8 2205.8,631.5 2206.2,632.1 2206.5,632.8 2206.9,633.4 2207.2,634.1 2207.6,634.8 2207.9,635.4 2208.3,636.1 2208.6,636.8 2209.0,637.4 2209.3,638.1 2209.6,638.8 2210.0,639.4 2210.3,640.1 2210.6,640.8 2211.0,641.5 2211.3,642.1 2211.6,642.8 2212.0,643.5 2212.3,644.2 2212.6,644.8 2212.9,645.5 2213.3,646.2 2213.6,646.9 2213.9,647.5 2214.3,648.2 2214.6,648.9 2214.9,649.6 2215.2,650.3 2215.6,650.9 2215.9,651.6 2216.2,652.3 2216.5,653.0 2216.9,653.6 2217.2,654.3 2217.5,655.0 2217.9,655.7 2218.2,656.3 2218.5,657.0 2218.8,657.7 2219.2,658.4 2219.5,659.0 2219.9,659.7 2220.2,660.4 2220.5,661.1 2220.9,661.7 2221.2,662.4 2221.5,663.1 2221.8,663.8 2222.2,664.4 2222.5,665.1 2222.8,665.8 2223.1,666.5 2223.5,667.2 2223.8,667.9 2224.1,668.5 2224.4,669.2 2224.8,669.9 2225.1,670.6 2225.4,671.3 2225.7,672.0 2226.0,672.7 2226.4,673.3 2226.7,674.0 2227.0,674.7 2227.3,675.4 2227.7,676.1 2228.0,676.7 2228.3,677.4 2228.7,678.1 2229.0,678.8 2229.3,679.4 2229.7,680.1 2230.0,680.8 2230.4,681.4 2230.7,682.1 2231.1,682.8 2231.4,683.4 2231.8,684.1 2232.1,684.7 2232.5,685.4 2232.9,686.0 2233.3,686.7 2233.6,687.3 2234.0,687.9 2234.4,688.6 2234.8,689.2 2235.2,689.8 2235.6,690.4 2236.0,691.1 2236.4,691.7 2236.9,692.3 2237.3,692.9 2237.7,693.5 2238.2,694.1 2238.6,694.8 2239.1,695.4 2239.5,696.0 2240.0,696.6 2240.5,697.2 2240.9,697.8 2241.4,698.4 2241.9,698.9 2242.4,699.5 2242.9,700.1 2243.4,700.7 2243.9,701.2 2244.4,701.8 2244.9,702.3 2245.4,702.9 2245.9,703.4 2246.4,703.9 2247.0,704.5 2247.5,705.0 2248.0,705.5 2248.6,706.0 2249.1,706.5 2249.7,707.0 2250.3,707.5 2250.8,708.0 2251.4,708.5 2252.0,709.0 2252.6,709.4 2253.2,709.9 2253.8,710.4 2254.4,710.8 2255.0,711.3 2255.6,711.7 2256.3,712.2 2256.9,712.6 2257.5,713.0 2258.1,713.4 2258.8,713.8 2259.4,714.2 2260.1,714.5 2260.7,714.9 2261.3,715.2 2262.0,715.6 2262.7,716.0 2263.3,716.3 2264.0,716.7 2264.7,717.0 2265.4,717.3 2266.1,717.7 2266.7,718.0 2267.4,718.3 2268.1,718.6 2268.8,718.9 2269.5,719.2 2270.2,719.4 2271.0,719.7 2271.7,720.0 2272.4,720.2 2273.1,720.4 2273.8,720.7 2274.5,720.9 2275.2,721.1 2275.9,721.2 2276.7,721.4 2277.4,721.6 2278.1,721.8 2278.8,722.0 2279.6,722.1 2280.3,722.3 2281.0,722.4 2281.8,722.6 2282.5,722.7 2283.2,722.9 2284.0,723.0 2284.7,723.1 2285.5,723.3 2286.2,723.4 2287.0,723.5 2287.7,723.6 2288.5,723.7 2289.2,723.7 2290.0,723.8" fill="none" stroke="#000000" stroke-width="4.6" stroke-linejoin="round" stroke-linecap="butt" stroke-dasharray="23.0 27.0" stroke-dashoffset="5.3"/>
<polyline points="1590.0,722.5 1590.8,722.4 1591.5,722.4 1592.3,722.3 1593.0,722.2 1593.8,722.2 1594.5,722.1 1595.3,722.0 1596.0,721.9 1596.8,721.8 1597.5,721.7 1598.3,721.6 1599.0,721.5 1599.7,721.4 1600.5,721.2 1601.2,721.1 1602.0,721.0 1602.7,720.9 1603.5,720.8 1604.2,720.6 1604.9,720.5 1605.7,720.3 1606.4,720.2 1607.1,720.1 1607.9,719.9 1608.6,719.8 1609.3,719.6 1610.1,719.5 1610.8,719.3 1611.5,719.2 1612.3,719.0 1613.0,718.8 1613.7,718.6 1614.4,718.4 1615.2,718.2 1615.9,718.0 1616.6,717.8 1617.3,717.6 1618.1,717.4 1618.8,717.2 1619.5,716.9 1620.2,716.7 1620.9,716.5 1621.6,716.2 1622.4,716.0 1623.1,715.7 1623.8,715.5 1624.5,715.2 1625.2,715.0 1625.9,714.7 1626.6,714.5 1627.3,714.2 1628.0,714.0 1628.7,713.7 1629.4,713.5 1630.2,713.2 1630.9,713.0 1631.6,712.7 1632.3,712.4 1633.0,712.1 1633.7,711.9 1634.4,711.6 1635.1,711.3 1635.8,711.0 1636.5,710.7 1637.2,710.5 1637.9,710.2 1638.6,709.9 1639.2,709.6 1639.9,709.3 1640.6,709.0 1641.3,708.7 1642.0,708.4 1642.7,708.0 1643.4,707.7 1644.1,707.4 1644.7,707.1 1645.4,706.8 1646.1,706.4 1646.8,706.1 1647.5,705.8 1648.1,705.5 1648.8,705.1 1649.5,704.8 1650.1,704.4 1650.8,704.1 1651.4,703.7 1652.1,703.4 1652.8,703.0 1653.4,702.7 1654.1,702.3 1654.7,701.9 1655.4,701.6 1656.0,701.2 1656.7,700.8 1657.3,700.4 1658.0,700.0 1658.6,699.6 1659.3,699.3 1659.9,698.9 1660.6,698.5 1661.2,698.0 1661.8,697.6 1662.5,697.2 1663.1,696.8 1663.7,696.4 1664.4,696.0 1665.0,695.6 1665.6,695.1 1666.2,694.7 1666.9,694.3 1667.5,693.8 1668.1,693.4 1668.7,693.0 1669.3,692.5 1669.9,692.1 1670.5,691.6 1671.1,691.2 1671.7,690.7 1672.3,690.3 1672.8,689.8 1673.4,689.3 1674.0,688.9 1674.6,688.4 1675.2,687.9 1675.8,687.4 1676.3,687.0 1676.9,686.5 1677.5,686.0 1678.0,685.5 1678.6,685.0 1679.2,684.5 1679.7,684.0 1680.3,683.5 1680.9,682.9 1681.4,682.4 1682.0,681.9 1682.5,681.4 1683.1,680.9 1683.6,680.4 1684.1,679.8 1684.7,679.3 1685.2,678.8 1685.8,678.2 1686.3,677.7 1686.8,677.2 1687.4,676.7 1687.9,676.1 1688.4,675.6 1688.9,675.1 1689.4,674.5 1690.0,674.0 1690.5,673.4 1691.0,672.9 1691.5,672.3 1692.0,671.8 1692.5,671.2 1693.0,670.7 1693.5,670.1 1694.0,669.5 1694.5,669.0 1695.0,668.4 1695.5,667.8 1696.0,667.3 1696.5,666.7 1697.0,666.1 1697.5,665.5 1698.0,664.9 1698.4,664.4 1698.9,663.8 1699.4,663.2 1699.8,662.6 1700.3,662.0 1700.8,661.4 1701.2,660.8 1701.7,660.2 1702.1,659.6 1702.6,659.0 1703.0,658.4 1703.5,657.8 1703.9,657.2 1704.4,656.6 1704.8,656.0 1705.2,655.4 1705.7,654.8 1706.1,654.2 1706.5,653.5 1706.9,652.9 1707.3,652.3 1707.7,651.7 1708.2,651.0 1708.6,650.4 1709.0,649.8 1709.4,649.1 1709.8,648.5 1710.2,647.9 1710.6,647.2 1711.0,646.6 1711.4,645.9 1711.8,645.3 1712.2,644.6 1712.6,644.0 1713.0,643.4 1713.3,642.7 1713.7,642.1 1714.1,641.4 1714.5,640.8 1714.9,640.1 1715.3,639.5 1715.7,638.9 1716.1,638.2 1716.5,637.6 1716.8,636.9 1717.2,636.3 1717.6,635.6 1718.0,635.0 1718.4,634.4 1718.8,633.7 1719.2,633.1 1719.5,632.4 1719.9,631.8 1720.3,631.1 1720.7,630.5 1721.1,629.8 1721.4,629.2 1721.8,628.5 1722.2,627.9 1722.6,627.2 1722.9,626.5 1723.3,625.9 1723.7,625.2 1724.0,624.6 1724.4,623.9 1724.8,623.3 1725.2,622.6 1725.5,622.0 1725.9,621.3 1726.3,620.6 1726.6,620.0 1727.0,619.3 1727.3,618.7 1727.7,618.0 1728.1,617.3 1728.4,616.7 1728.8,616.0 1729.1,615.4 1729.5,614.7 1729.8,614.0 1730.2,613.4 1730.5,612.7 1730.9,612.0 1731.2,611.4 1731.6,610.7 1731.9,610.0 1732.3,609.4 1732.6,608.7 1733.0,608.0 1733.3,607.4 1733.7,606.7 1734.0,606.0 1734.3,605.4 1734.7,604.7 1735.0,604.0 1735.3,603.4 1735.7,602.7 1736.0,602.0 1736.3,601.3 1736.6,600.7 1737.0,600.0 1737.3,599.3 1737.6,598.6 1737.9,597.9 1738.3,597.3 1738.6,596.6 1738.9,595.9 1739.2,595.2 1739.5,594.5 1739.9,593.9 1740.2,593.2 1740.5,592.5 1740.8,591.8 1741.1,591.1 1741.4,590.4 1741.7,589.8 1742.1,589.1 1742.4,588.4 1742.7,587.7 1743.0,587.0 1743.3,586.3 1743.6,585.7 1743.9,585.0 1744.2,584.3 1744.5,583.6 1744.8,582.9 1745.2,582.2 1745.5,581.5 1745.8,580.9 1746.1,580.2 1746.4,579.5 1746.7,578.8 1747.0,578.1 1747.3,577.4 1747.6,576.7 1747.9,576.1 1748.2,575.4 1748.6,574.7 1748.9,574.0 1749.2,573.3 1749.5,572.6 1749.8,571.9 1750.1,571.3 1750.4,570.6 1750.7,569.9 1751.1,569.2 1751.4,568.5 1751.7,567.8 1752.0,567.2 1752.3,566.5 1752.7,565.8 1753.0,565.1 1753.3,564.4 1753.6,563.8 1753.9,563.1 1754.3,562.4 1754.6,561.7 1754.9,561.0 1755.2,560.4 1755.5,559.7 1755.9,559.0 1756.2,558.3 1756.5,557.6 1756.8,557.0 1757.1,556.3 1757.5,555.6 1757.8,554.9 1758.1,554.2 1758.4,553.6 1758.7,552.9 1759.1,552.2 1759.4,551.5 1759.7,550.8 1760.0,550.2 1760.3,549.5 1760.7,548.8 1761.0,548.1 1761.3,547.4 1761.6,546.8 1762.0,546.1 1762.3,545.4 1762.6,544.7 1762.9,544.0 1763.2,543.4 1763.6,542.7 1763.9,542.0 1764.2,541.3 1764.5,540.7 1764.9,540.0 1765.2,539.3 1765.5,538.6 1765.8,537.9 1766.2,537.3 1766.5,536.6 1766.8,535.9 1767.1,535.2 1767.4,534.5 1767.8,533.9 1768.1,533.2 1768.4,532.5 1768.7,531.8 1769.1,531.2 1769.4,530.5 1769.7,529.8 1770.0,529.1 1770.4,528.4 1770.7,527.8 1771.0,527.1 1771.3,526.4 1771.7,525.7 1772.0,525.1 1772.3,524.4 1772.6,523.7 1773.0,523.0 1773.3,522.3 1773.6,521.7 1773.9,521.0 1774.3,520.3 1774.6,519.6 1774.9,519.0 1775.2,518.3 1775.6,517.6 1775.9,516.9 1776.2,516.2 1776.5,515.6 1776.9,514.9 1777.2,514.2 1777.5,513.5 1777.8,512.8 1778.2,512.2 1778.5,511.5 1778.8,510.8 1779.1,510.1 1779.5,509.5 1779.8,508.8 1780.1,508.1 1780.4,507.4 1780.7,506.7 1781.1,506.1 1781.4,505.4 1781.7,504.7 1782.0,504.0 1782.4,503.3 1782.7,502.7 1783.0,502.0 1783.3,501.3 1783.7,500.6 1784.0,500.0 1784.3,499.3 1784.7,498.6 1785.0,497.9 1785.3,497.2 1785.6,496.6 1786.0,495.9 1786.3,495.2 1786.6,494.5 1787.0,493.9 1787.3,493.2 1787.6,492.5 1788.0,491.8 1788.3,491.2 1788.6,490.5 1789.0,489.8 1789.3,489.2 1789.6,488.5 1790.0,487.8 1790.3,487.2 1790.7,486.5 1791.0,485.8 1791.4,485.1 1791.7,484.5 1792.0,483.8 1792.4,483.2 1792.7,482.5 1793.1,481.8 1793.4,481.2 1793.8,480.5 1794.2,479.8 1794.5,479.2 1794.9,478.5 1795.2,477.9 1795.6,477.2 1795.9,476.5 1796.3,475.9 1796.7,475.2 1797.0,474.6 1797.4,473.9 1797.8,473.3 1798.1,472.6 1798.5,471.9 1798.9,471.3 1799.3,470.6 1799.6,470.0 1800.0,469.3 1800.4,468.7 1800.8,468.0 1801.1,467.4 1801.5,466.7 1801.9,466.1 1802.3,465.4 1802.6,464.8 1803.0,464.1 1803.4,463.5 1803.8,462.8 1804.2,462.2 1804.5,461.5 1804.9,460.9 1805.3,460.2 1805.7,459.6 1806.1,459.0 1806.5,458.3 1806.8,457.7 1807.2,457.0 1807.6,456.4 1808.0,455.7 1808.4,455.1 1808.8,454.4 1809.1,453.8 1809.5,453.1 1809.9,452.5 1810.3,451.8 1810.7,451.2 1811.1,450.5 1811.4,449.9 1811.8,449.2 1812.2,448.6 1812.6,447.9 1813.0,447.3 1813.3,446.6 1813.7,446.0 1814.1,445.3 1814.5,444.7 1814.9,444.0 1815.2,443.4 1815.6,442.7 1816.0,442.1 1816.4,441.4 1816.7,440.8 1817.1,440.1 1817.5,439.5 1817.9,438.8 1818.2,438.2 1818.6,437.5 1819.0,436.9 1819.3,436.2 1819.7,435.6 1820.1,434.9 1820.4,434.2 1820.8,433.6 1821.1,432.9 1821.5,432.3 1821.9,431.6 1822.2,430.9 1822.6,430.3 1823.0,429.6 1823.3,429.0 1823.7,428.3 1824.0,427.6 1824.4,427.0 1824.8,426.3 1825.1,425.7 1825.5,425.0 1825.8,424.3 1826.2,423.7 1826.6,423.0 1826.9,422.4 1827.3,421.7 1827.6,421.0 1828.0,420.4 1828.3,419.7 1828.7,419.1 1829.1,418.4 1829.4,417.7 1829.8,417.1 1830.1,416.4 1830.5,415.7 1830.8,415.1 1831.2,414.4 1831.5,413.8 1831.9,413.1 1832.3,412.4 1832.6,411.8 1833.0,411.1 1833.3,410.4 1833.7,409.8 1834.0,409.1 1834.4,408.4 1834.7,407.8 1835.1,407.1 1835.4,406.5 1835.8,405.8 1836.1,405.1 1836.5,404.5 1836.8,403.8 1837.2,403.1 1837.5,402.5 1837.9,401.8 1838.2,401.1 1838.6,400.5 1838.9,399.8 1839.3,399.1 1839.6,398.5 1840.0,397.8 1840.3,397.1 1840.7,396.5 1841.0,395.8 1841.3,395.1 1841.7,394.5 1842.0,393.8 1842.4,393.1 1842.7,392.5 1843.1,391.8 1843.4,391.1 1843.8,390.5 1844.1,389.8 1844.5,389.1 1844.8,388.5 1845.1,387.8 1845.5,387.1 1845.8,386.4 1846.1,385.8 1846.5,385.1 1846.8,384.4 1847.1,383.7 1847.5,383.1 1847.8,382.4 1848.1,381.7 1848.4,381.0 1848.8,380.3 1849.1,379.7 1849.4,379.0 1849.7,378.3 1850.1,377.6 1850.4,376.9 1850.7,376.3 1851.0,375.6 1851.4,374.9 1851.7,374.2 1852.0,373.6 1852.3,372.9 1852.7,372.2 1853.0,371.5 1853.3,370.9 1853.7,370.2 1854.0,369.5 1854.4,368.8 1854.7,368.2 1855.0,367.5 1855.4,366.8 1855.7,366.2 1856.1,365.5 1856.4,364.8 1856.8,364.2 1857.2,363.5 1857.5,362.9 1857.9,362.2 1858.2,361.6 1858.6,360.9 1859.0,360.3 1859.4,359.6 1859.7,359.0 1860.1,358.3 1860.5,357.6 1860.9,357.0 1861.2,356.3 1861.6,355.7 1862.0,355.0 1862.4,354.4 1862.8,353.7 1863.2,353.1 1863.6,352.4 1864.0,351.8 1864.4,351.2 1864.8,350.5 1865.2,349.9 1865.6,349.2 1866.0,348.6 1866.4,348.0 1866.8,347.3 1867.2,346.7 1867.6,346.1 1868.0,345.5 1868.5,344.8 1868.9,344.2 1869.3,343.6 1869.8,343.0 1870.2,342.4 1870.6,341.8 1871.1,341.2 1871.5,340.6 1872.0,340.0 1872.4,339.4 1872.9,338.8 1873.4,338.2 1873.8,337.7 1874.3,337.1 1874.8,336.5 1875.3,335.9 1875.8,335.3 1876.3,334.7 1876.8,334.2 1877.3,333.6 1877.8,333.0 1878.3,332.5 1878.8,331.9 1879.3,331.3 1879.9,330.8 1880.4,330.3 1880.9,329.7 1881.5,329.2 1882.0,328.7 1882.6,328.2 1883.1,327.7 1883.7,327.3 1884.3,326.8 1884.8,326.3 1885.4,325.9 1886.0,325.5 1886.6,325.0 1887.3,324.6 1887.9,324.2 1888.5,323.8 1889.2,323.4 1889.8,323.0 1890.5,322.6 1891.1,322.2 1891.8,321.8 1892.4,321.4 1893.1,321.1 1893.8,320.7 1894.4,320.3 1895.1,320.0 1895.7,319.6 1896.4,319.2 1897.0,318.9 1897.7,318.5 1898.4,318.2 1899.0,317.8 1899.7,317.5 1900.4,317.2 1901.1,316.8 1901.7,316.5 1902.4,316.2 1903.1,315.9 1903.8,315.5 1904.5,315.2 1905.2,314.9 1905.8,314.6 1906.5,314.3 1907.2,314.0 1907.9,313.7 1908.6,313.3 1909.3,313.0 1910.0,312.7 1910.7,312.4 1911.4,312.1 1912.1,311.9 1912.8,311.6 1913.5,311.4 1914.2,311.2 1914.9,311.0 1915.6,310.9 1916.4,310.7 1917.1,310.5 1917.9,310.4 1918.6,310.2 1919.4,310.1 1920.1,310.0 1920.9,309.8 1921.6,309.7 1922.4,309.6 1923.1,309.6 1923.9,309.5 1924.6,309.5 1925.3,309.5 1926.1,309.5 1926.8,309.6 1927.5,309.7 1928.3,309.9 1929.0,310.1 1929.7,310.3 1930.5,310.5 1931.2,310.7 1931.9,311.0 1932.7,311.3 1933.4,311.5 1934.1,311.8 1934.8,312.1 1935.5,312.4 1936.2,312.7 1936.9,313.0 1937.6,313.2 1938.2,313.5 1938.9,313.8 1939.6,314.1 1940.2,314.5 1940.9,314.8 1941.6,315.1 1942.2,315.5 1942.9,315.9 1943.5,316.2 1944.2,316.6 1944.8,317.0 1945.5,317.4 1946.1,317.9 1946.8,318.3 1947.4,318.7 1948.0,319.1 1948.7,319.6 1949.3,320.0 1949.9,320.5 1950.5,320.9 1951.1,321.4 1951.7,321.8 1952.3,322.3 1952.9,322.8 1953.5,323.2 1954.1,323.7 1954.7,324.2 1955.3,324.6 1955.9,325.1 1956.5,325.6 1957.0,326.0 1957.6,326.5 1958.2,327.0 1958.7,327.5 1959.3,328.0 1959.8,328.5 1960.4,329.0 1960.9,329.5 1961.4,330.0 1962.0,330.5 1962.5,331.1 1963.0,331.6 1963.5,332.1 1964.1,332.7 1964.6,333.2 1965.1,333.8 1965.6,334.3 1966.1,334.9 1966.6,335.5 1967.1,336.0 1967.6,336.6 1968.1,337.2 1968.6,337.7 1969.1,338.3 1969.6,338.9 1970.1,339.5 1970.6,340.0 1971.1,340.6 1971.6,341.2 1972.1,341.7 1972.6,342.3 1973.1,342.9 1973.6,343.4 1974.2,344.0 1974.7,344.5 1975.2,345.1 1975.7,345.6 1976.2,346.2 1976.7,346.7 1977.3,347.3 1977.8,347.8 1978.3,348.3 1978.8,348.9 1979.4,349.4 1979.9,349.9 1980.4,350.5 1981.0,351.0 1981.5,351.5 1982.0,352.1 1982.6,352.6 1983.1,353.1 1983.6,353.6 1984.2,354.2 1984.7,354.7 1985.2,355.2 1985.8,355.8 1986.3,356.3 1986.9,356.8 1987.4,357.4 1987.9,357.9 1988.5,358.4 1989.0,358.9 1989.5,359.5 1990.0,360.0 1990.6,360.5 1991.1,361.1 1991.6,361.6 1992.1,362.2 1992.7,362.7 1993.2,363.2 1993.7,363.8 1994.2,364.3 1994.8,364.9 1995.3,365.4 1995.8,366.0 1996.3,366.5 1996.8,367.0 1997.3,367.6 1997.9,368.1 1998.4,368.7 1998.9,369.2 1999.4,369.8 1999.9,370.3 2000.4,370.9 2000.9,371.4 2001.4,372.0 2002.0,372.5 2002.5,373.1 2003.0,373.6 2003.5,374.2 2004.0,374.7 2004.5,375.3 2005.0,375.8 2005.6,376.4 2006.1,376.9 2006.6,377.5 2007.1,378.0 2007.6,378.5 2008.2,379.1 2008.7,379.6 2009.2,380.2 2009.7,380.7 2010.2,381.3 2010.8,381.8 2011.3,382.3 2011.8,382.9 2012.3,383.4 2012.9,383.9 2013.4,384.5 2013.9,385.0 2014.4,385.6 2015.0,386.1 2015.5,386.6 2016.0,387.2 2016.6,387.7 2017.1,388.2 2017.6,388.8 2018.2,389.3 2018.7,389.8 2019.2,390.4 2019.7,390.9 2020.3,391.4 2020.8,391.9 2021.4,392.5 2021.9,393.0 2022.4,393.5 2023.0,394.0 2023.5,394.6 2024.0,395.1 2024.6,395.6 2025.1,396.1 2025.7,396.6 2026.2,397.2 2026.8,397.7 2027.3,398.2 2027.8,398.8 2028.4,399.3 2028.9,399.8 2029.5,400.3 2030.0,400.9 2030.5,401.4 2031.1,401.9 2031.6,402.5 2032.2,403.0 2032.7,403.5 2033.2,404.1 2033.8,404.6 2034.3,405.1 2034.9,405.6 2035.4,406.2 2036.0,406.7 2036.5,407.2 2037.1,407.7 2037.6,408.2 2038.2,408.7 2038.8,409.2 2039.3,409.7 2039.9,410.2 2040.5,410.7 2041.0,411.2 2041.6,411.7 2042.2,412.1 2042.8,412.6 2043.4,413.1 2043.9,413.5 2044.5,414.0 2045.1,414.4 2045.7,414.8 2046.3,415.2 2047.0,415.7 2047.6,416.1 2048.2,416.4 2048.9,416.8 2049.5,417.2 2050.2,417.6 2050.8,417.9 2051.5,418.3 2052.2,418.6 2052.8,419.0 2053.5,419.3 2054.2,419.7 2054.9,420.1 2055.5,420.4 2056.2,420.8 2056.8,421.1 2057.5,421.5 2058.2,421.9 2058.8,422.3 2059.4,422.6 2060.1,423.0 2060.7,423.5 2061.3,423.9 2062.0,424.3 2062.6,424.7 2063.2,425.1 2063.8,425.5 2064.4,426.0 2065.1,426.4 2065.7,426.8 2066.3,427.2 2066.9,427.7 2067.5,428.1 2068.1,428.6 2068.7,429.0 2069.4,429.4 2070.0,429.9 2070.6,430.3 2071.2,430.8 2071.8,431.2 2072.4,431.7 2073.0,432.2 2073.6,432.6 2074.2,433.1 2074.8,433.5 2075.4,434.0 2076.0,434.5 2076.6,434.9 2077.1,435.4 2077.7,435.9 2078.3,436.4 2078.9,436.8 2079.5,437.3 2080.1,437.8 2080.6,438.3 2081.2,438.8 2081.8,439.2 2082.4,439.7 2082.9,440.2 2083.5,440.7 2084.1,441.2 2084.6,441.7 2085.2,442.2 2085.8,442.7 2086.3,443.2 2086.9,443.7 2087.4,444.2 2088.0,444.7 2088.6,445.2 2089.1,445.7 2089.7,446.2 2090.2,446.7 2090.8,447.2 2091.3,447.8 2091.9,448.3 2092.4,448.8 2093.0,449.3 2093.5,449.9 2094.0,450.4 2094.6,451.0 2095.1,451.5 2095.6,452.0 2096.1,452.6 2096.6,453.1 2097.1,453.7 2097.6,454.2 2098.1,454.8 2098.6,455.4 2099.1,455.9 2099.6,456.5 2100.1,457.1 2100.5,457.7 2101.0,458.2 2101.4,458.8 2101.9,459.4 2102.3,460.0 2102.8,460.6 2103.2,461.2 2103.7,461.8 2104.1,462.4 2104.5,463.0 2105.0,463.7 2105.4,464.3 2105.8,464.9 2106.2,465.5 2106.6,466.2 2107.0,466.8 2107.5,467.4 2107.9,468.1 2108.3,468.7 2108.7,469.3 2109.1,470.0 2109.5,470.6 2109.9,471.3 2110.3,471.9 2110.7,472.5 2111.1,473.2 2111.5,473.8 2111.9,474.5 2112.3,475.1 2112.7,475.8 2113.1,476.4 2113.5,477.0 2113.9,477.7 2114.3,478.3 2114.7,479.0 2115.1,479.6 2115.5,480.2 2115.9,480.9 2116.3,481.5 2116.7,482.1 2117.1,482.8 2117.5,483.4 2117.9,484.0 2118.3,484.7 2118.7,485.3 2119.1,486.0 2119.5,486.6 2119.9,487.2 2120.3,487.9 2120.7,488.5 2121.1,489.2 2121.4,489.8 2121.8,490.5 2122.2,491.1 2122.6,491.7 2123.0,492.4 2123.4,493.0 2123.8,493.7 2124.1,494.3 2124.5,495.0 2124.9,495.6 2125.2,496.3 2125.6,496.9 2126.0,497.6 2126.3,498.3 2126.7,498.9 2127.0,499.6 2127.4,500.2 2127.7,500.9 2128.1,501.6 2128.4,502.3 2128.7,502.9 2129.1,503.6 2129.4,504.3 2129.7,505.0 2130.1,505.6 2130.4,506.3 2130.7,507.0 2131.0,507.7 2131.3,508.4 2131.6,509.0 2132.0,509.7 2132.3,510.4 2132.6,511.1 2132.9,511.8 2133.2,512.5 2133.5,513.2 2133.8,513.8 2134.1,514.5 2134.4,515.2 2134.7,515.9 2135.0,516.6 2135.3,517.3 2135.6,518.0 2135.9,518.7 2136.2,519.4 2136.4,520.1 2136.7,520.8 2137.0,521.5 2137.3,522.2 2137.6,522.9 2137.8,523.6 2138.1,524.3 2138.4,525.1 2138.7,525.8 2139.0,526.5 2139.2,527.2 2139.5,527.9 2139.8,528.6 2140.1,529.3 2140.4,530.0 2140.7,530.7 2140.9,531.4 2141.2,532.1 2141.5,532.7 2141.8,533.4 2142.1,534.1 2142.4,534.8 2142.7,535.5 2143.1,536.2 2143.4,536.8 2143.7,537.5 2144.0,538.2 2144.3,538.9 2144.7,539.5 2145.0,540.2 2145.4,540.8 2145.7,541.5 2146.1,542.1 2146.4,542.8 2146.8,543.4 2147.2,544.0 2147.6,544.7 2148.0,545.3 2148.4,545.9 2148.8,546.5 2149.2,547.2 2149.6,547.8 2150.0,548.4 2150.4,549.0 2150.9,549.6 2151.3,550.2 2151.8,550.8 2152.2,551.4 2152.6,552.0 2153.1,552.6 2153.6,553.2 2154.0,553.8 2154.5,554.4 2154.9,555.0 2155.4,555.6 2155.9,556.2 2156.4,556.8 2156.8,557.4 2157.3,558.0 2157.8,558.6 2158.3,559.2 2158.7,559.8 2159.2,560.4 2159.7,561.0 2160.2,561.6 2160.6,562.1 2161.1,562.7 2161.6,563.3 2162.1,563.9 2162.5,564.5 2163.0,565.1 2163.5,565.7 2163.9,566.3 2164.4,566.9 2164.9,567.5 2165.3,568.1 2165.8,568.7 2166.2,569.3 2166.7,569.9 2167.1,570.5 2167.6,571.1 2168.0,571.7 2168.5,572.3 2169.0,572.9 2169.4,573.5 2169.9,574.1 2170.3,574.7 2170.8,575.3 2171.3,575.9 2171.7,576.5 2172.2,577.1 2172.6,577.7 2173.1,578.3 2173.5,578.8 2174.0,579.4 2174.4,580.1 2174.9,580.7 2175.3,581.3 2175.8,581.9 2176.2,582.5 2176.7,583.1 2177.1,583.7 2177.5,584.3 2178.0,584.9 2178.4,585.5 2178.8,586.2 2179.2,586.8 2179.6,587.4 2180.0,588.0 2180.4,588.7 2180.8,589.3 2181.2,589.9 2181.6,590.6 2182.0,591.2 2182.4,591.9 2182.8,592.5 2183.2,593.1 2183.6,593.8 2184.0,594.4 2184.4,595.1 2184.8,595.7 2185.2,596.4 2185.6,597.0 2185.9,597.6 2186.3,598.3 2186.7,598.9 2187.1,599.6 2187.5,600.2 2187.9,600.9 2188.3,601.5 2188.7,602.2 2189.0,602.8 2189.4,603.5 2189.8,604.1 2190.2,604.7 2190.6,605.4 2191.0,606.0 2191.4,606.7 2191.8,607.3 2192.2,607.9 2192.6,608.6 2193.0,609.2 2193.4,609.8 2193.8,610.5 2194.2,611.1 2194.6,611.7 2195.1,612.4 2195.5,613.0 2195.9,613.6 2196.3,614.3 2196.7,614.9 2197.1,615.5 2197.5,616.2 2197.9,616.8 2198.3,617.4 2198.7,618.1 2199.1,618.7 2199.5,619.3 2199.9,620.0 2200.3,620.6 2200.7,621.2 2201.1,621.9 2201.5,622.5 2201.9,623.1 2202.3,623.8 2202.7,624.4 2203.1,625.1 2203.5,625.7 2203.9,626.3 2204.3,627.0 2204.7,627.6 2205.0,628.3 2205.4,628.9 2205.8,629.6 2206.1,630.2 2206.5,630.9 2206.9,631.6 2207.2,632.2 2207.6,632.9 2207.9,633.5 2208.3,634.2 2208.6,634.9 2209.0,635.5 2209.3,636.2 2209.7,636.9 2210.0,637.5 2210.3,638.2 2210.7,638.9 2211.0,639.5 2211.4,640.2 2211.7,640.9 2212.0,641.6 2212.4,642.2 2212.7,642.9 2213.0,643.6 2213.3,644.3 2213.7,644.9 2214.0,645.6 2214.3,646.3 2214.7,647.0 2215.0,647.7 2215.3,648.3 2215.6,649.0 2216.0,649.7 2216.3,650.4 2216.6,651.1 2216.9,651.7 2217.3,652.4 2217.6,653.1 2217.9,653.8 2218.3,654.4 2218.6,655.1 2218.9,655.8 2219.2,656.5 2219.6,657.1 2219.9,657.8 2220.2,658.5 2220.6,659.2 2220.9,659.8 2221.3,660.5 2221.6,661.2 2221.9,661.9 2222.3,662.5 2222.6,663.2 2222.9,663.9 2223.2,664.6 2223.6,665.3 2223.9,665.9 2224.2,666.6 2224.5,667.3 2224.9,668.0 2225.2,668.7 2225.5,669.4 2225.8,670.1 2226.1,670.7 2226.5,671.4 2226.8,672.1 2227.1,672.8 2227.4,673.5 2227.7,674.2 2228.1,674.8 2228.4,675.5 2228.7,676.2 2229.1,676.9 2229.4,677.6 2229.7,678.2 2230.1,678.9 2230.4,679.6 2230.7,680.3 2231.1,680.9 2231.4,681.6 2231.8,682.2 2232.1,682.9 2232.5,683.6 2232.9,684.2 2233.2,684.9 2233.6,685.5 2234.0,686.2 2234.3,686.8 2234.7,687.4 2235.1,688.1 2235.5,688.7 2235.9,689.3 2236.3,690.0 2236.7,690.6 2237.1,691.2 2237.5,691.8 2238.0,692.4 2238.4,693.1 2238.8,693.7 2239.3,694.3 2239.7,694.9 2240.2,695.5 2240.6,696.1 2241.1,696.7 2241.6,697.3 2242.0,697.9 2242.5,698.5 2243.0,699.1 2243.5,699.7 2244.0,700.2 2244.5,700.8 2245.0,701.4 2245.5,701.9 2246.0,702.5 2246.5,703.0 2247.0,703.5 2247.6,704.1 2248.1,704.6 2248.6,705.1 2249.2,705.6 2249.7,706.1 2250.3,706.6 2250.8,707.1 2251.4,707.6 2252.0,708.1 2252.6,708.6 2253.2,709.1 2253.8,709.6 2254.4,710.0 2255.0,710.5 2255.6,711.0 2256.2,711.4 2256.8,711.8 2257.4,712.3 2258.1,712.7 2258.7,713.1 2259.3,713.5 2260.0,713.9 2260.6,714.3 2261.2,714.6 2261.9,715.0 2262.5,715.3 2263.2,715.7 2263.8,716.1 2264.5,716.4 2265.2,716.8 2265.9,717.1 2266.6,717.4 2267.2,717.8 2267.9,718.1 2268.6,718.4 2269.3,718.7 2270.0,719.0 2270.7,719.3 2271.4,719.5 2272.2,719.8 2272.9,720.1 2273.6,720.3 2274.3,720.5 2275.0,720.7 2275.7,720.9 2276.4,721.1 2277.2,721.3 2277.9,721.5 2278.6,721.6 2279.3,721.8 2280.0,722.0 2280.8,722.1 2281.5,722.3 2282.2,722.4 2283.0,722.6 2283.7,722.7 2284.5,722.9 2285.2,723.0 2285.9,723.1 2286.7,723.2 2287.4,723.3 2288.2,723.4 2289.0,723.5 2289.7,723.6 2290.5,723.7 2291.2,723.7 2292.0,723.8" fill="none" stroke="#ff0000" stroke-width="4.6" stroke-linejoin="round" stroke-linecap="butt" stroke-dasharray="23.0 27.0" stroke-dashoffset="29.0"/>
<polyline points="1600.0,722.5 1600.8,722.4 1601.7,722.2 1602.5,722.1 1603.4,721.9 1604.2,721.7 1605.1,721.6 1605.9,721.4 1606.7,721.2 1607.6,721.0 1608.4,720.8 1609.2,720.6 1610.1,720.4 1610.9,720.2 1611.7,720.0 1612.5,719.8 1613.4,719.6 1614.2,719.4 1615.0,719.1 1615.8,718.9 1616.6,718.7 1617.4,718.4 1618.3,718.2 1619.1,717.9 1619.9,717.7 1620.7,717.4 1621.5,717.2 1622.3,716.9 1623.1,716.6 1623.9,716.4 1624.7,716.1 1625.5,715.8 1626.2,715.5 1627.0,715.2 1627.8,714.9 1628.6,714.5 1629.4,714.2 1630.2,713.9 1631.0,713.5 1631.7,713.2 1632.5,712.8 1633.3,712.5 1634.1,712.1 1634.8,711.7 1635.6,711.4 1636.4,711.0 1637.2,710.6 1637.9,710.2 1638.7,709.8 1639.4,709.4 1640.2,709.1 1641.0,708.7 1641.7,708.3 1642.5,707.9 1643.2,707.5 1644.0,707.1 1644.7,706.7 1645.5,706.3 1646.2,705.9 1647.0,705.5 1647.7,705.1 1648.5,704.7 1649.2,704.2 1649.9,703.8 1650.7,703.4 1651.4,703.0 1652.2,702.6 1652.9,702.1 1653.6,701.7 1654.4,701.2 1655.1,700.8 1655.8,700.3 1656.6,699.9 1657.3,699.4 1658.0,699.0 1658.7,698.5 1659.4,698.1 1660.1,697.6 1660.9,697.1 1661.6,696.6 1662.3,696.2 1663.0,695.7 1663.7,695.2 1664.3,694.7 1665.0,694.2 1665.7,693.7 1666.4,693.2 1667.1,692.7 1667.7,692.2 1668.4,691.7 1669.1,691.2 1669.8,690.6 1670.4,690.1 1671.1,689.6 1671.7,689.0 1672.4,688.5 1673.1,687.9 1673.7,687.4 1674.4,686.8 1675.0,686.3 1675.7,685.7 1676.3,685.2 1676.9,684.6 1677.6,684.0 1678.2,683.4 1678.8,682.9 1679.5,682.3 1680.1,681.7 1680.7,681.1 1681.3,680.5 1682.0,680.0 1682.6,679.4 1683.2,678.8 1683.8,678.2 1684.4,677.6 1685.0,677.0 1685.6,676.4 1686.2,675.8 1686.8,675.2 1687.4,674.6 1688.0,674.0 1688.6,673.4 1689.2,672.8 1689.8,672.1 1690.3,671.5 1690.9,670.9 1691.5,670.3 1692.1,669.6 1692.7,669.0 1693.2,668.4 1693.8,667.7 1694.4,667.1 1694.9,666.5 1695.5,665.8 1696.0,665.2 1696.6,664.5 1697.1,663.9 1697.7,663.2 1698.2,662.5 1698.8,661.9 1699.3,661.2 1699.8,660.5 1700.3,659.9 1700.8,659.2 1701.4,658.5 1701.9,657.9 1702.4,657.2 1702.9,656.5 1703.3,655.8 1703.8,655.1 1704.3,654.4 1704.8,653.7 1705.3,653.0 1705.8,652.3 1706.2,651.6 1706.7,650.9 1707.2,650.2 1707.6,649.4 1708.1,648.7 1708.5,648.0 1709.0,647.3 1709.5,646.6 1709.9,645.8 1710.4,645.1 1710.8,644.4 1711.3,643.7 1711.7,642.9 1712.1,642.2 1712.6,641.5 1713.0,640.8 1713.5,640.0 1713.9,639.3 1714.4,638.6 1714.8,637.9 1715.2,637.1 1715.7,636.4 1716.1,635.7 1716.5,634.9 1717.0,634.2 1717.4,633.5 1717.8,632.7 1718.3,632.0 1718.7,631.3 1719.1,630.5 1719.5,629.8 1719.9,629.0 1720.4,628.3 1720.8,627.6 1721.2,626.8 1721.6,626.1 1722.0,625.3 1722.4,624.6 1722.9,623.8 1723.3,623.1 1723.7,622.4 1724.1,621.6 1724.5,620.9 1724.9,620.1 1725.3,619.4 1725.7,618.6 1726.1,617.9 1726.6,617.1 1727.0,616.4 1727.4,615.6 1727.8,614.9 1728.2,614.1 1728.6,613.4 1729.0,612.7 1729.4,611.9 1729.8,611.2 1730.2,610.4 1730.6,609.7 1731.0,608.9 1731.5,608.2 1731.9,607.4 1732.3,606.7 1732.7,605.9 1733.1,605.2 1733.5,604.4 1733.9,603.7 1734.3,602.9 1734.7,602.2 1735.1,601.5 1735.5,600.7 1735.9,600.0 1736.4,599.2 1736.8,598.5 1737.2,597.7 1737.6,597.0 1738.0,596.2 1738.4,595.5 1738.8,594.7 1739.2,594.0 1739.6,593.2 1740.0,592.5 1740.4,591.7 1740.8,591.0 1741.2,590.2 1741.6,589.5 1742.0,588.7 1742.4,588.0 1742.8,587.2 1743.2,586.5 1743.6,585.7 1744.0,585.0 1744.4,584.2 1744.8,583.4 1745.1,582.7 1745.5,581.9 1745.9,581.2 1746.3,580.4 1746.7,579.7 1747.1,578.9 1747.4,578.1 1747.8,577.4 1748.2,576.6 1748.6,575.8 1748.9,575.1 1749.3,574.3 1749.7,573.5 1750.0,572.8 1750.4,572.0 1750.8,571.2 1751.1,570.5 1751.5,569.7 1751.9,568.9 1752.2,568.2 1752.6,567.4 1752.9,566.6 1753.3,565.8 1753.6,565.1 1754.0,564.3 1754.3,563.5 1754.7,562.8 1755.0,562.0 1755.4,561.2 1755.8,560.4 1756.1,559.6 1756.5,558.9 1756.8,558.1 1757.2,557.3 1757.5,556.5 1757.8,555.8 1758.2,555.0 1758.5,554.2 1758.9,553.4 1759.2,552.7 1759.6,551.9 1759.9,551.1 1760.3,550.3 1760.6,549.6 1761.0,548.8 1761.3,548.0 1761.7,547.2 1762.0,546.5 1762.4,545.7 1762.7,544.9 1763.1,544.1 1763.4,543.3 1763.8,542.6 1764.1,541.8 1764.4,541.0 1764.8,540.2 1765.1,539.4 1765.5,538.7 1765.8,537.9 1766.1,537.1 1766.5,536.3 1766.8,535.6 1767.2,534.8 1767.5,534.0 1767.9,533.2 1768.2,532.4 1768.5,531.7 1768.9,530.9 1769.2,530.1 1769.6,529.3 1769.9,528.6 1770.3,527.8 1770.6,527.0 1771.0,526.2 1771.3,525.5 1771.7,524.7 1772.0,523.9 1772.4,523.1 1772.8,522.4 1773.1,521.6 1773.5,520.8 1773.8,520.1 1774.2,519.3 1774.6,518.5 1774.9,517.8 1775.3,517.0 1775.7,516.2 1776.0,515.4 1776.4,514.7 1776.8,513.9 1777.1,513.2 1777.5,512.4 1777.9,511.6 1778.3,510.9 1778.6,510.1 1779.0,509.3 1779.4,508.6 1779.8,507.8 1780.1,507.0 1780.5,506.3 1780.9,505.5 1781.2,504.7 1781.6,504.0 1782.0,503.2 1782.4,502.4 1782.7,501.7 1783.1,500.9 1783.5,500.1 1783.9,499.4 1784.2,498.6 1784.6,497.8 1785.0,497.1 1785.3,496.3 1785.7,495.5 1786.1,494.8 1786.4,494.0 1786.8,493.3 1787.2,492.5 1787.6,491.7 1787.9,491.0 1788.3,490.2 1788.7,489.4 1789.0,488.7 1789.4,487.9 1789.8,487.1 1790.2,486.4 1790.5,485.6 1790.9,484.8 1791.3,484.1 1791.7,483.3 1792.1,482.6 1792.4,481.8 1792.8,481.0 1793.2,480.3 1793.6,479.5 1793.9,478.7 1794.3,478.0 1794.7,477.2 1795.1,476.4 1795.4,475.7 1795.8,474.9 1796.2,474.2 1796.6,473.4 1796.9,472.6 1797.3,471.9 1797.7,471.1 1798.1,470.3 1798.4,469.6 1798.8,468.8 1799.2,468.0 1799.5,467.3 1799.9,466.5 1800.3,465.7 1800.7,465.0 1801.0,464.2 1801.4,463.4 1801.8,462.7 1802.1,461.9 1802.5,461.1 1802.9,460.4 1803.2,459.6 1803.6,458.8 1804.0,458.1 1804.3,457.3 1804.7,456.5 1805.1,455.8 1805.4,455.0 1805.8,454.2 1806.1,453.5 1806.5,452.7 1806.9,451.9 1807.2,451.1 1807.6,450.4 1807.9,449.6 1808.3,448.8 1808.6,448.0 1809.0,447.3 1809.3,446.5 1809.7,445.7 1810.0,444.9 1810.4,444.2 1810.7,443.4 1811.1,442.6 1811.4,441.8 1811.7,441.1 1812.1,440.3 1812.4,439.5 1812.8,438.7 1813.1,437.9 1813.4,437.2 1813.8,436.4 1814.1,435.6 1814.4,434.8 1814.8,434.0 1815.1,433.3 1815.4,432.5 1815.8,431.7 1816.1,430.9 1816.4,430.1 1816.8,429.3 1817.1,428.5 1817.4,427.8 1817.7,427.0 1818.1,426.2 1818.4,425.4 1818.7,424.6 1819.0,423.8 1819.4,423.0 1819.7,422.3 1820.0,421.5 1820.3,420.7 1820.7,419.9 1821.0,419.1 1821.3,418.3 1821.6,417.5 1822.0,416.7 1822.3,416.0 1822.6,415.2 1822.9,414.4 1823.2,413.6 1823.6,412.8 1823.9,412.0 1824.2,411.2 1824.5,410.4 1824.8,409.7 1825.2,408.9 1825.5,408.1 1825.8,407.3 1826.1,406.5 1826.4,405.7 1826.8,404.9 1827.1,404.1 1827.4,403.3 1827.7,402.6 1828.0,401.8 1828.4,401.0 1828.7,400.2 1829.0,399.4 1829.3,398.6 1829.7,397.8 1830.0,397.0 1830.3,396.3 1830.6,395.5 1830.9,394.7 1831.3,393.9 1831.6,393.1 1831.9,392.3 1832.2,391.5 1832.6,390.7 1832.9,390.0 1833.2,389.2 1833.5,388.4 1833.8,387.6 1834.1,386.8 1834.5,386.0 1834.8,385.2 1835.1,384.4 1835.4,383.6 1835.7,382.9 1836.1,382.1 1836.4,381.3 1836.7,380.5 1837.0,379.7 1837.3,378.9 1837.6,378.1 1838.0,377.3 1838.3,376.5 1838.6,375.8 1838.9,375.0 1839.2,374.2 1839.5,373.4 1839.9,372.6 1840.2,371.8 1840.5,371.0 1840.8,370.2 1841.1,369.4 1841.4,368.6 1841.8,367.9 1842.1,367.1 1842.4,366.3 1842.7,365.5 1843.0,364.7 1843.3,363.9 1843.7,363.1 1844.0,362.3 1844.3,361.5 1844.6,360.8 1844.9,360.0 1845.2,359.2 1845.6,358.4 1845.9,357.6 1846.2,356.8 1846.5,356.0 1846.8,355.2 1847.2,354.4 1847.5,353.7 1847.8,352.9 1848.1,352.1 1848.4,351.3 1848.8,350.5 1849.1,349.7 1849.4,348.9 1849.7,348.1 1850.0,347.3 1850.4,346.6 1850.7,345.8 1851.0,345.0 1851.3,344.2 1851.6,343.4 1852.0,342.6 1852.3,341.8 1852.6,341.0 1852.9,340.3 1853.2,339.5 1853.6,338.7 1853.9,337.9 1854.2,337.1 1854.5,336.3 1854.8,335.5 1855.1,334.7 1855.5,333.9 1855.8,333.1 1856.1,332.4 1856.4,331.6 1856.7,330.8 1857.1,330.0 1857.4,329.2 1857.7,328.4 1858.0,327.6 1858.3,326.8 1858.6,326.0 1859.0,325.2 1859.3,324.5 1859.6,323.7 1859.9,322.9 1860.3,322.1 1860.6,321.3 1860.9,320.5 1861.3,319.7 1861.6,319.0 1861.9,318.2 1862.3,317.4 1862.6,316.6 1862.9,315.8 1863.3,315.1 1863.6,314.3 1864.0,313.5 1864.3,312.7 1864.6,312.0 1865.0,311.2 1865.3,310.4 1865.7,309.6 1866.1,308.9 1866.4,308.1 1866.8,307.3 1867.1,306.6 1867.5,305.8 1867.9,305.0 1868.2,304.3 1868.6,303.5 1869.0,302.7 1869.4,302.0 1869.7,301.2 1870.1,300.4 1870.5,299.7 1870.9,298.9 1871.2,298.2 1871.6,297.4 1872.0,296.6 1872.4,295.9 1872.8,295.1 1873.2,294.4 1873.5,293.6 1873.9,292.8 1874.3,292.1 1874.7,291.3 1875.1,290.6 1875.5,289.8 1875.9,289.1 1876.3,288.3 1876.7,287.5 1877.1,286.8 1877.5,286.0 1877.9,285.3 1878.3,284.5 1878.7,283.8 1879.1,283.0 1879.5,282.3 1879.9,281.5 1880.3,280.8 1880.7,280.0 1881.2,279.3 1881.6,278.6 1882.0,277.8 1882.4,277.1 1882.8,276.3 1883.2,275.6 1883.7,274.8 1884.1,274.1 1884.5,273.4 1884.9,272.6 1885.4,271.9 1885.8,271.2 1886.2,270.4 1886.6,269.7 1887.1,268.9 1887.5,268.2 1887.9,267.5 1888.4,266.8 1888.8,266.0 1889.2,265.3 1889.7,264.6 1890.1,263.8 1890.5,263.1 1891.0,262.4 1891.4,261.6 1891.8,260.9 1892.3,260.2 1892.7,259.4 1893.1,258.7 1893.6,257.9 1894.0,257.2 1894.5,256.5 1894.9,255.7 1895.3,255.0 1895.8,254.2 1896.2,253.5 1896.7,252.7 1897.1,252.0 1897.5,251.2 1898.0,250.5 1898.4,249.8 1898.9,249.0 1899.3,248.3 1899.8,247.5 1900.3,246.8 1900.7,246.1 1901.2,245.3 1901.7,244.6 1902.1,243.9 1902.6,243.2 1903.1,242.5 1903.6,241.8 1904.0,241.1 1904.5,240.4 1905.0,239.7 1905.5,239.0 1906.0,238.3 1906.5,237.6 1907.0,236.9 1907.6,236.3 1908.1,235.6 1908.6,235.0 1909.1,234.3 1909.7,233.7 1910.2,233.0 1910.7,232.4 1911.3,231.8 1911.8,231.2 1912.4,230.6 1913.0,230.0 1913.6,229.4 1914.1,228.9 1914.8,228.3 1915.4,227.7 1916.0,227.1 1916.6,226.5 1917.3,225.9 1917.9,225.4 1918.6,224.8 1919.3,224.3 1920.0,223.7 1920.7,223.2 1921.3,222.7 1922.1,222.1 1922.8,221.7 1923.5,221.2 1924.2,220.7 1924.9,220.3 1925.7,219.8 1926.4,219.4 1927.1,219.0 1927.9,218.7 1928.6,218.3 1929.4,217.9 1930.2,217.6 1930.9,217.2 1931.8,216.8 1932.6,216.5 1933.4,216.1 1934.2,215.8 1935.0,215.5 1935.9,215.2 1936.7,215.0 1937.5,214.8 1938.3,214.6 1939.1,214.5 1939.9,214.5 1940.7,214.5 1941.5,214.6 1942.3,214.8 1943.1,215.0 1943.9,215.3 1944.7,215.7 1945.5,216.1 1946.3,216.5 1947.1,216.9 1947.9,217.4 1948.7,217.8 1949.4,218.3 1950.2,218.8 1950.9,219.3 1951.6,219.7 1952.3,220.2 1952.9,220.6 1953.6,221.1 1954.3,221.6 1954.9,222.1 1955.6,222.6 1956.2,223.2 1956.8,223.7 1957.5,224.3 1958.1,224.9 1958.7,225.5 1959.3,226.1 1959.9,226.7 1960.5,227.3 1961.1,228.0 1961.7,228.6 1962.3,229.3 1962.9,229.9 1963.5,230.6 1964.0,231.2 1964.6,231.9 1965.1,232.6 1965.7,233.3 1966.2,234.0 1966.8,234.7 1967.3,235.3 1967.8,236.0 1968.3,236.7 1968.8,237.4 1969.3,238.1 1969.8,238.7 1970.3,239.4 1970.8,240.1 1971.3,240.8 1971.7,241.5 1972.2,242.2 1972.6,242.9 1973.1,243.6 1973.5,244.4 1973.9,245.1 1974.4,245.8 1974.8,246.6 1975.2,247.3 1975.6,248.1 1976.0,248.8 1976.4,249.6 1976.8,250.3 1977.2,251.1 1977.6,251.8 1978.0,252.6 1978.4,253.4 1978.8,254.1 1979.2,254.9 1979.6,255.6 1980.0,256.4 1980.4,257.2 1980.8,257.9 1981.3,258.7 1981.7,259.4 1982.1,260.1 1982.5,260.9 1982.9,261.6 1983.3,262.4 1983.7,263.1 1984.2,263.9 1984.6,264.6 1985.0,265.3 1985.4,266.1 1985.8,266.8 1986.3,267.6 1986.7,268.3 1987.1,269.0 1987.5,269.8 1987.9,270.5 1988.3,271.3 1988.7,272.0 1989.1,272.8 1989.6,273.5 1990.0,274.3 1990.4,275.0 1990.8,275.8 1991.2,276.5 1991.6,277.3 1992.0,278.0 1992.4,278.8 1992.8,279.5 1993.1,280.3 1993.5,281.0 1993.9,281.8 1994.3,282.5 1994.7,283.3 1995.0,284.1 1995.4,284.8 1995.8,285.6 1996.2,286.4 1996.5,287.1 1996.9,287.9 1997.3,288.7 1997.6,289.4 1998.0,290.2 1998.4,291.0 1998.7,291.7 1999.1,292.5 1999.5,293.3 1999.8,294.0 2000.2,294.8 2000.5,295.6 2000.9,296.4 2001.3,297.1 2001.6,297.9 2002.0,298.7 2002.4,299.4 2002.7,300.2 2003.1,301.0 2003.4,301.7 2003.8,302.5 2004.2,303.3 2004.5,304.1 2004.9,304.8 2005.3,305.6 2005.7,306.3 2006.0,307.1 2006.4,307.9 2006.8,308.6 2007.2,309.4 2007.5,310.2 2007.9,310.9 2008.3,311.7 2008.7,312.4 2009.1,313.2 2009.5,314.0 2009.8,314.7 2010.2,315.5 2010.6,316.3 2011.0,317.0 2011.3,317.8 2011.7,318.6 2012.1,319.3 2012.4,320.1 2012.8,320.9 2013.2,321.6 2013.5,322.4 2013.9,323.2 2014.2,323.9 2014.6,324.7 2014.9,325.5 2015.2,326.3 2015.6,327.1 2015.9,327.8 2016.2,328.6 2016.5,329.4 2016.9,330.2 2017.2,331.0 2017.5,331.8 2017.8,332.6 2018.1,333.4 2018.4,334.1 2018.8,334.9 2019.1,335.7 2019.4,336.5 2019.7,337.3 2020.0,338.1 2020.3,338.9 2020.6,339.7 2020.9,340.5 2021.2,341.3 2021.5,342.1 2021.8,342.9 2022.1,343.7 2022.4,344.5 2022.7,345.3 2023.0,346.1 2023.3,346.9 2023.6,347.7 2023.9,348.5 2024.2,349.3 2024.5,350.1 2024.8,350.9 2025.0,351.7 2025.3,352.5 2025.6,353.3 2025.9,354.1 2026.2,354.9 2026.5,355.7 2026.8,356.5 2027.1,357.3 2027.4,358.1 2027.7,358.9 2028.0,359.7 2028.3,360.5 2028.6,361.3 2028.9,362.0 2029.2,362.8 2029.5,363.6 2029.8,364.4 2030.1,365.2 2030.4,366.0 2030.7,366.8 2031.0,367.6 2031.3,368.4 2031.6,369.2 2031.9,370.0 2032.2,370.8 2032.5,371.6 2032.8,372.4 2033.1,373.2 2033.4,374.0 2033.7,374.8 2034.0,375.6 2034.3,376.4 2034.6,377.2 2034.9,378.0 2035.2,378.8 2035.5,379.6 2035.8,380.3 2036.1,381.1 2036.4,381.9 2036.7,382.7 2037.0,383.5 2037.3,384.3 2037.6,385.1 2037.9,385.9 2038.2,386.7 2038.5,387.5 2038.8,388.3 2039.1,389.1 2039.4,389.9 2039.7,390.7 2040.0,391.5 2040.3,392.3 2040.6,393.1 2040.9,393.9 2041.2,394.7 2041.5,395.5 2041.8,396.3 2042.1,397.1 2042.4,397.9 2042.7,398.7 2043.0,399.5 2043.3,400.2 2043.6,401.0 2043.9,401.8 2044.2,402.6 2044.5,403.4 2044.8,404.2 2045.1,405.0 2045.4,405.8 2045.7,406.6 2046.0,407.4 2046.3,408.2 2046.6,409.0 2046.9,409.8 2047.2,410.6 2047.5,411.4 2047.8,412.2 2048.1,413.0 2048.4,413.8 2048.7,414.6 2049.0,415.4 2049.3,416.2 2049.6,417.0 2049.9,417.8 2050.2,418.6 2050.5,419.4 2050.8,420.2 2051.1,421.0 2051.4,421.8 2051.7,422.6 2052.0,423.3 2052.3,424.1 2052.6,424.9 2052.9,425.7 2053.2,426.5 2053.5,427.3 2053.8,428.1 2054.1,428.9 2054.3,429.7 2054.6,430.5 2054.9,431.3 2055.2,432.1 2055.5,432.9 2055.8,433.7 2056.1,434.5 2056.4,435.3 2056.7,436.1 2057.0,436.9 2057.3,437.7 2057.6,438.5 2057.9,439.3 2058.2,440.1 2058.5,440.9 2058.8,441.7 2059.1,442.5 2059.4,443.3 2059.7,444.1 2060.0,444.9 2060.3,445.7 2060.6,446.5 2060.9,447.3 2061.2,448.1 2061.5,448.8 2061.9,449.6 2062.2,450.4 2062.5,451.2 2062.8,452.0 2063.1,452.8 2063.4,453.6 2063.7,454.4 2064.0,455.2 2064.4,456.0 2064.7,456.7 2065.0,457.5 2065.3,458.3 2065.6,459.1 2066.0,459.9 2066.3,460.7 2066.6,461.5 2066.9,462.3 2067.3,463.0 2067.6,463.8 2067.9,464.6 2068.3,465.4 2068.6,466.2 2069.0,466.9 2069.3,467.7 2069.6,468.5 2070.0,469.3 2070.3,470.0 2070.7,470.8 2071.0,471.6 2071.4,472.4 2071.7,473.1 2072.1,473.9 2072.4,474.7 2072.8,475.5 2073.1,476.2 2073.5,477.0 2073.9,477.8 2074.2,478.6 2074.6,479.3 2074.9,480.1 2075.3,480.9 2075.7,481.7 2076.0,482.4 2076.4,483.2 2076.7,484.0 2077.1,484.7 2077.4,485.5 2077.8,486.3 2078.2,487.1 2078.5,487.8 2078.9,488.6 2079.2,489.4 2079.6,490.1 2079.9,490.9 2080.3,491.7 2080.7,492.5 2081.0,493.2 2081.4,494.0 2081.7,494.8 2082.1,495.6 2082.4,496.3 2082.8,497.1 2083.1,497.9 2083.5,498.7 2083.8,499.5 2084.1,500.2 2084.5,501.0 2084.8,501.8 2085.1,502.6 2085.5,503.4 2085.8,504.1 2086.1,504.9 2086.5,505.7 2086.8,506.5 2087.1,507.3 2087.4,508.1 2087.8,508.9 2088.1,509.6 2088.4,510.4 2088.7,511.2 2089.0,512.0 2089.3,512.8 2089.6,513.6 2089.9,514.4 2090.2,515.2 2090.5,516.0 2090.8,516.8 2091.2,517.6 2091.5,518.4 2091.8,519.2 2092.1,520.0 2092.3,520.7 2092.6,521.5 2092.9,522.3 2093.2,523.1 2093.5,523.9 2093.8,524.7 2094.1,525.5 2094.4,526.3 2094.7,527.1 2095.0,527.9 2095.3,528.7 2095.6,529.5 2095.9,530.3 2096.2,531.1 2096.5,531.9 2096.8,532.7 2097.0,533.5 2097.3,534.3 2097.6,535.1 2097.9,535.9 2098.2,536.7 2098.5,537.5 2098.8,538.3 2099.1,539.1 2099.4,539.9 2099.7,540.7 2100.0,541.5 2100.3,542.3 2100.6,543.1 2100.9,543.9 2101.2,544.7 2101.5,545.5 2101.8,546.3 2102.1,547.1 2102.4,547.9 2102.7,548.7 2103.0,549.5 2103.3,550.3 2103.6,551.1 2103.9,551.8 2104.3,552.6 2104.6,553.4 2104.9,554.2 2105.2,555.0 2105.5,555.8 2105.8,556.6 2106.1,557.4 2106.5,558.2 2106.8,559.0 2107.1,559.8 2107.4,560.5 2107.7,561.3 2108.0,562.1 2108.3,562.9 2108.7,563.7 2109.0,564.5 2109.3,565.3 2109.6,566.1 2109.9,566.9 2110.3,567.6 2110.6,568.4 2110.9,569.2 2111.2,570.0 2111.5,570.8 2111.9,571.6 2112.2,572.4 2112.5,573.2 2112.8,574.0 2113.2,574.7 2113.5,575.5 2113.8,576.3 2114.1,577.1 2114.5,577.9 2114.8,578.7 2115.1,579.5 2115.4,580.2 2115.8,581.0 2116.1,581.8 2116.4,582.6 2116.8,583.4 2117.1,584.2 2117.4,584.9 2117.8,585.7 2118.1,586.5 2118.4,587.3 2118.8,588.1 2119.1,588.9 2119.4,589.6 2119.8,590.4 2120.1,591.2 2120.4,592.0 2120.8,592.8 2121.1,593.5 2121.5,594.3 2121.8,595.1 2122.2,595.9 2122.5,596.6 2122.8,597.4 2123.2,598.2 2123.5,599.0 2123.9,599.8 2124.2,600.5 2124.6,601.3 2124.9,602.1 2125.3,602.9 2125.6,603.6 2126.0,604.4 2126.3,605.2 2126.7,606.0 2127.0,606.7 2127.4,607.5 2127.7,608.3 2128.1,609.1 2128.5,609.8 2128.8,610.6 2129.2,611.4 2129.5,612.2 2129.9,612.9 2130.2,613.7 2130.6,614.5 2130.9,615.3 2131.3,616.0 2131.7,616.8 2132.0,617.6 2132.4,618.3 2132.8,619.1 2133.1,619.9 2133.5,620.7 2133.9,621.4 2134.2,622.2 2134.6,623.0 2135.0,623.7 2135.3,624.5 2135.7,625.3 2136.1,626.0 2136.4,626.8 2136.8,627.6 2137.2,628.3 2137.6,629.1 2138.0,629.9 2138.3,630.6 2138.7,631.4 2139.1,632.1 2139.5,632.9 2139.9,633.7 2140.3,634.4 2140.7,635.2 2141.1,635.9 2141.5,636.7 2141.8,637.4 2142.2,638.2 2142.6,638.9 2143.0,639.7 2143.5,640.4 2143.9,641.2 2144.3,641.9 2144.7,642.6 2145.1,643.4 2145.5,644.1 2145.9,644.9 2146.3,645.6 2146.8,646.3 2147.2,647.1 2147.6,647.8 2148.0,648.5 2148.4,649.3 2148.9,650.0 2149.3,650.8 2149.7,651.5 2150.2,652.2 2150.6,653.0 2151.0,653.7 2151.5,654.4 2151.9,655.2 2152.4,655.9 2152.8,656.6 2153.2,657.4 2153.7,658.1 2154.2,658.8 2154.6,659.6 2155.1,660.3 2155.5,661.0 2156.0,661.7 2156.4,662.5 2156.9,663.2 2157.4,663.9 2157.9,664.6 2158.3,665.3 2158.8,666.0 2159.3,666.7 2159.8,667.4 2160.3,668.1 2160.8,668.8 2161.2,669.5 2161.7,670.2 2162.2,670.9 2162.7,671.6 2163.3,672.3 2163.8,672.9 2164.3,673.6 2164.8,674.3 2165.3,674.9 2165.8,675.6 2166.4,676.2 2166.9,676.9 2167.4,677.5 2168.0,678.2 2168.5,678.8 2169.1,679.4 2169.6,680.1 2170.2,680.7 2170.8,681.3 2171.4,682.0 2171.9,682.6 2172.5,683.2 2173.1,683.8 2173.7,684.4 2174.3,685.1 2174.9,685.7 2175.6,686.3 2176.2,686.9 2176.8,687.5 2177.4,688.0 2178.1,688.6 2178.7,689.2 2179.3,689.8 2180.0,690.3 2180.6,690.9 2181.3,691.5 2181.9,692.0 2182.6,692.6 2183.2,693.1 2183.9,693.6 2184.5,694.1 2185.2,694.6 2185.9,695.2 2186.5,695.7 2187.2,696.2 2187.9,696.6 2188.6,697.1 2189.3,697.6 2190.0,698.1 2190.7,698.6 2191.4,699.0 2192.1,699.5 2192.9,699.9 2193.6,700.4 2194.3,700.8 2195.0,701.3 2195.8,701.7 2196.5,702.2 2197.2,702.6 2198.0,703.0 2198.7,703.5 2199.5,703.9 2200.2,704.3 2201.0,704.7 2201.7,705.2 2202.4,705.6 2203.2,706.0 2203.9,706.4 2204.7,706.8 2205.4,707.2 2206.2,707.6 2206.9,708.1 2207.6,708.5 2208.4,708.9 2209.1,709.3 2209.9,709.8 2210.6,710.2 2211.4,710.6 2212.1,711.0 2212.9,711.4 2213.7,711.8 2214.4,712.2 2215.2,712.6 2215.9,713.0 2216.7,713.3 2217.5,713.7 2218.3,714.0 2219.0,714.4 2219.8,714.7 2220.6,715.0 2221.4,715.3 2222.2,715.6 2223.0,715.8 2223.8,716.1 2224.6,716.3 2225.4,716.6 2226.2,716.8 2227.0,717.0 2227.8,717.3 2228.7,717.5 2229.5,717.7 2230.3,717.9 2231.2,718.1 2232.0,718.3 2232.8,718.5 2233.7,718.7 2234.5,718.9 2235.3,719.1 2236.2,719.2 2237.0,719.4 2237.8,719.6 2238.7,719.8 2239.5,719.9 2240.3,720.1 2241.2,720.2 2242.0,720.4 2242.9,720.5 2243.7,720.7 2244.5,720.8 2245.4,720.9 2246.2,721.1 2247.1,721.2 2247.9,721.3 2248.7,721.5 2249.6,721.6 2250.4,721.7 2251.3,721.8 2252.1,721.9 2253.0,722.0 2253.8,722.2 2254.6,722.3 2255.5,722.3 2256.3,722.4 2257.2,722.5 2258.0,722.6 2258.9,722.7 2259.7,722.8 2260.6,722.8 2261.4,722.9 2262.3,723.0 2263.1,723.1 2264.0,723.1 2264.8,723.2 2265.6,723.3 2266.5,723.3 2267.3,723.4 2268.2,723.4 2269.0,723.5 2269.9,723.6 2270.7,723.6 2271.6,723.7 2272.4,723.7 2273.3,723.7 2274.1,723.8 2275.0,723.8" fill="none" stroke="#0000ff" stroke-width="4.6" stroke-linejoin="round" stroke-linecap="butt" stroke-dasharray="23.0 27.0" stroke-dashoffset="4.0"/>
<rect x="1487" y="24.5" width="878" height="700.7" fill="none" stroke="#000" stroke-width="3.2"/>
<line x1="1543.2" y1="706" x2="1543.2" y2="725" stroke="#000" stroke-width="3"/>
<text x="1541.2" y="781" font-size="44.3" text-anchor="middle" >3.0</text>
<line x1="1646.0" y1="706" x2="1646.0" y2="725" stroke="#000" stroke-width="3"/>
<text x="1643.7" y="781" font-size="44.3" text-anchor="middle" >3.5</text>
<line x1="1748.7" y1="706" x2="1748.7" y2="725" stroke="#000" stroke-width="3"/>
<text x="1747.4" y="781" font-size="44.3" text-anchor="middle" >4.0</text>
<line x1="1851.5" y1="706" x2="1851.5" y2="725" stroke="#000" stroke-width="3"/>
<text x="1848.7" y="781" font-size="44.3" text-anchor="middle" >4.5</text>
<line x1="1954.2" y1="706" x2="1954.2" y2="725" stroke="#000" stroke-width="3"/>
<text x="1955.8" y="781" font-size="44.3" text-anchor="middle" >5.0</text>
<line x1="2056.9" y1="706" x2="2056.9" y2="725" stroke="#000" stroke-width="3"/>
<text x="2057.1" y="781" font-size="44.3" text-anchor="middle" >5.5</text>
<line x1="2159.7" y1="706" x2="2159.7" y2="725" stroke="#000" stroke-width="3"/>
<text x="2159.7" y="781" font-size="44.3" text-anchor="middle" >6.0</text>
<line x1="2262.4" y1="706" x2="2262.4" y2="725" stroke="#000" stroke-width="3"/>
<text x="2261.2" y="781" font-size="44.3" text-anchor="middle" >6.5</text>
<text x="2364.4" y="781" font-size="44.3" text-anchor="middle" >7.0</text>
<text x="1467.3" y="39.4" font-size="44.3" text-anchor="end" >1.0</text>
<line x1="1487" y1="164.5" x2="1507" y2="164.5" stroke="#000" stroke-width="3"/>
<text x="1467.3" y="179.4" font-size="44.3" text-anchor="end" >0.8</text>
<line x1="1487" y1="304.5" x2="1507" y2="304.5" stroke="#000" stroke-width="3"/>
<text x="1467.3" y="319.4" font-size="44.3" text-anchor="end" >0.6</text>
<line x1="1487" y1="444.5" x2="1507" y2="444.5" stroke="#000" stroke-width="3"/>
<text x="1467.3" y="459.4" font-size="44.3" text-anchor="end" >0.4</text>
<line x1="1487" y1="584.5" x2="1507" y2="584.5" stroke="#000" stroke-width="3"/>
<text x="1467.3" y="599.4" font-size="44.3" text-anchor="end" >0.2</text>
<text x="1467.3" y="739.4" font-size="44.3" text-anchor="end" >0</text>
<text x="1509.5" y="70.5" font-size="45" text-anchor="start" >(B)</text>
<text x="2054" y="72.6" font-size="44.3"><tspan font-style="italic">a</tspan>. 3 °C, <tspan dx="6">1</tspan> min</text>
<text x="2054" y="116.8" font-size="44.3"><tspan font-style="italic">b</tspan>. 24 °C, 1 min</text>
<text x="2054" y="161.0" font-size="44.3"><tspan font-style="italic">c</tspan>. 100 °C, 1 min</text>
<text x="2054" y="205.2" font-size="44.3"><tspan font-style="italic">d</tspan>. 3 °C, 5 min</text>
<text x="2054" y="249.4" font-size="44.3"><tspan font-style="italic">e</tspan>. 24 °C, 5 min</text>
<text x="2055" y="293.6" font-size="44.3"><tspan font-style="italic">f</tspan>. 100 °C, 5 min</text>
<text x="1884" y="160" font-size="44.3" text-anchor="start" font-style="italic" >c</text>
<text x="1817" y="203" font-size="44.3" text-anchor="start" font-style="italic" >f</text>
<text x="1780.5" y="255" font-size="44.3" text-anchor="start" font-style="italic" >a</text>
<text x="1770.5" y="309.5" font-size="44.3" text-anchor="start" font-style="italic" >b</text>
<text x="1958" y="385" font-size="44.3" text-anchor="start" font-style="italic" >e</text>
<text x="2144.5" y="407" font-size="44.3" text-anchor="start" font-style="italic" >d</text>
<line x1="1841.7" y1="198.6" x2="1920" y2="223.5" stroke="#000" stroke-width="2.6"/>
<line x1="1817.8" y1="239.7" x2="1912.6" y2="252.9" stroke="#000" stroke-width="2.6"/>
<line x1="1799.9" y1="292.8" x2="1915.8" y2="276.4" stroke="#000" stroke-width="2.6"/>
<line x1="2079.8" y1="419.7" x2="2130.5" y2="401.3" stroke="#000" stroke-width="2.6"/>
<text x="1911" y="841" font-size="44.3">lg<tspan font-style="italic">M</tspan><tspan font-size="27" dy="1">w</tspan></text>
<line x1="1952" y1="805" x2="1985" y2="805" stroke="#000" stroke-width="2.5"/>
<g transform="translate(1373,460) rotate(-90)"><text x="0" y="0" font-size="44.3">d<tspan font-style="italic">w</tspan>/dlg<tspan font-style="italic">M</tspan><tspan font-size="27" dy="1">w</tspan></text><line x1="124.5" y1="-42.3" x2="160.5" y2="-42.3" stroke="#000" stroke-width="2.5"/></g>
</g>
</svg>
</body></html>
